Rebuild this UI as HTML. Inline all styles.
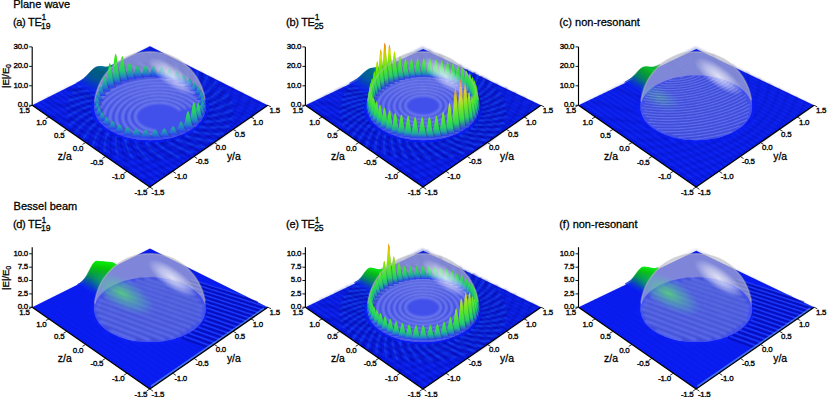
<!DOCTYPE html>
<html><head><meta charset="utf-8"><style>html,body{margin:0;padding:0;background:#fff;}svg{display:block;font-family:"Liberation Sans",sans-serif}text{stroke:#000;stroke-width:.28px}.t{font-size:7.9px;letter-spacing:-0.25px;stroke-width:.34px}.ax{font-size:10.4px}.ti{font-size:11px}</style></head>
<body><svg width="827" height="397" viewBox="0 0 827 397">
<defs><filter id="bl" x="-5%" y="-5%" width="110%" height="110%"><feGaussianBlur stdDeviation="0.7"/></filter><filter id="bl2" x="-5%" y="-5%" width="110%" height="110%"><feGaussianBlur stdDeviation="1.1"/></filter><path id="spa" d="M150.9,-25.3 152,-26.6 153.1,-27.8 154.2,-29.1 155.2,-30.4 156.1,-31.7 157.1,-32.9 157.9,-34.2 158.8,-35.5 159.6,-36.8 M143.1,-27.9 143.9,-29.3 144.6,-30.6 145.2,-31.9 145.8,-33.3 146.4,-34.6 147,-36 147.4,-37.3 147.9,-38.6 148.3,-39.9 148.7,-41.3 149,-42.6 M134.8,-29.8 135.1,-31.2 135.4,-32.6 135.7,-33.9 135.9,-35.3 136.1,-36.7 136.3,-38 136.4,-39.4 136.4,-40.7 136.5,-42.1 136.5,-43.4 136.4,-44.7 136.3,-46 136.2,-47.3 136.1,-48.6 M126.1,-30.9 126,-32.3 125.9,-33.7 125.8,-35.1 125.6,-36.5 125.4,-37.8 125.2,-39.2 124.9,-40.5 124.6,-41.8 124.3,-43.1 123.9,-44.5 123.5,-45.8 123,-47 122.5,-48.3 122,-49.6 121.5,-50.9 120.9,-52.1 120.3,-53.3 119.6,-54.6 118.9,-55.8 118.2,-57 117.5,-58.2 M117.2,-31.3 116.7,-32.6 116.2,-34 115.7,-35.3 115.2,-36.7 114.6,-38 114,-39.3 113.3,-40.6 112.6,-41.9 111.9,-43.2 111.2,-44.4 110.4,-45.7 109.6,-46.9 108.7,-48.1 107.9,-49.4 107,-50.5 106,-51.7 M108.3,-30.8 107.5,-32.1 106.6,-33.4 105.7,-34.7 104.8,-36 103.8,-37.3 102.8,-38.5 101.8,-39.7 100.8,-40.9 99.7,-42.1 98.6,-43.3 97.5,-44.5 96.3,-45.6 95.1,-46.8 M99.6,-29.6 98.4,-30.8 97.2,-32 95.9,-33.2 94.6,-34.4 93.3,-35.6 92,-36.7 90.6,-37.8 89.2,-39 87.8,-40.1 86.4,-41.1 84.9,-42.2 M91.3,-27.6 89.8,-28.7 88.2,-29.8 86.6,-30.9 85,-31.9 83.3,-33 81.7,-34 80,-35 78.3,-36 76.5,-36.9 M83.6,-24.9 81.7,-25.8 79.8,-26.8 77.9,-27.7 76,-28.6 74,-29.5 72.1,-30.4 70.1,-31.2 68.1,-32 66,-32.9 M76.7,-21.5 74.5,-22.2 72.3,-23 70.1,-23.8 67.9,-24.5 65.7,-25.2 63.5,-25.9 61.2,-26.6 58.9,-27.2 56.6,-27.8 M70.6,-17.4 68.2,-18 65.8,-18.6 63.4,-19.1 61,-19.6 58.5,-20.1 56,-20.6 53.5,-21.1 51,-21.5 48.5,-21.9 46,-22.3 M65.8,-12.8 63.2,-13.2 60.5,-13.5 57.9,-13.8 55.3,-14.1 52.7,-14.4 50,-14.7 47.3,-14.9 44.7,-15.1 42,-15.3 39.3,-15.4 36.6,-15.6 33.9,-15.7 M62.1,-7.8 59.4,-7.9 56.7,-8 53.9,-8.1 51.1,-8.1 48.4,-8.1 45.6,-8.1 42.8,-8.1 40,-8.1 37.2,-8 34.4,-7.9 31.6,-7.8 28.8,-7.6 26,-7.5 23.1,-7.3 20.3,-7.1 17.4,-6.8 14.6,-6.6 M59.9,-2.4 57.1,-2.3 54.3,-2.1 51.5,-1.9 48.7,-1.7 45.8,-1.4 43,-1.2 40.2,-.9 37.3,-.5 34.5,-.2 31.7,.2 28.8,.6 25.9,1 23.1,1.4 20.2,1.9 17.3,2.4 14.5,2.9 11.6,3.4 8.7,4 M59.2,3.2 56.4,3.6 53.6,4.1 50.8,4.5 48,5 45.2,5.5 42.4,6.1 39.6,6.7 36.8,7.3 34,7.9 31.2,8.5 28.3,9.2 25.5,9.9 22.7,10.7 19.9,11.4 M60.2,8.8 57.4,9.5 54.7,10.3 52,11 49.3,11.8 46.6,12.6 43.9,13.4 41.2,14.3 38.5,15.2 35.8,16.1 33.1,17 30.4,18 27.7,19 M62.7,14.4 60.2,15.4 57.7,16.4 55.1,17.4 52.6,18.4 50.1,19.5 47.5,20.6 45,21.8 42.5,22.9 40,24.1 37.6,25.3 M67,19.7 64.7,20.9 62.4,22.2 60.1,23.5 57.8,24.8 55.6,26.1 53.4,27.5 51.1,28.9 48.9,30.3 46.7,31.7 M72.7,24.5 70.8,26 68.8,27.5 66.9,29 65,30.5 63.1,32.1 61.2,33.7 59.4,35.3 57.6,37 55.8,38.7 M79.9,28.8 78.4,30.4 76.9,32.1 75.4,33.8 73.9,35.5 72.4,37.3 71,39.1 69.6,40.9 68.3,42.8 66.9,44.6 M88.4,32.2 87.3,34 86.3,35.9 85.2,37.7 84.3,39.6 83.3,41.5 82.4,43.4 81.5,45.4 80.7,47.4 79.9,49.4 79.1,51.4 78.4,53.5 M97.8,34.8 97.3,36.7 96.7,38.6 96.3,40.5 95.8,42.5 95.4,44.5 95.1,46.5 94.7,48.5 94.5,50.6 94.2,52.7 94.1,54.8 93.9,56.9 93.8,59.1 93.8,61.2 93.8,63.4 M107.9,36.3 107.9,38.3 107.9,40.2 108,42.2 108.1,44.2 108.3,46.2 108.5,48.2 108.8,50.3 109.1,52.3 109.5,54.4 109.9,56.5 110.4,58.6 110.9,60.8 111.5,62.9 112.1,65.1 112.8,67.3 113.5,69.5 114.3,71.7 115.1,73.9 116.1,76.2 117,78.4 118,80.7 M118.4,36.8 118.9,38.7 119.5,40.6 120.1,42.6 120.8,44.5 121.5,46.5 122.3,48.5 123.2,50.4 124.1,52.4 125,54.4 126,56.5 127.1,58.5 128.2,60.5 129.4,62.6 130.6,64.7 131.9,66.7 133.3,68.8 M128.8,36.2 129.8,38 131,39.8 132.1,41.7 133.4,43.5 134.6,45.4 136,47.2 137.4,49.1 138.8,51 140.3,52.8 141.9,54.7 143.5,56.6 145.1,58.5 146.9,60.3 M138.8,34.5 140.4,36.2 142,37.9 143.7,39.5 145.4,41.2 147.1,42.9 149,44.6 150.8,46.3 152.8,47.9 154.7,49.6 156.8,51.3 158.9,52.9 M148.2,31.8 150.1,33.3 152.2,34.8 154.3,36.3 156.4,37.7 158.6,39.2 160.8,40.6 163.1,42.1 165.4,43.5 167.8,44.9 M156.5,28.3 158.8,29.5 161.2,30.7 163.6,32 166.1,33.2 168.6,34.4 171.2,35.6 173.8,36.7 176.4,37.9 179.1,39 M163.5,23.9 166.1,24.9 168.8,25.9 171.5,26.8 174.2,27.8 176.9,28.7 179.7,29.6 182.5,30.5 185.4,31.3 188.3,32.1 M169.1,19 171.9,19.7 174.7,20.4 177.6,21.1 180.4,21.7 183.3,22.3 186.2,22.9 189.2,23.5 192.1,24 195.1,24.5 198.1,25 M173.1,13.7 176,14.1 178.9,14.5 181.8,14.8 184.7,15.2 187.7,15.5 190.6,15.8 193.6,16.1 196.5,16.3 199.5,16.5 202.5,16.7 205.5,16.9 208.5,17 M175.5,8.1 178.4,8.2 181.3,8.3 184.2,8.4 187,8.4 189.9,8.5 192.8,8.5 195.7,8.4 198.6,8.4 201.5,8.3 204.4,8.2 207.2,8.1 210.1,7.9 213,7.8 215.8,7.6 218.7,7.3 221.5,7.1 224.4,6.8 M176.2,2.4 179,2.3 181.8,2.1 184.6,1.9 187.4,1.7 190.1,1.4 192.9,1.2 195.6,.9 198.4,.5 201.1,.2 203.8,-.2 206.5,-.6 209.2,-1 211.8,-1.4 214.5,-1.9 217.1,-2.4 219.7,-2.9 222.3,-3.4 224.8,-3.9 M175.4,-3.1 178,-3.5 180.6,-4 183.2,-4.4 185.8,-4.9 188.4,-5.4 190.9,-5.9 193.5,-6.5 196,-7 198.5,-7.6 200.9,-8.2 203.4,-8.8 205.8,-9.5 208.2,-10.2 210.6,-10.8 M173,-8.5 175.4,-9.1 177.8,-9.8 180.2,-10.5 182.5,-11.2 184.8,-11.9 187.1,-12.6 189.4,-13.4 191.6,-14.2 193.8,-14.9 196,-15.8 198.2,-16.6 200.3,-17.4 M169.2,-13.5 171.3,-14.3 173.4,-15.2 175.5,-16.1 177.6,-17 179.6,-17.9 181.6,-18.8 183.6,-19.7 185.5,-20.7 187.4,-21.6 189.2,-22.6 M164.1,-18 166,-19 167.8,-20.1 169.5,-21.1 171.3,-22.1 173,-23.2 174.6,-24.3 176.2,-25.4 177.8,-26.5 179.4,-27.6 M158,-22 159.5,-23.1 160.9,-24.3 162.4,-25.5 163.7,-26.6 165.1,-27.8 166.4,-29 167.6,-30.2 168.8,-31.4 170,-32.6"/><path id="sqa" d="M154.7,-24.1 155.4,-26.4 155.8,-28.8 155.9,-31.1 155.7,-33.5 155.3,-35.9 154.6,-38.3 M147.1,-27.1 147.1,-29.4 146.9,-31.8 146.3,-34.1 145.5,-36.4 144.4,-38.7 143,-41 M138.9,-29.4 138.3,-31.6 137.3,-33.9 136.1,-36.2 134.7,-38.4 133,-40.6 131,-42.7 M130.3,-30.9 129,-33 127.4,-35.2 125.6,-37.3 123.5,-39.4 121.2,-41.4 118.7,-43.3 M121.3,-31.6 119.4,-33.6 117.3,-35.6 114.9,-37.5 112.3,-39.4 109.4,-41.1 106.4,-42.8 M112.3,-31.5 109.9,-33.3 107.2,-35.1 104.3,-36.8 101.2,-38.4 97.8,-39.9 94.3,-41.3 M103.4,-30.6 100.5,-32.2 97.3,-33.7 93.9,-35.2 90.3,-36.5 86.6,-37.7 82.6,-38.8 M94.8,-28.9 91.4,-30.3 87.8,-31.5 84,-32.6 80.1,-33.6 76,-34.5 71.7,-35.2 M86.7,-26.5 82.9,-27.5 79,-28.4 74.9,-29.2 70.6,-29.8 66.2,-30.3 61.6,-30.7 M79.3,-23.4 75.2,-24.1 71,-24.6 66.6,-25 62.1,-25.2 57.5,-25.3 52.8,-25.3 M72.8,-19.6 68.4,-19.9 64,-20 59.5,-20 54.8,-19.8 50.1,-19.5 45.4,-19 M67.3,-15.2 62.8,-15.1 58.3,-14.8 53.7,-14.4 49,-13.8 44.3,-13 39.6,-12.1 M63,-10.3 58.5,-9.8 54,-9.1 49.4,-8.2 44.9,-7.1 40.3,-5.9 35.7,-4.5 M60.1,-5 55.7,-4 51.3,-2.9 46.9,-1.6 42.6,-.1 38.2,1.6 34,3.4 M58.6,.6 54.5,2 50.3,3.5 46.3,5.3 42.3,7.2 38.3,9.3 34.5,11.6 M58.8,6.3 55,8.1 51.2,10.1 47.6,12.2 44.1,14.6 40.7,17.1 37.4,19.8 M60.6,12 57.3,14.2 54,16.5 51,19.1 48,21.7 45.3,24.6 42.8,27.6 M64.1,17.5 61.4,20 58.8,22.7 56.4,25.5 54.2,28.5 52.2,31.7 50.5,35 M69.3,22.7 67.2,25.4 65.3,28.4 63.7,31.5 62.4,34.7 61.3,38 60.6,41.5 M75.9,27.2 74.6,30.2 73.6,33.4 72.9,36.6 72.4,39.9 72.3,43.4 72.6,46.9 M83.9,31.1 83.5,34.2 83.4,37.5 83.5,40.7 84.1,44.1 85,47.6 86.2,51.1 M93,34.2 93.5,37.3 94.3,40.5 95.4,43.7 96.9,47 98.8,50.3 101.1,53.7 M103,36.2 104.3,39.3 106,42.3 108.1,45.4 110.5,48.5 113.3,51.6 116.5,54.6 M113.5,37.2 115.7,40.1 118.2,42.9 121.1,45.8 124.4,48.5 128,51.3 132,53.9 M124.1,37.1 127.1,39.7 130.4,42.2 134,44.7 138,47.1 142.3,49.4 147,51.6 M134.5,35.9 138.1,38.1 142.1,40.3 146.4,42.3 150.9,44.2 155.7,46 160.9,47.7 M144.3,33.6 148.5,35.4 152.9,37.1 157.7,38.7 162.6,40.1 167.8,41.3 173.2,42.4 M153.2,30.4 157.8,31.8 162.6,33 167.6,34 172.7,34.8 178.1,35.5 183.5,36 M161,26.3 165.8,27.2 170.7,27.9 175.8,28.4 181,28.7 186.3,28.8 191.7,28.8 M167.3,21.6 172.2,22 177.2,22.2 182.2,22.2 187.3,21.9 192.3,21.5 197.4,20.9 M172.2,16.4 176.9,16.3 181.7,16 186.5,15.5 191.3,14.8 196,13.9 200.7,12.8 M175.3,10.8 179.9,10.2 184.4,9.5 188.8,8.5 193.2,7.4 197.5,6.1 201.6,4.6 M176.8,5.1 181,4.1 185.1,2.9 189.1,1.6 193,.1 196.7,-1.6 200.2,-3.4 M176.7,-.6 180.4,-2 184,-3.5 187.5,-5.2 190.7,-7 193.8,-8.9 196.6,-11 M174.9,-6.1 178.2,-7.8 181.2,-9.6 184,-11.6 186.6,-13.6 189,-15.8 191.1,-18.1 M171.7,-11.4 174.4,-13.3 176.8,-15.3 178.9,-17.5 180.9,-19.7 182.5,-22 183.9,-24.4 M167.2,-16.2 169.2,-18.3 170.9,-20.5 172.4,-22.8 173.6,-25.1 174.6,-27.5 175.3,-30 M161.4,-20.4 162.8,-22.7 163.9,-25 164.7,-27.3 165.2,-29.7 165.4,-32.2 165.4,-34.6"/><path id="sra" d="M151,-25.7 151.3,-28 151.4,-30.4 151.2,-32.7 150.7,-35.1 149.9,-37.5 148.9,-39.8 M143.1,-28.3 142.8,-30.6 142.2,-32.9 141.3,-35.2 140.1,-37.5 138.7,-39.8 137,-42 M134.6,-30.2 133.7,-32.4 132.4,-34.7 130.9,-36.8 129.1,-39 127.1,-41.1 124.8,-43.1 M125.8,-31.3 124.2,-33.4 122.4,-35.5 120.3,-37.5 117.9,-39.5 115.3,-41.4 112.5,-43.2 M116.8,-31.6 114.6,-33.6 112.2,-35.5 109.6,-37.3 106.7,-39 103.6,-40.7 100.3,-42.2 M107.8,-31.1 105.1,-32.9 102.2,-34.5 99.1,-36.1 95.7,-37.6 92.1,-38.9 88.4,-40.2 M99.1,-29.9 95.9,-31.4 92.5,-32.7 88.9,-34 85.1,-35.2 81.2,-36.2 77,-37.1 M90.7,-27.8 87.1,-29 83.3,-30.1 79.4,-31 75.2,-31.8 70.9,-32.5 66.5,-33.1 M82.9,-25 79,-25.9 74.9,-26.6 70.6,-27.2 66.2,-27.6 61.7,-27.9 57.1,-28.1 M75.9,-21.6 71.7,-22 67.3,-22.4 62.9,-22.6 58.3,-22.6 53.6,-22.5 48.9,-22.2 M69.9,-17.5 65.5,-17.5 61,-17.5 56.4,-17.3 51.7,-16.9 47,-16.3 42.3,-15.6 M65,-12.8 60.5,-12.5 55.9,-12 51.4,-11.3 46.7,-10.5 42.1,-9.5 37.4,-8.3 M61.3,-7.7 56.9,-6.9 52.4,-6 48,-4.9 43.5,-3.7 39,-2.2 34.6,-.6 M59.2,-2.2 54.9,-1 50.6,.3 46.3,1.8 42.1,3.5 38,5.4 33.9,7.5 M58.5,3.4 54.5,5 50.5,6.8 46.7,8.8 42.9,10.9 39.2,13.2 35.7,15.7 M59.5,9.2 55.9,11.2 52.4,13.3 49,15.7 45.8,18.2 42.7,20.9 39.8,23.7 M62.2,14.8 59.1,17.1 56.2,19.7 53.4,22.4 50.8,25.2 48.5,28.2 46.4,31.4 M66.5,20.1 64.1,22.8 61.8,25.6 59.8,28.6 58,31.7 56.5,35 55.3,38.4 M72.4,25 70.7,27.9 69.3,31 68.1,34.1 67.2,37.4 66.6,40.8 66.3,44.4 M79.8,29.3 78.9,32.4 78.3,35.5 78,38.8 78.1,42.2 78.5,45.6 79.2,49.2 M88.4,32.8 88.4,35.9 88.7,39.1 89.4,42.4 90.4,45.7 91.8,49.1 93.5,52.6 M97.9,35.3 98.8,38.4 100.1,41.6 101.7,44.7 103.7,47.9 106,51.2 108.7,54.4 M108.2,36.8 110,39.8 112.1,42.8 114.6,45.8 117.5,48.7 120.7,51.6 124.3,54.5 M118.8,37.3 121.4,40 124.3,42.7 127.6,45.4 131.3,48 135.3,50.5 139.6,52.9 M129.3,36.6 132.7,39 136.3,41.4 140.3,43.7 144.6,45.8 149.2,47.9 154.1,49.8 M139.5,34.9 143.4,36.9 147.6,38.8 152.2,40.6 156.9,42.3 162,43.8 167.2,45.2 M148.9,32.1 153.3,33.7 157.9,35.2 162.8,36.5 167.9,37.6 173.2,38.6 178.6,39.3 M157.3,28.5 162,29.6 166.9,30.5 171.9,31.3 177.1,31.9 182.5,32.3 187.9,32.5 M164.4,24.1 169.2,24.7 174.2,25.1 179.3,25.3 184.4,25.4 189.6,25.3 194.8,24.9 M170,19.1 174.8,19.2 179.7,19.1 184.6,18.8 189.6,18.4 194.5,17.7 199.4,16.9 M174,13.6 178.6,13.3 183.3,12.7 187.9,12 192.5,11.1 197,10 201.4,8.7 M176.3,8 180.7,7.2 185,6.2 189.2,5.1 193.4,3.7 197.3,2.2 201.2,.6 M176.9,2.2 180.9,1.1 184.8,-.3 188.5,-1.8 192.1,-3.5 195.5,-5.3 198.7,-7.3 M176,-3.4 179.5,-4.9 182.8,-6.6 186,-8.4 188.9,-10.4 191.6,-12.4 194.1,-14.6 M173.5,-8.8 176.4,-10.6 179.2,-12.5 181.7,-14.6 183.9,-16.7 186,-19 187.7,-21.3 M169.6,-13.8 171.9,-15.9 174,-18 175.8,-20.2 177.4,-22.5 178.7,-24.9 179.8,-27.3 M164.4,-18.4 166.1,-20.6 167.5,-22.8 168.7,-25.2 169.6,-27.5 170.2,-30 170.5,-32.4 M158.2,-22.4 159.2,-24.6 159.9,-27 160.4,-29.4 160.6,-31.8 160.5,-34.2 160.1,-36.6"/><path id="spb" d="M153.4,-24.3 154.6,-25.5 155.8,-26.7 157,-28 158.1,-29.2 159.2,-30.5 160.2,-31.7 161.3,-33 162.2,-34.3 163.1,-35.5 M147.7,-26.5 148.6,-27.8 149.5,-29.1 150.4,-30.4 151.3,-31.7 152.1,-33 152.8,-34.3 153.5,-35.6 154.2,-37 154.8,-38.3 155.4,-39.6 M141.6,-28.3 142.3,-29.7 142.9,-31 143.5,-32.4 144,-33.7 144.5,-35.1 145,-36.4 145.4,-37.8 145.8,-39.1 146.1,-40.4 146.4,-41.7 146.7,-43.1 M135.2,-29.7 135.6,-31.1 135.9,-32.5 136.2,-33.9 136.4,-35.2 136.6,-36.6 136.8,-38 136.9,-39.3 137,-40.6 137.1,-42 137.1,-43.3 137.1,-44.6 137,-46 136.9,-47.3 136.8,-48.6 M128.6,-30.7 128.7,-32.1 128.7,-33.5 128.7,-34.8 128.6,-36.2 128.6,-37.6 128.4,-38.9 128.3,-40.3 128.1,-41.6 127.8,-42.9 127.6,-44.3 127.3,-45.6 126.9,-46.9 126.5,-48.2 126.1,-49.4 125.7,-50.7 125.2,-52 124.7,-53.2 124.1,-54.5 123.6,-55.7 M121.9,-31.2 121.7,-32.6 121.4,-34 121.1,-35.3 120.7,-36.7 120.3,-38 119.9,-39.4 119.5,-40.7 119,-42 118.5,-43.3 117.9,-44.6 117.3,-45.9 116.7,-47.1 116.1,-48.4 115.4,-49.6 114.7,-50.9 113.9,-52.1 113.1,-53.3 112.3,-54.5 M115.1,-31.2 114.6,-32.6 114,-33.9 113.4,-35.3 112.8,-36.6 112.1,-37.9 111.4,-39.2 110.7,-40.5 109.9,-41.8 109.1,-43 108.3,-44.3 107.4,-45.5 106.5,-46.7 105.6,-47.9 104.6,-49.1 103.7,-50.3 M108.4,-30.8 107.6,-32.2 106.7,-33.5 105.8,-34.7 104.9,-36 103.9,-37.3 103,-38.5 101.9,-39.7 100.9,-41 99.8,-42.2 98.7,-43.3 97.6,-44.5 96.5,-45.7 95.3,-46.8 M101.8,-30 100.6,-31.2 99.5,-32.5 98.3,-33.7 97.1,-34.9 95.9,-36.1 94.7,-37.3 93.4,-38.4 92.1,-39.5 90.8,-40.7 89.4,-41.8 88,-42.9 M95.3,-28.7 93.9,-29.8 92.5,-31 91.1,-32.1 89.6,-33.3 88.2,-34.4 86.7,-35.4 85.1,-36.5 83.6,-37.6 82,-38.6 80.4,-39.6 M89.2,-26.9 87.5,-28 85.9,-29.1 84.2,-30.1 82.5,-31.1 80.8,-32.1 79,-33.1 77.2,-34.1 75.4,-35 73.6,-35.9 M83.4,-24.8 81.5,-25.7 79.6,-26.7 77.7,-27.6 75.8,-28.5 73.8,-29.4 71.8,-30.2 69.8,-31.1 67.8,-31.9 65.8,-32.7 M78.1,-22.2 76,-23.1 73.8,-23.9 71.7,-24.7 69.5,-25.4 67.4,-26.2 65.2,-26.9 63,-27.6 60.8,-28.3 58.5,-29 M73.2,-19.3 70.9,-20 68.6,-20.7 66.3,-21.3 63.9,-21.9 61.6,-22.5 59.2,-23.1 56.8,-23.6 54.4,-24.2 52,-24.7 M69,-16.1 66.5,-16.6 64.1,-17.1 61.6,-17.6 59.1,-18 56.5,-18.4 54,-18.9 51.5,-19.2 48.9,-19.6 46.3,-20 43.7,-20.3 M65.5,-12.5 62.8,-12.8 60.2,-13.2 57.6,-13.5 55,-13.7 52.3,-14 49.6,-14.2 47,-14.4 44.3,-14.6 41.6,-14.8 38.9,-14.9 36.2,-15.1 33.5,-15.2 30.7,-15.2 M62.7,-8.7 59.9,-8.8 57.2,-9 54.5,-9.1 51.7,-9.2 49,-9.2 46.2,-9.3 43.5,-9.3 40.7,-9.3 37.9,-9.3 35.1,-9.2 32.3,-9.2 29.5,-9.1 26.7,-8.9 23.9,-8.8 21,-8.6 18.2,-8.4 M60.6,-4.7 57.9,-4.6 55.1,-4.6 52.3,-4.5 49.5,-4.4 46.7,-4.2 43.9,-4.1 41,-3.9 38.2,-3.7 35.4,-3.5 32.5,-3.2 29.7,-2.9 26.8,-2.6 24,-2.3 21.1,-1.9 18.2,-1.6 15.4,-1.2 12.5,-.7 9.6,-.3 6.7,.2 3.8,.7 M59.5,-.5 56.7,-.2 53.9,0 51.1,.3 48.2,.6 45.4,1 42.6,1.4 39.7,1.7 36.9,2.2 34.1,2.6 31.2,3.1 28.4,3.6 25.5,4.1 22.6,4.6 19.8,5.2 16.9,5.8 14,6.4 11.2,7 M59.3,3.8 56.5,4.3 53.7,4.7 50.9,5.2 48.1,5.8 45.3,6.3 42.5,6.9 39.7,7.5 36.9,8.1 34.1,8.8 31.2,9.5 28.4,10.2 25.6,10.9 22.8,11.7 20,12.5 M60,8.1 57.2,8.8 54.5,9.5 51.8,10.2 49,10.9 46.3,11.7 43.6,12.5 40.9,13.3 38.1,14.1 35.4,15 32.7,15.9 30,16.8 27.3,17.8 M61.6,12.4 59,13.2 56.4,14.1 53.7,15.1 51.1,16 48.5,17 45.9,18 43.3,19 40.8,20.1 38.2,21.2 35.6,22.3 M64.2,16.5 61.7,17.6 59.3,18.7 56.8,19.8 54.4,21 52,22.1 49.6,23.3 47.1,24.6 44.7,25.9 42.4,27.2 M67.7,20.4 65.5,21.7 63.2,23 61,24.3 58.8,25.7 56.6,27 54.4,28.4 52.2,29.9 50.1,31.3 47.9,32.8 M72.1,24.1 70.1,25.6 68.2,27 66.2,28.5 64.3,30 62.3,31.6 60.4,33.2 58.6,34.8 56.7,36.4 54.8,38.1 M77.4,27.4 75.7,29 74,30.7 72.4,32.3 70.8,34 69.2,35.7 67.6,37.4 66,39.2 64.5,41 63,42.8 M83.4,30.3 82.1,32.1 80.7,33.8 79.4,35.6 78.2,37.4 76.9,39.2 75.7,41.1 74.5,43 73.4,44.9 72.3,46.8 71.2,48.8 M90.1,32.8 89.1,34.6 88.2,36.5 87.2,38.3 86.4,40.2 85.5,42.2 84.7,44.1 83.9,46.1 83.2,48.1 82.5,50.1 81.8,52.2 81.2,54.3 M97.3,34.7 96.7,36.6 96.2,38.5 95.7,40.4 95.2,42.4 94.8,44.4 94.4,46.4 94,48.4 93.7,50.5 93.5,52.6 93.3,54.7 93.1,56.8 93,58.9 92.9,61.1 92.9,63.3 M104.9,36 104.8,37.9 104.6,39.9 104.5,41.8 104.5,43.8 104.5,45.8 104.5,47.9 104.6,49.9 104.8,52 105,54.1 105.2,56.2 105.5,58.3 105.9,60.5 106.3,62.6 106.7,64.8 107.2,67 107.8,69.2 108.4,71.5 109,73.7 109.7,76 M112.8,36.7 113,38.6 113.3,40.6 113.7,42.5 114.1,44.5 114.5,46.5 115,48.5 115.5,50.5 116.1,52.6 116.8,54.6 117.5,56.7 118.2,58.8 119,60.9 119.9,63 120.8,65.1 121.8,67.3 122.8,69.4 123.9,71.6 125,73.8 M120.8,36.8 121.4,38.6 122.1,40.6 122.9,42.5 123.7,44.4 124.6,46.3 125.5,48.3 126.5,50.3 127.5,52.2 128.6,54.2 129.7,56.2 130.9,58.2 132.1,60.2 133.5,62.3 134.8,64.3 136.2,66.3 M128.7,36.2 129.7,38 130.8,39.9 132,41.7 133.2,43.5 134.5,45.4 135.8,47.2 137.2,49.1 138.6,51 140.1,52.8 141.7,54.7 143.3,56.6 145,58.5 146.7,60.4 M136.4,35 137.8,36.7 139.3,38.5 140.8,40.2 142.4,41.9 144.1,43.6 145.8,45.4 147.5,47.1 149.4,48.8 151.2,50.6 153.1,52.3 155.1,54 M143.7,33.3 145.5,34.8 147.3,36.4 149.2,38 151.1,39.6 153.1,41.2 155.2,42.7 157.2,44.3 159.4,45.8 161.6,47.4 163.8,48.9 M150.5,30.9 152.6,32.4 154.7,33.8 156.9,35.2 159.1,36.6 161.4,38 163.8,39.4 166.1,40.7 168.6,42.1 171,43.5 M156.7,28.1 159,29.4 161.4,30.6 163.9,31.8 166.4,33 168.9,34.2 171.4,35.4 174.1,36.6 176.7,37.7 179.4,38.8 M162.1,24.9 164.7,25.9 167.3,27 169.9,28 172.6,29 175.3,29.9 178.1,30.9 180.9,31.8 183.7,32.8 186.5,33.7 M166.8,21.3 169.5,22.1 172.2,22.9 175,23.7 177.8,24.5 180.7,25.3 183.6,26 186.5,26.7 189.4,27.4 192.3,28 M170.5,17.4 173.4,18 176.2,18.6 179.1,19.2 182,19.7 184.9,20.2 187.8,20.7 190.8,21.2 193.7,21.7 196.7,22.1 199.7,22.5 M173.3,13.3 176.2,13.7 179.1,14.1 182,14.4 185,14.7 187.9,15 190.8,15.3 193.8,15.5 196.8,15.8 199.7,15.9 202.7,16.1 205.7,16.3 208.7,16.4 211.7,16.5 M175.2,9.1 178.1,9.2 181,9.4 183.9,9.5 186.8,9.6 189.7,9.7 192.6,9.7 195.5,9.7 198.4,9.7 201.3,9.7 204.2,9.7 207.1,9.6 210,9.5 212.9,9.4 215.8,9.2 218.7,9 221.6,8.8 M176.1,4.8 179,4.7 181.8,4.7 184.6,4.6 187.5,4.5 190.3,4.3 193.1,4.2 195.9,4 198.7,3.7 201.5,3.5 204.3,3.3 207.1,3 209.9,2.7 212.6,2.3 215.3,2 218.1,1.6 220.8,1.2 223.5,.7 226.1,.3 228.8,-.2 231.4,-.7 M176.1,.5 178.9,.2 181.6,0 184.3,-.3 187,-.6 189.7,-1 192.4,-1.3 195.1,-1.7 197.8,-2.1 200.4,-2.6 203.1,-3 205.7,-3.5 208.3,-4 210.8,-4.5 213.4,-5.1 215.9,-5.6 218.4,-6.2 220.9,-6.8 M175.2,-3.7 177.8,-4.2 180.4,-4.6 183,-5.1 185.5,-5.6 188.1,-6.1 190.6,-6.7 193.1,-7.2 195.6,-7.8 198.1,-8.4 200.5,-9.1 202.9,-9.7 205.3,-10.4 207.7,-11.1 210,-11.8 M173.4,-7.8 175.8,-8.4 178.2,-9.1 180.7,-9.7 183,-10.4 185.4,-11.1 187.7,-11.8 190,-12.5 192.3,-13.3 194.6,-14 196.8,-14.8 199,-15.6 201.1,-16.4 M170.7,-11.7 173,-12.4 175.2,-13.2 177.4,-14 179.6,-14.9 181.7,-15.7 183.8,-16.6 185.9,-17.4 188,-18.3 190,-19.2 192,-20.2 M167.3,-15.3 169.4,-16.2 171.4,-17.1 173.4,-18.1 175.3,-19.1 177.2,-20 179.1,-21 180.9,-22 182.7,-23 184.4,-24 M163.3,-18.6 165.1,-19.7 166.8,-20.7 168.5,-21.8 170.2,-22.9 171.9,-23.9 173.5,-25 175,-26.1 176.6,-27.3 178.1,-28.4 M158.6,-21.6 160.1,-22.8 161.6,-23.9 163.1,-25.1 164.5,-26.3 165.8,-27.4 167.2,-28.6 168.5,-29.8 169.7,-31 170.9,-32.2"/><path id="sqb" d="M156.2,-23.4 157,-25.7 157.5,-28 157.8,-30.4 157.8,-32.8 157.5,-35.2 156.9,-37.6 M150.6,-25.8 150.9,-28.2 151,-30.5 150.7,-32.9 150.2,-35.2 149.4,-37.6 148.3,-39.9 M144.7,-27.9 144.5,-30.2 144,-32.5 143.2,-34.8 142.2,-37.1 140.9,-39.4 139.3,-41.7 M138.3,-29.5 137.6,-31.8 136.7,-34 135.4,-36.3 133.9,-38.5 132.2,-40.6 130.1,-42.8 M131.8,-30.7 130.6,-32.9 129.1,-35 127.4,-37.2 125.5,-39.3 123.2,-41.3 120.8,-43.3 M125,-31.4 123.4,-33.5 121.5,-35.5 119.3,-37.5 116.9,-39.5 114.3,-41.4 111.4,-43.1 M118.2,-31.6 116.1,-33.6 113.8,-35.5 111.2,-37.4 108.4,-39.1 105.4,-40.8 102.1,-42.4 M111.3,-31.4 108.8,-33.3 106.1,-35 103.1,-36.7 100,-38.2 96.6,-39.7 93,-41.1 M104.6,-30.8 101.7,-32.4 98.6,-34 95.3,-35.4 91.7,-36.8 88,-38 84.1,-39.2 M98,-29.6 94.7,-31.1 91.3,-32.4 87.6,-33.7 83.8,-34.8 79.8,-35.8 75.6,-36.7 M91.6,-28.1 88,-29.3 84.3,-30.4 80.4,-31.4 76.3,-32.2 72,-33 67.6,-33.6 M85.6,-26.1 81.7,-27.1 77.7,-27.9 73.6,-28.6 69.3,-29.2 64.8,-29.6 60.2,-29.9 M80,-23.7 75.9,-24.4 71.7,-25 67.3,-25.4 62.8,-25.7 58.2,-25.8 53.5,-25.8 M74.8,-20.9 70.6,-21.3 66.2,-21.6 61.7,-21.7 57.1,-21.7 52.4,-21.5 47.6,-21.2 M70.3,-17.8 65.9,-17.9 61.4,-17.9 56.8,-17.7 52.2,-17.3 47.4,-16.8 42.7,-16.1 M66.4,-14.3 61.9,-14.1 57.4,-13.8 52.8,-13.2 48.1,-12.6 43.4,-11.7 38.7,-10.7 M63.2,-10.5 58.7,-10 54.2,-9.4 49.6,-8.5 45,-7.5 40.5,-6.3 35.9,-4.9 M60.8,-6.6 56.3,-5.7 51.9,-4.7 47.5,-3.5 43,-2.2 38.6,-.6 34.3,1.1 M59.2,-2.4 54.9,-1.2 50.6,.1 46.4,1.6 42.2,3.3 38,5.2 33.9,7.3 M58.5,1.9 54.4,3.4 50.4,5 46.4,6.9 42.5,8.9 38.7,11.1 35,13.5 M58.8,6.3 55,8 51.2,10 47.6,12.1 44,14.5 40.6,17 37.4,19.7 M60,10.6 56.5,12.7 53.1,14.9 49.9,17.4 46.8,20 43.9,22.7 41.2,25.7 M62.2,14.8 59.1,17.2 56.2,19.7 53.5,22.4 50.9,25.3 48.6,28.3 46.4,31.5 M65.4,18.9 62.8,21.5 60.3,24.3 58.2,27.2 56.2,30.3 54.5,33.5 53,36.8 M69.4,22.8 67.4,25.6 65.5,28.5 64,31.6 62.6,34.8 61.6,38.2 60.9,41.7 M74.4,26.3 72.9,29.3 71.7,32.4 70.8,35.6 70.2,38.9 69.9,42.4 69.9,45.9 M80.2,29.5 79.3,32.5 78.8,35.7 78.6,39 78.7,42.4 79.1,45.8 79.9,49.4 M86.6,32.2 86.5,35.3 86.6,38.5 87.1,41.8 87.9,45.2 89.1,48.6 90.7,52 M93.7,34.3 94.2,37.5 95.1,40.7 96.3,43.9 97.8,47.2 99.8,50.5 102.1,53.8 M101.3,35.9 102.4,39 104,42.1 105.9,45.2 108.2,48.4 110.8,51.5 113.8,54.6 M109.1,36.9 111,39.9 113.2,42.8 115.8,45.8 118.7,48.7 122,51.6 125.7,54.4 M117.2,37.3 119.7,40.1 122.5,42.8 125.7,45.5 129.2,48.2 133.1,50.8 137.3,53.3 M125.2,37 128.3,39.6 131.7,42.1 135.4,44.5 139.5,46.8 143.8,49.1 148.5,51.2 M133.1,36.1 136.7,38.4 140.6,40.6 144.8,42.7 149.3,44.7 154.1,46.5 159.1,48.2 M140.8,34.6 144.8,36.6 149,38.4 153.6,40.2 158.4,41.8 163.5,43.2 168.8,44.5 M147.9,32.5 152.3,34.1 156.9,35.6 161.7,37 166.8,38.2 172,39.2 177.4,40 M154.5,29.8 159.1,31.1 163.9,32.3 168.9,33.2 174.1,34 179.4,34.6 184.9,35 M160.3,26.7 165.1,27.7 170.1,28.4 175.2,28.9 180.4,29.3 185.7,29.5 191,29.5 M165.4,23.3 170.3,23.8 175.2,24.1 180.3,24.3 185.4,24.2 190.6,24 195.8,23.6 M169.6,19.4 174.5,19.6 179.4,19.5 184.3,19.3 189.3,18.9 194.2,18.3 199.1,17.5 M172.9,15.4 177.6,15.1 182.4,14.7 187.1,14.2 191.8,13.4 196.5,12.4 201.1,11.3 M175.2,11.1 179.8,10.6 184.3,9.8 188.8,8.9 193.2,7.8 197.4,6.5 201.6,5 M176.6,6.8 180.9,5.9 185.1,4.8 189.2,3.6 193.3,2.2 197.1,.6 200.8,-1.1 M177,2.4 181,1.2 184.8,-.1 188.6,-1.6 192.2,-3.3 195.6,-5.1 198.8,-7 M176.4,-1.9 180,-3.3 183.5,-4.9 186.8,-6.7 189.9,-8.5 192.8,-10.5 195.5,-12.7 M175,-6.1 178.2,-7.7 181.2,-9.6 184.1,-11.5 186.7,-13.5 189.1,-15.7 191.2,-18 M172.7,-10.1 175.4,-12 178,-13.9 180.4,-16 182.5,-18.2 184.3,-20.5 185.9,-22.9 M169.6,-13.9 171.9,-15.9 174,-18 175.8,-20.2 177.4,-22.5 178.7,-24.9 179.7,-27.4 M165.7,-17.4 167.6,-19.5 169.1,-21.8 170.4,-24.1 171.5,-26.4 172.2,-28.9 172.7,-31.3 M161.3,-20.6 162.6,-22.8 163.6,-25.1 164.4,-27.5 164.9,-29.9 165.2,-32.3 165.1,-34.8"/><path id="srb" d="M153.5,-24.7 154,-27 154.3,-29.3 154.3,-31.7 154,-34.1 153.5,-36.5 152.7,-38.9 M147.7,-26.9 147.7,-29.2 147.5,-31.6 147,-33.9 146.2,-36.2 145.2,-38.6 143.9,-40.9 M141.5,-28.7 141.1,-31 140.4,-33.3 139.4,-35.6 138.1,-37.9 136.6,-40.1 134.8,-42.3 M135.1,-30.1 134.1,-32.4 132.9,-34.6 131.4,-36.8 129.7,-38.9 127.7,-41 125.5,-43.1 M128.4,-31.1 127,-33.2 125.3,-35.4 123.4,-37.4 121.2,-39.4 118.8,-41.4 116.1,-43.3 M121.6,-31.6 119.7,-33.6 117.6,-35.6 115.3,-37.5 112.6,-39.4 109.8,-41.2 106.7,-42.9 M114.7,-31.6 112.5,-33.5 109.9,-35.3 107.1,-37.1 104.2,-38.8 100.9,-40.3 97.5,-41.8 M107.9,-31.2 105.2,-32.9 102.3,-34.5 99.2,-36.1 95.8,-37.6 92.3,-38.9 88.5,-40.2 M101.2,-30.3 98.2,-31.8 94.9,-33.3 91.4,-34.6 87.7,-35.8 83.9,-37 79.8,-38 M94.7,-28.9 91.3,-30.3 87.7,-31.5 84,-32.6 80,-33.6 75.9,-34.4 71.6,-35.2 M88.5,-27.1 84.8,-28.2 81,-29.2 76.9,-30.1 72.7,-30.8 68.4,-31.4 63.9,-31.8 M82.7,-24.9 78.7,-25.8 74.6,-26.5 70.4,-27.1 66,-27.5 61.4,-27.8 56.8,-27.9 M77.3,-22.3 73.2,-22.9 68.8,-23.3 64.4,-23.6 59.9,-23.7 55.2,-23.7 50.5,-23.5 M72.5,-19.4 68.1,-19.7 63.7,-19.8 59.2,-19.8 54.5,-19.6 49.8,-19.2 45,-18.7 M68.2,-16.1 63.8,-16 59.3,-15.9 54.7,-15.5 50,-15 45.3,-14.3 40.6,-13.4 M64.7,-12.5 60.2,-12.1 55.7,-11.6 51.1,-10.9 46.5,-10.1 41.8,-9 37.2,-7.8 M61.9,-8.6 57.4,-7.9 52.9,-7.1 48.4,-6.1 43.9,-4.9 39.4,-3.5 34.9,-1.9 M59.9,-4.5 55.5,-3.5 51.1,-2.3 46.8,-1 42.5,.5 38.2,2.3 33.9,4.2 M58.8,-.3 54.5,1.1 50.4,2.6 46.2,4.2 42.2,6.1 38.2,8.1 34.3,10.4 M58.5,4.1 54.6,5.7 50.7,7.5 46.8,9.5 43.1,11.7 39.5,14 36,16.6 M59.3,8.4 55.6,10.4 52,12.5 48.6,14.8 45.3,17.2 42.1,19.9 39.1,22.7 M61,12.7 57.7,15 54.5,17.3 51.5,19.9 48.7,22.6 46.1,25.6 43.6,28.6 M63.7,16.9 60.8,19.4 58.1,22 55.7,24.8 53.4,27.8 51.4,30.9 49.6,34.2 M67.3,20.9 64.9,23.6 62.8,26.5 60.9,29.5 59.3,32.6 57.9,35.9 56.8,39.3 M71.8,24.6 70,27.5 68.5,30.5 67.3,33.7 66.3,36.9 65.6,40.4 65.2,43.9 M77.2,28 76,31 75.1,34.1 74.6,37.4 74.3,40.7 74.4,44.2 74.8,47.7 M83.3,30.9 82.8,34 82.6,37.2 82.7,40.5 83.2,43.9 84,47.3 85.2,50.8 M90.1,33.3 90.3,36.5 90.8,39.7 91.6,42.9 92.8,46.3 94.4,49.6 96.3,53 M97.4,35.2 98.3,38.3 99.5,41.5 101,44.7 103,47.9 105.3,51.1 107.9,54.3 M105.2,36.5 106.7,39.5 108.6,42.6 110.8,45.6 113.4,48.6 116.4,51.6 119.8,54.6 M113.1,37.2 115.3,40.1 117.8,42.9 120.7,45.8 124,48.6 127.6,51.3 131.5,54 M121.2,37.2 124,39.9 127.1,42.5 130.6,45.1 134.4,47.6 138.5,50 143,52.4 M129.2,36.6 132.5,39.1 136.2,41.4 140.2,43.7 144.4,45.9 149,47.9 153.9,49.8 M137,35.4 140.8,37.6 144.9,39.6 149.3,41.5 153.9,43.3 158.9,45 164.1,46.5 M144.4,33.6 148.6,35.4 153,37.1 157.8,38.6 162.7,40 167.9,41.3 173.3,42.3 M151.3,31.2 155.8,32.7 160.5,34 165.4,35.2 170.6,36.1 175.9,37 181.3,37.6 M157.5,28.3 162.2,29.4 167.1,30.4 172.2,31.1 177.4,31.7 182.7,32.1 188.1,32.3 M163,25 167.8,25.8 172.8,26.3 177.9,26.7 183,26.8 188.3,26.8 193.6,26.6 M167.6,21.4 172.5,21.7 177.4,21.9 182.5,21.8 187.5,21.6 192.6,21.2 197.6,20.6 M171.4,17.4 176.2,17.4 181,17.2 185.9,16.8 190.7,16.2 195.5,15.4 200.3,14.4 M174.2,13.3 178.8,12.9 183.5,12.3 188.1,11.5 192.7,10.6 197.1,9.5 201.5,8.1 M176,9 180.5,8.2 184.8,7.3 189.2,6.2 193.4,5 197.4,3.6 201.4,2 M176.9,4.6 181,3.6 185.1,2.4 189.1,1 192.9,-.5 196.5,-2.2 199.9,-4.1 M176.8,.3 180.6,-1.1 184.3,-2.5 187.8,-4.2 191.2,-5.9 194.3,-7.8 197.3,-9.9 M175.8,-4 179.2,-5.6 182.5,-7.3 185.6,-9.1 188.4,-11.1 191.1,-13.2 193.5,-15.4 M173.9,-8.1 176.9,-9.9 179.7,-11.8 182.3,-13.8 184.7,-15.9 186.8,-18.2 188.7,-20.5 M171.2,-12 173.8,-14 176.1,-16 178.2,-18.2 180,-20.4 181.6,-22.8 182.9,-25.2 M167.7,-15.7 169.8,-17.8 171.6,-19.9 173.2,-22.2 174.5,-24.5 175.5,-27 176.3,-29.4 M163.6,-19 165.2,-21.2 166.5,-23.5 167.5,-25.8 168.3,-28.2 168.8,-30.6 169,-33.1 M158.8,-22 159.9,-24.3 160.7,-26.6 161.2,-29 161.4,-31.4 161.4,-33.8 161.1,-36.3"/><path id="spe" d="M152.6,-24.6 153.8,-25.8 155,-27.1 156.1,-28.3 157.2,-29.6 158.2,-30.9 159.2,-32.1 160.2,-33.4 161.1,-34.7 162,-35.9 M146.8,-26.8 147.8,-28.1 148.6,-29.4 149.5,-30.7 150.3,-32 151,-33.3 151.7,-34.7 152.4,-36 153.1,-37.3 153.7,-38.6 154.2,-39.9 M140.7,-28.6 141.3,-29.9 141.9,-31.3 142.5,-32.6 143,-34 143.4,-35.3 143.9,-36.7 144.2,-38 144.6,-39.3 144.9,-40.7 145.1,-42 145.4,-43.3 145.6,-44.6 M134.3,-29.9 134.6,-31.3 134.9,-32.7 135.2,-34 135.4,-35.4 135.5,-36.8 135.7,-38.1 135.7,-39.5 135.8,-40.8 135.8,-42.2 135.8,-43.5 135.7,-44.8 135.6,-46.1 135.5,-47.4 135.3,-48.7 135.1,-50 M127.7,-30.8 127.7,-32.2 127.7,-33.6 127.6,-34.9 127.6,-36.3 127.4,-37.7 127.3,-39 127.1,-40.4 126.8,-41.7 126.5,-43 126.2,-44.3 125.9,-45.6 125.5,-46.9 125.1,-48.2 124.6,-49.5 124.1,-50.8 123.6,-52 123.1,-53.3 122.5,-54.5 121.9,-55.7 121.2,-57 M121,-31.2 120.7,-32.6 120.4,-34 120,-35.3 119.6,-36.7 119.2,-38 118.7,-39.4 118.3,-40.7 117.7,-42 117.2,-43.3 116.6,-44.6 116,-45.8 115.3,-47.1 114.6,-48.4 113.9,-49.6 113.1,-50.8 112.3,-52 111.5,-53.2 110.7,-54.4 M114.2,-31.2 113.6,-32.6 113,-33.9 112.4,-35.2 111.7,-36.6 111,-37.9 110.2,-39.1 109.5,-40.4 108.6,-41.7 107.8,-42.9 106.9,-44.2 106,-45.4 105.1,-46.6 104.2,-47.8 103.2,-49 102.1,-50.2 M107.5,-30.7 106.6,-32.1 105.7,-33.3 104.8,-34.6 103.8,-35.9 102.8,-37.1 101.8,-38.4 100.7,-39.6 99.7,-40.8 98.6,-42 97.4,-43.2 96.3,-44.3 95.1,-45.5 93.8,-46.6 M100.9,-29.8 99.7,-31.1 98.5,-32.3 97.3,-33.5 96.1,-34.7 94.8,-35.9 93.5,-37 92.2,-38.2 90.9,-39.3 89.5,-40.4 88.1,-41.5 86.7,-42.6 M94.5,-28.5 93,-29.6 91.6,-30.8 90.1,-31.9 88.6,-33 87.1,-34.1 85.6,-35.2 84,-36.2 82.4,-37.2 80.8,-38.3 79.2,-39.3 M88.4,-26.7 86.7,-27.7 85,-28.8 83.3,-29.8 81.5,-30.8 79.8,-31.8 78,-32.7 76.2,-33.7 74.3,-34.6 72.5,-35.5 M82.6,-24.5 80.7,-25.4 78.8,-26.3 76.8,-27.2 74.9,-28.1 72.9,-29 70.9,-29.8 68.8,-30.6 66.8,-31.4 64.7,-32.2 M77.3,-21.8 75.2,-22.7 73.1,-23.4 70.9,-24.2 68.7,-25 66.5,-25.7 64.3,-26.4 62.1,-27.1 59.8,-27.8 57.6,-28.4 M72.6,-18.9 70.3,-19.5 67.9,-20.2 65.6,-20.8 63.2,-21.4 60.8,-22 58.4,-22.5 56,-23.1 53.6,-23.6 51.2,-24.1 M68.5,-15.6 66,-16.1 63.5,-16.5 61,-17 58.4,-17.4 55.9,-17.8 53.3,-18.2 50.8,-18.6 48.2,-18.9 45.6,-19.3 43,-19.6 40.4,-19.9 M65,-12 62.4,-12.3 59.8,-12.6 57.1,-12.9 54.5,-13.1 51.8,-13.4 49.1,-13.6 46.4,-13.8 43.7,-13.9 41,-14.1 38.3,-14.2 35.6,-14.3 32.8,-14.3 30.1,-14.4 M62.3,-8.1 59.6,-8.3 56.9,-8.4 54.1,-8.5 51.4,-8.5 48.6,-8.6 45.8,-8.6 43.1,-8.6 40.3,-8.5 37.5,-8.5 34.7,-8.4 31.9,-8.3 29.1,-8.2 26.2,-8 23.4,-7.9 20.6,-7.7 17.7,-7.5 14.9,-7.2 M60.4,-4.1 57.6,-4 54.8,-3.9 52,-3.8 49.2,-3.7 46.4,-3.5 43.6,-3.3 40.8,-3.1 37.9,-2.9 35.1,-2.6 32.3,-2.3 29.4,-2 26.6,-1.7 23.7,-1.3 20.8,-1 18,-.6 15.1,-.1 12.2,.3 9.3,.8 6.4,1.3 3.5,1.8 M59.4,.1 56.6,.4 53.8,.7 51,1 48.1,1.4 45.3,1.7 42.5,2.1 39.7,2.5 36.8,3 34,3.5 31.1,3.9 28.3,4.5 25.4,5 22.6,5.6 19.7,6.2 16.9,6.8 14,7.5 M59.3,4.4 56.5,4.9 53.7,5.4 50.9,5.9 48.1,6.5 45.3,7.1 42.5,7.7 39.8,8.3 37,9 34.2,9.7 31.4,10.4 28.6,11.1 25.8,11.9 23,12.7 20.2,13.5 M60.1,8.7 57.4,9.4 54.7,10.1 52,10.9 49.3,11.6 46.5,12.4 43.8,13.2 41.1,14.1 38.4,15 35.7,15.9 33,16.8 30.3,17.8 27.6,18.8 M61.9,12.9 59.3,13.8 56.7,14.8 54.1,15.7 51.5,16.7 48.9,17.7 46.4,18.7 43.8,19.8 41.2,20.9 38.7,22 36.1,23.2 M64.6,17.1 62.2,18.2 59.8,19.3 57.3,20.4 54.9,21.6 52.5,22.8 50.2,24.1 47.8,25.3 45.4,26.6 43.1,28 M68.3,21 66.1,22.3 63.9,23.6 61.7,24.9 59.5,26.3 57.3,27.7 55.2,29.1 53,30.6 50.9,32.1 48.8,33.6 M72.8,24.6 70.9,26.1 68.9,27.5 67,29.1 65.1,30.6 63.2,32.2 61.4,33.8 59.5,35.4 57.7,37.1 55.9,38.8 M78.2,27.9 76.6,29.5 74.9,31.1 73.3,32.8 71.7,34.5 70.2,36.2 68.7,38 67.2,39.7 65.7,41.6 64.2,43.4 M84.3,30.7 83,32.5 81.7,34.2 80.5,36 79.3,37.8 78.1,39.7 76.9,41.6 75.8,43.5 74.7,45.4 73.6,47.3 72.6,49.3 M91.1,33.1 90.1,34.9 89.2,36.8 88.4,38.7 87.6,40.6 86.8,42.5 86,44.5 85.3,46.5 84.6,48.5 84,50.5 83.4,52.6 82.8,54.7 82.3,56.8 M98.4,34.9 97.8,36.8 97.3,38.7 96.9,40.7 96.5,42.6 96.1,44.6 95.8,46.6 95.5,48.7 95.2,50.7 95,52.8 94.9,54.9 94.8,57.1 94.7,59.2 94.7,61.4 94.8,63.6 94.8,65.8 M106,36.1 105.9,38 105.8,40 105.8,42 105.8,44 105.9,46 106,48 106.1,50.1 106.3,52.1 106.6,54.2 106.9,56.3 107.3,58.4 107.7,60.6 108.1,62.7 108.6,64.9 109.2,67.1 109.8,69.3 110.5,71.6 111.2,73.8 112,76.1 112.9,78.4 M113.9,36.7 114.2,38.7 114.6,40.6 115,42.6 115.4,44.5 115.9,46.5 116.4,48.5 117,50.6 117.7,52.6 118.4,54.6 119.2,56.7 120,58.8 120.8,60.9 121.8,63 122.8,65.1 123.8,67.2 124.9,69.4 126,71.5 127.2,73.7 M121.9,36.7 122.6,38.6 123.4,40.5 124.2,42.4 125,44.3 126,46.3 126.9,48.2 128,50.2 129.1,52.1 130.2,54.1 131.4,56.1 132.6,58.1 134,60.1 135.3,62.1 136.7,64.1 138.2,66.1 M129.8,36.1 130.9,37.9 132,39.7 133.3,41.5 134.5,43.4 135.9,45.2 137.2,47 138.7,48.9 140.2,50.7 141.7,52.6 143.3,54.4 145,56.3 146.7,58.2 148.5,60 M137.4,34.8 138.9,36.5 140.4,38.2 142,39.9 143.7,41.6 145.4,43.3 147.1,45 148.9,46.8 150.8,48.5 152.7,50.2 154.7,51.9 156.7,53.6 M144.7,33 146.5,34.5 148.4,36.1 150.3,37.7 152.3,39.2 154.3,40.8 156.4,42.3 158.5,43.8 160.7,45.4 163,46.9 165.3,48.4 M151.4,30.6 153.5,32 155.7,33.4 157.9,34.8 160.2,36.1 162.5,37.5 164.9,38.9 167.3,40.2 169.8,41.5 172.3,42.9 M157.5,27.7 159.9,28.9 162.3,30.1 164.8,31.3 167.3,32.5 169.8,33.7 172.4,34.8 175.1,35.9 177.7,37.1 180.5,38.2 M162.8,24.4 165.4,25.4 168,26.4 170.7,27.4 173.4,28.4 176.1,29.3 178.9,30.2 181.7,31.2 184.5,32 187.4,32.9 M167.3,20.8 170.1,21.6 172.9,22.4 175.7,23.1 178.5,23.9 181.3,24.6 184.2,25.3 187.1,25.9 190.1,26.6 193,27.2 M171,16.8 173.8,17.4 176.7,18 179.6,18.5 182.5,19 185.4,19.5 188.3,20 191.3,20.4 194.2,20.9 197.2,21.3 200.2,21.6 203.3,22 M173.7,12.7 176.5,13.1 179.4,13.4 182.4,13.7 185.3,14 188.2,14.3 191.2,14.5 194.1,14.7 197.1,14.9 200,15.1 203,15.2 206,15.3 209,15.4 211.9,15.5 M175.4,8.5 178.3,8.6 181.2,8.7 184.1,8.8 187,8.9 189.8,8.9 192.7,9 195.6,8.9 198.5,8.9 201.4,8.9 204.3,8.8 207.2,8.7 210.1,8.5 213,8.4 215.8,8.2 218.7,8 221.6,7.7 224.4,7.5 M176.2,4.2 179,4.1 181.8,4 184.7,3.9 187.5,3.7 190.3,3.6 193.1,3.4 195.9,3.2 198.7,2.9 201.5,2.7 204.2,2.4 207,2.1 209.7,1.7 212.4,1.4 215.2,1 217.9,.6 220.5,.1 223.2,-.3 225.9,-.8 228.5,-1.3 231.1,-1.8 M176,-.1 178.8,-.4 181.5,-.7 184.2,-1 186.9,-1.3 189.6,-1.7 192.3,-2.1 194.9,-2.5 197.6,-2.9 200.2,-3.4 202.8,-3.9 205.4,-4.4 207.9,-4.9 210.5,-5.5 213,-6 215.5,-6.6 218,-7.2 M175,-4.3 177.6,-4.8 180.1,-5.3 182.7,-5.8 185.3,-6.3 187.8,-6.8 190.3,-7.4 192.8,-8 195.2,-8.6 197.7,-9.2 200.1,-9.9 202.4,-10.6 204.8,-11.2 207.1,-12 209.4,-12.7 M173,-8.4 175.5,-9 177.9,-9.6 180.3,-10.3 182.6,-11 184.9,-11.7 187.2,-12.5 189.5,-13.2 191.8,-14 194,-14.8 196.2,-15.6 198.3,-16.4 200.5,-17.2 M170.3,-12.2 172.5,-13 174.7,-13.8 176.9,-14.6 179,-15.5 181.2,-16.3 183.2,-17.2 185.3,-18.1 187.3,-19 189.3,-19.9 191.2,-20.9 M166.8,-15.8 168.8,-16.7 170.8,-17.7 172.7,-18.6 174.6,-19.6 176.5,-20.6 178.3,-21.6 180.1,-22.6 181.9,-23.6 183.6,-24.7 M162.7,-19.1 164.4,-20.1 166.1,-21.2 167.8,-22.3 169.5,-23.4 171.1,-24.5 172.6,-25.6 174.2,-26.7 175.7,-27.8 177.1,-28.9 M157.9,-22 159.4,-23.2 160.8,-24.3 162.2,-25.5 163.6,-26.7 164.9,-27.9 166.2,-29.1 167.5,-30.3 168.7,-31.5 169.9,-32.7"/><path id="sqe" d="M155.5,-23.8 156.2,-26.1 156.7,-28.4 156.9,-30.8 156.8,-33.2 156.4,-35.6 155.8,-38 M149.8,-26.1 150.1,-28.5 150,-30.8 149.7,-33.2 149.1,-35.5 148.2,-37.9 147.1,-40.2 M143.8,-28.1 143.5,-30.4 143,-32.8 142.2,-35.1 141.1,-37.3 139.7,-39.6 138.1,-41.8 M137.4,-29.7 136.7,-31.9 135.6,-34.2 134.3,-36.4 132.8,-38.6 130.9,-40.8 128.8,-42.9 M130.8,-30.8 129.6,-33 128.1,-35.1 126.3,-37.3 124.3,-39.3 122,-41.3 119.5,-43.3 M124.1,-31.4 122.4,-33.5 120.4,-35.6 118.2,-37.6 115.7,-39.5 113,-41.3 110.1,-43.1 M117.2,-31.6 115.1,-33.6 112.7,-35.5 110.1,-37.3 107.2,-39 104.1,-40.7 100.8,-42.3 M110.4,-31.4 107.8,-33.2 105,-34.9 102,-36.5 98.8,-38.1 95.4,-39.5 91.7,-40.9 M103.6,-30.6 100.7,-32.3 97.5,-33.8 94.2,-35.2 90.6,-36.5 86.9,-37.8 82.9,-38.9 M97.1,-29.5 93.8,-30.9 90.3,-32.2 86.6,-33.4 82.7,-34.5 78.7,-35.4 74.5,-36.3 M90.7,-27.8 87.1,-29 83.4,-30.1 79.4,-31 75.3,-31.9 71,-32.5 66.6,-33.1 M84.8,-25.8 80.9,-26.7 76.9,-27.5 72.7,-28.2 68.3,-28.7 63.9,-29.1 59.3,-29.4 M79.2,-23.3 75.1,-24 70.9,-24.5 66.5,-24.9 62,-25.2 57.4,-25.2 52.7,-25.2 M74.2,-20.5 69.9,-20.9 65.5,-21.1 61,-21.2 56.4,-21.1 51.7,-20.9 46.9,-20.5 M69.7,-17.3 65.3,-17.4 60.8,-17.3 56.2,-17.1 51.5,-16.7 46.8,-16.1 42.1,-15.4 M65.9,-13.8 61.4,-13.6 56.9,-13.2 52.3,-12.6 47.6,-11.9 43,-11 38.3,-9.9 M62.8,-10 58.3,-9.5 53.8,-8.7 49.3,-7.8 44.7,-6.8 40.1,-5.5 35.6,-4.1 M60.5,-6 56.1,-5.1 51.7,-4.1 47.2,-2.8 42.8,-1.4 38.5,.2 34.1,1.9 M59.1,-1.8 54.8,-.6 50.5,.8 46.3,2.3 42.1,4.1 38,6 34,8.1 M58.5,2.5 54.4,4 50.4,5.7 46.5,7.6 42.6,9.7 38.9,11.9 35.2,14.3 M58.9,6.9 55.1,8.7 51.4,10.7 47.8,12.9 44.3,15.2 41,17.8 37.8,20.5 M60.3,11.2 56.8,13.3 53.5,15.6 50.3,18.1 47.3,20.7 44.5,23.5 41.8,26.5 M62.6,15.4 59.6,17.8 56.7,20.4 54,23.1 51.6,26 49.3,29 47.3,32.2 M65.9,19.5 63.3,22.1 61,24.9 58.9,27.8 57,30.9 55.4,34.2 54,37.5 M70.1,23.3 68.1,26.1 66.3,29.1 64.9,32.2 63.6,35.4 62.7,38.8 62.1,42.3 M75.1,26.8 73.8,29.8 72.7,32.9 71.8,36.1 71.3,39.4 71.1,42.9 71.2,46.4 M81,29.9 80.3,33 79.8,36.1 79.7,39.4 79.9,42.8 80.5,46.3 81.4,49.8 M87.6,32.5 87.5,35.6 87.8,38.8 88.3,42.1 89.3,45.5 90.6,48.9 92.3,52.3 M94.7,34.6 95.3,37.7 96.3,40.9 97.6,44.1 99.3,47.4 101.3,50.7 103.7,54 M102.3,36.1 103.6,39.2 105.3,42.3 107.3,45.4 109.6,48.5 112.4,51.5 115.5,54.6 M110.2,37 112.2,40 114.5,42.9 117.1,45.8 120.2,48.7 123.6,51.5 127.3,54.3 M118.3,37.3 120.9,40 123.8,42.8 127,45.4 130.6,48.1 134.6,50.6 138.9,53 M126.3,36.9 129.5,39.4 132.9,41.9 136.7,44.3 140.9,46.6 145.3,48.8 150.1,50.8 M134.2,35.9 137.9,38.2 141.8,40.3 146,42.4 150.6,44.3 155.4,46.1 160.5,47.8 M141.8,34.3 145.8,36.3 150.2,38.1 154.8,39.8 159.6,41.3 164.7,42.7 170.1,43.9 M148.9,32.1 153.2,33.7 157.9,35.2 162.8,36.5 167.8,37.6 173.1,38.6 178.6,39.4 M155.3,29.4 160,30.7 164.8,31.7 169.8,32.6 175,33.4 180.4,33.9 185.8,34.2 M161.1,26.3 165.9,27.1 170.8,27.8 175.9,28.3 181.1,28.6 186.4,28.7 191.8,28.7 M166,22.7 170.9,23.2 175.9,23.5 180.9,23.6 186,23.5 191.2,23.2 196.3,22.7 M170.1,18.9 175,19 179.8,18.9 184.8,18.6 189.7,18.1 194.6,17.5 199.5,16.6 M173.3,14.8 178,14.5 182.7,14.1 187.4,13.4 192.1,12.6 196.7,11.6 201.2,10.4 M175.5,10.5 180,9.9 184.5,9.1 188.9,8.2 193.2,7 197.5,5.7 201.6,4.2 M176.7,6.2 181,5.2 185.1,4.1 189.2,2.9 193.2,1.4 197,-.2 200.6,-1.9 M176.9,1.8 180.9,.6 184.7,-.8 188.4,-2.3 191.9,-4 195.3,-5.8 198.4,-7.8 M176.3,-2.5 179.8,-3.9 183.3,-5.6 186.5,-7.3 189.6,-9.2 192.4,-11.3 195,-13.4 M174.7,-6.6 177.9,-8.3 180.8,-10.2 183.6,-12.1 186.1,-14.2 188.5,-16.4 190.5,-18.7 M172.3,-10.6 175,-12.5 177.5,-14.5 179.8,-16.6 181.8,-18.9 183.6,-21.2 185.1,-23.5 M169.1,-14.4 171.3,-16.4 173.3,-18.6 175.1,-20.8 176.6,-23.1 177.8,-25.5 178.8,-27.9 M165.2,-17.8 166.9,-20 168.4,-22.3 169.6,-24.6 170.6,-26.9 171.3,-29.4 171.7,-31.8 M160.6,-21 161.8,-23.2 162.8,-25.5 163.5,-27.9 164,-30.3 164.1,-32.7 164,-35.2"/><path id="sre" d="M152.7,-25 153.2,-27.3 153.4,-29.7 153.3,-32 153,-34.4 152.4,-36.8 151.5,-39.2 M146.9,-27.2 146.8,-29.5 146.5,-31.8 146,-34.2 145.1,-36.5 144,-38.8 142.6,-41.1 M140.7,-29 140.1,-31.3 139.3,-33.5 138.3,-35.8 136.9,-38 135.3,-40.3 133.5,-42.4 M134.2,-30.3 133.2,-32.5 131.9,-34.7 130.3,-36.9 128.5,-39 126.5,-41.1 124.2,-43.2 M127.5,-31.2 126,-33.3 124.2,-35.4 122.3,-37.5 120,-39.5 117.5,-41.4 114.8,-43.3 M120.6,-31.6 118.7,-33.6 116.5,-35.6 114.1,-37.5 111.5,-39.3 108.6,-41.1 105.5,-42.8 M113.8,-31.6 111.4,-33.4 108.9,-35.3 106,-37 103,-38.6 99.7,-40.2 96.2,-41.6 M107,-31.1 104.2,-32.8 101.3,-34.4 98.1,-35.9 94.7,-37.4 91.1,-38.7 87.3,-39.9 M100.3,-30.1 97.2,-31.6 93.9,-33 90.4,-34.4 86.6,-35.6 82.7,-36.7 78.6,-37.6 M93.9,-28.7 90.4,-30 86.8,-31.2 83,-32.3 79,-33.2 74.8,-34 70.5,-34.7 M87.7,-26.9 84,-27.9 80,-28.9 76,-29.7 71.7,-30.4 67.4,-30.9 62.8,-31.3 M81.9,-24.6 77.9,-25.4 73.8,-26.1 69.5,-26.6 65.1,-27 60.5,-27.3 55.9,-27.3 M76.6,-22 72.4,-22.5 68.1,-22.9 63.6,-23.1 59.1,-23.2 54.4,-23.1 49.7,-22.9 M71.8,-18.9 67.5,-19.2 63,-19.3 58.5,-19.2 53.9,-18.9 49.1,-18.5 44.4,-18 M67.7,-15.6 63.2,-15.5 58.7,-15.3 54.1,-14.9 49.5,-14.3 44.8,-13.6 40,-12.7 M64.2,-11.9 59.8,-11.5 55.2,-11 50.6,-10.3 46,-9.4 41.4,-8.3 36.8,-7 M61.5,-8 57.1,-7.3 52.6,-6.4 48.1,-5.4 43.6,-4.1 39.2,-2.7 34.7,-1.1 M59.7,-3.9 55.3,-2.9 51,-1.7 46.6,-.3 42.3,1.3 38.1,3.1 33.9,5 M58.7,.3 54.5,1.7 50.3,3.2 46.2,5 42.2,6.9 38.3,9 34.4,11.2 M58.6,4.7 54.6,6.4 50.8,8.2 47,10.2 43.3,12.5 39.8,14.9 36.3,17.4 M59.5,9 55.8,11 52.3,13.2 48.9,15.5 45.7,18 42.6,20.7 39.7,23.5 M61.3,13.3 58.1,15.6 55,18 52,20.6 49.3,23.4 46.7,26.3 44.4,29.4 M64.1,17.5 61.3,20 58.7,22.7 56.3,25.5 54.1,28.5 52.2,31.6 50.5,34.9 M67.9,21.4 65.6,24.2 63.5,27 61.7,30.1 60.2,33.2 58.9,36.6 57.9,40 M72.5,25.1 70.8,28 69.4,31 68.2,34.2 67.3,37.5 66.8,40.9 66.5,44.5 M78,28.4 76.9,31.4 76.1,34.6 75.7,37.8 75.5,41.2 75.7,44.7 76.2,48.2 M84.2,31.3 83.8,34.4 83.7,37.6 83.9,40.9 84.5,44.2 85.4,47.7 86.7,51.2 M91.1,33.6 91.4,36.8 92,40 92.9,43.2 94.2,46.5 95.9,49.9 97.9,53.3 M98.5,35.4 99.4,38.5 100.7,41.7 102.4,44.8 104.4,48 106.8,51.2 109.6,54.4 M106.3,36.6 107.9,39.6 109.8,42.7 112.2,45.7 114.9,48.7 118,51.7 121.4,54.6 M114.3,37.2 116.5,40.1 119.1,42.9 122.1,45.7 125.4,48.5 129.1,51.2 133.1,53.8 M122.3,37.2 125.2,39.8 128.4,42.4 131.9,45 135.8,47.4 140,49.8 144.6,52.1 M130.3,36.5 133.7,38.9 137.4,41.2 141.5,43.4 145.8,45.5 150.4,47.5 155.4,49.4 M138,35.2 141.9,37.3 146.1,39.3 150.5,41.2 155.2,42.9 160.2,44.5 165.4,45.9 M145.4,33.3 149.6,35.1 154.1,36.7 158.9,38.2 163.9,39.5 169.1,40.7 174.5,41.7 M152.2,30.8 156.7,32.3 161.5,33.5 166.4,34.6 171.6,35.6 176.9,36.3 182.3,36.9 M158.3,27.9 163,29 168,29.8 173,30.5 178.2,31.1 183.5,31.4 189,31.5 M163.7,24.6 168.5,25.2 173.5,25.7 178.6,26 183.7,26.1 189,26 194.2,25.7 M168.2,20.8 173.1,21.1 178,21.2 183,21.1 188,20.9 193.1,20.4 198.1,19.7 M171.8,16.9 176.6,16.8 181.4,16.5 186.3,16 191.1,15.4 195.8,14.5 200.5,13.5 M174.5,12.7 179.1,12.2 183.7,11.6 188.3,10.8 192.8,9.8 197.3,8.6 201.6,7.3 M176.2,8.3 180.6,7.6 184.9,6.6 189.2,5.5 193.4,4.2 197.4,2.7 201.3,1.1 M176.9,4 181,2.9 185.1,1.7 189,.3 192.7,-1.3 196.3,-3 199.6,-4.9 M176.7,-.3 180.5,-1.7 184.1,-3.2 187.6,-4.9 190.9,-6.7 194,-8.6 196.8,-10.7 M175.6,-4.6 179,-6.2 182.2,-7.9 185.2,-9.8 188,-11.8 190.5,-13.9 192.9,-16.1 M173.6,-8.7 176.5,-10.5 179.3,-12.4 181.8,-14.4 184.1,-16.6 186.1,-18.8 187.9,-21.2 M170.8,-12.5 173.3,-14.5 175.5,-16.6 177.5,-18.8 179.3,-21 180.8,-23.4 182,-25.8 M167.2,-16.1 169.2,-18.3 171,-20.5 172.5,-22.7 173.7,-25.1 174.6,-27.5 175.3,-30 M162.9,-19.4 164.5,-21.7 165.7,-24 166.7,-26.3 167.4,-28.7 167.8,-31.1 167.9,-33.6 M158.1,-22.4 159.1,-24.7 159.8,-27 160.3,-29.4 160.4,-31.8 160.3,-34.2 159.9,-36.7"/><path id="eb1" d="M176.9,40.6 173.8,39.5 170.7,38.4 167.6,37.2 164.6,36.1 161.5,35 158.5,33.9 155.5,32.8 152.5,31.7 149.5,30.6 M181.6,37.4 178.5,36.2 175.5,35.1 172.4,34 169.3,32.9 166.3,31.8 163.3,30.7 160.3,29.7 157.3,28.6 154.3,27.5 M186.3,34.1 183.2,33 180.1,31.9 177.1,30.8 174,29.8 171,28.7 168,27.6 165,26.5 162,25.5 159,24.4 M190.9,31 187.8,29.9 184.7,28.8 181.7,27.7 178.7,26.6 175.6,25.6 172.6,24.5 169.6,23.5 166.7,22.4 163.7,21.4 M195.4,27.8 192.3,26.8 189.3,25.7 186.2,24.6 183.2,23.6 180.2,22.5 177.2,21.5 174.2,20.4 171.3,19.4 168.3,18.4 M199.9,24.7 196.8,23.7 193.8,22.6 190.7,21.6 187.7,20.5 184.7,19.5 181.7,18.5 178.8,17.5 175.8,16.4 172.9,15.4 169.9,14.4 M204.3,21.7 201.2,20.7 198.2,19.6 195.2,18.6 192.2,17.6 189.2,16.5 186.2,15.5 183.2,14.5 180.3,13.5 177.3,12.5 174.4,11.5 M208.6,18.7 205.6,17.7 202.5,16.6 199.5,15.6 196.5,14.6 193.6,13.6 190.6,12.6 187.6,11.6 184.7,10.6 181.8,9.6 178.9,8.6 176,7.7 173.1,6.7 M212.9,15.7 209.9,14.7 206.8,13.7 203.8,12.7 200.9,11.7 197.9,10.7 194.9,9.7 192,8.7 189.1,7.7 186.1,6.8 183.2,5.8 180.3,4.8 177.5,3.9 174.6,2.9 M217.1,12.8 214.1,11.8 211.1,10.8 208.1,9.8 205.1,8.8 202.2,7.8 199.2,6.9 196.3,5.9 193.4,4.9 190.5,4 187.6,3 184.7,2.1 181.8,1.1 179,.2 176.1,-.8 173.3,-1.7 M221.3,9.9 218.3,8.9 215.3,7.9 212.3,7 209.3,6 206.4,5 203.4,4.1 200.5,3.1 197.6,2.2 194.7,1.2 191.8,.3 189,-.7 186.1,-1.6 183.2,-2.6 180.4,-3.5 177.6,-4.4 174.8,-5.3 172,-6.2 M225.4,7.1 222.4,6.1 219.4,5.1 216.4,4.2 213.5,3.2 210.5,2.2 207.6,1.3 204.7,.3 201.8,-.6 198.9,-1.5 196,-2.5 193.2,-3.4 190.3,-4.3 187.5,-5.2 184.7,-6.2 181.8,-7.1 179.1,-8 176.3,-8.9 173.5,-9.8 170.7,-10.7 168,-11.6 M229.4,4.3 226.5,3.3 223.5,2.3 220.5,1.4 217.6,.4 214.7,-.5 211.7,-1.4 208.8,-2.4 205.9,-3.3 203.1,-4.2 200.2,-5.1 197.3,-6.1 194.5,-7 191.7,-7.9 188.9,-8.8 186,-9.7 183.3,-10.6 180.5,-11.5 177.7,-12.4 175,-13.3 172.2,-14.1 169.5,-15 166.8,-15.9 164.1,-16.8 M233.5,1.5 230.5,.5 227.5,-.4 224.6,-1.3 221.6,-2.3 218.7,-3.2 215.8,-4.1 212.9,-5.1 210,-6 207.1,-6.9 204.3,-7.8 201.4,-8.7 198.6,-9.6 195.8,-10.5 193,-11.4 190.2,-12.3 187.4,-13.2 184.6,-14.1 181.9,-14.9 179.1,-15.8 176.4,-16.7 173.7,-17.5 171,-18.4 168.3,-19.3 165.6,-20.1 162.9,-21 160.3,-21.8 157.6,-22.7 155,-23.5 152.3,-24.3 M225.6,-5 222.7,-5.9 219.8,-6.8 216.9,-7.7 214.1,-8.6 211.2,-9.5 208.3,-10.4 205.5,-11.3 202.7,-12.2 199.9,-13.1 197.1,-14 194.3,-14.8 191.5,-15.7 188.8,-16.6 186,-17.5 183.3,-18.3 180.5,-19.2 177.8,-20 175.1,-20.9 172.4,-21.7 169.8,-22.6 167.1,-23.4 164.4,-24.3 161.8,-25.1 159.2,-25.9 156.5,-26.8"/><path id="eb2" d="M179.3,39 176.2,37.9 173.1,36.7 170,35.6 167,34.5 163.9,33.4 160.9,32.3 157.9,31.2 154.9,30.1 151.9,29.1 M184,35.7 180.9,34.6 177.8,33.5 174.7,32.4 171.7,31.3 168.7,30.2 165.6,29.2 162.6,28.1 159.6,27 156.7,26 M188.6,32.5 185.5,31.4 182.4,30.4 179.4,29.3 176.3,28.2 173.3,27.1 170.3,26.1 167.3,25 164.3,23.9 161.4,22.9 M193.2,29.4 190.1,28.3 187,27.2 184,26.2 180.9,25.1 177.9,24 174.9,23 171.9,21.9 169,20.9 166,19.9 M197.6,26.3 194.6,25.2 191.5,24.2 188.5,23.1 185.5,22.1 182.5,21 179.5,20 176.5,18.9 173.5,17.9 170.6,16.9 M202.1,23.2 199,22.2 196,21.1 193,20.1 189.9,19 187,18 184,17 181,16 178,15 175.1,14 172.2,12.9 M206.4,20.2 203.4,19.1 200.4,18.1 197.4,17.1 194.4,16.1 191.4,15.1 188.4,14.1 185.4,13 182.5,12 179.6,11.1 176.6,10.1 173.7,9.1 M210.8,17.2 207.7,16.2 204.7,15.2 201.7,14.2 198.7,13.1 195.7,12.1 192.8,11.2 189.8,10.2 186.9,9.2 184,8.2 181.1,7.2 178.2,6.2 175.3,5.3 M215,14.3 212,13.2 209,12.2 206,11.3 203,10.3 200,9.3 197.1,8.3 194.1,7.3 191.2,6.3 188.3,5.4 185.4,4.4 182.5,3.4 179.6,2.5 176.8,1.5 173.9,.6 M219.2,11.4 216.2,10.4 213.2,9.4 210.2,8.4 207.2,7.4 204.3,6.4 201.3,5.5 198.4,4.5 195.5,3.5 192.6,2.6 189.7,1.6 186.8,.7 184,-.3 181.1,-1.2 178.3,-2.1 175.4,-3.1 172.6,-4 M223.3,8.5 220.3,7.5 217.4,6.5 214.4,5.6 211.4,4.6 208.5,3.6 205.5,2.7 202.6,1.7 199.7,.8 196.8,-.2 193.9,-1.1 191.1,-2 188.2,-3 185.4,-3.9 182.5,-4.8 179.7,-5.7 176.9,-6.7 174.1,-7.6 171.4,-8.5 M227.4,5.7 224.4,4.7 221.5,3.7 218.5,2.8 215.5,1.8 212.6,.9 209.7,-.1 206.8,-1 203.9,-2 201,-2.9 198.1,-3.8 195.3,-4.7 192.4,-5.7 189.6,-6.6 186.8,-7.5 184,-8.4 181.2,-9.3 178.4,-10.2 175.6,-11.1 172.9,-12 170.1,-12.9 167.4,-13.7 M231.5,2.9 228.5,1.9 225.5,1 222.6,0 219.6,-.9 216.7,-1.9 213.8,-2.8 210.9,-3.7 208,-4.6 205.1,-5.6 202.2,-6.5 199.4,-7.4 196.6,-8.3 193.7,-9.2 190.9,-10.1 188.1,-11 185.3,-11.9 182.6,-12.8 179.8,-13.7 177.1,-14.5 174.3,-15.4 171.6,-16.3 168.9,-17.2 166.2,-18 163.5,-18.9 160.8,-19.7 158.1,-20.6 155.5,-21.4 M235.4,.1 232.5,-.8 229.5,-1.8 226.6,-2.7 223.6,-3.6 220.7,-4.6 217.8,-5.5 214.9,-6.4 212,-7.3 209.2,-8.2 206.3,-9.1 203.5,-10 200.7,-10.9 197.8,-11.8 195,-12.7 192.2,-13.6 189.5,-14.5 186.7,-15.3 184,-16.2 181.2,-17.1 178.5,-17.9 175.8,-18.8 173.1,-19.7 170.4,-20.5 167.7,-21.4 165,-22.2 162.3,-23 159.7,-23.9 157.1,-24.7 154.4,-25.6 M213.2,-10.8 210.3,-11.7 207.5,-12.6 204.7,-13.5 201.9,-14.4 199.1,-15.2 196.3,-16.1 193.5,-17 190.8,-17.8 188,-18.7 185.3,-19.6 182.6,-20.4 179.9,-21.3 177.2,-22.1 174.5,-23 171.8,-23.8 169.2,-24.6 166.5,-25.5 163.9,-26.3 161.2,-27.1 158.6,-27.9"/><path id="yl2" d="M122.3,78.5 118.8,76.1 115.3,73.7 111.9,71.3 108.5,69 105.1,66.7 101.8,64.4 98.5,62.1 95.2,59.9 91.9,57.7 88.7,55.5 85.5,53.3 82.4,51.1 79.3,49 76.2,46.9 73.1,44.7 70.1,42.7 67,40.6 64.1,38.5 61.1,36.5 58.2,34.5 55.3,32.5 52.4,30.5 49.5,28.6 46.7,26.6 43.9,24.7 41.1,22.8 38.3,20.9 35.6,19 32.9,17.2 30.2,15.3 27.5,13.5 24.9,11.7 22.3,9.9 19.7,8.1 17.1,6.4 14.6,4.6 12,2.9 9.5,1.1 7,-.6 4.5,-2.3 M126.9,75.3 123.4,72.9 119.9,70.6 116.5,68.2 113.1,65.9 109.7,63.6 106.4,61.4 103.1,59.1 99.8,56.9 96.5,54.7 93.3,52.6 90.1,50.4 87,48.3 83.9,46.1 80.8,44.1 77.7,42 74.6,39.9 71.6,37.9 68.6,35.8 65.7,33.8 62.7,31.9 59.8,29.9 56.9,27.9 54.1,26 51.3,24.1 48.4,22.2 45.7,20.3 42.9,18.4 40.2,16.6 37.4,14.7 34.8,12.9 32.1,11.1 29.4,9.3 26.8,7.5 24.2,5.8 21.6,4 19.1,2.3 16.5,.6 14,-1.1 11.5,-2.8 9,-4.5 M131.4,72.1 127.9,69.8 124.5,67.5 121,65.2 117.6,62.9 114.3,60.6 110.9,58.4 107.6,56.2 104.3,54 101.1,51.8 97.9,49.7 94.7,47.6 91.5,45.5 88.4,43.4 85.3,41.3 82.2,39.2 79.2,37.2 76.2,35.2 73.2,33.2 70.2,31.2 67.3,29.2 64.4,27.3 61.5,25.4 58.6,23.4 55.8,21.5 53,19.7 50.2,17.8 47.4,16 44.7,14.1 41.9,12.3 39.2,10.5 36.6,8.7 33.9,6.9 31.3,5.2 28.7,3.4 26.1,1.7 23.5,0 21,-1.7 18.5,-3.4 16,-5.1 13.5,-6.7 M135.9,69 132.4,66.7 129,64.4 125.5,62.1 122.1,59.9 118.8,57.7 115.4,55.5 112.1,53.3 108.8,51.1 105.6,49 102.4,46.9 99.2,44.8 96,42.7 92.9,40.6 89.8,38.6 86.7,36.5 83.7,34.5 80.6,32.5 77.6,30.5 74.7,28.6 71.7,26.6 68.8,24.7 65.9,22.8 63.1,20.9 60.2,19 57.4,17.2 54.6,15.3 51.8,13.5 49.1,11.7 46.4,9.9 43.7,8.1 41,6.4 38.3,4.6 35.7,2.9 33.1,1.1 30.5,-.6 27.9,-2.3 25.4,-3.9 22.9,-5.6 20.4,-7.3 17.9,-8.9 M140.4,65.9 136.9,63.7 133.4,61.4 130,59.2 126.6,56.9 123.2,54.7 119.9,52.6 116.5,50.4 113.3,48.3 110,46.2 106.8,44.1 103.6,42 100.5,39.9 97.3,37.9 94.2,35.9 91.1,33.8 M61.8,14.7 59,12.9 56.2,11.1 53.5,9.3 50.8,7.5 48.1,5.8 45.4,4 42.7,2.3 40.1,.6 37.5,-1.1 34.9,-2.8 32.3,-4.5 29.8,-6.2 27.2,-7.8 24.7,-9.5 22.2,-11.1 M144.7,62.9 141.2,60.7 137.8,58.4 134.3,56.2 130.9,54 127.6,51.8 124.2,49.7 120.9,47.6 117.7,45.5 114.4,43.4 111.2,41.3 108,39.2 104.8,37.2 M57.8,6.9 55.1,5.2 52.4,3.4 49.7,1.7 47.1,0 44.4,-1.7 41.8,-3.4 39.2,-5.1 36.6,-6.7 34.1,-8.4 31.5,-10 29,-11.6 26.5,-13.2 M149.1,59.9 145.6,57.7 142.1,55.5 138.7,53.3 135.3,51.1 131.9,49 128.6,46.9 125.3,44.8 122,42.7 118.7,40.6 115.5,38.6 M56.7,1.1 54,-.6 51.4,-2.3 48.7,-3.9 46.1,-5.6 43.5,-7.3 40.9,-8.9 38.4,-10.5 35.8,-12.2 33.3,-13.8 30.8,-15.3 M153.3,57 149.8,54.8 146.4,52.6 143,50.4 139.6,48.3 136.2,46.2 132.9,44.1 129.5,42 126.3,39.9 123,37.9 M58.3,-2.8 55.6,-4.5 53,-6.2 50.3,-7.8 47.7,-9.5 45.1,-11.1 42.6,-12.7 40,-14.3 37.5,-15.9 35,-17.4 M157.6,54 154.1,51.9 150.6,49.7 147.2,47.6 143.8,45.5 140.4,43.4 137.1,41.3 133.8,39.2 130.5,37.2 M59.8,-6.7 57.1,-8.4 54.5,-10 51.9,-11.6 49.3,-13.2 46.8,-14.8 44.2,-16.4 41.7,-18 39.2,-19.5 M161.7,51.1 158.2,49 154.8,46.9 151.4,44.8 148,42.7 144.6,40.6 141.3,38.6 138,36.5 M61.3,-10.5 58.7,-12.2 56.1,-13.8 53.5,-15.3 50.9,-16.9 48.4,-18.5 45.8,-20 43.3,-21.6 M165.9,48.3 162.4,46.2 158.9,44.1 155.5,42 152.1,39.9 148.7,37.9 145.4,35.9 142.1,33.9 M65.4,-12.7 62.8,-14.3 60.2,-15.9 57.6,-17.4 55,-19 52.4,-20.6 49.9,-22.1 47.4,-23.6 M169.9,45.5 166.4,43.4 163,41.3 159.6,39.3 156.2,37.2 152.8,35.2 149.5,33.2 M66.8,-16.4 64.2,-18 61.6,-19.5 59,-21.1 56.5,-22.6 54,-24.1 51.4,-25.6 M173.9,42.7 170.5,40.6 167,38.6 163.6,36.5 160.2,34.5 156.8,32.5 153.5,30.6 M70.8,-18.5 68.2,-20 65.6,-21.6 63.1,-23.1 60.5,-24.6 58,-26.1 55.5,-27.6 M177.9,39.9 174.4,37.9 171,35.9 167.6,33.9 164.2,31.9 160.8,29.9 157.5,27.9 M74.8,-20.6 72.2,-22.1 69.6,-23.6 67,-25.1 64.5,-26.6 61.9,-28.1 59.4,-29.6 M181.8,37.2 178.4,35.2 174.9,33.2 171.5,31.2 168.1,29.3 164.8,27.3 161.4,25.4 M76.1,-24.1 73.5,-25.6 71,-27.1 68.4,-28.6 65.9,-30.1 63.3,-31.6 M185.7,34.5 182.2,32.5 178.8,30.6 175.4,28.6 172,26.7 168.7,24.7 165.3,22.8 M82.7,-24.6 80,-26.1 77.4,-27.6 74.9,-29.1 72.3,-30.6 69.7,-32 67.2,-33.5 M189.6,31.9 186.1,29.9 182.6,28 179.2,26 175.9,24.1 172.5,22.2 169.2,20.3 M86.5,-26.6 83.9,-28.1 81.3,-29.6 78.7,-31.1 76.1,-32.5 73.6,-34 71.1,-35.4 M193.3,29.3 189.9,27.3 186.4,25.4 183,23.5 179.7,21.6 176.3,19.7 173,17.8 M90.3,-28.6 87.7,-30.1 85.1,-31.6 82.5,-33 80,-34.5 77.4,-35.9 74.9,-37.3 M197.1,26.7 193.6,24.7 190.2,22.8 186.8,20.9 183.4,19.1 180.1,17.2 176.7,15.4 173.5,13.5 M96.8,-29.1 94.1,-30.6 91.5,-32.1 88.9,-33.5 86.3,-34.9 83.7,-36.4 81.2,-37.8 78.6,-39.2 M200.8,24.1 197.3,22.2 193.9,20.3 190.5,18.4 187.1,16.6 183.8,14.7 180.5,12.9 177.2,11.1 M100.5,-31.1 97.9,-32.5 95.2,-34 92.6,-35.4 90,-36.8 87.5,-38.3 84.9,-39.7 82.4,-41.1 M204.5,21.6 201,19.7 197.6,17.8 194.2,16 190.8,14.1 187.5,12.3 184.2,10.5 180.9,8.7 177.6,6.9 M106.9,-31.6 104.2,-33 101.6,-34.5 98.9,-35.9 96.3,-37.3 93.7,-38.7 91.2,-40.1 88.6,-41.5 86.1,-42.9 M208.1,19.1 204.6,17.2 201.2,15.4 197.8,13.5 194.4,11.7 191.1,9.9 187.8,8.1 184.5,6.4 181.3,4.6 178,2.9 M113.2,-32.1 110.5,-33.5 107.9,-34.9 105.2,-36.4 102.6,-37.8 100,-39.2 97.4,-40.6 94.8,-42 92.3,-43.4 89.7,-44.7 M211.6,16.6 208.2,14.7 204.8,12.9 201.4,11.1 198,9.3 194.7,7.5 191.4,5.8 188.1,4 184.9,2.3 181.6,.6 178.4,-1.1 M119.6,-32.5 116.9,-34 114.2,-35.4 111.5,-36.8 108.9,-38.3 106.2,-39.7 103.6,-41.1 101,-42.4 98.5,-43.8 95.9,-45.2 93.4,-46.5 M215.2,14.1 211.7,12.3 208.3,10.5 204.9,8.7 201.6,6.9 198.3,5.2 194.9,3.4 191.7,1.7 188.4,0 185.2,-1.7 182,-3.4 178.8,-5.1 175.7,-6.7 M128.7,-31.6 125.9,-33 123.2,-34.5 120.5,-35.9 117.8,-37.3 115.1,-38.7 112.5,-40.1 109.8,-41.5 107.2,-42.9 104.6,-44.3 102,-45.6 99.5,-47 97,-48.3 M218.7,11.7 215.2,9.9 211.8,8.1 208.5,6.4 205.1,4.6 201.8,2.9 198.5,1.1 195.2,-.6 192,-2.3 188.7,-3.9 185.5,-5.6 182.4,-7.3 179.2,-8.9 176.1,-10.5 173,-12.2 170,-13.8 M140.6,-29.1 137.8,-30.6 135,-32.1 132.2,-33.5 129.5,-34.9 126.7,-36.4 124,-37.8 121.3,-39.2 118.7,-40.6 116,-42 113.4,-43.4 110.8,-44.7 108.2,-46.1 105.6,-47.4 103.1,-48.8 100.5,-50.1 M222.1,9.3 218.7,7.5 215.3,5.8 211.9,4 208.6,2.3 205.2,.6 202,-1.1 198.7,-2.8 195.4,-4.5 192.2,-6.2 189,-7.8 185.9,-9.5 182.7,-11.1 179.6,-12.7 176.5,-14.3 173.5,-15.9 170.4,-17.5 167.4,-19 164.4,-20.6 161.5,-22.1 158.5,-23.6 155.6,-25.1 152.7,-26.7 149.8,-28.1 146.9,-29.6 144.1,-31.1 141.3,-32.5 138.5,-34 135.7,-35.4 133,-36.9 130.3,-38.3 127.5,-39.7 124.9,-41.1 122.2,-42.4 119.5,-43.8 116.9,-45.2 114.3,-46.5 111.7,-47.9 109.1,-49.2 106.6,-50.5 104,-51.8 M225.6,6.9 222.1,5.2 218.7,3.4 215.4,1.7 212,0 208.7,-1.7 205.4,-3.4 202.1,-5.1 198.9,-6.7 195.7,-8.4 192.5,-10 189.3,-11.6 186.2,-13.2 183.1,-14.8 180,-16.4 176.9,-18 173.9,-19.5 170.9,-21.1 167.9,-22.6 164.9,-24.1 162,-25.7 159.1,-27.2 156.2,-28.6 153.3,-30.1 150.4,-31.6 147.6,-33 144.8,-34.5 142,-35.9 139.2,-37.3 136.5,-38.7 133.7,-40.1 131,-41.5 128.3,-42.9 125.7,-44.3 123,-45.6 120.4,-47 117.8,-48.3 115.2,-49.6 112.6,-51 110.1,-52.3 107.5,-53.6 M228.9,4.6 225.5,2.9 222.1,1.1 218.8,-.6 215.4,-2.3 212.1,-3.9 208.8,-5.6 205.5,-7.3 202.3,-8.9 199.1,-10.5 195.9,-12.2 192.8,-13.8 189.6,-15.4 186.5,-16.9 183.4,-18.5 180.4,-20.1 177.3,-21.6 174.3,-23.1 171.3,-24.6 168.4,-26.2 165.4,-27.6 162.5,-29.1 159.6,-30.6 156.7,-32.1 153.9,-33.5 151.1,-35 148.2,-36.4 145.4,-37.8 142.7,-39.2 139.9,-40.6 137.2,-42 134.5,-43.4 131.8,-44.7 129.1,-46.1 126.5,-47.4 123.9,-48.8 121.2,-50.1 118.7,-51.4 116.1,-52.7 113.5,-54 111,-55.3 M232.3,2.3 228.9,.6 225.5,-1.1 222.1,-2.8 218.8,-4.5 215.5,-6.2 212.2,-7.8 208.9,-9.5 205.7,-11.1 202.5,-12.7 199.3,-14.3 196.2,-15.9 193,-17.5 189.9,-19 186.8,-20.6 183.8,-22.1 180.7,-23.6 177.7,-25.2 174.7,-26.7 171.8,-28.1 168.8,-29.6 165.9,-31.1 163,-32.6 160.2,-34 157.3,-35.4 154.5,-36.9 151.7,-38.3 148.9,-39.7 146.1,-41.1 143.4,-42.4 140.6,-43.8 137.9,-45.2 135.2,-46.5 132.6,-47.9 129.9,-49.2 127.3,-50.5 124.7,-51.8 122.1,-53.2 119.5,-54.4 116.9,-55.7 114.4,-57"/><path id="yl" d="M119.9,80.1 116.4,77.7 113,75.3 109.5,72.9 106.1,70.6 102.8,68.2 99.4,65.9 96.1,63.6 92.9,61.4 89.6,59.1 86.4,56.9 83.2,54.7 80.1,52.6 76.9,50.4 73.8,48.3 70.8,46.1 67.7,44 64.7,42 61.7,39.9 58.8,37.9 55.9,35.8 53,33.8 50.1,31.9 47.2,29.9 44.4,27.9 41.6,26 38.8,24.1 36,22.2 33.3,20.3 30.6,18.4 27.9,16.6 25.3,14.7 22.6,12.9 20,11.1 17.4,9.3 14.8,7.5 12.3,5.8 9.7,4 7.2,2.3 4.7,.6 2.3,-1.1 M124.6,76.9 121.1,74.5 117.6,72.1 114.2,69.8 110.8,67.5 107.4,65.2 104.1,62.9 100.8,60.6 97.5,58.4 94.2,56.2 91,54 87.8,51.8 84.7,49.7 81.6,47.6 78.5,45.4 75.4,43.4 72.4,41.3 69.3,39.2 66.4,37.2 63.4,35.2 60.5,33.2 57.6,31.2 54.7,29.2 51.8,27.3 49,25.4 46.2,23.4 43.4,21.5 40.6,19.7 37.9,17.8 35.2,16 32.5,14.1 29.8,12.3 27.2,10.5 24.6,8.7 22,6.9 19.4,5.2 16.8,3.4 14.3,1.7 11.8,0 9.3,-1.7 6.8,-3.4 M129.2,73.7 125.7,71.3 122.2,69 118.8,66.7 115.4,64.4 112,62.1 108.7,59.9 105.3,57.7 102.1,55.5 98.8,53.3 95.6,51.1 92.4,49 89.3,46.9 86.1,44.8 83,42.7 80,40.6 76.9,38.6 73.9,36.5 70.9,34.5 67.9,32.5 65,30.5 62.1,28.6 59.2,26.6 56.4,24.7 53.5,22.8 50.7,20.9 47.9,19 45.2,17.2 42.4,15.3 39.7,13.5 37,11.7 34.3,9.9 31.7,8.1 29.1,6.4 26.4,4.6 23.9,2.9 21.3,1.1 18.8,-.6 16.2,-2.3 13.7,-3.9 11.3,-5.6 M133.7,70.6 130.2,68.2 126.7,65.9 123.3,63.7 119.9,61.4 116.5,59.2 113.2,56.9 109.9,54.7 106.6,52.6 103.3,50.4 100.1,48.3 96.9,46.2 93.8,44.1 90.6,42 87.5,39.9 84.5,37.9 81.4,35.9 78.4,33.8 75.4,31.9 72.4,29.9 69.5,27.9 66.6,26 63.7,24.1 60.8,22.2 58,20.3 55.2,18.4 52.4,16.6 49.6,14.7 46.9,12.9 44.2,11.1 41.5,9.3 38.8,7.5 36.1,5.8 33.5,4 30.9,2.3 28.3,.6 25.7,-1.1 23.2,-2.8 20.7,-4.5 18.2,-6.2 15.7,-7.8 M138.2,67.5 134.7,65.2 131.2,62.9 127.8,60.6 124.3,58.4 121,56.2 117.6,54 114.3,51.8 111.1,49.7 107.8,47.6 104.6,45.5 101.4,43.4 98.2,41.3 95.1,39.2 92,37.2 88.9,35.2 85.9,33.2 82.9,31.2 79.9,29.2 76.9,27.3 M71,23.4 68.1,21.5 65.3,19.7 62.4,17.8 59.6,16 56.8,14.1 54.1,12.3 51.3,10.5 48.6,8.7 45.9,6.9 43.2,5.2 40.5,3.4 37.9,1.7 35.3,0 32.7,-1.7 30.1,-3.4 27.6,-5.1 25.1,-6.7 22.5,-8.4 20.1,-10 M142.6,64.4 139.1,62.2 135.6,59.9 132.2,57.7 128.8,55.5 125.4,53.3 122.1,51.1 118.7,49 115.5,46.9 112.2,44.8 109,42.7 105.8,40.6 102.6,38.6 99.5,36.5 96.4,34.5 M61.2,11.7 58.4,9.9 55.7,8.1 53,6.4 50.2,4.6 47.6,2.9 44.9,1.1 42.3,-.6 39.6,-2.3 37.1,-3.9 34.5,-5.6 31.9,-7.3 29.4,-8.9 26.9,-10.5 24.4,-12.2 M146.9,61.4 143.4,59.2 140,56.9 136.5,54.7 133.1,52.6 129.7,50.4 126.4,48.3 123.1,46.2 119.8,44.1 116.6,42 113.4,39.9 110.2,37.9 M57.3,4 54.6,2.3 51.9,.6 49.2,-1.1 46.6,-2.8 44,-4.5 41.4,-6.2 38.8,-7.8 36.2,-9.5 33.7,-11.1 31.2,-12.7 28.7,-14.3 M151.2,58.4 147.7,56.2 144.3,54 140.8,51.9 137.4,49.7 134.1,47.6 130.7,45.5 127.4,43.4 124.1,41.3 120.9,39.2 117.7,37.2 M58.8,0 56.1,-1.7 53.5,-3.4 50.8,-5.1 48.2,-6.7 45.6,-8.4 43,-10 40.5,-11.6 37.9,-13.2 35.4,-14.8 32.9,-16.4 M155.5,55.5 152,53.3 148.5,51.1 145.1,49 141.7,46.9 138.3,44.8 135,42.7 131.7,40.6 128.4,38.6 125.1,36.5 M60.4,-3.9 57.7,-5.6 55.1,-7.3 52.4,-8.9 49.8,-10.5 47.2,-12.2 44.7,-13.8 42.1,-15.3 39.6,-16.9 37.1,-18.5 M159.7,52.6 156.2,50.4 152.7,48.3 149.3,46.2 145.9,44.1 142.5,42 139.2,39.9 135.9,37.9 132.6,35.9 M61.9,-7.8 59.2,-9.5 56.6,-11.1 54,-12.7 51.4,-14.3 48.8,-15.9 46.3,-17.4 43.8,-19 41.3,-20.6 M163.8,49.7 160.3,47.6 156.9,45.5 153.4,43.4 150,41.3 146.7,39.2 143.3,37.2 140,35.2 M63.4,-11.6 60.7,-13.2 58.1,-14.8 55.5,-16.4 53,-18 50.4,-19.5 47.9,-21.1 45.4,-22.6 M167.9,46.9 164.4,44.8 161,42.7 157.5,40.6 154.1,38.6 150.8,36.5 147.4,34.5 M64.8,-15.3 62.2,-16.9 59.6,-18.5 57,-20 54.5,-21.6 51.9,-23.1 49.4,-24.6 M171.9,44.1 168.5,42 165,39.9 161.6,37.9 158.2,35.9 154.8,33.9 151.5,31.9 M68.8,-17.4 66.2,-19 63.6,-20.6 61.1,-22.1 58.5,-23.6 56,-25.1 53.5,-26.6 M175.9,41.3 172.5,39.3 169,37.2 165.6,35.2 162.2,33.2 158.8,31.2 155.5,29.2 M72.8,-19.5 70.2,-21.1 67.6,-22.6 65.1,-24.1 62.5,-25.6 60,-27.1 57.4,-28.6 M179.9,38.6 176.4,36.5 173,34.5 169.5,32.5 166.2,30.6 162.8,28.6 159.5,26.7 M76.8,-21.6 74.2,-23.1 71.6,-24.6 69,-26.1 66.4,-27.6 63.9,-29.1 61.4,-30.6 M183.8,35.9 180.3,33.9 176.9,31.9 173.5,29.9 170.1,28 166.7,26 163.4,24.1 M80.7,-23.6 78.1,-25.1 75.5,-26.6 72.9,-28.1 70.4,-29.6 67.8,-31.1 65.3,-32.5 M187.6,33.2 184.2,31.2 180.7,29.3 177.3,27.3 173.9,25.4 170.6,23.5 167.3,21.6 M84.6,-25.6 82,-27.1 79.4,-28.6 76.8,-30.1 74.2,-31.6 71.7,-33 69.2,-34.5 M191.5,30.6 188,28.6 184.5,26.7 181.1,24.7 177.8,22.8 174.4,20.9 171.1,19.1 M88.4,-27.6 85.8,-29.1 83.2,-30.6 80.6,-32.1 78.1,-33.5 75.5,-34.9 73,-36.4 M195.2,28 191.8,26 188.3,24.1 184.9,22.2 181.5,20.3 178.2,18.4 174.9,16.6 M92.2,-29.6 89.6,-31.1 87,-32.5 84.4,-34 81.8,-35.4 79.3,-36.8 76.8,-38.3 M198.9,25.4 195.5,23.5 192.1,21.6 188.6,19.7 185.3,17.8 181.9,16 178.6,14.1 175.3,12.3 M98.6,-30.1 96,-31.6 93.4,-33 90.8,-34.5 88.2,-35.9 85.6,-37.3 83,-38.7 80.5,-40.1 M202.6,22.8 199.2,20.9 195.7,19.1 192.3,17.2 189,15.4 185.6,13.5 182.3,11.7 179,9.9 175.8,8.1 M105,-30.6 102.4,-32.1 99.7,-33.5 97.1,-34.9 94.5,-36.4 91.9,-37.8 89.3,-39.2 86.8,-40.6 84.2,-42 M206.3,20.3 202.8,18.4 199.4,16.6 196,14.7 192.6,12.9 189.3,11.1 186,9.3 182.7,7.5 179.4,5.8 176.2,4 M111.4,-31.1 108.7,-32.5 106,-34 103.4,-35.4 100.8,-36.8 98.2,-38.3 95.6,-39.7 93,-41.1 90.4,-42.4 87.9,-43.8 M209.9,17.8 206.4,16 203,14.1 199.6,12.3 196.2,10.5 192.9,8.7 189.6,6.9 186.3,5.2 183.1,3.4 179.8,1.7 176.6,0 M117.8,-31.6 115.1,-33 112.4,-34.5 109.7,-35.9 107,-37.3 104.4,-38.7 101.8,-40.1 99.2,-41.5 96.6,-42.9 94.1,-44.3 91.6,-45.6 M213.4,15.4 210,13.5 206.6,11.7 203.2,9.9 199.8,8.1 196.5,6.4 193.2,4.6 189.9,2.9 186.6,1.1 183.4,-.6 180.2,-2.3 177.1,-3.9 M124.1,-32.1 121.4,-33.5 118.7,-34.9 116,-36.4 113.3,-37.8 110.7,-39.2 108,-40.6 105.4,-42 102.8,-43.4 100.3,-44.7 97.7,-46.1 95.2,-47.4 M216.9,12.9 213.5,11.1 210.1,9.3 206.7,7.5 203.3,5.8 200,4 196.7,2.3 193.4,.6 190.2,-1.1 187,-2.8 183.8,-4.5 180.6,-6.2 177.5,-7.8 174.4,-9.5 171.3,-11.1 M136,-29.6 133.2,-31.1 130.4,-32.5 127.7,-34 125,-35.4 122.2,-36.8 119.6,-38.3 116.9,-39.7 114.2,-41.1 111.6,-42.4 109,-43.8 106.4,-45.2 103.8,-46.5 101.3,-47.9 98.7,-49.2 M220.4,10.5 217,8.7 213.6,6.9 210.2,5.2 206.8,3.4 203.5,1.7 200.2,0 196.9,-1.7 193.7,-3.4 190.5,-5.1 187.3,-6.7 184.1,-8.4 181,-10 177.9,-11.6 174.8,-13.2 171.7,-14.8 168.7,-16.4 165.7,-18 162.7,-19.5 159.7,-21.1 156.8,-22.6 153.8,-24.1 150.9,-25.7 148,-27.1 145.2,-28.6 142.4,-30.1 139.5,-31.6 136.7,-33 134,-34.5 131.2,-35.9 128.5,-37.3 125.8,-38.7 123.1,-40.1 120.4,-41.5 117.8,-42.9 115.1,-44.3 112.5,-45.6 109.9,-47 107.4,-48.3 104.8,-49.6 102.3,-51 M223.9,8.1 220.4,6.4 217,4.6 213.6,2.9 210.3,1.1 207,-.6 203.7,-2.3 200.4,-3.9 197.2,-5.6 194,-7.3 190.8,-8.9 187.6,-10.5 184.5,-12.2 181.4,-13.8 178.3,-15.4 175.2,-16.9 172.2,-18.5 169.2,-20.1 166.2,-21.6 163.2,-23.1 160.3,-24.6 157.3,-26.2 154.4,-27.6 151.5,-29.1 148.7,-30.6 145.9,-32.1 143,-33.5 140.3,-35 137.5,-36.4 134.7,-37.8 132,-39.2 129.3,-40.6 126.6,-42 123.9,-43.4 121.3,-44.7 118.7,-46.1 116,-47.4 113.5,-48.8 110.9,-50.1 108.3,-51.4 105.8,-52.7 M227.3,5.8 223.8,4 220.4,2.3 217.1,.6 213.7,-1.1 210.4,-2.8 207.1,-4.5 203.8,-6.2 200.6,-7.8 197.4,-9.5 194.2,-11.1 191.1,-12.7 187.9,-14.3 184.8,-15.9 181.7,-17.5 178.7,-19 175.6,-20.6 172.6,-22.1 169.6,-23.6 166.7,-25.2 163.7,-26.7 160.8,-28.1 157.9,-29.6 155,-31.1 152.2,-32.5 149.3,-34 146.5,-35.4 143.7,-36.9 141,-38.3 138.2,-39.7 135.5,-41.1 132.8,-42.4 130.1,-43.8 127.4,-45.2 124.8,-46.5 122.1,-47.9 119.5,-49.2 116.9,-50.5 114.4,-51.8 111.8,-53.1 109.3,-54.4 M230.6,3.4 227.2,1.7 223.8,0 220.4,-1.7 217.1,-3.4 213.8,-5.1 210.5,-6.7 207.2,-8.4 204,-10 200.8,-11.6 197.6,-13.2 194.5,-14.8 191.3,-16.4 188.2,-18 185.1,-19.5 182.1,-21.1 179,-22.6 176,-24.1 173,-25.7 170.1,-27.2 167.1,-28.6 164.2,-30.1 161.3,-31.6 158.5,-33 155.6,-34.5 152.8,-35.9 150,-37.3 147.2,-38.7 144.4,-40.1 141.6,-41.5 138.9,-42.9 136.2,-44.3 133.5,-45.6 130.9,-47 128.2,-48.3 125.6,-49.7 123,-51 120.4,-52.3 117.8,-53.6 115.2,-54.9 112.7,-56.2 M233.9,1.1 230.5,-.6 227.1,-2.3 223.8,-3.9 220.4,-5.6 217.1,-7.3 213.9,-8.9 210.6,-10.5 207.4,-12.2 204.2,-13.8 201,-15.4 197.8,-16.9 194.7,-18.5 191.6,-20.1 188.5,-21.6 185.5,-23.1 182.4,-24.7 179.4,-26.2 176.4,-27.7 173.5,-29.1 170.5,-30.6 167.6,-32.1 164.7,-33.5 161.8,-35 159,-36.4 156.2,-37.8 153.4,-39.2 150.6,-40.6 147.8,-42 145.1,-43.4 142.3,-44.7 139.6,-46.1 136.9,-47.4 134.3,-48.8 131.6,-50.1 129,-51.4 126.4,-52.7 123.8,-54 121.2,-55.3 118.6,-56.6 116.1,-57.9"/><path id="ilines" d="M110.6,32.7 106.3,31.1 101.9,29.4 97.6,27.8 93.4,26.2 89.1,24.6 84.9,23 80.7,21.4 76.6,19.9 72.5,18.3 M125.2,32.5 120.8,30.8 116.4,29.2 112,27.6 107.7,25.9 103.4,24.3 99.2,22.8 94.9,21.2 90.7,19.6 86.6,18.1 82.4,16.5 78.3,15 74.2,13.5 70.2,11.9 66.2,10.4 M135.2,30.6 130.8,28.9 126.4,27.3 122,25.7 117.7,24.1 113.4,22.5 109.1,20.9 104.8,19.4 100.6,17.8 96.4,16.3 92.3,14.7 88.2,13.2 84.1,11.7 80,10.2 76,8.7 71.9,7.2 68,5.8 64,4.3 M145.2,28.7 140.7,27 136.3,25.4 131.9,23.8 127.6,22.2 123.3,20.7 119,19.1 114.7,17.6 110.5,16 106.3,14.5 102.1,13 97.9,11.5 93.8,10 89.7,8.5 85.7,7 81.6,5.5 77.6,4.1 73.7,2.6 69.7,1.2 65.8,-.2 M150.6,25.2 146.2,23.6 141.8,22 137.4,20.4 133,18.9 128.7,17.3 124.5,15.8 120.2,14.2 116,12.7 111.8,11.2 107.6,9.7 103.5,8.2 99.4,6.8 95.3,5.3 91.3,3.8 87.2,2.4 83.3,1 79.3,-.5 75.3,-1.9 71.4,-3.3 67.6,-4.7 M155.9,21.7 151.5,20.2 147.1,18.6 142.8,17.1 138.4,15.5 134.1,14 129.9,12.5 125.6,11 121.4,9.5 117.2,8 113.1,6.5 109,5.1 104.9,3.6 100.8,2.2 96.8,.7 92.8,-.7 88.8,-2.1 84.8,-3.5 80.9,-4.9 77,-6.3 73.1,-7.7 69.3,-9 M161.2,18.4 156.8,16.8 152.4,15.3 148.1,13.8 143.7,12.2 139.5,10.7 135.2,9.3 131,7.8 126.8,6.3 122.6,4.8 118.5,3.4 114.4,1.9 110.3,.5 106.2,-.9 102.2,-2.3 98.2,-3.7 94.2,-5.1 90.3,-6.5 86.4,-7.9 82.5,-9.2 78.6,-10.6 74.8,-11.9 71,-13.3 M166.4,15 162,13.5 157.6,12 153.3,10.5 149,9 144.7,7.5 140.5,6.1 136.2,4.6 132.1,3.2 127.9,1.7 123.8,.3 119.7,-1.1 115.6,-2.5 111.6,-3.9 107.5,-5.3 103.6,-6.7 99.6,-8.1 95.7,-9.5 91.8,-10.8 87.9,-12.2 84,-13.5 80.2,-14.8 76.4,-16.1 M167.1,10.3 162.7,8.8 158.4,7.3 154.1,5.8 149.9,4.4 145.6,2.9 141.4,1.5 137.3,.1 133.1,-1.4 129,-2.8 124.9,-4.2 120.9,-5.6 116.8,-6.9 112.8,-8.3 108.8,-9.7 104.9,-11 101,-12.4 97.1,-13.7 93.2,-15 89.4,-16.4 85.5,-17.7 81.7,-19 M167.8,5.6 163.5,4.1 159.2,2.7 154.9,1.3 150.7,-.2 146.5,-1.6 142.4,-3 138.3,-4.4 134.2,-5.8 130.1,-7.2 126,-8.5 122,-9.9 118,-11.2 114.1,-12.6 110.1,-13.9 106.2,-15.2 102.3,-16.6 98.5,-17.9 94.6,-19.2 90.8,-20.5 87,-21.7 M168.4,1 164.2,-.4 160,-1.8 155.8,-3.2 151.6,-4.6 147.4,-6 143.3,-7.4 139.2,-8.8 135.2,-10.1 131.1,-11.5 127.1,-12.8 123.1,-14.1 119.2,-15.5 115.3,-16.8 111.4,-18.1 107.5,-19.4 103.6,-20.7 99.8,-21.9 96,-23.2 92.2,-24.5 M169.1,-3.4 164.9,-4.8 160.7,-6.2 156.5,-7.6 152.4,-9 148.3,-10.3 144.2,-11.7 140.2,-13 136.2,-14.3 132.2,-15.7 128.2,-17 124.3,-18.3 120.3,-19.6 116.4,-20.9 112.6,-22.2 108.7,-23.4 104.9,-24.7 101.1,-25.9 M165.6,-9.2 161.4,-10.5 157.3,-11.9 153.2,-13.2 149.2,-14.6 145.1,-15.9 141.1,-17.2 137.1,-18.5 133.2,-19.8 129.2,-21.1 125.3,-22.4 121.5,-23.6 117.6,-24.9 113.8,-26.1 110,-27.4 106.2,-28.6 M162.2,-14.8 158.1,-16.1 154,-17.4 150,-18.7 146,-20 142,-21.3 138.1,-22.6 134.2,-23.8 130.3,-25.1 126.4,-26.3 122.6,-27.6 118.7,-28.8 M150.8,-22.8 146.9,-24 142.9,-25.3 139,-26.5 135.1,-27.8"/><path id="ilines2" d="M103.4,32.9 99,31.2 94.7,29.6 90.4,28 86.2,26.3 82,24.7 77.8,23.1 M117.9,32.6 113.5,31 109.1,29.3 104.8,27.7 100.5,26.1 96.3,24.5 92,22.9 87.8,21.3 83.6,19.7 79.5,18.2 75.4,16.6 71.3,15.1 67.2,13.6 M132.4,32.3 128,30.7 123.6,29.1 119.2,27.4 114.8,25.8 110.5,24.2 106.2,22.6 102,21.1 97.8,19.5 93.6,17.9 89.4,16.4 85.3,14.9 81.2,13.3 77.1,11.8 73.1,10.3 69,8.8 65.1,7.4 M142.4,30.4 138,28.8 133.6,27.2 129.2,25.6 124.8,24 120.5,22.4 116.2,20.8 111.9,19.2 107.6,17.7 103.4,16.2 99.3,14.6 95.1,13.1 91,11.6 86.9,10.1 82.8,8.6 78.8,7.1 74.8,5.7 70.8,4.2 66.9,2.8 62.9,1.3 M147.9,26.9 143.5,25.3 139,23.7 134.7,22.1 130.3,20.6 126,19 121.7,17.5 117.4,15.9 113.2,14.4 109,12.9 104.8,11.4 100.7,9.9 96.6,8.4 92.5,6.9 88.5,5.4 84.4,4 80.4,2.5 76.5,1.1 72.5,-.3 68.6,-1.7 64.7,-3.2 M153.3,23.5 148.8,21.9 144.4,20.3 140.1,18.8 135.7,17.2 131.4,15.7 127.1,14.1 122.9,12.6 118.7,11.1 114.5,9.6 110.3,8.1 106.2,6.7 102.1,5.2 98,3.7 94,2.3 90,.9 86,-.6 82,-2 78.1,-3.4 74.2,-4.8 70.3,-6.2 66.5,-7.5 M158.6,20.1 154.1,18.5 149.8,17 145.4,15.4 141.1,13.9 136.8,12.4 132.5,10.9 128.3,9.4 124.1,7.9 119.9,6.4 115.8,5 111.7,3.5 107.6,2.1 103.5,.6 99.5,-.8 95.5,-2.2 91.5,-3.6 87.5,-5 83.6,-6.4 79.7,-7.8 75.9,-9.1 72,-10.5 M163.8,16.7 159.4,15.2 155,13.7 150.7,12.1 146.3,10.6 142.1,9.1 137.8,7.7 133.6,6.2 129.4,4.7 125.2,3.3 121.1,1.8 117,.4 112.9,-1 108.9,-2.4 104.9,-3.8 100.9,-5.2 96.9,-6.6 93,-8 89.1,-9.3 85.2,-10.7 81.3,-12 77.5,-13.4 73.7,-14.7 M168.9,13.4 164.5,11.9 160.2,10.4 155.8,8.9 151.5,7.4 147.3,6 143,4.5 138.8,3.1 134.6,1.6 130.5,.2 126.4,-1.2 122.3,-2.6 118.2,-4 114.2,-5.4 110.2,-6.8 106.2,-8.2 102.2,-9.6 98.3,-10.9 94.4,-12.3 90.5,-13.6 86.7,-14.9 82.9,-16.2 79.1,-17.5 M169.6,8.7 165.2,7.2 160.9,5.7 156.6,4.3 152.4,2.8 148.2,1.4 144,0 139.8,-1.5 135.7,-2.9 131.6,-4.3 127.5,-5.7 123.4,-7 119.4,-8.4 115.4,-9.8 111.4,-11.1 107.5,-12.5 103.6,-13.8 99.7,-15.1 95.8,-16.4 92,-17.8 88.2,-19.1 84.4,-20.3 M170.2,4 165.9,2.6 161.7,1.2 157.4,-.3 153.2,-1.7 149,-3.1 144.9,-4.5 140.8,-5.9 136.7,-7.3 132.6,-8.6 128.6,-10 124.6,-11.3 120.6,-12.7 116.6,-14 112.7,-15.3 108.8,-16.7 104.9,-18 101,-19.3 97.2,-20.6 93.4,-21.8 89.6,-23.1 M170.9,-.5 166.6,-1.9 162.4,-3.3 158.2,-4.7 154.1,-6.1 149.9,-7.5 145.8,-8.9 141.7,-10.2 137.7,-11.6 133.6,-12.9 129.6,-14.2 125.7,-15.6 121.7,-16.9 117.8,-18.2 113.9,-19.5 110,-20.8 106.2,-22 102.3,-23.3 98.6,-24.6 94.8,-25.8 M167.3,-6.3 163.1,-7.7 159,-9.1 154.9,-10.4 150.8,-11.8 146.7,-13.1 142.6,-14.4 138.6,-15.8 134.6,-17.1 130.7,-18.4 126.7,-19.7 122.8,-21 118.9,-22.2 115.1,-23.5 111.2,-24.8 107.4,-26 103.6,-27.3 M163.8,-12 159.7,-13.3 155.6,-14.7 151.6,-16 147.6,-17.3 143.6,-18.6 139.6,-19.9 135.6,-21.2 131.7,-22.5 127.8,-23.7 123.9,-25 120.1,-26.2 116.2,-27.5 112.4,-28.7 M160.5,-17.5 156.4,-18.8 152.4,-20.1 148.4,-21.4 144.4,-22.7 140.5,-23.9 136.6,-25.2 132.7,-26.4 128.8,-27.7 125,-28.9"/><path id="iarcs" d="M93.5,-26.2 95.1,-26.2 96.7,-26.3 98.2,-26.4 99.7,-26.6 101.3,-26.7 102.8,-27 104.3,-27.2 105.7,-27.5 107.2,-27.8 108.6,-28.1 110,-28.5 111.4,-28.9 112.7,-29.3 M88.4,-23.9 90.1,-23.9 91.8,-23.9 93.6,-23.9 95.3,-23.9 97,-24 98.7,-24.2 100.4,-24.3 102.1,-24.5 103.8,-24.8 105.5,-25 107.1,-25.4 108.7,-25.7 110.3,-26.1 111.8,-26.5 113.4,-26.9 114.8,-27.4 116.3,-27.9 117.7,-28.4 119.1,-29 M84.1,-21.9 86,-21.8 87.9,-21.6 89.8,-21.6 91.7,-21.6 93.6,-21.6 95.5,-21.7 97.4,-21.8 99.3,-21.9 101.2,-22.1 103,-22.3 104.9,-22.6 106.7,-22.9 108.5,-23.2 110.3,-23.6 112,-24 113.7,-24.5 115.4,-24.9 117,-25.5 118.6,-26 120.1,-26.6 121.6,-27.2 123.1,-27.9 124.5,-28.5 M79.2,-20 81.3,-19.8 83.3,-19.6 85.3,-19.4 87.4,-19.3 89.5,-19.3 91.5,-19.2 93.6,-19.3 95.7,-19.3 97.8,-19.4 99.8,-19.6 101.9,-19.8 103.9,-20 105.9,-20.3 107.9,-20.7 109.9,-21 111.8,-21.5 113.7,-21.9 115.6,-22.4 117.4,-22.9 119.2,-23.5 120.9,-24.1 122.6,-24.8 124.2,-25.4 125.8,-26.1 127.3,-26.9 128.8,-27.6 130.1,-28.4 M75.9,-18.1 78,-17.8 80.2,-17.5 82.4,-17.3 84.6,-17.1 86.9,-17 89.1,-16.9 91.4,-16.9 93.6,-16.9 95.9,-17 98.1,-17.1 100.4,-17.3 102.6,-17.5 104.8,-17.8 107,-18.1 109.2,-18.4 111.3,-18.9 113.4,-19.3 115.5,-19.8 117.5,-20.3 119.5,-20.9 121.4,-21.5 123.3,-22.2 125.1,-22.9 126.8,-23.6 128.5,-24.4 130.2,-25.2 131.7,-26 133.2,-26.9 134.7,-27.8 M74.5,-15.8 76.8,-15.5 79.1,-15.2 81.5,-14.9 83.9,-14.7 86.3,-14.6 88.8,-14.5 91.2,-14.5 93.7,-14.5 96.1,-14.6 98.5,-14.7 101,-14.9 103.4,-15.2 105.8,-15.5 108.1,-15.8 110.5,-16.2 112.8,-16.6 115,-17.1 117.2,-17.7 119.4,-18.3 121.6,-18.9 123.6,-19.6 125.6,-20.3 127.6,-21 129.5,-21.8 131.3,-22.7 133.1,-23.5 134.8,-24.4 136.4,-25.4 137.9,-26.3 M73.1,-13.5 75.6,-13.1 78.1,-12.8 80.6,-12.5 83.2,-12.3 85.8,-12.2 88.4,-12.1 91,-12.1 93.7,-12.1 96.3,-12.2 98.9,-12.3 101.5,-12.5 104.1,-12.8 106.7,-13.1 109.2,-13.5 111.7,-13.9 114.2,-14.4 116.6,-14.9 119,-15.5 121.4,-16.1 123.7,-16.8 125.9,-17.6 128,-18.3 130.1,-19.1 132.2,-20 134.1,-20.9 136,-21.8 137.8,-22.8 139.5,-23.8 141.1,-24.9 142.7,-25.9 M69,-11.6 71.6,-11.2 74.3,-10.8 77,-10.4 79.7,-10.1 82.5,-9.9 85.3,-9.8 88.1,-9.7 90.9,-9.6 93.7,-9.7 96.5,-9.8 99.3,-9.9 102.1,-10.1 104.9,-10.4 107.6,-10.8 110.3,-11.2 113,-11.6 115.7,-12.1 118.3,-12.7 120.8,-13.3 123.3,-14 125.8,-14.7 128.1,-15.5 130.5,-16.4 132.7,-17.2 134.9,-18.2 136.9,-19.1 138.9,-20.1 140.9,-21.2 142.7,-22.3 144.4,-23.4 146.1,-24.5 M67.4,-9.3 70.2,-8.8 73,-8.4 75.9,-8 78.8,-7.7 81.8,-7.5 84.7,-7.3 87.7,-7.2 90.7,-7.2 93.7,-7.2 96.7,-7.3 99.7,-7.5 102.7,-7.7 105.6,-8 108.6,-8.4 111.5,-8.8 114.3,-9.3 117.2,-9.8 119.9,-10.5 122.7,-11.1 125.3,-11.9 127.9,-12.6 130.4,-13.5 132.9,-14.4 135.3,-15.3 137.6,-16.3 139.8,-17.3 141.9,-18.4 143.9,-19.5 145.9,-20.7 147.7,-21.9 149.5,-23.1 M65.7,-6.9 68.7,-6.4 71.7,-5.9 74.8,-5.6 77.9,-5.2 81,-5 84.2,-4.8 87.4,-4.7 90.5,-4.7 93.7,-4.7 96.9,-4.8 100.1,-5 103.3,-5.2 106.4,-5.6 109.5,-5.9 112.6,-6.4 115.7,-6.9 118.7,-7.5 121.6,-8.2 124.5,-8.9 127.3,-9.7 130.1,-10.5 132.8,-11.4 135.4,-12.4 137.9,-13.4 140.3,-14.4 142.7,-15.5 144.9,-16.7 147.1,-17.9 149.1,-19.1 151.1,-20.4 152.9,-21.7 M67.2,-4 70.4,-3.5 73.7,-3.1 77,-2.7 80.3,-2.5 83.6,-2.3 87,-2.2 90.4,-2.1 93.8,-2.2 97.1,-2.3 100.5,-2.5 103.9,-2.7 107.2,-3.1 110.5,-3.5 113.8,-4 117,-4.5 120.2,-5.2 123.3,-5.9 126.4,-6.6 129.4,-7.5 132.3,-8.4 135.1,-9.3 137.9,-10.3 140.5,-11.4 143.1,-12.5 145.6,-13.7 147.9,-14.9 150.2,-16.2 152.4,-17.5 154.4,-18.9 156.3,-20.2 M65.7,-1.5 69.1,-1 72.5,-.6 76,-.2 79.5,.1 83.1,.3 86.6,.4 90.2,.4 93.8,.4 97.4,.3 100.9,.1 104.5,-.2 108,-.6 111.5,-1 115,-1.5 118.4,-2.1 121.7,-2.8 125,-3.6 128.3,-4.4 131.4,-5.3 134.5,-6.2 137.5,-7.2 140.4,-8.3 143.2,-9.4 145.9,-10.6 148.5,-11.9 151,-13.2 153.4,-14.5 155.6,-15.9 157.8,-17.3 M64.2,.9 67.8,1.5 71.4,2 75.1,2.3 78.8,2.6 82.5,2.9 86.3,3 90,3 93.8,3 97.6,2.9 101.4,2.6 105.1,2.3 108.8,2 112.5,1.5 116.2,.9 119.7,.3 123.3,-.4 126.8,-1.2 130.2,-2.1 133.5,-3 136.7,-4 139.9,-5.1 142.9,-6.2 145.9,-7.4 148.7,-8.7 151.5,-10 154.1,-11.4 156.6,-12.8 158.9,-14.3 161.2,-15.8 M66.4,4 70.2,4.5 74.1,4.9 78,5.3 81.9,5.5 85.9,5.6 89.9,5.7 93.8,5.6 97.8,5.5 101.8,5.3 105.7,4.9 109.6,4.5 113.5,4 117.4,3.4 121.1,2.8 124.9,2 128.5,1.2 132.1,.3 135.6,-.7 139,-1.8 142.3,-2.9 145.5,-4.1 148.6,-5.4 151.6,-6.7 154.4,-8.1 157.2,-9.6 159.8,-11.1 162.3,-12.6 M65,6.6 69,7.1 73.1,7.6 77.2,7.9 81.3,8.1 85.5,8.3 89.7,8.3 93.9,8.3 98,8.1 102.2,7.9 106.3,7.6 110.5,7.1 114.5,6.6 118.6,6 122.5,5.3 126.5,4.5 130.3,3.6 134,2.6 137.7,1.6 141.3,.4 144.7,-.8 148.1,-2 151.3,-3.4 154.5,-4.8 157.4,-6.2 160.3,-7.8 163,-9.4 165.6,-11 M67.9,9.8 72.1,10.2 76.4,10.6 80.7,10.8 85.1,11 89.5,11 93.9,11 98.3,10.8 102.6,10.6 107,10.2 111.3,9.8 115.6,9.2 119.8,8.5 124,7.8 128.1,7 132.1,6 136,5 139.8,3.9 143.6,2.7 147.2,1.4 150.7,.1 154.1,-1.3 157.4,-2.8 160.5,-4.3 163.5,-5.9 166.3,-7.6 M66.7,12.4 71.1,12.9 75.6,13.3 80.1,13.5 84.7,13.7 89.3,13.8 93.9,13.7 98.5,13.5 103.1,13.3 107.6,12.9 112.2,12.4 116.6,11.8 121.1,11.1 125.4,10.4 129.7,9.5 133.9,8.5 138,7.4 142,6.3 145.9,5 149.7,3.7 153.4,2.3 156.9,.8 160.3,-.8 163.6,-2.4 166.7,-4.1 169.6,-5.8 M70.1,15.6 74.8,16 79.5,16.3 84.3,16.5 89.1,16.5 93.9,16.5 98.7,16.3 103.5,16 108.3,15.6 113,15.1 117.7,14.5 122.3,13.8 126.9,12.9 131.3,12 135.7,11 140,9.9 144.2,8.6 148.3,7.3 152.2,5.9 156,4.4 159.7,2.9 163.3,1.2 166.6,-.5 169.9,-2.2 M74,18.8 78.9,19.1 83.9,19.3 88.9,19.3 94,19.3 99,19.1 104,18.8 108.9,18.4 113.9,17.8 118.8,17.2 123.6,16.4 128.3,15.6 133,14.6 137.6,13.5 142.1,12.3 146.4,11 150.7,9.7 154.8,8.2 158.7,6.6 162.6,5 166.3,3.3 169.8,1.5 M78.3,21.9 83.5,22.1 88.7,22.2 94,22.1 99.2,21.9 104.4,21.6 109.6,21.2 114.8,20.6 119.9,19.9 124.9,19.1 129.8,18.2 134.7,17.2 139.5,16.1 144.1,14.8 148.7,13.5 153.1,12 157.4,10.5 161.5,8.9 165.5,7.1 169.3,5.4 M83.1,25 88.5,25 94,25 99.5,24.8 104.9,24.5 110.3,24 115.7,23.4 121,22.7 126.2,21.9 131.4,20.9 136.4,19.8 141.4,18.6 146.2,17.3 150.9,15.9 155.5,14.4 160,12.8 164.2,11.1 168.4,9.3 M88.4,28 94,27.9 99.7,27.7 105.4,27.3 111,26.9 116.6,26.2 122.1,25.5 127.5,24.6 132.9,23.6 138.1,22.5 143.3,21.3 148.3,19.9 153.2,18.4 158,16.8 162.6,15.2 167,13.4 M94.1,30.8 100,30.6 105.8,30.3 111.7,29.8 117.5,29.1 123.2,28.3 128.9,27.4 134.4,26.4 139.9,25.2 145.2,23.9 150.5,22.5 155.5,20.9 160.5,19.3 165.3,17.5 M106.3,33.2 112.4,32.7 118.4,32 124.4,31.2 130.2,30.3 136,29.2 141.7,27.9 147.2,26.6 152.6,25.1 157.9,23.5 M131.6,33.1 137.6,32"/><path id="iarcs2" d="M100.8,-27.8 102.2,-28 103.7,-28.3 105,-28.5 M90.3,-25 91.9,-25 93.6,-25 95.2,-25.1 96.8,-25.2 98.5,-25.3 100.1,-25.4 101.7,-25.6 103.3,-25.9 104.9,-26.1 106.4,-26.4 107.9,-26.7 109.4,-27.1 110.9,-27.5 112.4,-27.9 113.8,-28.3 115.1,-28.8 116.5,-29.3 M86.3,-22.9 88.1,-22.8 90,-22.7 91.8,-22.7 93.6,-22.7 95.4,-22.8 97.2,-22.9 99,-23 100.8,-23.2 102.6,-23.4 104.3,-23.7 106.1,-24 107.8,-24.3 109.5,-24.6 111.1,-25 112.8,-25.5 114.4,-25.9 115.9,-26.4 117.4,-26.9 118.9,-27.5 120.3,-28.1 121.7,-28.7 M81.8,-20.9 83.7,-20.7 85.7,-20.6 87.6,-20.5 89.6,-20.4 91.6,-20.4 93.6,-20.4 95.6,-20.5 97.6,-20.6 99.6,-20.8 101.5,-20.9 103.5,-21.2 105.4,-21.5 107.3,-21.8 109.2,-22.1 111,-22.5 112.9,-23 114.7,-23.4 116.4,-23.9 118.1,-24.5 119.8,-25.1 121.4,-25.7 122.9,-26.3 124.4,-27 125.9,-27.7 127.3,-28.4 M78.6,-18.9 80.7,-18.6 82.8,-18.4 85,-18.3 87.1,-18.2 89.3,-18.1 91.5,-18.1 93.6,-18.1 95.8,-18.2 98,-18.3 100.1,-18.4 102.3,-18.7 104.4,-18.9 106.5,-19.2 108.6,-19.6 110.6,-19.9 112.6,-20.4 114.6,-20.9 116.5,-21.4 118.4,-21.9 120.3,-22.5 122.1,-23.2 123.8,-23.8 125.5,-24.5 127.2,-25.3 128.7,-26 130.2,-26.8 131.7,-27.7 M75.2,-16.9 77.4,-16.6 79.7,-16.3 82,-16.1 84.3,-15.9 86.6,-15.8 88.9,-15.7 91.3,-15.7 93.6,-15.7 96,-15.8 98.3,-15.9 100.7,-16.1 103,-16.3 105.3,-16.6 107.6,-16.9 109.8,-17.3 112,-17.7 114.2,-18.2 116.4,-18.7 118.5,-19.3 120.5,-19.9 122.5,-20.6 124.5,-21.2 126.3,-22 128.2,-22.7 129.9,-23.5 131.6,-24.4 133.2,-25.2 134.8,-26.1 136.3,-27.1 M73.8,-14.6 76.2,-14.3 78.6,-14 81.1,-13.7 83.6,-13.5 86.1,-13.4 88.6,-13.3 91.1,-13.3 93.7,-13.3 96.2,-13.4 98.7,-13.5 101.2,-13.7 103.7,-14 106.2,-14.3 108.7,-14.6 111.1,-15.1 113.5,-15.5 115.8,-16 118.1,-16.6 120.4,-17.2 122.6,-17.9 124.7,-18.6 126.8,-19.3 128.9,-20.1 130.8,-20.9 132.7,-21.8 134.5,-22.7 136.3,-23.6 137.9,-24.6 139.5,-25.6 M69.8,-12.8 72.3,-12.3 74.9,-11.9 77.5,-11.6 80.2,-11.3 82.9,-11.1 85.5,-11 88.3,-10.9 91,-10.9 93.7,-10.9 96.4,-11 99.1,-11.1 101.8,-11.3 104.5,-11.6 107.2,-11.9 109.8,-12.3 112.4,-12.8 114.9,-13.3 117.5,-13.8 119.9,-14.4 122.3,-15.1 124.7,-15.8 127,-16.5 129.2,-17.3 131.4,-18.2 133.5,-19.1 135.5,-20 137.5,-21 139.3,-22 141.1,-23 142.8,-24.1 144.4,-25.2 M68.2,-10.4 70.9,-10 73.7,-9.6 76.5,-9.2 79.3,-8.9 82.1,-8.7 85,-8.5 87.9,-8.4 90.8,-8.4 93.7,-8.4 96.6,-8.5 99.5,-8.7 102.4,-8.9 105.3,-9.2 108.1,-9.6 110.9,-10 113.7,-10.5 116.4,-11 119.1,-11.6 121.7,-12.2 124.3,-12.9 126.8,-13.7 129.3,-14.5 131.7,-15.4 134,-16.3 136.2,-17.2 138.4,-18.2 140.4,-19.3 142.4,-20.4 144.3,-21.5 146.1,-22.6 147.8,-23.8 M66.6,-8.1 69.4,-7.6 72.4,-7.2 75.4,-6.8 78.4,-6.5 81.4,-6.2 84.5,-6.1 87.5,-5.9 90.6,-5.9 93.7,-5.9 96.8,-6.1 99.9,-6.2 103,-6.5 106,-6.8 109.1,-7.2 112.1,-7.6 115,-8.1 117.9,-8.7 120.8,-9.3 123.6,-10 126.3,-10.8 129,-11.6 131.6,-12.5 134.1,-13.4 136.6,-14.3 138.9,-15.4 141.2,-16.4 143.4,-17.6 145.5,-18.7 147.5,-19.9 149.4,-21.1 151.2,-22.4 M64.9,-5.7 68,-5.2 71.1,-4.7 74.2,-4.3 77.4,-4 80.7,-3.7 83.9,-3.5 87.2,-3.4 90.5,-3.4 93.8,-3.4 97,-3.5 100.3,-3.7 103.6,-4 106.8,-4.3 110,-4.7 113.2,-5.2 116.3,-5.7 119.4,-6.4 122.5,-7 125.4,-7.8 128.3,-8.6 131.2,-9.4 133.9,-10.4 136.6,-11.4 139.2,-12.4 141.7,-13.5 144.1,-14.6 146.4,-15.8 148.6,-17 150.7,-18.3 152.7,-19.6 154.6,-21 M66.5,-2.8 69.8,-2.3 73.1,-1.8 76.5,-1.5 79.9,-1.2 83.4,-1 86.8,-.9 90.3,-.8 93.8,-.9 97.3,-1 100.7,-1.2 104.2,-1.5 107.6,-1.8 111,-2.3 114.4,-2.8 117.7,-3.3 121,-4 124.2,-4.7 127.3,-5.5 130.4,-6.4 133.4,-7.3 136.3,-8.3 139.1,-9.3 141.9,-10.4 144.5,-11.6 147,-12.8 149.5,-14.1 151.8,-15.4 154,-16.7 156.1,-18.1 M65,-.3 68.4,.2 72,.7 75.5,1.1 79.1,1.4 82.8,1.6 86.4,1.7 90.1,1.7 93.8,1.7 97.5,1.6 101.1,1.4 104.8,1.1 108.4,.7 112,.2 115.6,-.3 119.1,-.9 122.5,-1.6 125.9,-2.4 129.2,-3.2 132.4,-4.1 135.6,-5.1 138.7,-6.2 141.7,-7.3 144.5,-8.4 147.3,-9.7 150,-10.9 152.5,-12.3 155,-13.7 157.3,-15.1 159.5,-16.6 M63.4,2.2 67.1,2.8 70.8,3.2 74.6,3.6 78.4,3.9 82.2,4.2 86.1,4.3 89.9,4.3 93.8,4.3 97.7,4.2 101.6,3.9 105.4,3.6 109.2,3.2 113,2.8 116.8,2.2 120.4,1.5 124.1,.8 127.6,0 131.1,-.9 134.5,-1.9 137.9,-2.9 141.1,-4 144.2,-5.2 147.2,-6.4 150.1,-7.7 152.9,-9.1 155.6,-10.5 158.2,-11.9 160.6,-13.5 162.9,-15 M65.7,5.3 69.6,5.8 73.6,6.2 77.6,6.6 81.6,6.8 85.7,6.9 89.8,7 93.8,6.9 97.9,6.8 102,6.6 106,6.2 110.1,5.8 114,5.3 118,4.7 121.8,4 125.7,3.2 129.4,2.4 133.1,1.4 136.6,.4 140.1,-.7 143.5,-1.8 146.8,-3.1 150,-4.4 153,-5.8 155.9,-7.2 158.7,-8.7 161.4,-10.2 163.9,-11.8 M64.4,7.9 68.5,8.4 72.6,8.9 76.8,9.2 81,9.5 85.3,9.6 89.6,9.7 93.9,9.6 98.1,9.5 102.4,9.2 106.7,8.9 110.9,8.4 115.1,7.9 119.2,7.3 123.3,6.5 127.3,5.7 131.2,4.8 135,3.8 138.8,2.7 142.4,1.6 146,.3 149.4,-1 152.7,-2.3 155.9,-3.8 159,-5.3 161.9,-6.9 164.7,-8.5 167.3,-10.2 M67.3,11.1 71.6,11.5 76,11.9 80.4,12.2 84.9,12.3 89.4,12.4 93.9,12.3 98.4,12.2 102.9,11.9 107.3,11.6 111.7,11.1 116.1,10.5 120.4,9.8 124.7,9.1 128.9,8.2 133,7.3 137,6.2 140.9,5.1 144.7,3.9 148.4,2.6 152,1.2 155.5,-.3 158.8,-1.8 162,-3.4 165.1,-5 168,-6.7 M70.6,14.3 75.2,14.6 79.8,14.9 84.5,15.1 89.2,15.1 93.9,15.1 98.6,14.9 103.3,14.6 108,14.3 112.6,13.8 117.2,13.2 121.7,12.5 126.1,11.6 130.5,10.7 134.8,9.7 139,8.6 143.1,7.4 147.1,6.2 151,4.8 154.7,3.3 158.3,1.8 161.8,.2 165.1,-1.4 168.3,-3.2 M69.6,17 74.4,17.4 79.2,17.7 84.1,17.9 89,17.9 93.9,17.9 98.9,17.7 103.7,17.4 108.6,17 113.4,16.5 118.2,15.8 123,15.1 127.6,14.3 132.2,13.3 136.7,12.2 141,11.1 145.3,9.8 149.5,8.5 153.5,7.1 157.4,5.5 161.1,3.9 164.8,2.3 168.2,.5 171.5,-1.3 M73.6,20.2 78.6,20.5 83.7,20.7 88.8,20.7 94,20.7 99.1,20.5 104.2,20.2 109.3,19.8 114.3,19.2 119.3,18.6 124.2,17.8 129.1,16.9 133.9,15.9 138.5,14.8 143.1,13.6 147.5,12.3 151.9,10.8 156.1,9.3 160.1,7.7 164,6.1 167.8,4.3 171.3,2.5 M78,23.3 83.3,23.5 88.6,23.6 94,23.5 99.3,23.3 104.7,23 110,22.6 115.2,22 120.4,21.3 125.5,20.5 130.6,19.6 135.6,18.5 140.4,17.3 145.2,16.1 149.8,14.7 154.3,13.2 158.7,11.6 162.9,10 166.9,8.2 170.8,6.4 M82.9,26.4 88.5,26.5 94,26.4 99.6,26.2 105.1,25.9 110.6,25.4 116.1,24.8 121.5,24.1 126.9,23.2 132.1,22.3 137.3,21.2 142.3,19.9 147.3,18.6 152.1,17.2 156.7,15.6 161.3,14 165.6,12.2 169.8,10.4 M94,29.4 99.8,29.1 105.6,28.8 111.3,28.3 117,27.7 122.6,26.9 128.2,26 133.7,25 139,23.8 144.3,22.6 149.4,21.2 154.4,19.7 159.2,18.1 163.9,16.3 168.4,14.5 M100.1,32.1 106.1,31.7 112,31.2 117.9,30.6 123.8,29.8 129.5,28.8 135.2,27.8 140.8,26.6 146.2,25.2 151.5,23.8 156.7,22.2 161.7,20.5 M112.7,34.2 118.9,33.5 124.9,32.7 130.9,31.7 136.8,30.6 142.6,29.3 148.2,27.9 153.7,26.4"/><radialGradient id="gtint"><stop offset="0" stop-color="#28f040" stop-opacity="0.9"/><stop offset="0.6" stop-color="#20d080" stop-opacity="0.4"/><stop offset="1" stop-color="#20c0a0" stop-opacity="0"/></radialGradient><path id="ext" d="M35.6,-17.1 45,-13.6 53.9,-10.4 62.4,-7.5 M105.6,-30.3 100.9,-34.8 95.9,-39.5 90.4,-44.4 M13.8,-3.9 20.4,-2.1 26.8,-.4 33.2,1.2 39.3,2.7 45.4,4 51.3,5.3 57,6.4 M127.8,-32 126,-34.9 124,-37.8 121.9,-40.8 119.6,-43.8 117.2,-46.8 114.6,-50 111.9,-53.1 M15.5,10.7 21,11.8 26.5,12.8 31.9,13.7 37.1,14.5 42.3,15.3 47.4,16 52.4,16.6 57.3,17.1 62.1,17.6 M144.8,-28.8 144,-31.1 143.1,-33.5 142,-35.9 140.9,-38.3 139.6,-40.8 138.3,-43.2 136.8,-45.7 135.3,-48.3 133.7,-50.8 M35.6,24.8 40.4,25.2 45.1,25.6 49.8,25.9 54.3,26.2 58.8,26.4 63.2,26.5 67.5,26.6 71.7,26.6 75.9,26.6 M158.7,-21.6 158.5,-23.6 158.2,-25.7 157.9,-27.7 157.5,-29.8 157,-31.9 156.4,-34.1 155.7,-36.2 155,-38.4 154.2,-40.6 M50.1,34.8 54.4,34.9 58.7,34.9 62.9,34.8 67,34.8 71.1,34.6 75.1,34.4 79,34.2 82.8,34 86.6,33.6 90.2,33.3 M169.1,-14.2 169.4,-16.1 169.6,-17.9 169.7,-19.8 169.8,-21.6 169.8,-23.6 169.7,-25.5 169.6,-27.4 169.4,-29.4 169.1,-31.3 168.8,-33.3 M61.9,43 66,42.8 69.9,42.6 73.8,42.3 77.7,42 81.5,41.6 85.2,41.2 88.8,40.8 92.4,40.3 95.9,39.8 99.4,39.2 102.8,38.6 106.1,38 109.3,37.3 112.5,36.6 M175.4,-2.7 176.2,-4.4 176.9,-6.1 177.6,-7.8 178.2,-9.5 178.7,-11.2 179.2,-12.9 179.6,-14.7 179.9,-16.5 180.2,-18.3 180.4,-20.1 180.5,-21.9 180.6,-23.7 180.6,-25.5 180.6,-27.4 M72.3,50.3 76.2,49.9 79.9,49.4 83.6,49 87.3,48.5 90.9,47.9 94.4,47.4 97.9,46.8 101.3,46.1 104.6,45.5 107.9,44.8 111.1,44.1 114.3,43.3 117.4,42.5 120.4,41.7 123.4,40.8 126.3,40 129.2,39 131.9,38.1 134.6,37.1 137.3,36.1 139.9,35.1 142.4,34 144.8,33 147.2,31.8 149.5,30.7 151.8,29.5 M167.5,19.3 169.1,18 170.7,16.6 172.3,15.1 173.8,13.7 175.2,12.2 176.5,10.7 177.8,9.2 179,7.7 180.2,6.2 181.3,4.6 182.3,3.1 183.3,1.5 184.2,-.1 185.1,-1.8 185.9,-3.4 186.7,-5 187.3,-6.7 188,-8.4 188.5,-10.1 189.1,-11.8 189.5,-13.5 189.9,-15.2 190.3,-16.9 190.6,-18.7 190.8,-20.4 191,-22.2 M82,56.9 85.6,56.4 89.2,55.8 92.8,55.2 96.3,54.6 99.8,53.9 103.1,53.2 106.5,52.5 109.8,51.7 113,51 116.1,50.2 119.3,49.3 122.3,48.5 125.3,47.6 128.2,46.6 131.1,45.7 133.9,44.7 136.7,43.7 139.4,42.7 142,41.7 144.6,40.6 147.1,39.5 149.6,38.4 152,37.3 154.3,36.1 156.6,34.9 158.8,33.7 161,32.5 163.1,31.2 165.1,30 167.1,28.7 169.1,27.4 170.9,26 172.7,24.7 174.5,23.3 176.2,21.9 177.8,20.5 179.4,19.1 180.9,17.7 182.4,16.2 183.8,14.7 185.1,13.3 186.4,11.8 187.7,10.2 188.9,8.7 190,7.2 191.1,5.6 192.1,4 193,2.4 193.9,.8 194.8,-.8 195.6,-2.4 196.4,-4 197.1,-5.7 197.7,-7.3 198.3,-9 198.9,-10.7 199.4,-12.4 199.8,-14 200.2,-15.7 200.6,-17.5 M91.1,63.3 94.7,62.6 98.2,61.9 101.6,61.2 105,60.5 108.3,59.7 111.6,58.9 114.8,58 118,57.2 121.1,56.3 124.2,55.4 127.2,54.5 130.2,53.5 133.1,52.6 136,51.6 138.8,50.6 141.5,49.5 144.2,48.5 146.9,47.4 149.4,46.3 152,45.1 154.4,44 156.9,42.8 159.2,41.6 161.5,40.4 163.8,39.2 166,38 168.1,36.7 170.2,35.4 172.3,34.1 174.2,32.8 176.2,31.5 178,30.1 179.9,28.8 181.6,27.4 183.3,26 185,24.6 186.6,23.1 188.2,21.7 189.7,20.2 191.1,18.8 192.5,17.3 193.8,15.8 195.1,14.3 196.4,12.8 197.6,11.2 198.7,9.7 199.8,8.1 200.8,6.6 201.8,5 202.8,3.4 203.7,1.8 204.5,.2 205.3,-1.4 206.1,-3 206.8,-4.7 207.4,-6.3 208.1,-8 208.6,-9.6 209.2,-11.3 209.6,-12.9 M100,69.5 103.4,68.7 106.8,67.9 110.2,67.1 113.5,66.2 116.7,65.3 119.9,64.4 123.1,63.5 126.2,62.6 129.2,61.6 132.2,60.6 135.2,59.6 138.1,58.6 140.9,57.6 143.7,56.5 146.5,55.4 149.2,54.3 151.8,53.2 154.4,52.1 156.9,50.9 159.4,49.7 161.9,48.5 164.2,47.3 166.6,46.1 168.9,44.8 171.1,43.6 173.3,42.3 175.4,41 177.5,39.7 179.5,38.4 181.5,37 183.4,35.7 185.3,34.3 187.1,32.9 188.9,31.5 190.6,30.1 192.3,28.7 193.9,27.2 195.5,25.8 197,24.3 198.5,22.8 199.9,21.4 201.3,19.9 202.7,18.4 203.9,16.8 205.2,15.3 206.4,13.8 207.5,12.2 208.6,10.7 209.7,9.1 210.7,7.5 211.7,6 212.6,4.4 213.5,2.8 214.3,1.2 215.1,-.4 215.8,-2.1 216.5,-3.7 217.2,-5.3 217.8,-6.9 218.4,-8.6 M108.7,75.5 112.1,74.7 115.4,73.8 118.7,72.8 121.9,71.9 125.1,70.9 128.2,70 131.3,69 134.3,68 137.3,66.9 140.3,65.9 M218.6,11.7 219.6,10.1 220.6,8.5 221.5,6.9 222.4,5.3 223.3,3.7 224.1,2.1 224.8,.5 225.6,-1.1 226.3,-2.7 226.9,-4.3"/><path id="rings" d="M148.2,5 147.5,4.2 146.6,3.4 145.6,2.6 144.6,1.9 143.4,1.2 142.2,.6 141,0 139.7,-.6 138.3,-1 136.8,-1.5 135.4,-1.8 133.9,-2.2 132.3,-2.4 130.8,-2.6 129.2,-2.7 127.6,-2.8 126.1,-2.8 124.5,-2.7 122.9,-2.6 121.4,-2.4 119.8,-2.2 118.3,-1.9 116.9,-1.5 115.4,-1.1 114.1,-.7 112.8,-.1 111.5,.5 110.3,1.1 109.2,1.8 108.2,2.5 107.2,3.2 106.4,4 105.6,4.9 104.9,5.8 104.3,6.6 103.9,7.6 103.5,8.5 103.2,9.5 103.1,10.4 103,11.4 103.1,12.4 103.3,13.3 103.6,14.3 104,15.3 104.5,16.2 105.1,17.1 105.8,18 106.7,18.9 107.6,19.7 108.6,20.5 109.8,21.3 111,22 112.3,22.6 113.6,23.2 115.1,23.7 116.5,24.2 118.1,24.6 119.7,25 121.3,25.3 123,25.5 M153.7,3.5 152.7,2.5 151.6,1.5 150.4,.5 149,-.4 147.6,-1.3 146.1,-2.1 144.5,-2.8 142.9,-3.5 141.1,-4.1 139.3,-4.6 137.5,-5.1 135.6,-5.5 133.7,-5.8 131.7,-6 129.8,-6.2 127.8,-6.3 125.8,-6.3 123.8,-6.2 121.9,-6 119.9,-5.8 118,-5.5 116.1,-5.1 114.3,-4.7 112.5,-4.2 110.8,-3.6 109.2,-2.9 107.6,-2.2 106.1,-1.4 104.7,-.6 103.4,.3 102.2,1.3 101.1,2.3 100.1,3.3 99.2,4.4 98.5,5.5 97.9,6.7 97.4,7.9 97,9.1 96.8,10.3 96.8,11.5 96.8,12.7 97,14 97.4,15.2 97.9,16.4 98.5,17.6 99.3,18.8 100.2,19.9 101.2,21 102.4,22.1 103.7,23.1 105.1,24 106.7,24.9 108.3,25.8 110,26.5 111.8,27.2 113.7,27.8 115.7,28.4 117.7,28.8 119.8,29.2 121.9,29.5 M159.2,2 157.9,.7 156.6,-.5 155.1,-1.6 153.5,-2.7 151.8,-3.7 149.9,-4.7 148,-5.6 146,-6.4 143.9,-7.1 141.8,-7.7 139.6,-8.3 137.3,-8.7 135,-9.1 132.7,-9.4 130.3,-9.6 128,-9.7 125.6,-9.7 123.2,-9.6 120.9,-9.4 118.5,-9.1 116.3,-8.8 114,-8.3 111.8,-7.8 109.7,-7.2 107.6,-6.5 105.6,-5.7 103.7,-4.9 101.9,-3.9 100.2,-2.9 98.6,-1.8 97.2,-.7 95.8,.5 94.6,1.8 93.6,3.1 92.7,4.4 91.9,5.8 91.3,7.2 90.9,8.7 90.6,10.1 90.5,11.6 90.5,13.1 90.8,14.6 91.2,16.1 91.8,17.5 92.5,19 93.4,20.4 94.5,21.8 95.8,23.1 97.2,24.4 98.7,25.7 100.4,26.8 102.3,27.9 104.2,29 106.3,29.9 108.5,30.7 110.8,31.5 113.2,32.1 M164.6,.5 163.1,-1 161.5,-2.4 159.8,-3.7 157.9,-5 155.9,-6.2 153.7,-7.3 151.5,-8.3 149.1,-9.2 146.7,-10 144.2,-10.8 141.6,-11.4 139,-11.9 136.3,-12.3 133.6,-12.7 130.9,-12.9 128.1,-13 125.4,-13 122.6,-12.9 119.9,-12.7 117.2,-12.4 114.5,-12 111.9,-11.5 109.3,-10.9 106.8,-10.2 104.4,-9.4 102.1,-8.5 99.9,-7.5 97.8,-6.4 95.8,-5.2 93.9,-4 92.2,-2.6 90.6,-1.2 89.2,.2 88,1.7 86.9,3.3 86,4.9 85.2,6.6 84.7,8.3 84.3,10 84.2,11.7 84.2,13.5 84.5,15.2 84.9,17 85.6,18.7 86.5,20.4 87.5,22.1 88.8,23.7 90.2,25.3 91.9,26.8 93.7,28.3 M168.2,-2.7 166.4,-4.3 164.4,-5.8 162.2,-7.2 159.9,-8.6 157.5,-9.8 154.9,-11 152.2,-12 149.5,-12.9 146.6,-13.8 143.7,-14.5 140.7,-15.1 137.6,-15.6 134.5,-15.9 131.4,-16.2 128.3,-16.3 125.1,-16.3 122,-16.2 118.9,-16 115.8,-15.6 112.8,-15.2 109.8,-14.6 106.9,-13.9 104.1,-13.1 101.3,-12.2 98.7,-11.2 96.1,-10 93.7,-8.8 91.4,-7.5 89.3,-6.1 87.3,-4.6 85.5,-3 83.8,-1.3 82.4,.4 81.1,2.2 80.1,4 79.2,5.9 78.5,7.9 78.1,9.8 77.9,11.8 77.9,13.8 78.2,15.9 78.7,17.9 79.4,19.9 80.4,21.8 M163.9,-10.9 161.1,-12.3 158.3,-13.6 155.3,-14.8 152.2,-15.8 148.9,-16.7 145.7,-17.5 142.3,-18.2 138.9,-18.7 135.4,-19.1 131.9,-19.4 128.4,-19.5 124.9,-19.6 121.4,-19.4 118,-19.2 114.5,-18.8 111.1,-18.3 107.8,-17.6 104.5,-16.9 101.3,-16 98.2,-15 95.2,-13.8 92.4,-12.6 89.7,-11.2 87.1,-9.7 84.7,-8.1 82.4,-6.5 80.4,-4.7 78.5,-2.8 76.8,-.9 75.4,1.1 74.2,3.2 73.2,5.3 72.4,7.5 71.9,9.7 71.6,11.9 71.6,14.2 M154.8,-18.6 151.3,-19.6 147.6,-20.5 143.9,-21.2 140.1,-21.8 136.3,-22.3 132.5,-22.6 128.6,-22.7 124.7,-22.8 120.9,-22.6 117,-22.3 113.2,-21.9 109.4,-21.4 105.7,-20.7 102.1,-19.8 98.6,-18.8 95.2,-17.7 91.9,-16.5 88.7,-15.1 85.7,-13.6 82.8,-12 80.1,-10.2 77.6,-8.4 75.3,-6.4 73.2,-4.4 71.3,-2.2 69.7,0 68.3,2.3 67.1,4.7 M137.2,-25.4 133,-25.7 128.7,-25.9 124.5,-25.9 120.3,-25.7 116.1,-25.4 111.9,-25 107.8,-24.4 103.8,-23.6 99.8,-22.7 95.9,-21.6 92.2,-20.4 88.6,-19.1 85.1,-17.6 81.8,-15.9 78.6,-14.1 75.6,-12.3 72.9,-10.2 70.3,-8.1 68,-5.9"/><path id="rings2" d="M151,4.3 150.1,3.3 149.1,2.4 148,1.6 146.8,.7 145.5,0 144.2,-.8 142.8,-1.4 141.3,-2 139.7,-2.6 138.1,-3 136.4,-3.5 134.7,-3.8 133,-4.1 131.3,-4.3 129.5,-4.5 127.7,-4.5 125.9,-4.5 124.2,-4.5 122.4,-4.3 120.6,-4.1 118.9,-3.9 117.2,-3.5 115.6,-3.1 114,-2.7 112.4,-2.1 111,-1.5 109.5,-.9 108.2,-.2 107,.6 105.8,1.4 104.7,2.3 103.7,3.2 102.8,4.1 102.1,5.1 101.4,6.1 100.9,7.1 100.4,8.2 100.1,9.3 99.9,10.4 99.9,11.5 100,12.6 100.2,13.7 100.5,14.8 100.9,15.8 101.5,16.9 102.2,17.9 103,19 104,19.9 105,20.9 106.2,21.8 107.5,22.6 108.8,23.4 110.3,24.2 111.8,24.9 113.4,25.5 115.1,26 116.9,26.5 118.7,26.9 120.5,27.2 122.4,27.5 M156.4,2.8 155.3,1.6 154.1,.5 152.7,-.6 151.3,-1.6 149.7,-2.5 148,-3.4 146.3,-4.2 144.4,-4.9 142.5,-5.6 140.6,-6.2 138.5,-6.7 136.5,-7.1 134.4,-7.4 132.2,-7.7 130.1,-7.9 127.9,-8 125.7,-8 123.5,-7.9 121.4,-7.7 119.2,-7.5 117.1,-7.2 115.1,-6.8 113.1,-6.3 111.1,-5.7 109.2,-5.1 107.4,-4.3 105.7,-3.5 104,-2.7 102.5,-1.8 101,-.8 99.7,.3 98.5,1.4 97.4,2.5 96.4,3.7 95.6,5 94.9,6.2 94.3,7.5 93.9,8.9 93.7,10.2 93.6,11.6 93.7,12.9 93.9,14.3 94.3,15.6 94.8,17 95.5,18.3 96.4,19.6 97.4,20.9 98.5,22.1 99.8,23.2 101.2,24.4 102.8,25.4 104.5,26.4 106.3,27.3 108.2,28.2 110.2,29 112.3,29.7 114.4,30.2 116.7,30.7 119,31.2 121.3,31.5 M161.9,1.2 160.5,-.1 159,-1.4 157.4,-2.7 155.7,-3.8 153.8,-4.9 151.8,-6 149.8,-6.9 147.6,-7.8 145.3,-8.6 143,-9.2 140.6,-9.8 138.2,-10.3 135.7,-10.7 133.2,-11 130.6,-11.2 128,-11.3 125.5,-11.4 122.9,-11.3 120.4,-11.1 117.9,-10.8 115.4,-10.4 112.9,-9.9 110.6,-9.4 108.3,-8.7 106,-7.9 103.9,-7.1 101.8,-6.2 99.8,-5.2 98,-4.1 96.3,-2.9 94.7,-1.7 93.2,-.4 91.9,1 90.8,2.4 89.8,3.9 88.9,5.4 88.3,6.9 87.8,8.5 87.5,10.1 87.3,11.7 87.4,13.3 87.6,14.9 88.1,16.5 88.7,18.1 89.5,19.7 90.5,21.2 91.6,22.8 93,24.2 94.5,25.6 96.2,27 98.1,28.2 100.1,29.4 102.2,30.6 M167.2,-.3 165.7,-1.8 164,-3.3 162.1,-4.8 160,-6.1 157.9,-7.4 155.6,-8.5 153.2,-9.6 150.7,-10.6 148.1,-11.5 145.4,-12.3 142.7,-12.9 139.8,-13.5 137,-14 134.1,-14.3 131.2,-14.5 128.2,-14.7 125.3,-14.7 122.3,-14.6 119.4,-14.4 116.5,-14 113.6,-13.6 110.8,-13.1 108.1,-12.4 105.4,-11.6 102.9,-10.8 100.4,-9.8 98,-8.7 95.7,-7.6 93.6,-6.3 91.6,-5 89.8,-3.6 88.1,-2.1 86.5,-.6 85.2,1.1 84,2.7 83,4.5 82.2,6.3 81.6,8.1 81.2,9.9 81,11.8 81.1,13.7 81.3,15.5 81.8,17.4 82.5,19.3 83.4,21.1 84.5,22.9 85.9,24.7 87.4,26.4 M166.7,-6.8 164.4,-8.3 161.9,-9.8 159.3,-11.1 156.6,-12.3 153.7,-13.4 150.8,-14.4 147.8,-15.2 144.7,-16 141.5,-16.6 138.3,-17.1 135,-17.5 131.7,-17.8 128.4,-17.9 125,-17.9 121.7,-17.8 118.4,-17.6 115.2,-17.2 111.9,-16.7 108.8,-16.1 105.7,-15.4 102.7,-14.5 99.8,-13.6 96.9,-12.5 94.3,-11.3 91.7,-10 89.3,-8.6 87,-7.1 84.9,-5.5 82.9,-3.8 81.2,-2.1 79.6,-.3 78.3,1.6 77.1,3.6 76.2,5.6 75.5,7.7 75,9.8 74.8,11.9 74.8,14 75,16.2 75.5,18.3 M159.9,-14.9 156.8,-16.1 153.5,-17.2 150.1,-18.2 146.6,-19 143.1,-19.7 139.5,-20.3 135.9,-20.7 132.2,-21 128.5,-21.2 124.8,-21.2 121.1,-21 117.5,-20.8 113.9,-20.4 110.3,-19.8 106.8,-19.2 103.3,-18.3 100,-17.4 96.7,-16.3 93.6,-15.1 90.5,-13.8 87.7,-12.4 85,-10.8 82.4,-9.2 80,-7.4 77.8,-5.6 75.9,-3.6 74.1,-1.6 72.5,.5 71.2,2.7 70.2,5 69.3,7.3 68.8,9.6 M148.6,-22 144.7,-22.8 140.8,-23.4 136.8,-23.8 132.7,-24.1 128.7,-24.3 124.6,-24.3 120.6,-24.2 116.5,-23.9 112.6,-23.5 108.6,-22.9 104.8,-22.1 101,-21.3 97.3,-20.2 93.7,-19.1 90.2,-17.8 86.9,-16.3 83.7,-14.7 80.7,-13.1 77.9,-11.2 75.2,-9.3 72.8,-7.3 70.6,-5.1 68.6,-2.9 66.9,-.5 M124.4,-27.4 120,-27.3 115.6,-27 111.3,-26.5 107,-25.9 102.8,-25.1 98.6,-24.1 94.6,-23 90.7,-21.8 86.9,-20.3 83.3,-18.8 79.8,-17.1 76.5,-15.2 73.4,-13.3"/><path id="ringsc" d="M130.1,-7.2 129.2,-7.6 128.3,-8 127.4,-8.4 126.4,-8.7 125.4,-9 124.4,-9.3 123.3,-9.5 122.2,-9.7 121.1,-9.9 120,-10 118.9,-10 117.7,-10.1 116.6,-10 115.5,-10 114.3,-9.9 113.2,-9.7 112.1,-9.5 111.1,-9.3 110,-9 109,-8.7 108.1,-8.4 107.1,-8 106.2,-7.6 105.4,-7.2 104.6,-6.7 103.8,-6.2 103.2,-5.6 102.5,-5.1 102,-4.5 101.5,-3.9 101,-3.3 100.7,-2.7 100.4,-2 100.2,-1.3 100,-.7 99.9,0 100,.7 100,1.3 100.2,2 100.4,2.7 100.8,3.3 101.1,4 101.6,4.6 102.1,5.2 102.7,5.8 103.4,6.4 104.1,6.9 104.9,7.4 105.8,7.9 106.7,8.3 107.6,8.7 108.6,9.1 109.7,9.5 110.7,9.7 111.9,10 113,10.2 114.1,10.4 115.3,10.5 116.5,10.5 117.7,10.6 118.9,10.5 120.1,10.5 121.3,10.4 122.4,10.2 123.6,10 124.7,9.7 125.7,9.5 126.8,9.1 127.8,8.7 128.7,8.3 129.6,7.9 130.5,7.4 131.3,6.9 132,6.4 132.7,5.8 133.3,5.2 133.8,4.6 134.3,4 134.7,3.3 135,2.7 135.2,2 135.4,1.3 135.5,.7 135.5,0 135.4,-.7 135.3,-1.3 135.1,-2 134.8,-2.7 134.4,-3.3 134,-3.9 133.5,-4.5 132.9,-5.1 132.3,-5.6 131.6,-6.2 130.9,-6.7 130.1,-7.2 M133.9,-9.4 132.7,-9.9 131.6,-10.5 130.4,-11 129.1,-11.4 127.8,-11.8 126.4,-12.1 125,-12.4 123.6,-12.7 122.1,-12.9 120.7,-13 119.2,-13.1 117.7,-13.1 116.3,-13.1 114.8,-13 113.3,-12.9 111.9,-12.7 110.5,-12.4 109.1,-12.1 107.7,-11.8 106.4,-11.4 105.1,-11 103.9,-10.5 102.7,-9.9 101.6,-9.3 100.6,-8.7 99.6,-8.1 98.7,-7.4 97.9,-6.7 97.1,-5.9 96.4,-5.1 95.9,-4.3 95.4,-3.5 95,-2.6 94.7,-1.8 94.5,-.9 94.4,0 94.4,.9 94.5,1.8 94.7,2.7 95,3.5 95.4,4.4 95.9,5.2 96.5,6.1 97.2,6.9 98,7.7 98.8,8.4 99.8,9.1 100.8,9.8 101.9,10.4 103.1,11 104.4,11.6 105.7,12.1 107.1,12.5 108.5,12.9 110,13.2 111.5,13.5 113,13.7 114.6,13.9 116.1,13.9 117.7,14 119.3,13.9 120.8,13.9 122.4,13.7 123.9,13.5 125.4,13.2 126.9,12.9 128.3,12.5 129.7,12.1 131,11.6 132.3,11 133.5,10.4 134.6,9.8 135.6,9.1 136.6,8.4 137.5,7.7 138.2,6.9 138.9,6.1 139.5,5.2 140,4.4 140.4,3.5 140.7,2.7 140.9,1.8 141,.9 141,0 140.9,-.9 140.7,-1.8 140.5,-2.6 140.1,-3.5 139.6,-4.3 139,-5.1 138.3,-5.9 137.6,-6.7 136.8,-7.4 135.9,-8.1 134.9,-8.7 133.9,-9.4 M137.6,-11.5 136.2,-12.2 134.8,-12.9 133.3,-13.5 131.7,-14 130.1,-14.5 128.4,-14.9 126.7,-15.3 124.9,-15.6 123.2,-15.8 121.4,-16 119.6,-16.1 117.7,-16.1 115.9,-16.1 114.1,-16 112.3,-15.8 110.5,-15.6 108.8,-15.3 107.1,-14.9 105.4,-14.5 103.8,-14 102.2,-13.5 100.7,-12.9 99.3,-12.2 97.9,-11.5 96.6,-10.8 95.4,-9.9 94.2,-9.1 93.2,-8.2 92.3,-7.3 91.5,-6.3 90.7,-5.3 90.1,-4.3 89.6,-3.2 89.2,-2.2 89,-1.1 88.8,0 88.8,1.1 88.9,2.2 89.2,3.3 89.5,4.4 90,5.5 90.6,6.5 91.3,7.5 92.2,8.5 93.1,9.5 94.2,10.4 95.4,11.3 96.7,12.2 98.1,13 99.5,13.7 101.1,14.4 102.7,15 104.4,15.6 106.2,16.1 108,16.5 109.9,16.8 111.8,17.1 113.8,17.3 115.7,17.4 117.7,17.4 119.7,17.4 121.6,17.3 123.6,17.1 125.5,16.8 127.3,16.5 129.2,16.1 130.9,15.6 132.7,15 134.3,14.4 135.9,13.7 137.3,13 138.7,12.2 140,11.3 141.2,10.5 142.3,9.5 143.2,8.5 144.1,7.5 144.8,6.5 145.4,5.5 145.9,4.4 146.3,3.3 146.5,2.2 146.6,1.1 146.6,0 146.5,-1.1 146.2,-2.2 145.8,-3.2 145.3,-4.3 144.7,-5.3 144,-6.3 143.2,-7.3 142.2,-8.2 141.2,-9.1 140.1,-10 138.9,-10.8 137.6,-11.5 M141.3,-13.7 139.7,-14.5 137.9,-15.3 136.1,-16 134.3,-16.6 132.3,-17.2 130.4,-17.7 128.3,-18.1 126.3,-18.4 124.2,-18.7 122,-18.9 119.9,-19 117.7,-19.1 115.6,-19 113.5,-18.9 111.3,-18.7 109.2,-18.4 107.2,-18.1 105.1,-17.7 103.1,-17.2 101.2,-16.6 99.3,-16 97.5,-15.3 95.8,-14.5 94.2,-13.7 92.6,-12.8 91.2,-11.8 89.9,-10.8 88.6,-9.7 87.5,-8.6 86.5,-7.5 85.6,-6.3 84.9,-5.1 84.3,-3.9 83.8,-2.6 83.5,-1.3 83.3,0 83.3,1.3 83.4,2.6 83.6,3.9 84,5.2 84.6,6.5 85.3,7.8 86.2,9 87.2,10.2 88.3,11.4 89.6,12.5 91,13.6 92.5,14.6 94.1,15.6 95.9,16.5 97.8,17.3 99.7,18 101.8,18.7 103.9,19.3 106.1,19.8 108.3,20.2 110.6,20.5 113,20.8 115.3,20.9 117.7,21 120.1,20.9 122.4,20.8 124.7,20.5 127,20.2 129.3,19.8 131.5,19.3 133.6,18.7 135.7,18 137.6,17.3 139.5,16.5 141.2,15.6 142.9,14.6 144.4,13.6 145.8,12.5 147.1,11.4 148.3,10.2 149.3,9 150.1,7.8 150.8,6.5 151.4,5.2 151.8,3.9 152.1,2.6 152.2,1.3 152.2,0 152,-1.3 151.6,-2.6 151.2,-3.9 150.6,-5.1 149.8,-6.3 149,-7.5 148,-8.6 146.9,-9.8 145.6,-10.8 144.3,-11.8 142.8,-12.8 141.3,-13.7 M144.9,-15.8 143,-16.7 141.1,-17.6 139,-18.4 136.8,-19.2 134.6,-19.8 132.3,-20.4 130,-20.9 127.6,-21.3 125.1,-21.6 122.7,-21.8 120.2,-21.9 117.7,-22 115.3,-21.9 112.8,-21.8 110.4,-21.6 107.9,-21.3 105.5,-20.9 103.2,-20.4 100.9,-19.8 98.7,-19.2 96.5,-18.4 94.4,-17.6 92.4,-16.7 90.5,-15.8 88.7,-14.7 87.1,-13.7 85.5,-12.5 84,-11.3 82.7,-10 81.6,-8.7 80.5,-7.3 79.7,-5.9 78.9,-4.5 78.4,-3 78,-1.5 77.7,0 77.7,1.5 77.8,3 78.1,4.6 78.5,6.1 79.2,7.6 80,9.1 80.9,10.5 82.1,11.9 83.4,13.3 84.9,14.6 86.5,15.9 88.3,17.1 90.2,18.2 92.2,19.2 94.4,20.2 96.7,21.1 99.1,21.9 101.6,22.6 104.1,23.2 106.7,23.7 109.4,24.1 112.2,24.3 114.9,24.5 117.7,24.6 120.5,24.5 123.2,24.3 125.9,24.1 128.6,23.7 131.3,23.2 133.8,22.6 136.3,21.9 138.7,21.1 141,20.2 143.2,19.2 145.2,18.2 147.1,17.1 148.9,15.9 150.5,14.6 152,13.3 153.3,11.9 154.5,10.5 155.5,9.1 156.3,7.6 156.9,6.1 157.4,4.6 157.7,3 157.8,1.5 157.7,0 157.5,-1.5 157.1,-3 156.5,-4.5 155.8,-5.9 154.9,-7.3 153.9,-8.7 152.7,-10 151.4,-11.3 150,-12.5 148.4,-13.7 146.7,-14.8 144.9,-15.8 M148.6,-17.9 146.4,-19 144.1,-20 141.8,-20.9 139.3,-21.7 136.8,-22.4 134.2,-23.1 131.6,-23.6 128.9,-24 126.1,-24.4 123.3,-24.6 120.6,-24.8 117.8,-24.8 115,-24.8 112.2,-24.6 109.4,-24.4 106.6,-24 103.9,-23.6 101.3,-23 98.7,-22.4 96.2,-21.7 93.7,-20.9 91.4,-19.9 89.1,-18.9 86.9,-17.9 84.9,-16.7 83,-15.5 81.2,-14.2 79.5,-12.8 78,-11.4 76.7,-9.9 75.5,-8.3 74.5,-6.7 73.6,-5.1 73,-3.4 72.5,-1.7 72.2,0 72.1,1.7 72.2,3.5 72.5,5.2 73,6.9 73.7,8.7 74.6,10.4 75.7,12 77,13.6 78.5,15.2 80.1,16.7 82,18.2 84,19.5 86.2,20.8 88.5,22.1 91,23.2 93.6,24.2 96.3,25.1 99.2,25.9 102.1,26.6 105.1,27.2 108.2,27.6 111.3,27.9 114.5,28.1 117.7,28.2 120.9,28.1 124,27.9 127.1,27.6 130.2,27.2 133.3,26.6 136.2,25.9 139,25.1 141.8,24.2 144.4,23.2 146.9,22.1 149.2,20.9 151.4,19.6 153.4,18.2 155.3,16.7 156.9,15.2 158.4,13.6 159.7,12 160.8,10.4 161.7,8.7 162.4,7 162.9,5.2 163.2,3.5 163.4,1.7 163.3,0 163,-1.7 162.5,-3.4 161.9,-5.1 161,-6.7 160,-8.3 158.8,-9.9 157.5,-11.4 156,-12.8 154.3,-14.2 152.5,-15.5 150.6,-16.7 148.6,-17.9 M152.1,-20 149.7,-21.2 147.2,-22.3 144.6,-23.3 141.8,-24.2 139,-25 136.1,-25.7 133.1,-26.3 130.1,-26.8 127.1,-27.2 124,-27.4 120.9,-27.6 117.8,-27.7 114.6,-27.6 111.5,-27.4 108.4,-27.2 105.4,-26.8 102.4,-26.3 99.4,-25.7 96.5,-25 93.7,-24.2 91,-23.3 88.3,-22.2 85.8,-21.1 83.4,-19.9 81.1,-18.7 78.9,-17.3 76.9,-15.8 75,-14.3 73.3,-12.7 71.8,-11 70.4,-9.3 69.3,-7.5 68.3,-5.7 67.6,-3.8 67,-1.9 66.6,0 66.5,1.9 66.6,3.9 66.9,5.9 67.4,7.8 68.2,9.7 69.2,11.7 70.4,13.5 71.8,15.4 73.5,17.1 75.3,18.8 77.4,20.5 79.7,22.1 82.1,23.5 84.7,24.9 87.5,26.2 90.5,27.3 93.5,28.4 96.8,29.3 100.1,30.1 103.5,30.7 107,31.2 110.5,31.6 114.1,31.8 117.7,31.9 121.3,31.8 124.8,31.6 128.4,31.2 131.9,30.7 135.3,30.1 138.6,29.3 141.8,28.4 144.9,27.3 147.9,26.2 150.6,24.9 153.3,23.5 155.7,22.1 158,20.5 160.1,18.9 161.9,17.1 163.6,15.4 165,13.5 166.2,11.7 167.2,9.7 168,7.8 168.5,5.9 168.9,3.9 168.9,1.9 168.8,0 168.5,-1.9 167.9,-3.8 167.2,-5.7 166.2,-7.5 165,-9.3 163.7,-11 162.2,-12.7 160.5,-14.3 158.6,-15.8 156.6,-17.3 154.4,-18.7 152.1,-20"/><path id="ringsc2" d="M132,-8.3 131,-8.8 130,-9.2 128.9,-9.7 127.8,-10.1 126.6,-10.4 125.4,-10.7 124.2,-11 122.9,-11.2 121.6,-11.4 120.3,-11.5 119,-11.6 117.7,-11.6 116.4,-11.6 115.1,-11.5 113.8,-11.4 112.6,-11.2 111.3,-11 110.1,-10.7 108.9,-10.4 107.7,-10.1 106.6,-9.7 105.5,-9.2 104.5,-8.8 103.5,-8.3 102.6,-7.7 101.7,-7.1 100.9,-6.5 100.2,-5.9 99.5,-5.2 98.9,-4.5 98.4,-3.8 98,-3.1 97.7,-2.3 97.4,-1.5 97.3,-.8 97.2,0 97.2,.8 97.3,1.6 97.5,2.3 97.7,3.1 98.1,3.9 98.5,4.6 99,5.3 99.7,6 100.3,6.7 101.1,7.4 102,8 102.9,8.6 103.9,9.2 104.9,9.7 106,10.1 107.2,10.6 108.4,11 109.6,11.3 110.9,11.6 112.2,11.8 113.6,12 114.9,12.2 116.3,12.2 117.7,12.3 119.1,12.2 120.5,12.2 121.8,12 123.2,11.8 124.5,11.6 125.8,11.3 127,11 128.2,10.6 129.4,10.1 130.5,9.7 131.5,9.2 132.5,8.6 133.5,8 134.3,7.4 135.1,6.7 135.8,6 136.4,5.3 136.9,4.6 137.3,3.9 137.7,3.1 138,2.3 138.2,1.6 138.3,.8 138.3,0 138.2,-.8 138,-1.5 137.8,-2.3 137.4,-3.1 137,-3.8 136.5,-4.5 135.9,-5.2 135.3,-5.9 134.5,-6.5 133.8,-7.1 132.9,-7.7 132,-8.3 M135.7,-10.4 134.5,-11.1 133.2,-11.7 131.8,-12.2 130.4,-12.7 128.9,-13.1 127.4,-13.5 125.8,-13.9 124.3,-14.1 122.7,-14.3 121,-14.5 119.4,-14.6 117.7,-14.6 116.1,-14.6 114.4,-14.5 112.8,-14.3 111.2,-14.1 109.6,-13.9 108.1,-13.5 106.6,-13.1 105.1,-12.7 103.7,-12.2 102.3,-11.7 101,-11.1 99.7,-10.4 98.6,-9.7 97.5,-9 96.5,-8.2 95.5,-7.4 94.7,-6.6 93.9,-5.7 93.3,-4.8 92.7,-3.9 92.3,-2.9 92,-2 91.7,-1 91.6,0 91.6,1 91.7,2 91.9,3 92.3,4 92.7,4.9 93.3,5.9 93.9,6.8 94.7,7.7 95.6,8.6 96.5,9.4 97.6,10.2 98.8,11 100,11.7 101.3,12.4 102.7,13 104.2,13.5 105.8,14 107.4,14.5 109,14.8 110.7,15.2 112.4,15.4 114.2,15.6 115.9,15.7 117.7,15.7 119.5,15.7 121.2,15.6 123,15.4 124.7,15.2 126.4,14.8 128,14.5 129.6,14 131.2,13.5 132.7,13 134.1,12.4 135.4,11.7 136.6,11 137.8,10.2 138.9,9.4 139.9,8.6 140.7,7.7 141.5,6.8 142.2,5.9 142.7,4.9 143.2,4 143.5,3 143.7,2 143.8,1 143.8,0 143.7,-1 143.5,-2 143.1,-2.9 142.7,-3.9 142.2,-4.8 141.5,-5.7 140.8,-6.6 139.9,-7.4 139,-8.2 138,-9 136.9,-9.7 135.7,-10.4 M139.4,-12.6 137.9,-13.4 136.4,-14.1 134.7,-14.7 133,-15.3 131.2,-15.8 129.4,-16.3 127.5,-16.7 125.6,-17 123.7,-17.3 121.7,-17.4 119.7,-17.5 117.7,-17.6 115.8,-17.5 113.8,-17.4 111.8,-17.3 109.9,-17 108,-16.7 106.1,-16.3 104.3,-15.8 102.5,-15.3 100.8,-14.7 99.1,-14.1 97.5,-13.4 96,-12.6 94.6,-11.8 93.3,-10.9 92,-10 90.9,-9 89.9,-8 89,-6.9 88.2,-5.8 87.5,-4.7 86.9,-3.6 86.5,-2.4 86.2,-1.2 86.1,0 86,1.2 86.2,2.4 86.4,3.6 86.8,4.8 87.3,6 88,7.1 88.8,8.3 89.7,9.4 90.7,10.5 91.9,11.5 93.2,12.5 94.6,13.4 96.1,14.3 97.7,15.1 99.4,15.8 101.2,16.5 103.1,17.1 105.1,17.7 107.1,18.1 109.1,18.5 111.2,18.8 113.4,19 115.5,19.2 117.7,19.2 119.9,19.2 122,19 124.1,18.8 126.2,18.5 128.3,18.1 130.3,17.7 132.3,17.1 134.1,16.5 135.9,15.8 137.7,15.1 139.3,14.3 140.8,13.4 142.2,12.5 143.5,11.5 144.7,10.5 145.7,9.4 146.7,8.3 147.5,7.1 148.1,6 148.6,4.8 149,3.6 149.3,2.4 149.4,1.2 149.4,0 149.2,-1.2 148.9,-2.4 148.5,-3.6 148,-4.7 147.3,-5.8 146.5,-6.9 145.6,-8 144.6,-9 143.4,-10 142.2,-10.9 140.9,-11.8 139.4,-12.6 M143.1,-14.7 141.4,-15.6 139.5,-16.4 137.6,-17.2 135.5,-17.9 133.5,-18.5 131.3,-19 129.1,-19.5 126.9,-19.9 124.7,-20.1 122.4,-20.3 120.1,-20.5 117.7,-20.5 115.4,-20.5 113.1,-20.3 110.8,-20.1 108.6,-19.8 106.3,-19.5 104.2,-19 102,-18.5 99.9,-17.9 97.9,-17.2 96,-16.4 94.1,-15.6 92.4,-14.7 90.7,-13.8 89.1,-12.7 87.7,-11.7 86.3,-10.5 85.1,-9.3 84,-8.1 83.1,-6.8 82.3,-5.5 81.6,-4.2 81.1,-2.8 80.7,-1.4 80.5,0 80.5,1.4 80.6,2.8 80.9,4.3 81.3,5.7 81.9,7.1 82.6,8.4 83.6,9.8 84.6,11.1 85.9,12.3 87.2,13.6 88.7,14.7 90.4,15.8 92.2,16.9 94.1,17.8 96.1,18.7 98.2,19.6 100.4,20.3 102.7,20.9 105.1,21.5 107.5,21.9 110,22.3 112.6,22.5 115.1,22.7 117.7,22.8 120.2,22.7 122.8,22.5 125.3,22.3 127.8,21.9 130.3,21.5 132.6,20.9 134.9,20.3 137.2,19.6 139.3,18.7 141.3,17.9 143.2,16.9 145,15.8 146.7,14.7 148.2,13.6 149.6,12.3 150.8,11.1 151.9,9.8 152.8,8.4 153.5,7.1 154.1,5.7 154.6,4.3 154.9,2.8 155,1.4 154.9,0 154.7,-1.4 154.4,-2.8 153.9,-4.2 153.2,-5.5 152.4,-6.8 151.4,-8.1 150.4,-9.3 149.1,-10.5 147.8,-11.7 146.4,-12.7 144.8,-13.8 143.1,-14.7 M146.8,-16.8 144.7,-17.8 142.6,-18.8 140.4,-19.6 138.1,-20.4 135.7,-21.1 133.3,-21.7 130.8,-22.2 128.2,-22.7 125.6,-23 123,-23.2 120.4,-23.4 117.7,-23.4 115.1,-23.4 112.5,-23.2 109.9,-23 107.3,-22.7 104.7,-22.2 102.2,-21.7 99.8,-21.1 97.4,-20.4 95.1,-19.6 92.9,-18.8 90.8,-17.8 88.7,-16.8 86.8,-15.7 85,-14.6 83.3,-13.3 81.8,-12 80.4,-10.7 79.1,-9.3 78,-7.8 77.1,-6.3 76.3,-4.8 75.7,-3.2 75.2,-1.6 75,0 74.9,1.6 75,3.3 75.3,4.9 75.8,6.5 76.4,8.1 77.3,9.7 78.3,11.3 79.5,12.8 80.9,14.2 82.5,15.7 84.2,17 86.1,18.3 88.2,19.5 90.4,20.6 92.7,21.7 95.1,22.6 97.7,23.5 100.4,24.2 103.1,24.9 105.9,25.4 108.8,25.8 111.7,26.1 114.7,26.3 117.7,26.4 120.7,26.3 123.6,26.1 126.5,25.8 129.4,25.4 132.2,24.9 135,24.2 137.7,23.5 140.2,22.6 142.7,21.7 145,20.7 147.2,19.5 149.3,18.3 151.2,17 152.9,15.7 154.5,14.3 155.9,12.8 157.1,11.3 158.1,9.7 159,8.1 159.7,6.5 160.2,4.9 160.4,3.3 160.6,1.6 160.5,0 160.2,-1.6 159.8,-3.2 159.2,-4.8 158.4,-6.3 157.5,-7.8 156.4,-9.3 155.1,-10.7 153.7,-12 152.2,-13.3 150.5,-14.6 148.7,-15.7 146.8,-16.8 M150.4,-18.9 148.1,-20.1 145.7,-21.1 143.2,-22.1 140.6,-22.9 137.9,-23.7 135.2,-24.4 132.4,-24.9 129.5,-25.4 126.6,-25.8 123.7,-26 120.7,-26.2 117.8,-26.3 114.8,-26.2 111.8,-26 108.9,-25.8 106,-25.4 103.2,-24.9 100.3,-24.4 97.6,-23.7 94.9,-22.9 92.3,-22.1 89.8,-21.1 87.4,-20 85.1,-18.9 83,-17.7 80.9,-16.4 79,-15 77.3,-13.6 75.7,-12 74.2,-10.5 73,-8.8 71.9,-7.1 71,-5.4 70.3,-3.6 69.7,-1.8 69.4,0 69.3,1.8 69.4,3.7 69.7,5.5 70.2,7.4 71,9.2 71.9,11 73.1,12.8 74.4,14.5 76,16.2 77.7,17.8 79.7,19.3 81.8,20.8 84.1,22.2 86.6,23.5 89.3,24.7 92,25.8 94.9,26.7 98,27.6 101.1,28.3 104.3,28.9 107.6,29.4 110.9,29.8 114.3,30 117.7,30 121.1,30 124.4,29.8 127.8,29.4 131,28.9 134.3,28.3 137.4,27.6 140.4,26.7 143.3,25.8 146.1,24.7 148.8,23.5 151.2,22.2 153.6,20.8 155.7,19.3 157.7,17.8 159.4,16.2 161,14.5 162.4,12.8 163.5,11 164.5,9.2 165.2,7.4 165.7,5.5 166,3.7 166.1,1.8 166,0 165.7,-1.8 165.2,-3.6 164.5,-5.4 163.6,-7.1 162.5,-8.8 161.3,-10.5 159.8,-12 158.2,-13.6 156.5,-15 154.6,-16.4 152.5,-17.7 150.4,-18.9"/><clipPath id="outdome"><path clip-rule="evenodd" d="M-60,-130H300V150H-60Z M62.2,-1.5 62.5,-5.1 63.1,-8.6 64,-12.1 65,-15.4 66.2,-18.7 67.6,-21.9 69.2,-25 71,-27.9 72.2,-29.6 74.1,-32.3 76.2,-34.8 78.5,-37.2 80,-38.6 82.3,-40.7 84.7,-42.5 86.4,-43.7 88.8,-45.3 90.6,-46.3 93,-47.6 94.8,-48.5 97.1,-49.5 99,-50.2 100.9,-50.8 103,-51.5 104.9,-51.9 106.8,-52.4 108.8,-52.7 110.4,-53 112.3,-53.2 114.2,-53.3 116.2,-53.4 118.1,-53.5 120,-53.4 122,-53.3 123.9,-53.1 125.4,-52.9 127.4,-52.6 129.4,-52.2 131.3,-51.8 133.2,-51.3 135.3,-50.6 137.2,-49.9 139,-49.2 141.4,-48.2 143.2,-47.3 145.6,-46 147.3,-44.9 149.8,-43.3 152.2,-41.5 153.8,-40.2 156.1,-38.1 158.3,-35.8 159.7,-34.3 161.8,-31.7 163.8,-29 165.6,-26.1 167.3,-23.1 168.7,-20 170,-16.7 170.7,-14.7 171.7,-11.3 172.5,-7.8 173,-4.2 173.3,-.6 173.4,3 173.2,5.3 172.7,7.6 172,9.8 170.9,12.1 169.6,14.3 168,16.4 166.1,18.5 164,20.6 161.5,22.5 158.9,24.3 156,26 152.9,27.6 149.5,29.1 146,30.4 142.3,31.6 138.5,32.6 134.5,33.4 130.5,34 126.3,34.5 122.2,34.8 117.9,34.9 113.7,34.8 109.5,34.5 105.4,34.1 101.3,33.5 97.3,32.7 93.5,31.7 89.8,30.5 86.3,29.2 82.9,27.8 79.8,26.2 76.9,24.5 74.2,22.7 71.7,20.8 69.6,18.8 67.6,16.7 66,14.6 64.7,12.3 63.6,10.1 62.8,7.8 62.3,5.6 62,3.3 62.1,-.4Z"/></clipPath><path id="dsil" d="M62.2,-1.5 62.5,-5.1 63.1,-8.6 64,-12.1 65,-15.4 66.2,-18.7 67.6,-21.9 69.2,-25 71,-27.9 72.2,-29.6 74.1,-32.3 76.2,-34.8 78.5,-37.2 80,-38.6 82.3,-40.7 84.7,-42.5 86.4,-43.7 88.8,-45.3 90.6,-46.3 93,-47.6 94.8,-48.5 97.1,-49.5 99,-50.2 100.9,-50.8 103,-51.5 104.9,-51.9 106.8,-52.4 108.8,-52.7 110.4,-53 112.3,-53.2 114.2,-53.3 116.2,-53.4 118.1,-53.5 120,-53.4 122,-53.3 123.9,-53.1 125.4,-52.9 127.4,-52.6 129.4,-52.2 131.3,-51.8 133.2,-51.3 135.3,-50.6 137.2,-49.9 139,-49.2 141.4,-48.2 143.2,-47.3 145.6,-46 147.3,-44.9 149.8,-43.3 152.2,-41.5 153.8,-40.2 156.1,-38.1 158.3,-35.8 159.7,-34.3 161.8,-31.7 163.8,-29 165.6,-26.1 167.3,-23.1 168.7,-20 170,-16.7 170.7,-14.7 171.7,-11.3 172.5,-7.8 173,-4.2 173.3,-.6 173.4,3 173.2,5.3 172.7,7.6 172,9.8 170.9,12.1 169.6,14.3 168,16.4 166.1,18.5 164,20.6 161.5,22.5 158.9,24.3 156,26 152.9,27.6 149.5,29.1 146,30.4 142.3,31.6 138.5,32.6 134.5,33.4 130.5,34 126.3,34.5 122.2,34.8 117.9,34.9 113.7,34.8 109.5,34.5 105.4,34.1 101.3,33.5 97.3,32.7 93.5,31.7 89.8,30.5 86.3,29.2 82.9,27.8 79.8,26.2 76.9,24.5 74.2,22.7 71.7,20.8 69.6,18.8 67.6,16.7 66,14.6 64.7,12.3 63.6,10.1 62.8,7.8 62.3,5.6 62,3.3 62.1,-.4Z"/><path id="dbase" d="M155,-21.6 151.5,-23.3 147.7,-24.8 143.8,-26.1 139.7,-27.3 135.5,-28.2 131.1,-29 126.7,-29.5 122.3,-29.8 117.8,-29.9 113.3,-29.8 108.8,-29.5 104.4,-28.9 100.1,-28.2 95.8,-27.3 91.7,-26.1 87.8,-24.8 84.1,-23.3 80.5,-21.6 77.2,-19.7 74.2,-17.7 71.4,-15.5 69,-13.2 66.9,-10.7 65.2,-8.2 63.8,-5.5 62.8,-2.8 62.2,0 62,2.8 62.3,5.7 63,8.5 64.1,11.3 65.7,14.1 67.7,16.7 70.1,19.3 72.9,21.8 76.2,24.1 79.7,26.2 83.7,28.2 87.9,29.9 92.4,31.4 97.2,32.6 102.1,33.6 107.2,34.3 112.4,34.8 117.7,34.9 122.9,34.8 128.1,34.3 133.2,33.6 138.2,32.6 142.9,31.4 147.4,29.9 151.7,28.2 155.6,26.2 159.2,24.1 162.5,21.8 165.3,19.3 167.7,16.8 169.7,14.1 171.3,11.3 172.5,8.5 173.2,5.7 173.4,2.8 173.3,0 172.7,-2.8 171.7,-5.5 170.3,-8.2 168.6,-10.7 166.5,-13.2 164.1,-15.5 161.3,-17.7 158.3,-19.7Z"/><path id="drim" d="M62.4,-3.9 63,-7.5 63.7,-11 64.3,-13.1 65.4,-16.5 66.6,-19.7 68.1,-22.9 69.7,-25.9 71.5,-28.8 73.5,-31.5 75.6,-34 77,-35.6 79.2,-37.9 81.5,-40 83.1,-41.3 85.5,-43.1 88,-44.8 89.7,-45.8 92.1,-47.2 93.9,-48.1 96.2,-49.1 98,-49.8 99.9,-50.5 102.1,-51.2 103.9,-51.7 105.8,-52.2 107.8,-52.6 109.8,-52.9 111.4,-53.1 113.3,-53.3 115.2,-53.4 117.1,-53.5 119.1,-53.4 121,-53.4 122.9,-53.2 124.8,-53 126.4,-52.8 128.4,-52.4 130.4,-52 132.3,-51.5 134.3,-50.9 136.3,-50.3 138.1,-49.6 140.5,-48.6 142.3,-47.7 144.7,-46.5 146.5,-45.5 148.9,-43.9 150.6,-42.7 153,-40.8 155.3,-38.8 156.8,-37.4 159.1,-35 161.2,-32.5 163.2,-29.9 164.4,-28.1 166.1,-25.2 167.7,-22.2 169.2,-19 170.4,-15.7 171.4,-12.3 172.3,-8.9 172.9,-5.3"/><radialGradient id="hlg"><stop offset="0" stop-color="#fff" stop-opacity="0.75"/><stop offset="0.5" stop-color="#fff" stop-opacity="0.45"/><stop offset="1" stop-color="#fff" stop-opacity="0"/></radialGradient><ellipse id="dhl" cx="0" cy="0" rx="29" ry="10" fill="url(#hlg)" transform="translate(140,-29) rotate(36)"/><linearGradient id="rga" x1="0" y1="1" x2="0" y2="0"><stop offset="0" stop-color="#0a1ef5"/><stop offset="0.45" stop-color="#005596"/><stop offset="0.8" stop-color="#005d7f"/><stop offset="1" stop-color="#006e96"/></linearGradient><linearGradient id="g0" x1="0" y1="1" x2="0" y2="0"><stop offset="0.0" stop-color="#0a1ef5"/><stop offset="0.2" stop-color="#0642e3"/><stop offset="0.4" stop-color="#0266d1"/><stop offset="0.6" stop-color="#0083ba"/><stop offset="0.8" stop-color="#009a9d"/><stop offset="1.0" stop-color="#00b181"/></linearGradient><linearGradient id="g1" x1="0" y1="1" x2="0" y2="0"><stop offset="0.0" stop-color="#0a1ef5"/><stop offset="0.2" stop-color="#0454da"/><stop offset="0.4" stop-color="#0083ba"/><stop offset="0.6" stop-color="#00a68f"/><stop offset="0.8" stop-color="#00c864"/><stop offset="1.0" stop-color="#06d24f"/></linearGradient><linearGradient id="g2" x1="0" y1="1" x2="0" y2="0"><stop offset="0.0" stop-color="#0a1ef5"/><stop offset="0.2" stop-color="#0266d1"/><stop offset="0.4" stop-color="#009a9d"/><stop offset="0.6" stop-color="#00c864"/><stop offset="0.8" stop-color="#08d548"/><stop offset="1.0" stop-color="#10e22c"/></linearGradient><linearGradient id="g3" x1="0" y1="1" x2="0" y2="0"><stop offset="0.0" stop-color="#0a1ef5"/><stop offset="0.2" stop-color="#0083ba"/><stop offset="0.4" stop-color="#00c864"/><stop offset="0.6" stop-color="#0cdb3a"/><stop offset="0.8" stop-color="#1de81b"/><stop offset="1.0" stop-color="#38e911"/></linearGradient><linearGradient id="g4" x1="0" y1="1" x2="0" y2="0"><stop offset="0.0" stop-color="#0a1ef5"/><stop offset="0.2" stop-color="#008fab"/><stop offset="0.4" stop-color="#04ce56"/><stop offset="0.6" stop-color="#12e525"/><stop offset="0.8" stop-color="#2fe914"/><stop offset="1.0" stop-color="#4eea08"/></linearGradient><linearGradient id="g5" x1="0" y1="1" x2="0" y2="0"><stop offset="0.0" stop-color="#0a1ef5"/><stop offset="0.2" stop-color="#0078c8"/><stop offset="0.4" stop-color="#00b181"/><stop offset="0.6" stop-color="#06d24f"/><stop offset="0.8" stop-color="#10e22c"/><stop offset="1.0" stop-color="#21e819"/></linearGradient><linearGradient id="rgb" x1="0" y1="1" x2="0" y2="0"><stop offset="0" stop-color="#0a1ef5"/><stop offset="0.45" stop-color="#005c9d"/><stop offset="0.8" stop-color="#006a8c"/><stop offset="1" stop-color="#007da5"/></linearGradient><linearGradient id="g6" x1="0" y1="1" x2="0" y2="0"><stop offset="0.0" stop-color="#0a1ef5"/><stop offset="0.2" stop-color="#009a9d"/><stop offset="0.4" stop-color="#08d548"/><stop offset="0.6" stop-color="#1de81b"/><stop offset="0.8" stop-color="#40ea0d"/><stop offset="1.0" stop-color="#64eb00"/></linearGradient><linearGradient id="g7" x1="0" y1="1" x2="0" y2="0"><stop offset="0.0" stop-color="#0a1ef5"/><stop offset="0.2" stop-color="#00a68f"/><stop offset="0.4" stop-color="#0cdb3a"/><stop offset="0.6" stop-color="#2ae916"/><stop offset="0.8" stop-color="#52ea07"/><stop offset="1.0" stop-color="#81e800"/></linearGradient><linearGradient id="g8" x1="0" y1="1" x2="0" y2="0"><stop offset="0.0" stop-color="#0a1ef5"/><stop offset="0.2" stop-color="#00c864"/><stop offset="0.4" stop-color="#1de81b"/><stop offset="0.6" stop-color="#52ea07"/><stop offset="0.8" stop-color="#92e700"/><stop offset="1.0" stop-color="#d7e100"/></linearGradient><linearGradient id="g9" x1="0" y1="1" x2="0" y2="0"><stop offset="0.0" stop-color="#0a1ef5"/><stop offset="0.2" stop-color="#06d24f"/><stop offset="0.4" stop-color="#38e911"/><stop offset="0.6" stop-color="#81e800"/><stop offset="0.8" stop-color="#d7e100"/><stop offset="1.0" stop-color="#eca200"/></linearGradient><linearGradient id="g10" x1="0" y1="1" x2="0" y2="0"><stop offset="0.0" stop-color="#0a1ef5"/><stop offset="0.2" stop-color="#0ad841"/><stop offset="0.4" stop-color="#49ea0a"/><stop offset="0.6" stop-color="#a3e600"/><stop offset="0.8" stop-color="#e2c000"/><stop offset="1.0" stop-color="#eb6900"/></linearGradient><linearGradient id="g11" x1="0" y1="1" x2="0" y2="0"><stop offset="0.0" stop-color="#0a1ef5"/><stop offset="0.2" stop-color="#10e22c"/><stop offset="0.4" stop-color="#64eb00"/><stop offset="0.6" stop-color="#d7e100"/><stop offset="0.8" stop-color="#ef8900"/><stop offset="1.0" stop-color="#dc1e00"/></linearGradient><linearGradient id="rgc" x1="0" y1="1" x2="0" y2="0"><stop offset="0" stop-color="#0a1ef5"/><stop offset="0.45" stop-color="#057f64"/><stop offset="0.8" stop-color="#08a52a"/><stop offset="1" stop-color="#0ac332"/></linearGradient><linearGradient id="rgd" x1="0" y1="1" x2="0" y2="0"><stop offset="0" stop-color="#0a1ef5"/><stop offset="0.45" stop-color="#059350"/><stop offset="0.8" stop-color="#08c708"/><stop offset="1" stop-color="#0aeb0a"/></linearGradient><linearGradient id="rge" x1="0" y1="1" x2="0" y2="0"><stop offset="0" stop-color="#0a1ef5"/><stop offset="0.45" stop-color="#058e57"/><stop offset="0.8" stop-color="#08bf15"/><stop offset="1" stop-color="#0ae119"/></linearGradient><linearGradient id="g12" x1="0" y1="1" x2="0" y2="0"><stop offset="0.0" stop-color="#0a1ef5"/><stop offset="0.2" stop-color="#00bd72"/><stop offset="0.4" stop-color="#14e81e"/><stop offset="0.6" stop-color="#45ea0c"/><stop offset="0.8" stop-color="#7be900"/><stop offset="1.0" stop-color="#bae400"/></linearGradient><linearGradient id="g13" x1="0" y1="1" x2="0" y2="0"><stop offset="0.0" stop-color="#0a1ef5"/><stop offset="0.2" stop-color="#08d548"/><stop offset="0.4" stop-color="#40ea0d"/><stop offset="0.6" stop-color="#92e700"/><stop offset="0.8" stop-color="#ddd000"/><stop offset="1.0" stop-color="#ef8900"/></linearGradient><linearGradient id="g14" x1="0" y1="1" x2="0" y2="0"><stop offset="0.0" stop-color="#0a1ef5"/><stop offset="0.2" stop-color="#04ce56"/><stop offset="0.4" stop-color="#2fe914"/><stop offset="0.6" stop-color="#70ea00"/><stop offset="0.8" stop-color="#c0e300"/><stop offset="1.0" stop-color="#e5b700"/></linearGradient><linearGradient id="g15" x1="0" y1="1" x2="0" y2="0"><stop offset="0.0" stop-color="#0a1ef5"/><stop offset="0.2" stop-color="#00b181"/><stop offset="0.4" stop-color="#10e22c"/><stop offset="0.6" stop-color="#38e911"/><stop offset="0.8" stop-color="#64eb00"/><stop offset="1.0" stop-color="#9ee600"/></linearGradient><linearGradient id="rgf" x1="0" y1="1" x2="0" y2="0"><stop offset="0" stop-color="#0a1ef5"/><stop offset="0.45" stop-color="#059155"/><stop offset="0.8" stop-color="#08c311"/><stop offset="1" stop-color="#0ae614"/></linearGradient></defs>
<g transform="translate(32.2,105.3)">
<path d="M0,0L117.8,-59.0L235.6,0L117.6,81.7Z" fill="#0a1ef5"/>
<use href="#spa" fill="none" stroke="#000890" stroke-opacity="0.22" stroke-width="2.4" filter="url(#bl2)"/>
<use href="#sra" fill="none" stroke="#000880" stroke-opacity="0.3" stroke-width="2.2" filter="url(#bl)"/>
<use href="#sqa" fill="none" stroke="#2070f0" stroke-opacity="0.35" stroke-width="2.2" filter="url(#bl)"/>
<use href="#yl" fill="none" stroke="#000890" stroke-opacity="0.38" stroke-width="1.8" filter="url(#bl2)"/>
<use href="#yl2" fill="none" stroke="#3060ff" stroke-opacity="0.3" stroke-width="1.4" filter="url(#bl2)"/>
<use href="#ext" fill="none" stroke="#000890" stroke-opacity="0.35" stroke-width="1.8" filter="url(#bl2)"/>
<g clip-path="url(#outdome)">
<path d="M44.1,-22.1 46.6,-23.4 49,-25 51.4,-26.8 53.9,-29 56.2,-31.5 58.6,-34.1 61,-36.4 63.3,-38 65.7,-38.7 68,-38.7 70.3,-38.4 72.6,-38.3 74.9,-38.4 77.1,-38.9 79.4,-39.8 81.6,-40.8 81.6,-40.7 79.4,-39.6 77.1,-38.4 74.9,-37.3 72.6,-36.2 70.3,-35 68,-33.9 65.7,-32.7 63.3,-31.6 61,-30.4 58.6,-29.2 56.2,-28 53.9,-26.8 51.4,-25.6 49,-24.4 46.6,-23.2 44.1,-22Z" fill="url(#rga)" stroke="url(#rga)" stroke-width=".6"/>
<path d="M45.2,-21.4 47.6,-22.8 50.1,-24.4 52.5,-26.2 54.9,-28.5 57.3,-31.1 59.7,-33.9 62.1,-36.3 64.4,-37.9 66.7,-38.6 69.1,-38.5 71.4,-38.1 73.7,-37.8 75.9,-37.9 78.2,-38.4 80.5,-39.2 82.7,-40.2 82.7,-40.1 80.5,-39 78.2,-37.8 75.9,-36.7 73.7,-35.6 71.4,-34.4 69.1,-33.3 66.7,-32.1 64.4,-30.9 62.1,-29.8 59.7,-28.6 57.3,-27.4 54.9,-26.2 52.5,-25 50.1,-23.8 47.6,-22.6 45.2,-21.3Z" fill="url(#rga)" stroke="url(#rga)" stroke-width=".6"/>
<path d="M46.3,-20.8 48.7,-22.2 51.2,-23.8 53.6,-25.7 56,-28 58.4,-30.8 60.8,-33.7 63.1,-36.2 65.5,-37.9 67.8,-38.5 70.1,-38.3 72.4,-37.8 74.7,-37.4 77,-37.4 79.3,-37.8 81.5,-38.6 83.8,-39.6 83.8,-39.5 81.5,-38.4 79.3,-37.2 77,-36.1 74.7,-35 72.4,-33.8 70.1,-32.7 67.8,-31.5 65.5,-30.3 63.1,-29.1 60.8,-28 58.4,-26.8 56,-25.6 53.6,-24.4 51.2,-23.1 48.7,-21.9 46.3,-20.7Z" fill="url(#rga)" stroke="url(#rga)" stroke-width=".6"/>
<path d="M47.3,-20.1 49.8,-21.5 52.2,-23.2 54.6,-25.1 57.1,-27.6 59.4,-30.5 61.8,-33.5 64.2,-36.1 66.5,-37.8 68.9,-38.4 71.2,-38.1 73.5,-37.5 75.8,-36.9 78.1,-36.9 80.4,-37.3 82.6,-38 84.9,-39 84.9,-38.9 82.6,-37.8 80.4,-36.6 78.1,-35.5 75.8,-34.4 73.5,-33.2 71.2,-32 68.9,-30.9 66.5,-29.7 64.2,-28.5 61.8,-27.3 59.4,-26.1 57.1,-24.9 54.6,-23.7 52.2,-22.5 49.8,-21.3 47.3,-20Z" fill="url(#rga)" stroke="url(#rga)" stroke-width=".6"/>
<path d="M48.4,-19.5 50.9,-20.9 53.3,-22.5 55.7,-24.6 58.1,-27.1 60.5,-30.1 62.9,-33.2 65.3,-35.9 67.6,-37.7 70,-38.3 72.3,-37.9 74.6,-37.1 76.9,-36.5 79.2,-36.4 81.4,-36.7 83.7,-37.4 85.9,-38.4 85.9,-38.3 83.7,-37.2 81.4,-36 79.2,-34.9 76.9,-33.7 74.6,-32.6 72.3,-31.4 70,-30.3 67.6,-29.1 65.3,-27.9 62.9,-26.7 60.5,-25.5 58.1,-24.3 55.7,-23.1 53.3,-21.8 50.9,-20.6 48.4,-19.4Z" fill="url(#rga)" stroke="url(#rga)" stroke-width=".6"/>
<path d="M49.5,-18.8 51.9,-20.3 54.4,-21.9 56.8,-24 59.2,-26.7 61.6,-29.8 64,-33 66.3,-35.8 68.7,-37.6 71,-38.1 73.4,-37.7 75.7,-36.8 78,-36.1 80.3,-35.8 82.5,-36.2 84.8,-36.9 87,-37.8 87,-37.7 84.8,-36.6 82.5,-35.4 80.3,-34.3 78,-33.1 75.7,-32 73.4,-30.8 71,-29.6 68.7,-28.4 66.3,-27.3 64,-26.1 61.6,-24.9 59.2,-23.6 56.8,-22.4 54.4,-21.2 51.9,-20 49.5,-18.7Z" fill="url(#rga)" stroke="url(#rga)" stroke-width=".6"/>
<path d="M50.5,-18.2 53,-19.6 55.4,-21.3 57.9,-23.5 60.3,-26.2 62.7,-29.4 65.1,-32.8 67.4,-35.7 69.8,-37.5 72.1,-38 74.4,-37.5 76.8,-36.5 79.1,-35.6 81.3,-35.3 83.6,-35.6 85.9,-36.3 88.1,-37.2 88.1,-37.1 85.9,-36 83.6,-34.8 81.3,-33.7 79.1,-32.5 76.8,-31.4 74.4,-30.2 72.1,-29 69.8,-27.8 67.4,-26.6 65.1,-25.4 62.7,-24.2 60.3,-23 57.9,-21.8 55.4,-20.5 53,-19.3 50.5,-18.1Z" fill="url(#rga)" stroke="url(#rga)" stroke-width=".6"/>
<path d="M51.6,-17.5 54.1,-19 56.5,-20.7 59,-22.9 61.4,-25.7 63.8,-29.1 66.1,-32.6 68.5,-35.6 70.9,-37.4 73.2,-37.9 75.5,-37.2 77.8,-36.1 80.1,-35.2 82.4,-34.8 84.7,-35 87,-35.7 89.2,-36.6 89.2,-36.5 87,-35.4 84.7,-34.2 82.4,-33.1 80.1,-31.9 77.8,-30.7 75.5,-29.6 73.2,-28.4 70.9,-27.2 68.5,-26 66.1,-24.8 63.8,-23.6 61.4,-22.4 59,-21.1 56.5,-19.9 54.1,-18.6 51.6,-17.4Z" fill="url(#rga)" stroke="url(#rga)" stroke-width=".6"/>
<path d="M52.7,-16.9 55.2,-18.3 57.6,-20.1 60,-22.4 62.5,-25.2 64.9,-28.7 67.2,-32.3 69.6,-35.4 72,-37.3 74.3,-37.8 76.6,-37 78.9,-35.8 81.2,-34.7 83.5,-34.3 85.8,-34.5 88,-35.1 90.3,-36 90.3,-35.9 88,-34.8 85.8,-33.6 83.5,-32.5 81.2,-31.3 78.9,-30.1 76.6,-28.9 74.3,-27.8 72,-26.6 69.6,-25.4 67.2,-24.1 64.9,-22.9 62.5,-21.7 60,-20.5 57.6,-19.2 55.2,-18 52.7,-16.7Z" fill="url(#rga)" stroke="url(#rga)" stroke-width=".6"/>
<path d="M53.8,-16.2 56.3,-17.7 58.7,-19.5 61.1,-21.8 63.5,-24.8 65.9,-28.4 68.3,-32.1 70.7,-35.3 73.1,-37.2 75.4,-37.6 77.7,-36.8 80,-35.5 82.3,-34.3 84.6,-33.8 86.9,-33.9 89.1,-34.5 91.4,-35.4 91.4,-35.3 89.1,-34.2 86.9,-33 84.6,-31.8 82.3,-30.7 80,-29.5 77.7,-28.3 75.4,-27.1 73.1,-25.9 70.7,-24.7 68.3,-23.5 65.9,-22.3 63.5,-21.1 61.1,-19.8 58.7,-18.6 56.3,-17.3 53.8,-16.1Z" fill="url(#rga)" stroke="url(#rga)" stroke-width=".6"/>
<path d="M54.9,-15.5 57.4,-17 59.8,-18.9 62.2,-21.2 64.6,-24.3 67,-28 69.4,-31.9 71.8,-35.2 74.2,-37.2 76.5,-37.5 78.8,-36.6 81.1,-35.1 83.4,-33.9 85.7,-33.2 88,-33.3 90.2,-33.9 92.5,-34.8 92.5,-34.7 90.2,-33.5 88,-32.4 85.7,-31.2 83.4,-30 81.1,-28.9 78.8,-27.7 76.5,-26.5 74.2,-25.3 71.8,-24.1 69.4,-22.9 67,-21.6 64.6,-20.4 62.2,-19.2 59.8,-17.9 57.4,-16.7 54.9,-15.4Z" fill="url(#rga)" stroke="url(#rga)" stroke-width=".6"/>
<path d="M56,-14.9 58.5,-16.4 60.9,-18.3 63.3,-20.7 65.7,-23.8 68.1,-27.6 70.5,-31.7 72.9,-35.1 75.3,-37.1 77.6,-37.4 79.9,-36.4 82.2,-34.8 84.5,-33.4 86.8,-32.7 89.1,-32.7 91.3,-33.3 93.6,-34.2 93.6,-34.1 91.3,-32.9 89.1,-31.8 86.8,-30.6 84.5,-29.4 82.2,-28.2 79.9,-27.1 77.6,-25.9 75.3,-24.6 72.9,-23.4 70.5,-22.2 68.1,-21 65.7,-19.7 63.3,-18.5 60.9,-17.3 58.5,-16 56,-14.7Z" fill="url(#rga)" stroke="url(#rga)" stroke-width=".6"/>
<path d="M57.1,-14.2 59.6,-15.7 62,-17.6 64.4,-20.1 66.8,-23.4 69.2,-27.3 71.6,-31.4 74,-34.9 76.4,-37 78.7,-37.3 81,-36.2 83.3,-34.4 85.6,-33 87.9,-32.2 90.2,-32.2 92.5,-32.7 94.7,-33.6 94.7,-33.5 92.5,-32.3 90.2,-31.2 87.9,-30 85.6,-28.8 83.3,-27.6 81,-26.4 78.7,-25.2 76.4,-24 74,-22.8 71.6,-21.6 69.2,-20.3 66.8,-19.1 64.4,-17.8 62,-16.6 59.6,-15.3 57.1,-14.1Z" fill="url(#rga)" stroke="url(#rga)" stroke-width=".6"/>
<path d="M58.2,-13.5 60.7,-15.1 63.1,-17 65.5,-19.5 68,-22.9 70.4,-26.9 72.7,-31.2 75.1,-34.8 77.5,-36.9 79.8,-37.2 82.1,-35.9 84.4,-34.1 86.7,-32.5 89,-31.7 91.3,-31.6 93.6,-32.1 95.8,-33 95.8,-32.9 93.6,-31.7 91.3,-30.5 89,-29.4 86.7,-28.2 84.4,-27 82.1,-25.8 79.8,-24.6 77.5,-23.4 75.1,-22.1 72.7,-20.9 70.4,-19.7 68,-18.4 65.5,-17.2 63.1,-15.9 60.7,-14.7 58.2,-13.4Z" fill="url(#rga)" stroke="url(#rga)" stroke-width=".6"/>
<path d="M59.3,-12.9 61.8,-14.4 64.2,-16.4 66.6,-19 69.1,-22.4 71.5,-26.6 73.8,-31 76.2,-34.7 78.6,-36.8 80.9,-37 83.2,-35.7 85.6,-33.8 87.9,-32.1 90.1,-31.1 92.4,-31 94.7,-31.5 96.9,-32.4 96.9,-32.3 94.7,-31.1 92.4,-29.9 90.1,-28.7 87.9,-27.5 85.6,-26.3 83.2,-25.1 80.9,-23.9 78.6,-22.7 76.2,-21.5 73.8,-20.3 71.5,-19 69.1,-17.8 66.6,-16.5 64.2,-15.2 61.8,-14 59.3,-12.7Z" fill="url(#rga)" stroke="url(#rga)" stroke-width=".6"/>
<path d="M60.4,-12.2 62.9,-13.8 65.3,-15.7 67.8,-18.3 70.2,-21.8 72.6,-26 75,-30.4 77.3,-34.1 79.7,-36.3 82,-36.5 84.4,-35.2 86.7,-33.2 89,-31.5 91.3,-30.5 93.5,-30.4 95.8,-30.9 98,-31.8 98,-31.6 95.8,-30.5 93.5,-29.3 91.3,-28.1 89,-26.9 86.7,-25.7 84.4,-24.5 82,-23.3 79.7,-22.1 77.3,-20.8 75,-19.6 72.6,-18.4 70.2,-17.1 67.8,-15.8 65.3,-14.6 62.9,-13.3 60.4,-12Z" fill="url(#rga)" stroke="url(#rga)" stroke-width=".6"/>
<path d="M61.5,-11.5 64,-13.1 66.4,-15.1 68.9,-17.7 71.3,-21.1 73.7,-25.3 76.1,-29.8 78.5,-33.5 80.8,-35.6 83.2,-35.9 85.5,-34.5 87.8,-32.6 90.1,-30.8 92.4,-29.9 94.7,-29.8 96.9,-30.3 99.2,-31.2 99.2,-31 96.9,-29.8 94.7,-28.7 92.4,-27.5 90.1,-26.3 87.8,-25.1 85.5,-23.9 83.2,-22.6 80.8,-21.4 78.5,-20.2 76.1,-18.9 73.7,-17.7 71.3,-16.4 68.9,-15.2 66.4,-13.9 64,-12.6 61.5,-11.3Z" fill="url(#rga)" stroke="url(#rga)" stroke-width=".6"/>
<path d="M62.7,-10.8 65.1,-12.4 67.6,-14.4 70,-17 72.4,-20.5 74.8,-24.7 77.2,-29.1 79.6,-32.9 81.9,-35 84.3,-35.2 86.6,-33.9 88.9,-31.9 91.2,-30.2 93.5,-29.3 95.8,-29.1 98,-29.7 100.3,-30.6 100.3,-30.4 98,-29.2 95.8,-28 93.5,-26.8 91.2,-25.6 88.9,-24.4 86.6,-23.2 84.3,-22 81.9,-20.8 79.6,-19.5 77.2,-18.3 74.8,-17 72.4,-15.8 70,-14.5 67.6,-13.2 65.1,-11.9 62.7,-10.6Z" fill="url(#rga)" stroke="url(#rga)" stroke-width=".6"/>
</g>
<use href="#dsil" fill="#c4c4ca" fill-opacity="0.47"/>
<use href="#dbase" fill="#0a1ef5"/>
<use href="#rings" fill="none" stroke="#a0b0ff" stroke-opacity="0.5" stroke-width="2.2" filter="url(#bl2)"/>
<use href="#rings2" fill="none" stroke="#0818b0" stroke-opacity="0.3" stroke-width="1.5" filter="url(#bl)"/>
<g id="spka"><path d="M114.3,-28.4 115.1,-28.7 116,-29.2 116.9,-30.1 117.8,-31.7 118.6,-34 119.5,-36.6 120.4,-38.7 121.3,-39.5 122.2,-38.7 123,-36.6 123.9,-34 124.8,-31.7 125.7,-30.1 126.5,-29.2 127.4,-28.7 128.3,-28.4Z" fill="url(#g0)"/><path d="M121.3,-39.5 121.3,-39.5 122.2,-38.7 123,-36.6 123.9,-34 124.8,-31.7 125.7,-30.1 126.5,-29.2 127.4,-28.7 128.3,-28.4Z" fill="#002" fill-opacity=".25"/><path d="M106.1,-28.4 107,-28.6 107.9,-29.2 108.8,-30.1 109.7,-31.8 110.5,-34.1 111.4,-36.7 112.3,-38.9 113.2,-39.7 114,-38.9 114.9,-36.7 115.8,-34.1 116.7,-31.8 117.5,-30.1 118.4,-29.2 119.3,-28.6 120.2,-28.4Z" fill="url(#g1)"/><path d="M113.2,-39.7 113.2,-39.7 114,-38.9 114.9,-36.7 115.8,-34.1 116.7,-31.8 117.5,-30.1 118.4,-29.2 119.3,-28.6 120.2,-28.4Z" fill="#002" fill-opacity=".25"/><path d="M122.4,-27.8 123.2,-28 124.1,-28.5 125,-29.4 125.8,-31 126.7,-33.2 127.6,-35.6 128.4,-37.7 129.3,-38.5 130.2,-37.7 131.1,-35.6 131.9,-33.2 132.8,-31 133.7,-29.4 134.5,-28.5 135.4,-28 136.3,-27.8Z" fill="url(#g0)"/><path d="M129.3,-38.5 129.3,-38.5 130.2,-37.7 131.1,-35.6 131.9,-33.2 132.8,-31 133.7,-29.4 134.5,-28.5 135.4,-28 136.3,-27.8Z" fill="#002" fill-opacity=".25"/><path d="M98.2,-27.6 99.1,-27.9 99.9,-28.5 100.8,-29.5 101.7,-31.3 102.5,-33.8 103.4,-36.7 104.3,-39 105.1,-39.9 106,-39 106.9,-36.7 107.7,-33.8 108.6,-31.3 109.5,-29.5 110.4,-28.5 111.2,-27.9 112.1,-27.6Z" fill="url(#g1)"/><path d="M105.1,-39.9 105.1,-39.9 106,-39 106.9,-36.7 107.7,-33.8 108.6,-31.3 109.5,-29.5 110.4,-28.5 111.2,-27.9 112.1,-27.6Z" fill="#002" fill-opacity=".25"/><path d="M130.3,-26.4 131.1,-26.6 132,-27.1 132.8,-27.9 133.7,-29.4 134.5,-31.5 135.4,-33.9 136.3,-35.8 137.1,-36.6 138,-35.8 138.8,-33.9 139.7,-31.5 140.5,-29.4 141.4,-27.9 142.2,-27.1 143.1,-26.6 144,-26.4Z" fill="url(#g0)"/><path d="M137.1,-36.6 137.1,-36.6 138,-35.8 138.8,-33.9 139.7,-31.5 140.5,-29.4 141.4,-27.9 142.2,-27.1 143.1,-26.6 144,-26.4Z" fill="#002" fill-opacity=".25"/><path d="M90.6,-26.1 91.4,-26.5 92.3,-27.3 93.1,-28.7 94,-31.1 94.8,-34.5 95.7,-38.4 96.5,-41.6 97.4,-42.8 98.2,-41.6 99.1,-38.4 100,-34.5 100.8,-31.1 101.7,-28.7 102.5,-27.3 103.4,-26.5 104.2,-26.1Z" fill="url(#g2)"/><path d="M97.4,-42.8 97.4,-42.8 98.2,-41.6 99.1,-38.4 100,-34.5 100.8,-31.1 101.7,-28.7 102.5,-27.3 103.4,-26.5 104.2,-26.1Z" fill="#002" fill-opacity=".25"/><path d="M137.8,-24.3 138.6,-24.5 139.4,-25 140.3,-25.8 141.1,-27.2 142,-29.2 142.8,-31.4 143.6,-33.2 144.5,-33.9 145.3,-33.2 146.1,-31.4 147,-29.2 147.8,-27.2 148.7,-25.8 149.5,-25 150.3,-24.5 151.2,-24.3Z" fill="url(#g0)"/><path d="M144.5,-33.9 144.5,-33.9 145.3,-33.2 146.1,-31.4 147,-29.2 147.8,-27.2 148.7,-25.8 149.5,-25 150.3,-24.5 151.2,-24.3Z" fill="#002" fill-opacity=".25"/><path d="M83.4,-24 84.3,-24.5 85.1,-25.7 85.9,-27.9 86.8,-31.6 87.6,-36.8 88.4,-42.7 89.3,-47.5 90.1,-49.4 90.9,-47.5 91.8,-42.7 92.6,-36.8 93.4,-31.6 94.3,-27.9 95.1,-25.7 95.9,-24.5 96.8,-24Z" fill="url(#g3)"/><path d="M90.1,-49.4 90.1,-49.4 90.9,-47.5 91.8,-42.7 92.6,-36.8 93.4,-31.6 94.3,-27.9 95.1,-25.7 95.9,-24.5 96.8,-24Z" fill="#002" fill-opacity=".25"/><path d="M144.7,-21.6 145.5,-21.8 146.3,-22.2 147.2,-23 148,-24.3 148.8,-26.2 149.6,-28.3 150.4,-30 151.2,-30.7 152,-30 152.9,-28.3 153.7,-26.2 154.5,-24.3 155.3,-23 156.1,-22.2 156.9,-21.8 157.7,-21.6Z" fill="url(#g0)"/><path d="M151.2,-30.7 151.2,-30.7 152,-30 152.9,-28.3 153.7,-26.2 154.5,-24.3 155.3,-23 156.1,-22.2 156.9,-21.8 157.7,-21.6Z" fill="#002" fill-opacity=".25"/><path d="M77,-21.1 77.8,-21.8 78.6,-23.2 79.4,-25.9 80.2,-30.3 81,-36.6 81.8,-43.7 82.6,-49.5 83.4,-51.7 84.2,-49.5 85.1,-43.7 85.9,-36.6 86.7,-30.3 87.5,-25.9 88.3,-23.2 89.1,-21.8 89.9,-21.1Z" fill="url(#g4)"/><path d="M83.4,-51.7 83.4,-51.7 84.2,-49.5 85.1,-43.7 85.9,-36.6 86.7,-30.3 87.5,-25.9 88.3,-23.2 89.1,-21.8 89.9,-21.1Z" fill="#002" fill-opacity=".25"/><path d="M150.9,-18.2 151.7,-18.4 152.5,-18.8 153.3,-19.6 154.1,-20.8 154.9,-22.6 155.6,-24.6 156.4,-26.3 157.2,-26.9 158,-26.3 158.8,-24.6 159.6,-22.6 160.4,-20.8 161.2,-19.6 161.9,-18.8 162.7,-18.4 163.5,-18.2Z" fill="url(#g0)"/><path d="M157.2,-26.9 157.2,-26.9 158,-26.3 158.8,-24.6 159.6,-22.6 160.4,-20.8 161.2,-19.6 161.9,-18.8 162.7,-18.4 163.5,-18.2Z" fill="#002" fill-opacity=".25"/><path d="M71.3,-17.7 72.1,-18.3 72.9,-19.4 73.6,-21.5 74.4,-25.1 75.2,-30.2 76,-35.9 76.8,-40.5 77.6,-42.3 78.3,-40.5 79.1,-35.9 79.9,-30.2 80.7,-25.1 81.5,-21.5 82.2,-19.4 83,-18.3 83.8,-17.7Z" fill="url(#g5)"/><path d="M77.6,-42.3 77.6,-42.3 78.3,-40.5 79.1,-35.9 79.9,-30.2 80.7,-25.1 81.5,-21.5 82.2,-19.4 83,-18.3 83.8,-17.7Z" fill="#002" fill-opacity=".25"/><path d="M156.2,-14.3 157,-14.5 157.7,-14.9 158.5,-15.6 159.2,-16.9 160,-18.6 160.8,-20.5 161.5,-22.1 162.3,-22.7 163,-22.1 163.8,-20.5 164.6,-18.6 165.3,-16.9 166.1,-15.6 166.8,-14.9 167.6,-14.5 168.4,-14.3Z" fill="url(#g0)"/><path d="M162.3,-22.7 162.3,-22.7 163,-22.1 163.8,-20.5 164.6,-18.6 165.3,-16.9 166.1,-15.6 166.8,-14.9 167.6,-14.5 168.4,-14.3Z" fill="#002" fill-opacity=".25"/><path d="M66.6,-13.8 67.3,-14.1 68.1,-14.8 68.8,-16.1 69.6,-18.2 70.4,-21.3 71.1,-24.8 71.9,-27.6 72.6,-28.7 73.4,-27.6 74.1,-24.8 74.9,-21.3 75.6,-18.2 76.4,-16.1 77.2,-14.8 77.9,-14.1 78.7,-13.8Z" fill="url(#g1)"/><path d="M72.6,-28.7 72.6,-28.7 73.4,-27.6 74.1,-24.8 74.9,-21.3 75.6,-18.2 76.4,-16.1 77.2,-14.8 77.9,-14.1 78.7,-13.8Z" fill="#002" fill-opacity=".25"/><path d="M160.4,-10 161.1,-10.2 161.8,-10.6 162.6,-11.3 163.3,-12.5 164,-14.1 164.8,-16 165.5,-17.6 166.3,-18.2 167,-17.6 167.7,-16 168.5,-14.1 169.2,-12.5 169.9,-11.3 170.7,-10.6 171.4,-10.2 172.1,-10Z" fill="url(#g0)"/><path d="M166.3,-18.2 166.3,-18.2 167,-17.6 167.7,-16 168.5,-14.1 169.2,-12.5 169.9,-11.3 170.7,-10.6 171.4,-10.2 172.1,-10Z" fill="#002" fill-opacity=".25"/><path d="M62.9,-9.4 63.7,-9.6 64.4,-10.1 65.1,-10.9 65.9,-12.3 66.6,-14.3 67.3,-16.6 68.1,-18.4 68.8,-19.2 69.5,-18.4 70.3,-16.6 71,-14.3 71.7,-12.3 72.5,-10.9 73.2,-10.1 73.9,-9.6 74.7,-9.4Z" fill="url(#g0)"/><path d="M68.8,-19.2 68.8,-19.2 69.5,-18.4 70.3,-16.6 71,-14.3 71.7,-12.3 72.5,-10.9 73.2,-10.1 73.9,-9.6 74.7,-9.4Z" fill="#002" fill-opacity=".25"/><path d="M163.3,-5.3 164,-5.5 164.7,-5.9 165.4,-6.6 166.1,-7.7 166.9,-9.4 167.6,-11.3 168.3,-12.8 169,-13.4 169.7,-12.8 170.5,-11.3 171.2,-9.4 171.9,-7.7 172.6,-6.6 173.3,-5.9 174.1,-5.5 174.8,-5.3Z" fill="url(#g0)"/><path d="M169,-13.4 169,-13.4 169.7,-12.8 170.5,-11.3 171.2,-9.4 171.9,-7.7 172.6,-6.6 173.3,-5.9 174.1,-5.5 174.8,-5.3Z" fill="#002" fill-opacity=".25"/><path d="M60.5,-4.6 61.2,-4.8 61.9,-5.2 62.6,-6 63.3,-7.2 64,-8.9 64.8,-10.9 65.5,-12.5 66.2,-13.1 66.9,-12.5 67.6,-10.9 68.3,-8.9 69.1,-7.2 69.8,-6 70.5,-5.2 71.2,-4.8 71.9,-4.6Z" fill="url(#g0)"/><path d="M66.2,-13.1 66.2,-13.1 66.9,-12.5 67.6,-10.9 68.3,-8.9 69.1,-7.2 69.8,-6 70.5,-5.2 71.2,-4.8 71.9,-4.6Z" fill="#002" fill-opacity=".25"/><path d="M164.7,-.3 165.4,-.5 166.2,-.9 166.9,-1.6 167.6,-2.8 168.3,-4.4 169,-6.3 169.7,-7.8 170.4,-8.4 171.2,-7.8 171.9,-6.3 172.6,-4.4 173.3,-2.8 174,-1.6 174.7,-.9 175.4,-.5 176.2,-.3Z" fill="url(#g0)"/><path d="M170.4,-8.4 170.4,-8.4 171.2,-7.8 171.9,-6.3 172.6,-4.4 173.3,-2.8 174,-1.6 174.7,-.9 175.4,-.5 176.2,-.3Z" fill="#002" fill-opacity=".25"/><path d="M59.2,.3 59.9,.1 60.7,-.2 61.4,-.9 62.1,-2.1 62.8,-3.8 63.5,-5.7 64.2,-7.3 64.9,-7.9 65.7,-7.3 66.4,-5.7 67.1,-3.8 67.8,-2.1 68.5,-.9 69.2,-.2 69.9,.1 70.6,.3Z" fill="url(#g0)"/><path d="M64.9,-7.9 64.9,-7.9 65.7,-7.3 66.4,-5.7 67.1,-3.8 67.8,-2.1 68.5,-.9 69.2,-.2 69.9,.1 70.6,.3Z" fill="#002" fill-opacity=".25"/><path d="M164.7,4.8 165.4,4.6 166.1,4.2 166.8,3.5 167.6,2.2 168.3,.5 169,-1.4 169.7,-3 170.4,-3.6 171.2,-3 171.9,-1.4 172.6,.5 173.3,2.2 174.1,3.5 174.8,4.2 175.5,4.6 176.2,4.8Z" fill="url(#g0)"/><path d="M170.4,-3.6 170.4,-3.6 171.2,-3 171.9,-1.4 172.6,.5 173.3,2.2 174.1,3.5 174.8,4.2 175.5,4.6 176.2,4.8Z" fill="#002" fill-opacity=".25"/><path d="M59.3,5.4 60,5.2 60.8,4.9 61.5,4.2 62.2,3 62.9,1.3 63.7,-.6 64.4,-2.2 65.1,-2.8 65.8,-2.2 66.6,-.6 67.3,1.3 68,3 68.7,4.2 69.5,4.9 70.2,5.2 70.9,5.4Z" fill="url(#g0)"/><path d="M65.1,-2.8 65.1,-2.8 65.8,-2.2 66.6,-.6 67.3,1.3 68,3 68.7,4.2 69.5,4.9 70.2,5.2 70.9,5.4Z" fill="#002" fill-opacity=".25"/><path d="M163,9.8 163.8,9.6 164.5,9.1 165.2,8.2 166,6.7 166.7,4.5 167.5,2 168.2,0 169,-.7 169.7,0 170.5,2 171.2,4.5 172,6.7 172.7,8.2 173.5,9.1 174.2,9.6 175,9.8Z" fill="url(#g0)"/><path d="M169,-.7 169,-.7 169.7,0 170.5,2 171.2,4.5 172,6.7 172.7,8.2 173.5,9.1 174.2,9.6 175,9.8Z" fill="#002" fill-opacity=".25"/><path d="M60.8,10.5 61.5,10.3 62.3,9.9 63,9.2 63.8,8 64.5,6.3 65.3,4.4 66,2.9 66.8,2.3 67.5,2.9 68.3,4.4 69,6.3 69.8,8 70.5,9.2 71.3,9.9 72,10.3 72.8,10.5Z" fill="url(#g0)"/><path d="M66.8,2.3 66.8,2.3 67.5,2.9 68.3,4.4 69,6.3 69.8,8 70.5,9.2 71.3,9.9 72,10.3 72.8,10.5Z" fill="#002" fill-opacity=".25"/><path d="M159.8,14.8 160.6,14.4 161.3,13.6 162.1,12.1 162.9,9.5 163.7,5.9 164.5,1.8 165.2,-1.5 166,-2.8 166.8,-1.5 167.6,1.8 168.4,5.9 169.2,9.5 169.9,12.1 170.7,13.6 171.5,14.4 172.3,14.8Z" fill="url(#g2)"/><path d="M166,-2.8 166,-2.8 166.8,-1.5 167.6,1.8 168.4,5.9 169.2,9.5 169.9,12.1 170.7,13.6 171.5,14.4 172.3,14.8Z" fill="#002" fill-opacity=".25"/><path d="M63.6,15.4 64.4,15.2 65.2,14.8 66,14.1 66.7,12.9 67.5,11.2 68.3,9.3 69.1,7.7 69.9,7.1 70.7,7.7 71.5,9.3 72.2,11.2 73,12.9 73.8,14.1 74.6,14.8 75.4,15.2 76.2,15.4Z" fill="url(#g0)"/><path d="M69.9,7.1 69.9,7.1 70.7,7.7 71.5,9.3 72.2,11.2 73,12.9 73.8,14.1 74.6,14.8 75.4,15.2 76.2,15.4Z" fill="#002" fill-opacity=".25"/><path d="M155,19.4 155.8,18.9 156.7,17.8 157.5,15.8 158.3,12.5 159.2,7.8 160,2.4 160.8,-1.9 161.6,-3.6 162.5,-1.9 163.3,2.4 164.1,7.8 165,12.5 165.8,15.8 166.6,17.8 167.4,18.9 168.3,19.4Z" fill="url(#g5)"/><path d="M161.6,-3.6 161.6,-3.6 162.5,-1.9 163.3,2.4 164.1,7.8 165,12.5 165.8,15.8 166.6,17.8 167.4,18.9 168.3,19.4Z" fill="#002" fill-opacity=".25"/><path d="M67.8,20 68.6,19.8 69.4,19.4 70.3,18.7 71.1,17.5 72,15.7 72.8,13.8 73.6,12.2 74.5,11.6 75.3,12.2 76.1,13.8 77,15.7 77.8,17.5 78.6,18.7 79.5,19.4 80.3,19.8 81.1,20Z" fill="url(#g0)"/><path d="M74.5,11.6 74.5,11.6 75.3,12.2 76.1,13.8 77,15.7 77.8,17.5 78.6,18.7 79.5,19.4 80.3,19.8 81.1,20Z" fill="#002" fill-opacity=".25"/><path d="M148.9,23.5 149.7,23.1 150.6,22.3 151.5,20.8 152.4,18.2 153.3,14.5 154.1,10.3 155,7 155.9,5.6 156.8,7 157.6,10.3 158.5,14.5 159.4,18.2 160.3,20.8 161.2,22.3 162,23.1 162.9,23.5Z" fill="url(#g2)"/><path d="M155.9,5.6 155.9,5.6 156.8,7 157.6,10.3 158.5,14.5 159.4,18.2 160.3,20.8 161.2,22.3 162,23.1 162.9,23.5Z" fill="#002" fill-opacity=".25"/><path d="M73.3,24 74.2,23.8 75.1,23.5 75.9,22.7 76.8,21.5 77.7,19.8 78.6,17.8 79.5,16.2 80.4,15.6 81.2,16.2 82.1,17.8 83,19.8 83.9,21.5 84.8,22.7 85.7,23.5 86.5,23.8 87.4,24Z" fill="url(#g0)"/><path d="M80.4,15.6 80.4,15.6 81.2,16.2 82.1,17.8 83,19.8 83.9,21.5 84.8,22.7 85.7,23.5 86.5,23.8 87.4,24Z" fill="#002" fill-opacity=".25"/><path d="M141.5,27.1 142.4,26.8 143.4,26.3 144.3,25.4 145.2,23.8 146.2,21.5 147.1,19 148,16.9 148.9,16.1 149.9,16.9 150.8,19 151.7,21.5 152.6,23.8 153.6,25.4 154.5,26.3 155.4,26.8 156.3,27.1Z" fill="url(#g0)"/><path d="M148.9,16.1 148.9,16.1 149.9,16.9 150.8,19 151.7,21.5 152.6,23.8 153.6,25.4 154.5,26.3 155.4,26.8 156.3,27.1Z" fill="#002" fill-opacity=".25"/><path d="M80,27.5 80.9,27.3 81.9,26.9 82.8,26.2 83.7,24.9 84.7,23.2 85.6,21.2 86.5,19.6 87.4,19 88.4,19.6 89.3,21.2 90.2,23.2 91.2,24.9 92.1,26.2 93,26.9 94,27.3 94.9,27.5Z" fill="url(#g0)"/><path d="M87.4,19 87.4,19 88.4,19.6 89.3,21.2 90.2,23.2 91.2,24.9 92.1,26.2 93,26.9 94,27.3 94.9,27.5Z" fill="#002" fill-opacity=".25"/><path d="M133.2,29.9 134.2,29.7 135.2,29.3 136.1,28.5 137.1,27.2 138.1,25.4 139,23.4 140,21.7 141,21 141.9,21.7 142.9,23.4 143.9,25.4 144.8,27.2 145.8,28.5 146.8,29.3 147.7,29.7 148.7,29.9Z" fill="url(#g0)"/><path d="M141,21 141,21 141.9,21.7 142.9,23.4 143.9,25.4 144.8,27.2 145.8,28.5 146.8,29.3 147.7,29.7 148.7,29.9Z" fill="#002" fill-opacity=".25"/><path d="M87.8,30.2 88.7,30 89.7,29.6 90.7,28.9 91.6,27.6 92.6,25.9 93.6,23.9 94.6,22.2 95.5,21.6 96.5,22.2 97.5,23.9 98.4,25.9 99.4,27.6 100.4,28.9 101.4,29.6 102.3,30 103.3,30.2Z" fill="url(#g0)"/><path d="M95.5,21.6 95.5,21.6 96.5,22.2 97.5,23.9 98.4,25.9 99.4,27.6 100.4,28.9 101.4,29.6 102.3,30 103.3,30.2Z" fill="#002" fill-opacity=".25"/><path d="M124.2,31.8 125.2,31.6 126.2,31.2 127.2,30.5 128.2,29.3 129.2,27.5 130.2,25.5 131.2,23.8 132.2,23.2 133.2,23.8 134.2,25.5 135.2,27.5 136.2,29.3 137.2,30.5 138.2,31.2 139.2,31.6 140.2,31.8Z" fill="url(#g0)"/><path d="M132.2,23.2 132.2,23.2 133.2,23.8 134.2,25.5 135.2,27.5 136.2,29.3 137.2,30.5 138.2,31.2 139.2,31.6 140.2,31.8Z" fill="#002" fill-opacity=".25"/><path d="M96.3,32 97.3,31.8 98.3,31.4 99.3,30.7 100.3,29.4 101.3,27.7 102.3,25.7 103.3,24 104.3,23.4 105.3,24 106.3,25.7 107.3,27.7 108.3,29.4 109.3,30.7 110.3,31.4 111.3,31.8 112.3,32Z" fill="url(#g0)"/><path d="M104.3,23.4 104.3,23.4 105.3,24 106.3,25.7 107.3,27.7 108.3,29.4 109.3,30.7 110.3,31.4 111.3,31.8 112.3,32Z" fill="#002" fill-opacity=".25"/><path d="M114.9,32.9 115.9,32.7 116.9,32.3 117.9,31.5 118.9,30.3 120,28.5 121,26.5 122,24.9 123,24.2 124,24.9 125,26.5 126,28.5 127.1,30.3 128.1,31.5 129.1,32.3 130.1,32.7 131.1,32.9Z" fill="url(#g0)"/><path d="M123,24.2 123,24.2 124,24.9 125,26.5 126,28.5 127.1,30.3 128.1,31.5 129.1,32.3 130.1,32.7 131.1,32.9Z" fill="#002" fill-opacity=".25"/><path d="M105.5,32.9 106.5,32.7 107.5,32.3 108.5,31.6 109.5,30.3 110.5,28.6 111.6,26.6 112.6,24.9 113.6,24.3 114.6,24.9 115.6,26.6 116.6,28.6 117.7,30.3 118.7,31.6 119.7,32.3 120.7,32.7 121.7,32.9Z" fill="url(#g0)"/><path d="M113.6,24.3 113.6,24.3 114.6,24.9 115.6,26.6 116.6,28.6 117.7,30.3 118.7,31.6 119.7,32.3 120.7,32.7 121.7,32.9Z" fill="#002" fill-opacity=".25"/></g>
<use href="#dsil" fill="#c8c8d4" fill-opacity="0.3"/>
<use href="#spka" opacity="0.4"/>
<use href="#dhl"/>
<use href="#drim" fill="none" stroke="#b8b8bc" stroke-opacity="0.45" stroke-width="1.6"/>
<path d="M0,0V-58.4" stroke="#000" stroke-width="1.15" fill="none"/>
<path d="M-3,0.0H0" stroke="#000" stroke-width="0.9"/>
<text x="-4.3" y="1.7" text-anchor="end" class="t">0.0</text>
<path d="M-3,-19.5H0" stroke="#000" stroke-width="0.9"/>
<text x="-4.3" y="-17.8" text-anchor="end" class="t">10.0</text>
<path d="M-3,-38.9H0" stroke="#000" stroke-width="0.9"/>
<text x="-4.3" y="-37.2" text-anchor="end" class="t">20.0</text>
<path d="M-3,-58.4H0" stroke="#000" stroke-width="0.9"/>
<text x="-4.3" y="-56.7" text-anchor="end" class="t">30.0</text>
<path d="M0,0L117.6,81.7L235.6,0" stroke="#000" stroke-width="1.25" fill="none"/>
<path d="M0.0,-0.0L-3.2,1.6" stroke="#000" stroke-width="0.8"/>
<text x="-2.6" y="8.2" text-anchor="end" class="t">1.5</text>
<path d="M235.6,-0.0L238.8,1.6" stroke="#000" stroke-width="0.8"/>
<text x="237.4" y="7.8" class="t">1.5</text>
<path d="M16.8,11.7L13.6,13.4" stroke="#000" stroke-width="0.8"/>
<text x="14.2" y="19.9" text-anchor="end" class="t">1.0</text>
<path d="M218.7,11.7L221.9,13.4" stroke="#000" stroke-width="0.8"/>
<text x="220.5" y="19.5" class="t">1.0</text>
<path d="M34.7,24.1L31.4,25.9" stroke="#000" stroke-width="0.8"/>
<text x="32.1" y="32.3" text-anchor="end" class="t">0.5</text>
<path d="M200.8,24.1L204.1,25.9" stroke="#000" stroke-width="0.8"/>
<text x="202.6" y="31.9" class="t">0.5</text>
<path d="M53.5,37.2L50.3,39.1" stroke="#000" stroke-width="0.8"/>
<text x="50.9" y="45.4" text-anchor="end" class="t">0.0</text>
<path d="M181.8,37.2L185.1,39.1" stroke="#000" stroke-width="0.8"/>
<text x="183.6" y="45.0" class="t">0.0</text>
<path d="M73.6,51.1L70.3,53.1" stroke="#000" stroke-width="0.8"/>
<text x="71.0" y="59.3" text-anchor="end" class="t">-0.5</text>
<path d="M161.7,51.1L165.0,53.2" stroke="#000" stroke-width="0.8"/>
<text x="163.5" y="58.9" class="t">-0.5</text>
<path d="M94.9,65.9L91.6,68.1" stroke="#000" stroke-width="0.8"/>
<text x="92.3" y="74.1" text-anchor="end" class="t">-1.0</text>
<path d="M140.4,65.9L143.7,68.1" stroke="#000" stroke-width="0.8"/>
<text x="142.2" y="73.7" class="t">-1.0</text>
<path d="M117.6,81.7L114.3,84.0" stroke="#000" stroke-width="0.8"/>
<text x="115.0" y="89.9" text-anchor="end" class="t">-1.5</text>
<path d="M117.6,81.7L120.9,84.0" stroke="#000" stroke-width="0.8"/>
<text x="119.4" y="89.5" class="t">-1.5</text>
<text x="25.6" y="54.5" class="ax">z/a</text>
<text x="194.7" y="54.9" class="ax">y/a</text>
<text transform="translate(-23.4,-17.2) rotate(-90)" font-size="9.6">|E|/E<tspan font-size="6.4" dy="2">0</tspan></text>
</g>
<g transform="translate(305.4,105.3)">
<path d="M0,0L117.8,-56.2L235.6,0L117.6,81.7Z" fill="#0a1ef5"/>
<use href="#spb" fill="none" stroke="#000890" stroke-opacity="0.22" stroke-width="2.4" filter="url(#bl2)"/>
<use href="#srb" fill="none" stroke="#000880" stroke-opacity="0.3" stroke-width="2.2" filter="url(#bl)"/>
<use href="#sqb" fill="none" stroke="#2070f0" stroke-opacity="0.35" stroke-width="2.2" filter="url(#bl)"/>
<use href="#yl" fill="none" stroke="#000890" stroke-opacity="0.38" stroke-width="1.8" filter="url(#bl2)"/>
<use href="#yl2" fill="none" stroke="#3060ff" stroke-opacity="0.3" stroke-width="1.4" filter="url(#bl2)"/>
<use href="#ext" fill="none" stroke="#000890" stroke-opacity="0.35" stroke-width="1.8" filter="url(#bl2)"/>
<g clip-path="url(#outdome)">
<path d="M44.1,-22 46.6,-23.4 49,-24.8 51.4,-26.4 53.9,-28.4 56.2,-30.5 58.6,-32.7 61,-34.7 63.3,-36.2 65.7,-37 68,-37.3 70.3,-37.5 72.6,-37.7 74.9,-38.1 77.1,-38.8 79.4,-39.7 81.6,-40.7 81.6,-40.7 79.4,-39.6 77.1,-38.4 74.9,-37.3 72.6,-36.2 70.3,-35 68,-33.9 65.7,-32.7 63.3,-31.6 61,-30.4 58.6,-29.2 56.2,-28 53.9,-26.8 51.4,-25.6 49,-24.4 46.6,-23.2 44.1,-22Z" fill="url(#rgb)" stroke="url(#rgb)" stroke-width=".6"/>
<path d="M45.2,-21.4 47.6,-22.7 50.1,-24.2 52.5,-25.9 54.9,-27.9 57.3,-30.2 59.7,-32.5 62.1,-34.6 64.4,-36.2 66.7,-37 69.1,-37.2 71.4,-37.2 73.7,-37.2 75.9,-37.6 78.2,-38.3 80.5,-39.1 82.7,-40.1 82.7,-40.1 80.5,-39 78.2,-37.8 75.9,-36.7 73.7,-35.6 71.4,-34.4 69.1,-33.3 66.7,-32.1 64.4,-30.9 62.1,-29.8 59.7,-28.6 57.3,-27.4 54.9,-26.2 52.5,-25 50.1,-23.8 47.6,-22.6 45.2,-21.3Z" fill="url(#rgb)" stroke="url(#rgb)" stroke-width=".6"/>
<path d="M46.3,-20.8 48.7,-22.1 51.2,-23.6 53.6,-25.4 56,-27.5 58.4,-29.9 60.8,-32.4 63.1,-34.6 65.5,-36.1 67.8,-36.9 70.1,-37 72.4,-36.9 74.7,-36.8 77,-37.1 79.3,-37.7 81.5,-38.6 83.8,-39.6 83.8,-39.5 81.5,-38.4 79.3,-37.2 77,-36.1 74.7,-35 72.4,-33.8 70.1,-32.7 67.8,-31.5 65.5,-30.3 63.1,-29.1 60.8,-28 58.4,-26.8 56,-25.6 53.6,-24.4 51.2,-23.1 48.7,-21.9 46.3,-20.7Z" fill="url(#rgb)" stroke="url(#rgb)" stroke-width=".6"/>
<path d="M47.3,-20.1 49.8,-21.5 52.2,-23 54.6,-24.8 57.1,-27 59.4,-29.6 61.8,-32.2 64.2,-34.5 66.5,-36.1 68.9,-36.8 71.2,-36.9 73.5,-36.6 75.8,-36.4 78.1,-36.6 80.4,-37.1 82.6,-38 84.9,-39 84.9,-38.9 82.6,-37.8 80.4,-36.6 78.1,-35.5 75.8,-34.4 73.5,-33.2 71.2,-32 68.9,-30.9 66.5,-29.7 64.2,-28.5 61.8,-27.3 59.4,-26.1 57.1,-24.9 54.6,-23.7 52.2,-22.5 49.8,-21.3 47.3,-20Z" fill="url(#rgb)" stroke="url(#rgb)" stroke-width=".6"/>
<path d="M48.4,-19.5 50.9,-20.8 53.3,-22.4 55.7,-24.3 58.1,-26.6 60.5,-29.3 62.9,-32 65.3,-34.4 67.6,-36.1 70,-36.8 72.3,-36.7 74.6,-36.3 76.9,-36 79.2,-36.1 81.4,-36.6 83.7,-37.4 85.9,-38.4 85.9,-38.3 83.7,-37.2 81.4,-36 79.2,-34.9 76.9,-33.7 74.6,-32.6 72.3,-31.4 70,-30.3 67.6,-29.1 65.3,-27.9 62.9,-26.7 60.5,-25.5 58.1,-24.3 55.7,-23.1 53.3,-21.8 50.9,-20.6 48.4,-19.4Z" fill="url(#rgb)" stroke="url(#rgb)" stroke-width=".6"/>
<path d="M49.5,-18.8 51.9,-20.2 54.4,-21.8 56.8,-23.8 59.2,-26.1 61.6,-28.9 64,-31.8 66.3,-34.4 68.7,-36.1 71,-36.7 73.4,-36.5 75.7,-36 78,-35.6 80.3,-35.6 82.5,-36 84.8,-36.8 87,-37.8 87,-37.7 84.8,-36.6 82.5,-35.4 80.3,-34.3 78,-33.1 75.7,-32 73.4,-30.8 71,-29.6 68.7,-28.4 66.3,-27.3 64,-26.1 61.6,-24.9 59.2,-23.6 56.8,-22.4 54.4,-21.2 51.9,-20 49.5,-18.7Z" fill="url(#rgb)" stroke="url(#rgb)" stroke-width=".6"/>
<path d="M50.5,-18.2 53,-19.6 55.4,-21.2 57.9,-23.2 60.3,-25.7 62.7,-28.6 65.1,-31.7 67.4,-34.3 69.8,-36 72.1,-36.6 74.4,-36.4 76.8,-35.7 79.1,-35.2 81.3,-35.1 83.6,-35.5 85.9,-36.2 88.1,-37.2 88.1,-37.1 85.9,-36 83.6,-34.8 81.3,-33.7 79.1,-32.5 76.8,-31.4 74.4,-30.2 72.1,-29 69.8,-27.8 67.4,-26.6 65.1,-25.4 62.7,-24.2 60.3,-23 57.9,-21.8 55.4,-20.5 53,-19.3 50.5,-18.1Z" fill="url(#rgb)" stroke="url(#rgb)" stroke-width=".6"/>
<path d="M51.6,-17.5 54.1,-18.9 56.5,-20.6 59,-22.7 61.4,-25.3 63.8,-28.3 66.1,-31.5 68.5,-34.2 70.9,-36 73.2,-36.6 75.5,-36.2 77.8,-35.4 80.1,-34.7 82.4,-34.6 84.7,-34.9 87,-35.6 89.2,-36.6 89.2,-36.5 87,-35.4 84.7,-34.2 82.4,-33.1 80.1,-31.9 77.8,-30.7 75.5,-29.6 73.2,-28.4 70.9,-27.2 68.5,-26 66.1,-24.8 63.8,-23.6 61.4,-22.4 59,-21.1 56.5,-19.9 54.1,-18.6 51.6,-17.4Z" fill="url(#rgb)" stroke="url(#rgb)" stroke-width=".6"/>
<path d="M52.7,-16.8 55.2,-18.3 57.6,-20 60,-22.1 62.5,-24.8 64.9,-28 67.2,-31.3 69.6,-34.2 72,-36 74.3,-36.5 76.6,-36 78.9,-35.1 81.2,-34.3 83.5,-34.1 85.8,-34.4 88,-35.1 90.3,-36 90.3,-35.9 88,-34.8 85.8,-33.6 83.5,-32.5 81.2,-31.3 78.9,-30.1 76.6,-28.9 74.3,-27.8 72,-26.6 69.6,-25.4 67.2,-24.1 64.9,-22.9 62.5,-21.7 60,-20.5 57.6,-19.2 55.2,-18 52.7,-16.7Z" fill="url(#rgb)" stroke="url(#rgb)" stroke-width=".6"/>
<path d="M53.8,-16.2 56.3,-17.7 58.7,-19.4 61.1,-21.6 63.5,-24.4 65.9,-27.7 68.3,-31.1 70.7,-34.1 73.1,-36 75.4,-36.5 77.7,-35.8 80,-34.8 82.3,-33.9 84.6,-33.5 86.9,-33.8 89.1,-34.5 91.4,-35.4 91.4,-35.3 89.1,-34.2 86.9,-33 84.6,-31.8 82.3,-30.7 80,-29.5 77.7,-28.3 75.4,-27.1 73.1,-25.9 70.7,-24.7 68.3,-23.5 65.9,-22.3 63.5,-21.1 61.1,-19.8 58.7,-18.6 56.3,-17.3 53.8,-16.1Z" fill="url(#rgb)" stroke="url(#rgb)" stroke-width=".6"/>
<path d="M54.9,-15.5 57.4,-17 59.8,-18.8 62.2,-21 64.6,-23.9 67,-27.3 69.4,-31 71.8,-34 74.2,-35.9 76.5,-36.4 78.8,-35.7 81.1,-34.5 83.4,-33.5 85.7,-33 88,-33.2 90.2,-33.9 92.5,-34.8 92.5,-34.7 90.2,-33.5 88,-32.4 85.7,-31.2 83.4,-30 81.1,-28.9 78.8,-27.7 76.5,-26.5 74.2,-25.3 71.8,-24.1 69.4,-22.9 67,-21.6 64.6,-20.4 62.2,-19.2 59.8,-17.9 57.4,-16.7 54.9,-15.4Z" fill="url(#rgb)" stroke="url(#rgb)" stroke-width=".6"/>
<path d="M56,-14.9 58.5,-16.4 60.9,-18.2 63.3,-20.5 65.7,-23.5 68.1,-27 70.5,-30.8 72.9,-34 75.3,-35.9 77.6,-36.3 79.9,-35.5 82.2,-34.2 84.5,-33 86.8,-32.5 89.1,-32.7 91.3,-33.3 93.6,-34.2 93.6,-34.1 91.3,-32.9 89.1,-31.8 86.8,-30.6 84.5,-29.4 82.2,-28.2 79.9,-27.1 77.6,-25.9 75.3,-24.6 72.9,-23.4 70.5,-22.2 68.1,-21 65.7,-19.7 63.3,-18.5 60.9,-17.3 58.5,-16 56,-14.7Z" fill="url(#rgb)" stroke="url(#rgb)" stroke-width=".6"/>
<path d="M57.1,-14.2 59.6,-15.7 62,-17.6 64.4,-19.9 66.8,-23 69.2,-26.7 71.6,-30.6 74,-33.9 76.4,-35.9 78.7,-36.3 81,-35.3 83.3,-33.9 85.6,-32.6 87.9,-32 90.2,-32.1 92.5,-32.7 94.7,-33.6 94.7,-33.5 92.5,-32.3 90.2,-31.2 87.9,-30 85.6,-28.8 83.3,-27.6 81,-26.4 78.7,-25.2 76.4,-24 74,-22.8 71.6,-21.6 69.2,-20.3 66.8,-19.1 64.4,-17.8 62,-16.6 59.6,-15.3 57.1,-14.1Z" fill="url(#rgb)" stroke="url(#rgb)" stroke-width=".6"/>
<path d="M58.2,-13.5 60.7,-15.1 63.1,-16.9 65.5,-19.4 68,-22.5 70.4,-26.4 72.7,-30.4 75.1,-33.8 77.5,-35.9 79.8,-36.2 82.1,-35.2 84.4,-33.6 86.7,-32.2 89,-31.5 91.3,-31.5 93.6,-32.1 95.8,-33 95.8,-32.9 93.6,-31.7 91.3,-30.5 89,-29.4 86.7,-28.2 84.4,-27 82.1,-25.8 79.8,-24.6 77.5,-23.4 75.1,-22.1 72.7,-20.9 70.4,-19.7 68,-18.4 65.5,-17.2 63.1,-15.9 60.7,-14.7 58.2,-13.4Z" fill="url(#rgb)" stroke="url(#rgb)" stroke-width=".6"/>
<path d="M59.3,-12.8 61.8,-14.4 64.2,-16.3 66.6,-18.8 69.1,-22.1 71.5,-26.1 73.8,-30.2 76.2,-33.8 78.6,-35.9 80.9,-36.1 83.2,-35 85.6,-33.3 87.9,-31.8 90.1,-31 92.4,-30.9 94.7,-31.5 96.9,-32.4 96.9,-32.3 94.7,-31.1 92.4,-29.9 90.1,-28.7 87.9,-27.5 85.6,-26.3 83.2,-25.1 80.9,-23.9 78.6,-22.7 76.2,-21.5 73.8,-20.3 71.5,-19 69.1,-17.8 66.6,-16.5 64.2,-15.2 61.8,-14 59.3,-12.7Z" fill="url(#rgb)" stroke="url(#rgb)" stroke-width=".6"/>
<path d="M60.4,-12.2 62.9,-13.7 65.3,-15.7 67.8,-18.2 70.2,-21.5 72.6,-25.5 75,-29.7 77.3,-33.2 79.7,-35.3 82,-35.6 84.4,-34.4 86.7,-32.7 89,-31.2 91.3,-30.4 93.5,-30.3 95.8,-30.9 98,-31.8 98,-31.6 95.8,-30.5 93.5,-29.3 91.3,-28.1 89,-26.9 86.7,-25.7 84.4,-24.5 82,-23.3 79.7,-22.1 77.3,-20.8 75,-19.6 72.6,-18.4 70.2,-17.1 67.8,-15.8 65.3,-14.6 62.9,-13.3 60.4,-12Z" fill="url(#rgb)" stroke="url(#rgb)" stroke-width=".6"/>
<path d="M61.5,-11.5 64,-13.1 66.4,-15 68.9,-17.5 71.3,-20.8 73.7,-24.8 76.1,-29 78.5,-32.6 80.8,-34.7 83.2,-35 85.5,-33.8 87.8,-32.1 90.1,-30.5 92.4,-29.7 94.7,-29.7 96.9,-30.3 99.2,-31.2 99.2,-31 96.9,-29.8 94.7,-28.7 92.4,-27.5 90.1,-26.3 87.8,-25.1 85.5,-23.9 83.2,-22.6 80.8,-21.4 78.5,-20.2 76.1,-18.9 73.7,-17.7 71.3,-16.4 68.9,-15.2 66.4,-13.9 64,-12.6 61.5,-11.3Z" fill="url(#rgb)" stroke="url(#rgb)" stroke-width=".6"/>
<path d="M62.7,-10.8 65.1,-12.4 67.6,-14.3 70,-16.8 72.4,-20.1 74.8,-24.2 77.2,-28.4 79.6,-32 81.9,-34.1 84.3,-34.4 86.6,-33.2 88.9,-31.4 91.2,-29.9 93.5,-29.1 95.8,-29.1 98,-29.6 100.3,-30.5 100.3,-30.4 98,-29.2 95.8,-28 93.5,-26.8 91.2,-25.6 88.9,-24.4 86.6,-23.2 84.3,-22 81.9,-20.8 79.6,-19.5 77.2,-18.3 74.8,-17 72.4,-15.8 70,-14.5 67.6,-13.2 65.1,-11.9 62.7,-10.6Z" fill="url(#rgb)" stroke="url(#rgb)" stroke-width=".6"/>
</g>
<use href="#dsil" fill="#c4c4ca" fill-opacity="0.47"/>
<use href="#dbase" fill="#0a1ef5"/>
<use href="#ringsc" fill="none" stroke="#a0b0ff" stroke-opacity="0.5" stroke-width="2.2" filter="url(#bl2)"/>
<use href="#ringsc2" fill="none" stroke="#0818b0" stroke-opacity="0.3" stroke-width="1.5" filter="url(#bl)"/>
<g id="spkb"><path d="M113.1,-28.5 113.8,-28.9 114.4,-29.8 115.1,-31.4 115.8,-34.1 116.4,-37.9 117.1,-42.2 117.8,-45.8 118.4,-47.1 119.1,-45.8 119.8,-42.2 120.4,-37.9 121.1,-34.1 121.8,-31.4 122.4,-29.8 123.1,-28.9 123.8,-28.5Z" fill="url(#g4)"/><path d="M118.4,-47.1 118.4,-47.1 119.1,-45.8 119.8,-42.2 120.4,-37.9 121.1,-34.1 121.8,-31.4 122.4,-29.8 123.1,-28.9 123.8,-28.5Z" fill="#002" fill-opacity=".25"/><path d="M106.9,-28.3 107.6,-28.8 108.3,-29.6 108.9,-31.2 109.6,-33.9 110.3,-37.8 110.9,-42.1 111.6,-45.6 112.3,-47 112.9,-45.6 113.6,-42.1 114.3,-37.8 114.9,-33.9 115.6,-31.2 116.3,-29.6 116.9,-28.8 117.6,-28.3Z" fill="url(#g4)"/><path d="M112.3,-47 112.3,-47 112.9,-45.6 113.6,-42.1 114.3,-37.8 114.9,-33.9 115.6,-31.2 116.3,-29.6 116.9,-28.8 117.6,-28.3Z" fill="#002" fill-opacity=".25"/><path d="M119.3,-28.2 119.9,-28.7 120.6,-29.5 121.3,-31.1 121.9,-33.8 122.6,-37.7 123.3,-42 123.9,-45.5 124.6,-46.9 125.3,-45.5 125.9,-42 126.6,-37.7 127.3,-33.8 127.9,-31.1 128.6,-29.5 129.3,-28.7 129.9,-28.2Z" fill="url(#g4)"/><path d="M124.6,-46.9 124.6,-46.9 125.3,-45.5 125.9,-42 126.6,-37.7 127.3,-33.8 127.9,-31.1 128.6,-29.5 129.3,-28.7 129.9,-28.2Z" fill="#002" fill-opacity=".25"/><path d="M100.8,-27.8 101.5,-28.2 102.2,-29 102.8,-30.7 103.5,-33.4 104.2,-37.3 104.8,-41.7 105.5,-45.3 106.2,-46.7 106.8,-45.3 107.5,-41.7 108.2,-37.3 108.8,-33.4 109.5,-30.7 110.2,-29 110.9,-28.2 111.5,-27.8Z" fill="url(#g4)"/><path d="M106.2,-46.7 106.2,-46.7 106.8,-45.3 107.5,-41.7 108.2,-37.3 108.8,-33.4 109.5,-30.7 110.2,-29 110.9,-28.2 111.5,-27.8Z" fill="#002" fill-opacity=".25"/><path d="M125.3,-27.6 126,-28 126.7,-28.8 127.3,-30.5 128,-33.2 128.7,-37 129.3,-41.3 130,-44.9 130.7,-46.3 131.3,-44.9 132,-41.3 132.7,-37 133.3,-33.2 134,-30.5 134.7,-28.8 135.4,-28 136,-27.6Z" fill="url(#g4)"/><path d="M130.7,-46.3 130.7,-46.3 131.3,-44.9 132,-41.3 132.7,-37 133.3,-33.2 134,-30.5 134.7,-28.8 135.4,-28 136,-27.6Z" fill="#002" fill-opacity=".25"/><path d="M94.9,-26.8 95.5,-27.2 96.2,-28.1 96.9,-29.9 97.5,-32.8 98.2,-36.9 98.9,-41.6 99.6,-45.4 100.2,-46.8 100.9,-45.4 101.6,-41.6 102.2,-36.9 102.9,-32.8 103.6,-29.9 104.2,-28.1 104.9,-27.2 105.6,-26.8Z" fill="url(#g6)"/><path d="M100.2,-46.8 100.2,-46.8 100.9,-45.4 101.6,-41.6 102.2,-36.9 102.9,-32.8 103.6,-29.9 104.2,-28.1 104.9,-27.2 105.6,-26.8Z" fill="#002" fill-opacity=".25"/><path d="M131.2,-26.5 131.9,-26.9 132.6,-27.8 133.2,-29.4 133.9,-32.1 134.6,-36 135.2,-40.3 135.9,-43.8 136.6,-45.2 137.3,-43.8 137.9,-40.3 138.6,-36 139.3,-32.1 139.9,-29.4 140.6,-27.8 141.3,-26.9 141.9,-26.5Z" fill="url(#g4)"/><path d="M136.6,-45.2 136.6,-45.2 137.3,-43.8 137.9,-40.3 138.6,-36 139.3,-32.1 139.9,-29.4 140.6,-27.8 141.3,-26.9 141.9,-26.5Z" fill="#002" fill-opacity=".25"/><path d="M89.1,-25.4 89.8,-25.9 90.5,-27 91.1,-29 91.8,-32.4 92.5,-37.3 93.2,-42.8 93.8,-47.2 94.5,-49 95.2,-47.2 95.8,-42.8 96.5,-37.3 97.2,-32.4 97.9,-29 98.5,-27 99.2,-25.9 99.9,-25.4Z" fill="url(#g7)"/><path d="M94.5,-49 94.5,-49 95.2,-47.2 95.8,-42.8 96.5,-37.3 97.2,-32.4 97.9,-29 98.5,-27 99.2,-25.9 99.9,-25.4Z" fill="#002" fill-opacity=".25"/><path d="M136.9,-25 137.5,-25.4 138.2,-26.3 138.9,-27.9 139.6,-30.6 140.2,-34.5 140.9,-38.9 141.6,-42.4 142.3,-43.8 142.9,-42.4 143.6,-38.9 144.3,-34.5 144.9,-30.6 145.6,-27.9 146.3,-26.3 147,-25.4 147.6,-25Z" fill="url(#g4)"/><path d="M142.3,-43.8 142.3,-43.8 142.9,-42.4 143.6,-38.9 144.3,-34.5 144.9,-30.6 145.6,-27.9 146.3,-26.3 147,-25.4 147.6,-25Z" fill="#002" fill-opacity=".25"/><path d="M83.7,-23.6 84.3,-24.3 85,-25.7 85.7,-28.3 86.4,-32.8 87,-39.1 87.7,-46.3 88.4,-52.1 89.1,-54.4 89.7,-52.1 90.4,-46.3 91.1,-39.1 91.8,-32.8 92.4,-28.3 93.1,-25.7 93.8,-24.3 94.5,-23.6Z" fill="url(#g8)"/><path d="M89.1,-54.4 89.1,-54.4 89.7,-52.1 90.4,-46.3 91.1,-39.1 91.8,-32.8 92.4,-28.3 93.1,-25.7 93.8,-24.3 94.5,-23.6Z" fill="#002" fill-opacity=".25"/><path d="M142.2,-23.1 142.9,-23.6 143.5,-24.4 144.2,-26.1 144.9,-28.8 145.6,-32.7 146.3,-37.1 146.9,-40.6 147.6,-42 148.3,-40.6 149,-37.1 149.6,-32.7 150.3,-28.8 151,-26.1 151.7,-24.4 152.3,-23.6 153,-23.1Z" fill="url(#g4)"/><path d="M147.6,-42 147.6,-42 148.3,-40.6 149,-37.1 149.6,-32.7 150.3,-28.8 151,-26.1 151.7,-24.4 152.3,-23.6 153,-23.1Z" fill="#002" fill-opacity=".25"/><path d="M78.6,-21.4 79.3,-22.3 79.9,-24.1 80.6,-27.5 81.3,-33.3 82,-41.4 82.7,-50.6 83.3,-58.1 84,-61 84.7,-58.1 85.4,-50.6 86,-41.4 86.7,-33.3 87.4,-27.5 88.1,-24.1 88.8,-22.3 89.4,-21.4Z" fill="url(#g9)"/><path d="M84,-61 84,-61 84.7,-58.1 85.4,-50.6 86,-41.4 86.7,-33.3 87.4,-27.5 88.1,-24.1 88.8,-22.3 89.4,-21.4Z" fill="#002" fill-opacity=".25"/><path d="M147.1,-20.9 147.8,-21.3 148.5,-22.2 149.2,-23.8 149.8,-26.6 150.5,-30.5 151.2,-34.9 151.9,-38.5 152.6,-39.9 153.2,-38.5 153.9,-34.9 154.6,-30.5 155.3,-26.6 156,-23.8 156.6,-22.2 157.3,-21.3 158,-20.9Z" fill="url(#g4)"/><path d="M152.6,-39.9 152.6,-39.9 153.2,-38.5 153.9,-34.9 154.6,-30.5 155.3,-26.6 156,-23.8 156.6,-22.2 157.3,-21.3 158,-20.9Z" fill="#002" fill-opacity=".25"/><path d="M73.9,-18.9 74.6,-19.9 75.3,-21.9 76,-25.7 76.7,-32.1 77.4,-41.1 78,-51.3 78.7,-59.6 79.4,-62.8 80.1,-59.6 80.8,-51.3 81.4,-41.1 82.1,-32.1 82.8,-25.7 83.5,-21.9 84.2,-19.9 84.9,-18.9Z" fill="url(#g10)"/><path d="M79.4,-62.8 79.4,-62.8 80.1,-59.6 80.8,-51.3 81.4,-41.1 82.1,-32.1 82.8,-25.7 83.5,-21.9 84.2,-19.9 84.9,-18.9Z" fill="#002" fill-opacity=".25"/><path d="M151.6,-18.3 152.3,-18.8 153,-19.6 153.6,-21.3 154.3,-24.1 155,-28 155.7,-32.4 156.4,-36 157.1,-37.5 157.7,-36 158.4,-32.4 159.1,-28 159.8,-24.1 160.5,-21.3 161.2,-19.6 161.8,-18.8 162.5,-18.3Z" fill="url(#g4)"/><path d="M157.1,-37.5 157.1,-37.5 157.7,-36 158.4,-32.4 159.1,-28 159.8,-24.1 160.5,-21.3 161.2,-19.6 161.8,-18.8 162.5,-18.3Z" fill="#002" fill-opacity=".25"/><path d="M69.8,-16.1 70.5,-17 71.2,-18.8 71.9,-22.3 72.6,-28.1 73.3,-36.4 73.9,-45.7 74.6,-53.2 75.3,-56.2 76,-53.2 76.7,-45.7 77.4,-36.4 78.1,-28.1 78.7,-22.3 79.4,-18.8 80.1,-17 80.8,-16.1Z" fill="url(#g9)"/><path d="M75.3,-56.2 75.3,-56.2 76,-53.2 76.7,-45.7 77.4,-36.4 78.1,-28.1 78.7,-22.3 79.4,-18.8 80.1,-17 80.8,-16.1Z" fill="#002" fill-opacity=".25"/><path d="M155.5,-15.4 156.2,-15.9 156.9,-16.8 157.6,-18.4 158.3,-21.2 159,-25.2 159.6,-29.6 160.3,-33.3 161,-34.7 161.7,-33.3 162.4,-29.6 163.1,-25.2 163.8,-21.2 164.5,-18.4 165.1,-16.8 165.8,-15.9 166.5,-15.4Z" fill="url(#g4)"/><path d="M161,-34.7 161,-34.7 161.7,-33.3 162.4,-29.6 163.1,-25.2 163.8,-21.2 164.5,-18.4 165.1,-16.8 165.8,-15.9 166.5,-15.4Z" fill="#002" fill-opacity=".25"/><path d="M66.3,-13 67,-13.7 67.7,-15.1 68.4,-17.9 69,-22.5 69.7,-29 70.4,-36.3 71.1,-42.3 71.8,-44.6 72.5,-42.3 73.2,-36.3 73.9,-29 74.6,-22.5 75.3,-17.9 76,-15.1 76.6,-13.7 77.3,-13Z" fill="url(#g8)"/><path d="M71.8,-44.6 71.8,-44.6 72.5,-42.3 73.2,-36.3 73.9,-29 74.6,-22.5 75.3,-17.9 76,-15.1 76.6,-13.7 77.3,-13Z" fill="#002" fill-opacity=".25"/><path d="M158.8,-12.3 159.5,-12.7 160.2,-13.6 160.9,-15.3 161.6,-18.1 162.3,-22.1 163,-26.6 163.7,-30.3 164.4,-31.7 165.1,-30.3 165.8,-26.6 166.5,-22.1 167.1,-18.1 167.8,-15.3 168.5,-13.6 169.2,-12.7 169.9,-12.3Z" fill="url(#g4)"/><path d="M164.4,-31.7 164.4,-31.7 165.1,-30.3 165.8,-26.6 166.5,-22.1 167.1,-18.1 167.8,-15.3 168.5,-13.6 169.2,-12.7 169.9,-12.3Z" fill="#002" fill-opacity=".25"/><path d="M63.4,-9.6 64.1,-10.2 64.8,-11.3 65.5,-13.4 66.2,-17 66.9,-22 67.6,-27.7 68.3,-32.4 69,-34.2 69.7,-32.4 70.4,-27.7 71,-22 71.7,-17 72.4,-13.4 73.1,-11.3 73.8,-10.2 74.5,-9.6Z" fill="url(#g7)"/><path d="M69,-34.2 69,-34.2 69.7,-32.4 70.4,-27.7 71,-22 71.7,-17 72.4,-13.4 73.1,-11.3 73.8,-10.2 74.5,-9.6Z" fill="#002" fill-opacity=".25"/><path d="M161.5,-8.9 162.2,-9.3 162.9,-10.2 163.6,-11.9 164.3,-14.7 165,-18.7 165.7,-23.3 166.4,-27 167.1,-28.4 167.8,-27 168.5,-23.3 169.2,-18.7 169.9,-14.7 170.6,-11.9 171.3,-10.2 172,-9.3 172.7,-8.9Z" fill="url(#g6)"/><path d="M167.1,-28.4 167.1,-28.4 167.8,-27 168.5,-23.3 169.2,-18.7 169.9,-14.7 170.6,-11.9 171.3,-10.2 172,-9.3 172.7,-8.9Z" fill="#002" fill-opacity=".25"/><path d="M61.2,-6.1 61.9,-6.5 62.6,-7.5 63.3,-9.3 64,-12.4 64.7,-16.7 65.4,-21.6 66.1,-25.6 66.8,-27.2 67.5,-25.6 68.2,-21.6 68.9,-16.7 69.6,-12.4 70.3,-9.3 71,-7.5 71.7,-6.5 72.4,-6.1Z" fill="url(#g6)"/><path d="M66.8,-27.2 66.8,-27.2 67.5,-25.6 68.2,-21.6 68.9,-16.7 69.6,-12.4 70.3,-9.3 71,-7.5 71.7,-6.5 72.4,-6.1Z" fill="#002" fill-opacity=".25"/><path d="M163.4,-5.2 164.1,-5.7 164.8,-6.6 165.5,-8.3 166.2,-11.2 166.9,-15.2 167.6,-19.8 168.3,-23.5 169,-25 169.7,-23.5 170.4,-19.8 171.2,-15.2 171.9,-11.2 172.6,-8.3 173.3,-6.6 174,-5.7 174.7,-5.2Z" fill="url(#g6)"/><path d="M169,-25 169,-25 169.7,-23.5 170.4,-19.8 171.2,-15.2 171.9,-11.2 172.6,-8.3 173.3,-6.6 174,-5.7 174.7,-5.2Z" fill="#002" fill-opacity=".25"/><path d="M59.8,-2.3 60.5,-2.8 61.2,-3.7 61.9,-5.4 62.6,-8.4 63.3,-12.5 64,-17.2 64.7,-21 65.4,-22.5 66.1,-21 66.8,-17.2 67.6,-12.5 68.3,-8.4 69,-5.4 69.7,-3.7 70.4,-2.8 71.1,-2.3Z" fill="url(#g6)"/><path d="M65.4,-22.5 65.4,-22.5 66.1,-21 66.8,-17.2 67.6,-12.5 68.3,-8.4 69,-5.4 69.7,-3.7 70.4,-2.8 71.1,-2.3Z" fill="#002" fill-opacity=".25"/><path d="M164.6,-1.5 165.3,-1.9 166,-2.9 166.7,-4.6 167.4,-7.5 168.1,-11.6 168.8,-16.2 169.5,-20 170.2,-21.4 170.9,-20 171.7,-16.2 172.4,-11.6 173.1,-7.5 173.8,-4.6 174.5,-2.9 175.2,-1.9 175.9,-1.5Z" fill="url(#g6)"/><path d="M170.2,-21.4 170.2,-21.4 170.9,-20 171.7,-16.2 172.4,-11.6 173.1,-7.5 173.8,-4.6 174.5,-2.9 175.2,-1.9 175.9,-1.5Z" fill="#002" fill-opacity=".25"/><path d="M59.1,1.5 59.8,1 60.6,.1 61.3,-1.6 62,-4.5 62.7,-8.7 63.4,-13.3 64.1,-17.1 64.8,-18.6 65.6,-17.1 66.3,-13.3 67,-8.7 67.7,-4.5 68.4,-1.6 69.1,.1 69.9,1 70.6,1.5Z" fill="url(#g6)"/><path d="M64.8,-18.6 64.8,-18.6 65.6,-17.1 66.3,-13.3 67,-8.7 67.7,-4.5 68.4,-1.6 69.1,.1 69.9,1 70.6,1.5Z" fill="#002" fill-opacity=".25"/><path d="M164.9,2.4 165.6,1.9 166.3,1 167,-.7 167.8,-3.7 168.5,-7.8 169.2,-12.5 169.9,-16.3 170.6,-17.8 171.3,-16.3 172.1,-12.5 172.8,-7.8 173.5,-3.7 174.2,-.7 174.9,1 175.6,1.9 176.4,2.4Z" fill="url(#g6)"/><path d="M170.6,-17.8 170.6,-17.8 171.3,-16.3 172.1,-12.5 172.8,-7.8 173.5,-3.7 174.2,-.7 174.9,1 175.6,1.9 176.4,2.4Z" fill="#002" fill-opacity=".25"/><path d="M59.3,5.4 60.1,4.9 60.8,4 61.5,2.3 62.2,-.7 62.9,-4.9 63.7,-9.6 64.4,-13.4 65.1,-14.9 65.8,-13.4 66.5,-9.6 67.3,-4.9 68,-.7 68.7,2.3 69.4,4 70.2,4.9 70.9,5.4Z" fill="url(#g6)"/><path d="M65.1,-14.9 65.1,-14.9 65.8,-13.4 66.5,-9.6 67.3,-4.9 68,-.7 68.7,2.3 69.4,4 70.2,4.9 70.9,5.4Z" fill="#002" fill-opacity=".25"/><path d="M164.4,6.2 165.1,5.8 165.8,4.9 166.6,3.1 167.3,.1 168,-4 168.7,-8.8 169.5,-12.6 170.2,-14.1 170.9,-12.6 171.6,-8.8 172.3,-4 173.1,.1 173.8,3.1 174.5,4.9 175.2,5.8 176,6.2Z" fill="url(#g6)"/><path d="M170.2,-14.1 170.2,-14.1 170.9,-12.6 171.6,-8.8 172.3,-4 173.1,.1 173.8,3.1 174.5,4.9 175.2,5.8 176,6.2Z" fill="#002" fill-opacity=".25"/><path d="M60.4,9.2 61.1,8.8 61.8,7.8 62.6,6.1 63.3,3.1 64,-1.1 64.7,-5.8 65.5,-9.7 66.2,-11.2 66.9,-9.7 67.7,-5.8 68.4,-1.1 69.1,3.1 69.8,6.1 70.6,7.8 71.3,8.8 72,9.2Z" fill="url(#g6)"/><path d="M66.2,-11.2 66.2,-11.2 66.9,-9.7 67.7,-5.8 68.4,-1.1 69.1,3.1 69.8,6.1 70.6,7.8 71.3,8.8 72,9.2Z" fill="#002" fill-opacity=".25"/><path d="M163,10.1 163.8,9.6 164.5,8.7 165.2,6.9 165.9,3.8 166.7,-.5 167.4,-5.3 168.1,-9.3 168.9,-10.8 169.6,-9.3 170.3,-5.3 171.1,-.5 171.8,3.8 172.5,6.9 173.3,8.7 174,9.6 174.7,10.1Z" fill="url(#g6)"/><path d="M168.9,-10.8 168.9,-10.8 169.6,-9.3 170.3,-5.3 171.1,-.5 171.8,3.8 172.5,6.9 173.3,8.7 174,9.6 174.7,10.1Z" fill="#002" fill-opacity=".25"/><path d="M62.3,13 63,12.6 63.8,11.6 64.5,9.8 65.2,6.9 66,2.6 66.7,-2.2 67.4,-6.1 68.2,-7.6 68.9,-6.1 69.6,-2.2 70.4,2.6 71.1,6.9 71.8,9.8 72.6,11.6 73.3,12.6 74,13Z" fill="url(#g6)"/><path d="M68.2,-7.6 68.2,-7.6 68.9,-6.1 69.6,-2.2 70.4,2.6 71.1,6.9 71.8,9.8 72.6,11.6 73.3,12.6 74,13Z" fill="#002" fill-opacity=".25"/><path d="M160.8,13.9 161.5,13.3 162.3,12.3 163,10.2 163.8,6.8 164.5,2 165.2,-3.4 166,-7.9 166.7,-9.6 167.4,-7.9 168.2,-3.4 168.9,2 169.7,6.8 170.4,10.2 171.1,12.3 171.9,13.3 172.6,13.9Z" fill="url(#g7)"/><path d="M166.7,-9.6 166.7,-9.6 167.4,-7.9 168.2,-3.4 168.9,2 169.7,6.8 170.4,10.2 171.1,12.3 171.9,13.3 172.6,13.9Z" fill="#002" fill-opacity=".25"/><path d="M65,16.7 65.8,16.2 66.5,15.2 67.3,13.5 68,10.4 68.8,6.2 69.5,1.3 70.2,-2.6 71,-4.1 71.7,-2.6 72.5,1.3 73.2,6.2 73.9,10.4 74.7,13.5 75.4,15.2 76.2,16.2 76.9,16.7Z" fill="url(#g6)"/><path d="M71,-4.1 71,-4.1 71.7,-2.6 72.5,1.3 73.2,6.2 73.9,10.4 74.7,13.5 75.4,15.2 76.2,16.2 76.9,16.7Z" fill="#002" fill-opacity=".25"/><path d="M157.7,17.5 158.5,16.7 159.2,15.3 160,12.6 160.7,8.1 161.5,1.7 162.2,-5.5 163,-11.4 163.7,-13.7 164.4,-11.4 165.2,-5.5 165.9,1.7 166.7,8.1 167.4,12.6 168.2,15.3 168.9,16.7 169.6,17.5Z" fill="url(#g8)"/><path d="M163.7,-13.7 163.7,-13.7 164.4,-11.4 165.2,-5.5 165.9,1.7 166.7,8.1 167.4,12.6 168.2,15.3 168.9,16.7 169.6,17.5Z" fill="#002" fill-opacity=".25"/><path d="M68.6,20.1 69.4,19.6 70.1,18.7 70.9,16.9 71.6,13.8 72.4,9.5 73.1,4.6 73.9,.7 74.6,-.9 75.4,.7 76.1,4.6 76.8,9.5 77.6,13.8 78.3,16.9 79.1,18.7 79.8,19.6 80.6,20.1Z" fill="url(#g6)"/><path d="M74.6,-.9 74.6,-.9 75.4,.7 76.1,4.6 76.8,9.5 77.6,13.8 78.3,16.9 79.1,18.7 79.8,19.6 80.6,20.1Z" fill="#002" fill-opacity=".25"/><path d="M153.9,20.8 154.6,19.8 155.4,17.8 156.1,14.1 156.9,7.7 157.6,-1.3 158.4,-11.4 159.1,-19.7 159.9,-22.9 160.6,-19.7 161.4,-11.4 162.1,-1.3 162.9,7.7 163.6,14.1 164.4,17.8 165.1,19.8 165.9,20.8Z" fill="url(#g10)"/><path d="M159.9,-22.9 159.9,-22.9 160.6,-19.7 161.4,-11.4 162.1,-1.3 162.9,7.7 163.6,14.1 164.4,17.8 165.1,19.8 165.9,20.8Z" fill="#002" fill-opacity=".25"/><path d="M73,23.2 73.7,22.7 74.5,21.8 75.2,20 76,16.9 76.7,12.6 77.5,7.7 78.3,3.7 79,2.1 79.8,3.7 80.5,7.7 81.3,12.6 82,16.9 82.8,20 83.5,21.8 84.3,22.7 85,23.2Z" fill="url(#g6)"/><path d="M79,2.1 79,2.1 79.8,3.7 80.5,7.7 81.3,12.6 82,16.9 82.8,20 83.5,21.8 84.3,22.7 85,23.2Z" fill="#002" fill-opacity=".25"/><path d="M149.3,23.9 150,22.7 150.8,20.4 151.5,16.1 152.3,8.7 153,-1.8 153.8,-13.5 154.5,-23.1 155.3,-26.9 156.1,-23.1 156.8,-13.5 157.6,-1.8 158.3,8.7 159.1,16.1 159.8,20.4 160.6,22.7 161.3,23.9Z" fill="url(#g11)"/><path d="M155.3,-26.9 155.3,-26.9 156.1,-23.1 156.8,-13.5 157.6,-1.8 158.3,8.7 159.1,16.1 159.8,20.4 160.6,22.7 161.3,23.9Z" fill="#002" fill-opacity=".25"/><path d="M78,26 78.8,25.5 79.6,24.6 80.3,22.7 81.1,19.7 81.8,15.3 82.6,10.4 83.4,6.3 84.1,4.8 84.9,6.3 85.6,10.4 86.4,15.3 87.1,19.7 87.9,22.7 88.7,24.6 89.4,25.5 90.2,26Z" fill="url(#g6)"/><path d="M84.1,4.8 84.1,4.8 84.9,6.3 85.6,10.4 86.4,15.3 87.1,19.7 87.9,22.7 88.7,24.6 89.4,25.5 90.2,26Z" fill="#002" fill-opacity=".25"/><path d="M143.9,26.6 144.7,25.6 145.5,23.6 146.2,19.8 147,13.3 147.8,4.2 148.5,-6 149.3,-14.4 150,-17.7 150.8,-14.4 151.6,-6 152.3,4.2 153.1,13.3 153.8,19.8 154.6,23.6 155.4,25.6 156.1,26.6Z" fill="url(#g10)"/><path d="M150,-17.7 150,-17.7 150.8,-14.4 151.6,-6 152.3,4.2 153.1,13.3 153.8,19.8 154.6,23.6 155.4,25.6 156.1,26.6Z" fill="#002" fill-opacity=".25"/><path d="M83.7,28.4 84.5,27.9 85.3,27 86,25.1 86.8,22 87.6,17.6 88.3,12.7 89.1,8.6 89.8,7.1 90.6,8.6 91.4,12.7 92.1,17.6 92.9,22 93.7,25.1 94.4,27 95.2,27.9 96,28.4Z" fill="url(#g6)"/><path d="M89.8,7.1 89.8,7.1 90.6,8.6 91.4,12.7 92.1,17.6 92.9,22 93.7,25.1 94.4,27 95.2,27.9 96,28.4Z" fill="#002" fill-opacity=".25"/><path d="M138,28.9 138.8,28.2 139.6,26.7 140.3,23.9 141.1,19.3 141.9,12.7 142.6,5.3 143.4,-.8 144.2,-3.1 144.9,-.8 145.7,5.3 146.5,12.7 147.2,19.3 148,23.9 148.8,26.7 149.5,28.2 150.3,28.9Z" fill="url(#g8)"/><path d="M144.2,-3.1 144.2,-3.1 144.9,-.8 145.7,5.3 146.5,12.7 147.2,19.3 148,23.9 148.8,26.7 149.5,28.2 150.3,28.9Z" fill="#002" fill-opacity=".25"/><path d="M90,30.3 90.7,29.8 91.5,28.9 92.3,27 93,23.9 93.8,19.5 94.6,14.5 95.3,10.5 96.1,8.9 96.9,10.5 97.6,14.5 98.4,19.5 99.2,23.9 99.9,27 100.7,28.9 101.5,29.8 102.2,30.3Z" fill="url(#g6)"/><path d="M96.1,8.9 96.1,8.9 96.9,10.5 97.6,14.5 98.4,19.5 99.2,23.9 99.9,27 100.7,28.9 101.5,29.8 102.2,30.3Z" fill="#002" fill-opacity=".25"/><path d="M131.6,30.7 132.4,30.1 133.2,29 133.9,26.9 134.7,23.4 135.5,18.4 136.3,12.7 137,8.1 137.8,6.3 138.6,8.1 139.3,12.7 140.1,18.4 140.9,23.4 141.6,26.9 142.4,29 143.2,30.1 143.9,30.7Z" fill="url(#g7)"/><path d="M137.8,6.3 137.8,6.3 138.6,8.1 139.3,12.7 140.1,18.4 140.9,23.4 141.6,26.9 142.4,29 143.2,30.1 143.9,30.7Z" fill="#002" fill-opacity=".25"/><path d="M96.6,31.8 97.4,31.3 98.2,30.3 98.9,28.4 99.7,25.3 100.5,20.9 101.2,15.9 102,11.8 102.8,10.2 103.6,11.8 104.3,15.9 105.1,20.9 105.9,25.3 106.6,28.4 107.4,30.3 108.2,31.3 108.9,31.8Z" fill="url(#g6)"/><path d="M102.8,10.2 102.8,10.2 103.6,11.8 104.3,15.9 105.1,20.9 105.9,25.3 106.6,28.4 107.4,30.3 108.2,31.3 108.9,31.8Z" fill="#002" fill-opacity=".25"/><path d="M124.9,32 125.6,31.5 126.4,30.5 127.2,28.6 127.9,25.4 128.7,20.9 129.5,15.8 130.3,11.6 131,10 131.8,11.6 132.6,15.8 133.3,20.9 134.1,25.4 134.9,28.6 135.7,30.5 136.4,31.5 137.2,32Z" fill="url(#g6)"/><path d="M131,10 131,10 131.8,11.6 132.6,15.8 133.3,20.9 134.1,25.4 134.9,28.6 135.7,30.5 136.4,31.5 137.2,32Z" fill="#002" fill-opacity=".25"/><path d="M103.6,32.7 104.3,32.2 105.1,31.2 105.9,29.3 106.7,26.2 107.4,21.8 108.2,16.8 109,12.7 109.8,11.1 110.5,12.7 111.3,16.8 112.1,21.8 112.8,26.2 113.6,29.3 114.4,31.2 115.2,32.2 115.9,32.7Z" fill="url(#g6)"/><path d="M109.8,11.1 109.8,11.1 110.5,12.7 111.3,16.8 112.1,21.8 112.8,26.2 113.6,29.3 114.4,31.2 115.2,32.2 115.9,32.7Z" fill="#002" fill-opacity=".25"/><path d="M117.8,32.8 118.6,32.3 119.4,31.3 120.2,29.5 120.9,26.3 121.7,21.9 122.5,16.9 123.2,12.8 124,11.2 124.8,12.8 125.6,16.9 126.3,21.9 127.1,26.3 127.9,29.5 128.6,31.3 129.4,32.3 130.2,32.8Z" fill="url(#g6)"/><path d="M124,11.2 124,11.2 124.8,12.8 125.6,16.9 126.3,21.9 127.1,26.3 127.9,29.5 128.6,31.3 129.4,32.3 130.2,32.8Z" fill="#002" fill-opacity=".25"/><path d="M110.7,33 111.5,32.5 112.2,31.5 113,29.7 113.8,26.5 114.6,22.1 115.3,17.1 116.1,13 116.9,11.4 117.6,13 118.4,17.1 119.2,22.1 120,26.5 120.7,29.7 121.5,31.5 122.3,32.5 123.1,33Z" fill="url(#g6)"/><path d="M116.9,11.4 116.9,11.4 117.6,13 118.4,17.1 119.2,22.1 120,26.5 120.7,29.7 121.5,31.5 122.3,32.5 123.1,33Z" fill="#002" fill-opacity=".25"/></g>
<use href="#dsil" fill="#c8c8d4" fill-opacity="0.3"/>
<use href="#spkb" opacity="0.4"/>
<use href="#dhl"/>
<use href="#drim" fill="none" stroke="#b8b8bc" stroke-opacity="0.45" stroke-width="1.6"/>
<path d="M0,0V-58.4" stroke="#000" stroke-width="1.15" fill="none"/>
<path d="M-3,0.0H0" stroke="#000" stroke-width="0.9"/>
<text x="-4.3" y="1.7" text-anchor="end" class="t">0.0</text>
<path d="M-3,-19.5H0" stroke="#000" stroke-width="0.9"/>
<text x="-4.3" y="-17.8" text-anchor="end" class="t">10.0</text>
<path d="M-3,-38.9H0" stroke="#000" stroke-width="0.9"/>
<text x="-4.3" y="-37.2" text-anchor="end" class="t">20.0</text>
<path d="M-3,-58.4H0" stroke="#000" stroke-width="0.9"/>
<text x="-4.3" y="-56.7" text-anchor="end" class="t">30.0</text>
<path d="M0,0L117.6,81.7L235.6,0" stroke="#000" stroke-width="1.25" fill="none"/>
<path d="M0.0,-0.0L-3.2,1.6" stroke="#000" stroke-width="0.8"/>
<text x="-2.6" y="8.2" text-anchor="end" class="t">1.5</text>
<path d="M235.6,-0.0L238.8,1.6" stroke="#000" stroke-width="0.8"/>
<text x="237.4" y="7.8" class="t">1.5</text>
<path d="M16.8,11.7L13.6,13.4" stroke="#000" stroke-width="0.8"/>
<text x="14.2" y="19.9" text-anchor="end" class="t">1.0</text>
<path d="M218.7,11.7L221.9,13.4" stroke="#000" stroke-width="0.8"/>
<text x="220.5" y="19.5" class="t">1.0</text>
<path d="M34.7,24.1L31.4,25.9" stroke="#000" stroke-width="0.8"/>
<text x="32.1" y="32.3" text-anchor="end" class="t">0.5</text>
<path d="M200.8,24.1L204.1,25.9" stroke="#000" stroke-width="0.8"/>
<text x="202.6" y="31.9" class="t">0.5</text>
<path d="M53.5,37.2L50.3,39.1" stroke="#000" stroke-width="0.8"/>
<text x="50.9" y="45.4" text-anchor="end" class="t">0.0</text>
<path d="M181.8,37.2L185.1,39.1" stroke="#000" stroke-width="0.8"/>
<text x="183.6" y="45.0" class="t">0.0</text>
<path d="M73.6,51.1L70.3,53.1" stroke="#000" stroke-width="0.8"/>
<text x="71.0" y="59.3" text-anchor="end" class="t">-0.5</text>
<path d="M161.7,51.1L165.0,53.2" stroke="#000" stroke-width="0.8"/>
<text x="163.5" y="58.9" class="t">-0.5</text>
<path d="M94.9,65.9L91.6,68.1" stroke="#000" stroke-width="0.8"/>
<text x="92.3" y="74.1" text-anchor="end" class="t">-1.0</text>
<path d="M140.4,65.9L143.7,68.1" stroke="#000" stroke-width="0.8"/>
<text x="142.2" y="73.7" class="t">-1.0</text>
<path d="M117.6,81.7L114.3,84.0" stroke="#000" stroke-width="0.8"/>
<text x="115.0" y="89.9" text-anchor="end" class="t">-1.5</text>
<path d="M117.6,81.7L120.9,84.0" stroke="#000" stroke-width="0.8"/>
<text x="119.4" y="89.5" class="t">-1.5</text>
<text x="25.6" y="54.5" class="ax">z/a</text>
<text x="194.7" y="54.9" class="ax">y/a</text>
</g>
<g transform="translate(578.5,105.3)">
<path d="M0,0L117.8,-56.2L235.6,0L117.6,81.7Z" fill="#0a1ef5"/>
<use href="#yl" fill="none" stroke="#000890" stroke-opacity="0.35" stroke-width="1.7" filter="url(#bl2)"/>
<use href="#yl2" fill="none" stroke="#3060ff" stroke-opacity="0.25" stroke-width="1.4" filter="url(#bl2)"/>
<use href="#ext" fill="none" stroke="#000890" stroke-opacity="0.3" stroke-width="1.6" filter="url(#bl2)"/>
<g clip-path="url(#outdome)">
<path d="M46.2,-23.1 48.5,-24.3 50.7,-25.8 53,-27.5 55.3,-29.5 57.5,-31.9 59.7,-34.3 61.9,-36.5 64.1,-38 66.3,-38.6 68.5,-38.6 70.6,-38.4 72.8,-38.2 74.9,-38.4 77.1,-38.9 79.2,-39.6 81.3,-40.6 81.3,-40.5 79.2,-39.4 77.1,-38.4 74.9,-37.3 72.8,-36.3 70.6,-35.2 68.5,-34.1 66.3,-33 64.1,-32 61.9,-30.9 59.7,-29.8 57.5,-28.6 55.3,-27.5 53,-26.4 50.7,-25.3 48.5,-24.2 46.2,-23Z" fill="url(#rgc)" stroke="url(#rgc)" stroke-width=".6"/>
<path d="M47.2,-22.4 49.5,-23.7 51.8,-25.2 54.1,-26.9 56.3,-28.9 58.6,-31.4 60.8,-33.9 63,-36.1 65.2,-37.6 67.4,-38.2 69.5,-38.2 71.7,-37.9 73.9,-37.7 76,-37.8 78.1,-38.3 80.2,-39 82.3,-40 82.3,-39.9 80.2,-38.9 78.1,-37.8 76,-36.7 73.9,-35.7 71.7,-34.6 69.5,-33.5 67.4,-32.4 65.2,-31.3 63,-30.2 60.8,-29.1 58.6,-28 56.3,-26.9 54.1,-25.8 51.8,-24.6 49.5,-23.5 47.2,-22.4Z" fill="url(#rgc)" stroke="url(#rgc)" stroke-width=".6"/>
<path d="M48.3,-21.8 50.6,-23.1 52.9,-24.5 55.1,-26.3 57.4,-28.4 59.6,-30.9 61.8,-33.4 64.1,-35.7 66.3,-37.2 68.4,-37.8 70.6,-37.8 72.8,-37.4 74.9,-37.1 77.1,-37.2 79.2,-37.7 81.3,-38.5 83.4,-39.4 83.4,-39.3 81.3,-38.3 79.2,-37.2 77.1,-36.1 74.9,-35.1 72.8,-34 70.6,-32.9 68.4,-31.8 66.3,-30.7 64.1,-29.6 61.8,-28.5 59.6,-27.4 57.4,-26.3 55.1,-25.1 52.9,-24 50.6,-22.9 48.3,-21.7Z" fill="url(#rgc)" stroke="url(#rgc)" stroke-width=".6"/>
<path d="M49.4,-21.1 51.7,-22.4 53.9,-23.9 56.2,-25.7 58.5,-27.8 60.7,-30.4 62.9,-33 65.1,-35.3 67.3,-36.8 69.5,-37.4 71.7,-37.3 73.9,-36.9 76,-36.6 78.1,-36.7 80.3,-37.1 82.4,-37.9 84.5,-38.8 84.5,-38.7 82.4,-37.7 80.3,-36.6 78.1,-35.5 76,-34.5 73.9,-33.4 71.7,-32.3 69.5,-31.2 67.3,-30.1 65.1,-29 62.9,-27.9 60.7,-26.8 58.5,-25.6 56.2,-24.5 53.9,-23.4 51.7,-22.2 49.4,-21.1Z" fill="url(#rgc)" stroke="url(#rgc)" stroke-width=".6"/>
<path d="M50.4,-20.5 52.7,-21.8 55,-23.3 57.3,-25.1 59.5,-27.3 61.8,-29.8 64,-32.5 66.2,-34.9 68.4,-36.4 70.6,-37 72.8,-36.9 74.9,-36.4 77.1,-36.1 79.2,-36.1 81.3,-36.5 83.5,-37.3 85.6,-38.2 85.6,-38.1 83.5,-37.1 81.3,-36 79.2,-34.9 77.1,-33.8 74.9,-32.8 72.8,-31.7 70.6,-30.6 68.4,-29.5 66.2,-28.4 64,-27.2 61.8,-26.1 59.5,-25 57.3,-23.9 55,-22.7 52.7,-21.6 50.4,-20.4Z" fill="url(#rgc)" stroke="url(#rgc)" stroke-width=".6"/>
<path d="M51.5,-19.8 53.8,-21.2 56.1,-22.7 58.4,-24.5 60.6,-26.7 62.8,-29.3 65.1,-32.1 67.3,-34.5 69.5,-36 71.7,-36.6 73.8,-36.5 76,-35.9 78.2,-35.5 80.3,-35.5 82.4,-36 84.5,-36.7 86.6,-37.6 86.6,-37.5 84.5,-36.5 82.4,-35.4 80.3,-34.3 78.2,-33.2 76,-32.1 73.8,-31.1 71.7,-30 69.5,-28.8 67.3,-27.7 65.1,-26.6 62.8,-25.5 60.6,-24.4 58.4,-23.2 56.1,-22.1 53.8,-20.9 51.5,-19.8Z" fill="url(#rgc)" stroke="url(#rgc)" stroke-width=".6"/>
<path d="M52.6,-19.2 54.9,-20.5 57.2,-22 59.4,-23.9 61.7,-26.2 63.9,-28.8 66.2,-31.6 68.4,-34.1 70.6,-35.7 72.8,-36.2 74.9,-36 77.1,-35.4 79.2,-35 81.4,-35 83.5,-35.4 85.6,-36.1 87.7,-37 87.7,-36.9 85.6,-35.9 83.5,-34.8 81.4,-33.7 79.2,-32.6 77.1,-31.5 74.9,-30.4 72.8,-29.3 70.6,-28.2 68.4,-27.1 66.2,-26 63.9,-24.8 61.7,-23.7 59.4,-22.6 57.2,-21.4 54.9,-20.3 52.6,-19.1Z" fill="url(#rgc)" stroke="url(#rgc)" stroke-width=".6"/>
<path d="M53.7,-18.5 56,-19.9 58.3,-21.4 60.5,-23.3 62.8,-25.6 65,-28.3 67.2,-31.2 69.5,-33.6 71.7,-35.3 73.8,-35.8 76,-35.6 78.2,-35 80.3,-34.5 82.5,-34.4 84.6,-34.8 86.7,-35.5 88.8,-36.4 88.8,-36.3 86.7,-35.3 84.6,-34.2 82.5,-33.1 80.3,-32 78.2,-30.9 76,-29.8 73.8,-28.7 71.7,-27.6 69.5,-26.5 67.2,-25.3 65,-24.2 62.8,-23.1 60.5,-21.9 58.3,-20.8 56,-19.6 53.7,-18.4Z" fill="url(#rgc)" stroke="url(#rgc)" stroke-width=".6"/>
<path d="M54.8,-17.9 57.1,-19.2 59.3,-20.8 61.6,-22.7 63.9,-25 66.1,-27.8 68.3,-30.7 70.5,-33.2 72.7,-34.9 74.9,-35.4 77.1,-35.1 79.3,-34.5 81.4,-33.9 83.6,-33.8 85.7,-34.2 87.8,-34.9 89.9,-35.8 89.9,-35.7 87.8,-34.6 85.7,-33.6 83.6,-32.5 81.4,-31.4 79.3,-30.3 77.1,-29.2 74.9,-28.1 72.7,-27 70.5,-25.8 68.3,-24.7 66.1,-23.6 63.9,-22.4 61.6,-21.3 59.3,-20.1 57.1,-19 54.8,-17.8Z" fill="url(#rgc)" stroke="url(#rgc)" stroke-width=".6"/>
<path d="M55.9,-17.2 58.1,-18.6 60.4,-20.1 62.7,-22 65,-24.5 67.2,-27.3 69.4,-30.3 71.6,-32.8 73.8,-34.5 76,-35 78.2,-34.7 80.4,-34 82.5,-33.4 84.7,-33.3 86.8,-33.6 88.9,-34.3 91,-35.2 91,-35.1 88.9,-34 86.8,-33 84.7,-31.9 82.5,-30.8 80.4,-29.7 78.2,-28.6 76,-27.4 73.8,-26.3 71.6,-25.2 69.4,-24.1 67.2,-22.9 65,-21.8 62.7,-20.6 60.4,-19.5 58.1,-18.3 55.9,-17.1Z" fill="url(#rgc)" stroke="url(#rgc)" stroke-width=".6"/>
<path d="M56.9,-16.5 59.2,-17.9 61.5,-19.5 63.8,-21.4 66,-23.9 68.3,-26.8 70.5,-29.8 72.7,-32.4 74.9,-34.1 77.1,-34.6 79.3,-34.2 81.5,-33.5 83.6,-32.8 85.8,-32.7 87.9,-33 90,-33.7 92.1,-34.6 92.1,-34.5 90,-33.4 87.9,-32.3 85.8,-31.2 83.6,-30.1 81.5,-29 79.3,-27.9 77.1,-26.8 74.9,-25.7 72.7,-24.6 70.5,-23.4 68.3,-22.3 66,-21.1 63.8,-20 61.5,-18.8 59.2,-17.6 56.9,-16.5Z" fill="url(#rgc)" stroke="url(#rgc)" stroke-width=".6"/>
<path d="M58,-15.9 60.3,-17.2 62.6,-18.8 64.9,-20.8 67.1,-23.3 69.4,-26.3 71.6,-29.3 73.8,-32 76,-33.7 78.2,-34.2 80.4,-33.8 82.6,-33 84.7,-32.3 86.9,-32.1 89,-32.4 91.1,-33.1 93.2,-34 93.2,-33.9 91.1,-32.8 89,-31.7 86.9,-30.6 84.7,-29.5 82.6,-28.4 80.4,-27.3 78.2,-26.2 76,-25 73.8,-23.9 71.6,-22.8 69.4,-21.6 67.1,-20.5 64.9,-19.3 62.6,-18.1 60.3,-17 58,-15.8Z" fill="url(#rgc)" stroke="url(#rgc)" stroke-width=".6"/>
<path d="M59.1,-15.2 61.4,-16.6 63.7,-18.2 66,-20.2 68.2,-22.7 70.5,-25.7 72.7,-28.9 74.9,-31.6 77.1,-33.3 79.3,-33.8 81.5,-33.4 83.7,-32.5 85.8,-31.8 88,-31.5 90.1,-31.8 92.2,-32.5 94.3,-33.4 94.3,-33.3 92.2,-32.2 90.1,-31.1 88,-30 85.8,-28.9 83.7,-27.8 81.5,-26.7 79.3,-25.5 77.1,-24.4 74.9,-23.3 72.7,-22.1 70.5,-21 68.2,-19.8 66,-18.6 63.7,-17.5 61.4,-16.3 59.1,-15.1Z" fill="url(#rgc)" stroke="url(#rgc)" stroke-width=".6"/>
<path d="M60.3,-14.5 62.5,-15.9 64.8,-17.6 67.1,-19.6 69.4,-22.2 71.6,-25.2 73.8,-28.4 76,-31.2 78.2,-32.9 80.4,-33.4 82.6,-32.9 84.8,-32 86.9,-31.2 89.1,-30.9 91.2,-31.2 93.3,-31.9 95.4,-32.8 95.4,-32.7 93.3,-31.6 91.2,-30.5 89.1,-29.4 86.9,-28.3 84.8,-27.2 82.6,-26 80.4,-24.9 78.2,-23.8 76,-22.6 73.8,-21.5 71.6,-20.3 69.4,-19.2 67.1,-18 64.8,-16.8 62.5,-15.6 60.3,-14.4Z" fill="url(#rgc)" stroke="url(#rgc)" stroke-width=".6"/>
<path d="M61.4,-13.9 63.7,-15.3 65.9,-16.9 68.2,-19 70.5,-21.6 72.7,-24.7 74.9,-28 77.2,-30.8 79.4,-32.5 81.6,-33 83.7,-32.5 85.9,-31.5 88.1,-30.7 90.2,-30.4 92.3,-30.6 94.4,-31.3 96.5,-32.2 96.5,-32.1 94.4,-31 92.3,-29.9 90.2,-28.8 88.1,-27.6 85.9,-26.5 83.7,-25.4 81.6,-24.3 79.4,-23.1 77.2,-22 74.9,-20.8 72.7,-19.7 70.5,-18.5 68.2,-17.3 65.9,-16.1 63.7,-15 61.4,-13.8Z" fill="url(#rgc)" stroke="url(#rgc)" stroke-width=".6"/>
<path d="M62.5,-13.2 64.8,-14.6 67.1,-16.2 69.3,-18.3 71.6,-20.9 73.8,-24.1 76.1,-27.4 78.3,-30.2 80.5,-31.9 82.7,-32.4 84.8,-31.9 87,-30.9 89.2,-30 91.3,-29.7 93.4,-30 95.6,-30.6 97.7,-31.5 97.7,-31.4 95.6,-30.3 93.4,-29.2 91.3,-28.1 89.2,-27 87,-25.9 84.8,-24.8 82.7,-23.6 80.5,-22.5 78.3,-21.3 76.1,-20.2 73.8,-19 71.6,-17.8 69.3,-16.7 67.1,-15.5 64.8,-14.3 62.5,-13.1Z" fill="url(#rgc)" stroke="url(#rgc)" stroke-width=".6"/>
<path d="M63.6,-12.5 65.9,-13.9 68.2,-15.6 70.4,-17.7 72.7,-20.3 74.9,-23.4 77.2,-26.7 79.4,-29.5 81.6,-31.3 83.8,-31.8 86,-31.2 88.1,-30.2 90.3,-29.4 92.4,-29.1 94.6,-29.4 96.7,-30 98.8,-30.9 98.8,-30.8 96.7,-29.7 94.6,-28.6 92.4,-27.5 90.3,-26.4 88.1,-25.3 86,-24.1 83.8,-23 81.6,-21.8 79.4,-20.7 77.2,-19.5 74.9,-18.3 72.7,-17.2 70.4,-16 68.2,-14.8 65.9,-13.6 63.6,-12.4Z" fill="url(#rgc)" stroke="url(#rgc)" stroke-width=".6"/>
<path d="M64.7,-11.8 67,-13.2 69.3,-14.9 71.6,-17 73.8,-19.6 76.1,-22.8 78.3,-26.1 80.5,-28.9 82.7,-30.7 84.9,-31.1 87.1,-30.6 89.3,-29.6 91.4,-28.8 93.6,-28.5 95.7,-28.7 97.8,-29.4 99.9,-30.3 99.9,-30.2 97.8,-29.1 95.7,-28 93.6,-26.9 91.4,-25.7 89.3,-24.6 87.1,-23.5 84.9,-22.3 82.7,-21.2 80.5,-20 78.3,-18.9 76.1,-17.7 73.8,-16.5 71.6,-15.3 69.3,-14.1 67,-12.9 64.7,-11.7Z" fill="url(#rgc)" stroke="url(#rgc)" stroke-width=".6"/>
</g>
<use href="#dsil" fill="#c4c4ca" fill-opacity="0.47"/>
<use href="#dbase" fill="#0a1ef5"/>
<ellipse cx="81.1" cy="-7.8" rx="22" ry="11" transform="rotate(25 81.1 -7.8)" fill="url(#gtint)" opacity="0.55"/>
<use href="#iarcs" fill="none" stroke="#0818b0" stroke-opacity="0.45" stroke-width="1.5" filter="url(#bl)"/>
<use href="#iarcs2" fill="none" stroke="#90a0ff" stroke-opacity="0.3" stroke-width="1.2" filter="url(#bl)"/>
<use href="#dsil" fill="#c8c8d4" fill-opacity="0.3"/>
<use href="#dhl"/>
<use href="#drim" fill="none" stroke="#b8b8bc" stroke-opacity="0.45" stroke-width="1.6"/>
<path d="M0,0V-58.4" stroke="#000" stroke-width="1.15" fill="none"/>
<path d="M-3,0.0H0" stroke="#000" stroke-width="0.9"/>
<text x="-4.3" y="1.7" text-anchor="end" class="t">0.0</text>
<path d="M-3,-19.5H0" stroke="#000" stroke-width="0.9"/>
<text x="-4.3" y="-17.8" text-anchor="end" class="t">10.0</text>
<path d="M-3,-38.9H0" stroke="#000" stroke-width="0.9"/>
<text x="-4.3" y="-37.2" text-anchor="end" class="t">20.0</text>
<path d="M-3,-58.4H0" stroke="#000" stroke-width="0.9"/>
<text x="-4.3" y="-56.7" text-anchor="end" class="t">30.0</text>
<path d="M0,0L117.6,81.7L235.6,0" stroke="#000" stroke-width="1.25" fill="none"/>
<path d="M0.0,-0.0L-3.2,1.6" stroke="#000" stroke-width="0.8"/>
<text x="-2.6" y="8.2" text-anchor="end" class="t">1.5</text>
<path d="M235.6,-0.0L238.8,1.6" stroke="#000" stroke-width="0.8"/>
<text x="237.4" y="7.8" class="t">1.5</text>
<path d="M16.8,11.7L13.6,13.4" stroke="#000" stroke-width="0.8"/>
<text x="14.2" y="19.9" text-anchor="end" class="t">1.0</text>
<path d="M218.7,11.7L221.9,13.4" stroke="#000" stroke-width="0.8"/>
<text x="220.5" y="19.5" class="t">1.0</text>
<path d="M34.7,24.1L31.4,25.9" stroke="#000" stroke-width="0.8"/>
<text x="32.1" y="32.3" text-anchor="end" class="t">0.5</text>
<path d="M200.8,24.1L204.1,25.9" stroke="#000" stroke-width="0.8"/>
<text x="202.6" y="31.9" class="t">0.5</text>
<path d="M53.5,37.2L50.3,39.1" stroke="#000" stroke-width="0.8"/>
<text x="50.9" y="45.4" text-anchor="end" class="t">0.0</text>
<path d="M181.8,37.2L185.1,39.1" stroke="#000" stroke-width="0.8"/>
<text x="183.6" y="45.0" class="t">0.0</text>
<path d="M73.6,51.1L70.3,53.1" stroke="#000" stroke-width="0.8"/>
<text x="71.0" y="59.3" text-anchor="end" class="t">-0.5</text>
<path d="M161.7,51.1L165.0,53.2" stroke="#000" stroke-width="0.8"/>
<text x="163.5" y="58.9" class="t">-0.5</text>
<path d="M94.9,65.9L91.6,68.1" stroke="#000" stroke-width="0.8"/>
<text x="92.3" y="74.1" text-anchor="end" class="t">-1.0</text>
<path d="M140.4,65.9L143.7,68.1" stroke="#000" stroke-width="0.8"/>
<text x="142.2" y="73.7" class="t">-1.0</text>
<path d="M117.6,81.7L114.3,84.0" stroke="#000" stroke-width="0.8"/>
<text x="115.0" y="89.9" text-anchor="end" class="t">-1.5</text>
<path d="M117.6,81.7L120.9,84.0" stroke="#000" stroke-width="0.8"/>
<text x="119.4" y="89.5" class="t">-1.5</text>
<text x="25.6" y="54.5" class="ax">z/a</text>
<text x="194.7" y="54.9" class="ax">y/a</text>
</g>
<g transform="translate(32.2,307.2)">
<path d="M0,0L117.8,-58.6L235.6,0L117.6,81.7Z" fill="#0a1ef5"/>
<use href="#yl" fill="none" stroke="#000890" stroke-opacity="0.18" stroke-width="1.6" filter="url(#bl2)"/>
<use href="#eb1" fill="none" stroke="#000880" stroke-opacity="0.45" stroke-width="2" filter="url(#bl)"/>
<use href="#eb2" fill="none" stroke="#4070ff" stroke-opacity="0.35" stroke-width="1.4" filter="url(#bl)"/>
<path d="M119,79.2L232,1.2" fill="none" stroke="#70b0ff" stroke-opacity="0.55" stroke-width="2" filter="url(#bl)"/>
<g clip-path="url(#outdome)">
<path d="M45.4,-22.8 47.7,-24.2 49.9,-26 52.2,-28.5 54.5,-31.8 56.7,-35.9 58.9,-40.2 61.1,-43.9 63.3,-45.9 65.5,-46 67.7,-44.5 69.9,-42.4 72,-40.5 74.2,-39.4 76.3,-39.1 78.4,-39.5 80.5,-40.3 80.5,-40.1 78.4,-39.1 76.3,-38 74.2,-37 72,-35.9 69.9,-34.8 67.7,-33.7 65.5,-32.7 63.3,-31.6 61.1,-30.5 58.9,-29.4 56.7,-28.3 54.5,-27.1 52.2,-26 49.9,-24.9 47.7,-23.7 45.4,-22.6Z" fill="url(#rgd)" stroke="url(#rgd)" stroke-width=".6"/>
<path d="M46.4,-22.1 48.7,-23.6 51,-25.4 53.3,-28 55.5,-31.4 57.8,-35.6 60,-40 62.2,-43.7 64.4,-45.8 66.6,-45.9 68.8,-44.3 70.9,-42 73.1,-40.1 75.2,-38.9 77.4,-38.6 79.5,-38.9 81.6,-39.7 81.6,-39.5 79.5,-38.5 77.4,-37.4 75.2,-36.4 73.1,-35.3 70.9,-34.2 68.8,-33.1 66.6,-32 64.4,-30.9 62.2,-29.8 60,-28.7 57.8,-27.6 55.5,-26.5 53.3,-25.4 51,-24.2 48.7,-23.1 46.4,-22Z" fill="url(#rgd)" stroke="url(#rgd)" stroke-width=".6"/>
<path d="M47.5,-21.5 49.8,-23 52.1,-24.8 54.3,-27.4 56.6,-30.9 58.8,-35.2 61.1,-39.8 63.3,-43.6 65.5,-45.7 67.7,-45.7 69.8,-44.1 72,-41.7 74.2,-39.6 76.3,-38.4 78.4,-38 80.6,-38.4 82.7,-39.1 82.7,-38.9 80.6,-37.9 78.4,-36.8 76.3,-35.8 74.2,-34.7 72,-33.6 69.8,-32.5 67.7,-31.4 65.5,-30.3 63.3,-29.2 61.1,-28.1 58.8,-27 56.6,-25.9 54.3,-24.7 52.1,-23.6 49.8,-22.5 47.5,-21.3Z" fill="url(#rgd)" stroke="url(#rgd)" stroke-width=".6"/>
<path d="M48.6,-20.8 50.8,-22.3 53.1,-24.2 55.4,-26.9 57.7,-30.5 59.9,-34.9 62.1,-39.6 64.3,-43.5 66.5,-45.7 68.7,-45.6 70.9,-43.9 73.1,-41.4 75.2,-39.2 77.4,-37.9 79.5,-37.5 81.6,-37.8 83.7,-38.5 83.7,-38.3 81.6,-37.3 79.5,-36.2 77.4,-35.1 75.2,-34.1 73.1,-33 70.9,-31.9 68.7,-30.8 66.5,-29.7 64.3,-28.6 62.1,-27.5 59.9,-26.4 57.7,-25.2 55.4,-24.1 53.1,-23 50.8,-21.8 48.6,-20.7Z" fill="url(#rgd)" stroke="url(#rgd)" stroke-width=".6"/>
<path d="M49.6,-20.2 51.9,-21.7 54.2,-23.6 56.5,-26.3 58.7,-30 61,-34.6 63.2,-39.4 65.4,-43.4 67.6,-45.6 69.8,-45.5 72,-43.7 74.2,-41.1 76.3,-38.8 78.5,-37.3 80.6,-36.9 82.7,-37.2 84.8,-37.9 84.8,-37.7 82.7,-36.7 80.6,-35.6 78.5,-34.5 76.3,-33.5 74.2,-32.4 72,-31.3 69.8,-30.2 67.6,-29.1 65.4,-28 63.2,-26.8 61,-25.7 58.7,-24.6 56.5,-23.5 54.2,-22.3 51.9,-21.2 49.6,-20Z" fill="url(#rgd)" stroke="url(#rgd)" stroke-width=".6"/>
<path d="M50.7,-19.5 53,-21.1 55.3,-23 57.5,-25.8 59.8,-29.6 62,-34.2 64.3,-39.2 66.5,-43.3 68.7,-45.5 70.9,-45.4 73.1,-43.5 75.2,-40.7 77.4,-38.3 79.5,-36.8 81.7,-36.3 83.8,-36.6 85.9,-37.3 85.9,-37.1 83.8,-36.1 81.7,-35 79.5,-33.9 77.4,-32.8 75.2,-31.8 73.1,-30.7 70.9,-29.6 68.7,-28.4 66.5,-27.3 64.3,-26.2 62,-25.1 59.8,-23.9 57.5,-22.8 55.3,-21.7 53,-20.5 50.7,-19.3Z" fill="url(#rgd)" stroke="url(#rgd)" stroke-width=".6"/>
<path d="M51.8,-18.9 54.1,-20.4 56.4,-22.4 58.6,-25.2 60.9,-29.1 63.1,-33.9 65.4,-39 67.6,-43.2 69.8,-45.4 72,-45.3 74.2,-43.3 76.3,-40.4 78.5,-37.9 80.6,-36.3 82.8,-35.8 84.9,-36 87,-36.7 87,-36.5 84.9,-35.5 82.8,-34.4 80.6,-33.3 78.5,-32.2 76.3,-31.1 74.2,-30 72,-28.9 69.8,-27.8 67.6,-26.7 65.4,-25.6 63.1,-24.4 60.9,-23.3 58.6,-22.2 56.4,-21 54.1,-19.9 51.8,-18.7Z" fill="url(#rgd)" stroke="url(#rgd)" stroke-width=".6"/>
<path d="M52.9,-18.2 55.2,-19.8 57.4,-21.8 59.7,-24.7 62,-28.6 64.2,-33.5 66.4,-38.7 68.7,-43.1 70.9,-45.4 73.1,-45.2 75.2,-43.1 77.4,-40.1 79.6,-37.5 81.7,-35.8 83.8,-35.2 86,-35.4 88.1,-36.1 88.1,-35.9 86,-34.9 83.8,-33.8 81.7,-32.7 79.6,-31.6 77.4,-30.5 75.2,-29.4 73.1,-28.3 70.9,-27.2 68.7,-26.1 66.4,-24.9 64.2,-23.8 62,-22.7 59.7,-21.5 57.4,-20.4 55.2,-19.2 52.9,-18Z" fill="url(#rgd)" stroke="url(#rgd)" stroke-width=".6"/>
<path d="M53.9,-17.6 56.2,-19.1 58.5,-21.2 60.8,-24.1 63.1,-28.2 65.3,-33.2 67.5,-38.5 69.8,-42.9 72,-45.3 74.2,-45.1 76.3,-42.9 78.5,-39.8 80.7,-37 82.8,-35.3 84.9,-34.6 87.1,-34.8 89.2,-35.5 89.2,-35.3 87.1,-34.3 84.9,-33.2 82.8,-32.1 80.7,-31 78.5,-29.9 76.3,-28.8 74.2,-27.7 72,-26.6 69.8,-25.4 67.5,-24.3 65.3,-23.2 63.1,-22 60.8,-20.9 58.5,-19.7 56.2,-18.5 53.9,-17.4Z" fill="url(#rgd)" stroke="url(#rgd)" stroke-width=".6"/>
<path d="M55,-16.9 57.3,-18.5 59.6,-20.6 61.9,-23.6 64.2,-27.7 66.4,-32.9 68.6,-38.3 70.8,-42.8 73.1,-45.2 75.2,-45 77.4,-42.6 79.6,-39.4 81.8,-36.6 83.9,-34.8 86,-34.1 88.2,-34.3 90.3,-34.9 90.3,-34.7 88.2,-33.7 86,-32.6 83.9,-31.5 81.8,-30.4 79.6,-29.3 77.4,-28.2 75.2,-27 73.1,-25.9 70.8,-24.8 68.6,-23.7 66.4,-22.5 64.2,-21.4 61.9,-20.2 59.6,-19 57.3,-17.9 55,-16.7Z" fill="url(#rgd)" stroke="url(#rgd)" stroke-width=".6"/>
<path d="M56.1,-16.3 58.4,-17.9 60.7,-20 63,-23 65.2,-27.2 67.5,-32.5 69.7,-38.1 71.9,-42.7 74.2,-45.1 76.3,-44.9 78.5,-42.4 80.7,-39.1 82.9,-36.1 85,-34.2 87.1,-33.5 89.3,-33.7 91.4,-34.3 91.4,-34.1 89.3,-33 87.1,-32 85,-30.9 82.9,-29.8 80.7,-28.6 78.5,-27.5 76.3,-26.4 74.2,-25.3 71.9,-24.2 69.7,-23 67.5,-21.9 65.2,-20.7 63,-19.6 60.7,-18.4 58.4,-17.2 56.1,-16Z" fill="url(#rgd)" stroke="url(#rgd)" stroke-width=".6"/>
<path d="M57.2,-15.6 59.5,-17.2 61.8,-19.4 64.1,-22.5 66.3,-26.8 68.6,-32.2 70.8,-37.9 73,-42.6 75.3,-45.1 77.4,-44.8 79.6,-42.2 81.8,-38.8 84,-35.7 86.1,-33.7 88.2,-32.9 90.4,-33.1 92.5,-33.7 92.5,-33.5 90.4,-32.4 88.2,-31.3 86.1,-30.2 84,-29.1 81.8,-28 79.6,-26.9 77.4,-25.8 75.3,-24.6 73,-23.5 70.8,-22.4 68.6,-21.2 66.3,-20.1 64.1,-18.9 61.8,-17.7 59.5,-16.5 57.2,-15.4Z" fill="url(#rgd)" stroke="url(#rgd)" stroke-width=".6"/>
<path d="M58.3,-14.9 60.6,-16.6 62.9,-18.8 65.2,-21.9 67.4,-26.3 69.7,-31.8 71.9,-37.7 74.1,-42.5 76.4,-45 78.6,-44.6 80.7,-42 82.9,-38.4 85.1,-35.2 87.2,-33.2 89.3,-32.4 91.5,-32.5 93.6,-33.1 93.6,-32.9 91.5,-31.8 89.3,-30.7 87.2,-29.6 85.1,-28.5 82.9,-27.4 80.7,-26.3 78.6,-25.1 76.4,-24 74.1,-22.9 71.9,-21.7 69.7,-20.6 67.4,-19.4 65.2,-18.2 62.9,-17.1 60.6,-15.9 58.3,-14.7Z" fill="url(#rgd)" stroke="url(#rgd)" stroke-width=".6"/>
<path d="M59.4,-14.3 61.7,-15.9 64,-18.1 66.3,-21.3 68.6,-25.8 70.8,-31.5 73,-37.4 75.3,-42.4 77.5,-44.9 79.7,-44.5 81.8,-41.8 84,-38.1 86.2,-34.8 88.3,-32.7 90.5,-31.8 92.6,-31.9 94.7,-32.5 94.7,-32.3 92.6,-31.2 90.5,-30.1 88.3,-29 86.2,-27.9 84,-26.8 81.8,-25.6 79.7,-24.5 77.5,-23.4 75.3,-22.2 73,-21.1 70.8,-19.9 68.6,-18.7 66.3,-17.6 64,-16.4 61.7,-15.2 59.4,-14Z" fill="url(#rgd)" stroke="url(#rgd)" stroke-width=".6"/>
<path d="M60.5,-13.6 62.8,-15.3 65.1,-17.5 67.4,-20.8 69.7,-25.3 71.9,-31.1 74.1,-37.2 76.4,-42.3 78.6,-44.8 80.8,-44.4 83,-41.6 85.1,-37.8 87.3,-34.3 89.4,-32.1 91.6,-31.2 93.7,-31.3 95.8,-31.9 95.8,-31.7 93.7,-30.6 91.6,-29.5 89.4,-28.4 87.3,-27.2 85.1,-26.1 83,-25 80.8,-23.9 78.6,-22.7 76.4,-21.6 74.1,-20.4 71.9,-19.3 69.7,-18.1 67.4,-16.9 65.1,-15.7 62.8,-14.5 60.5,-13.3Z" fill="url(#rgd)" stroke="url(#rgd)" stroke-width=".6"/>
<path d="M61.6,-12.9 64,-14.6 66.2,-16.9 68.5,-20.1 70.8,-24.7 73,-30.5 75.3,-36.7 77.5,-41.7 79.7,-44.3 81.9,-43.9 84.1,-41.1 86.2,-37.2 88.4,-33.8 90.6,-31.5 92.7,-30.6 94.8,-30.6 96.9,-31.3 96.9,-31.1 94.8,-30 92.7,-28.8 90.6,-27.7 88.4,-26.6 86.2,-25.5 84.1,-24.4 81.9,-23.2 79.7,-22.1 77.5,-20.9 75.3,-19.8 73,-18.6 70.8,-17.4 68.5,-16.2 66.2,-15.1 64,-13.9 61.6,-12.7Z" fill="url(#rgd)" stroke="url(#rgd)" stroke-width=".6"/>
<path d="M62.8,-12.2 65.1,-13.9 67.4,-16.2 69.6,-19.5 71.9,-24.1 74.1,-29.9 76.4,-36 78.6,-41.1 80.8,-43.7 83,-43.3 85.2,-40.4 87.4,-36.6 89.5,-33.1 91.7,-30.9 93.8,-30 95.9,-30 98,-30.7 98,-30.4 95.9,-29.3 93.8,-28.2 91.7,-27.1 89.5,-26 87.4,-24.8 85.2,-23.7 83,-22.6 80.8,-21.4 78.6,-20.3 76.4,-19.1 74.1,-17.9 71.9,-16.8 69.6,-15.6 67.4,-14.4 65.1,-13.2 62.8,-12Z" fill="url(#rgd)" stroke="url(#rgd)" stroke-width=".6"/>
<path d="M63.9,-11.5 66.2,-13.2 68.5,-15.5 70.8,-18.8 73,-23.4 75.3,-29.2 77.5,-35.4 79.7,-40.5 81.9,-43.1 84.1,-42.7 86.3,-39.8 88.5,-36 90.6,-32.5 92.8,-30.3 94.9,-29.3 97.1,-29.4 99.2,-30.1 99.2,-29.8 97.1,-28.7 94.9,-27.6 92.8,-26.5 90.6,-25.3 88.5,-24.2 86.3,-23.1 84.1,-21.9 81.9,-20.8 79.7,-19.6 77.5,-18.4 75.3,-17.3 73,-16.1 70.8,-14.9 68.5,-13.7 66.2,-12.5 63.9,-11.3Z" fill="url(#rgd)" stroke="url(#rgd)" stroke-width=".6"/>
</g>
<use href="#dsil" fill="#c4c4ca" fill-opacity="0.47"/>
<use href="#dbase" fill="#0a1ef5"/>
<use href="#ilines" fill="none" stroke="#0818a0" stroke-opacity="0.5" stroke-width="2.6" filter="url(#bl2)"/>
<use href="#ilines2" fill="none" stroke="#90b0ff" stroke-opacity="0.4" stroke-width="2" filter="url(#bl2)"/>
<ellipse cx="90.0" cy="-13.9" rx="36" ry="15" transform="rotate(30 90.0 -13.9)" fill="url(#gtint)" opacity="0.85"/>
<use href="#dsil" fill="#c8c8d4" fill-opacity="0.3"/>
<use href="#dhl"/>
<use href="#drim" fill="none" stroke="#b8b8bc" stroke-opacity="0.45" stroke-width="1.6"/>
<path d="M0,0V-60.0" stroke="#000" stroke-width="1.15" fill="none"/>
<path d="M-3,0.0H0" stroke="#000" stroke-width="0.9"/>
<text x="-4.3" y="1.7" text-anchor="end" class="t">0.0</text>
<path d="M-3,-13.3H0" stroke="#000" stroke-width="0.9"/>
<text x="-4.3" y="-11.7" text-anchor="end" class="t">2.5</text>
<path d="M-3,-26.7H0" stroke="#000" stroke-width="0.9"/>
<text x="-4.3" y="-25.0" text-anchor="end" class="t">5.0</text>
<path d="M-3,-40.0H0" stroke="#000" stroke-width="0.9"/>
<text x="-4.3" y="-38.3" text-anchor="end" class="t">7.5</text>
<path d="M-3,-53.4H0" stroke="#000" stroke-width="0.9"/>
<text x="-4.3" y="-51.7" text-anchor="end" class="t">10.0</text>
<path d="M0,0L117.6,81.7L235.6,0" stroke="#000" stroke-width="1.25" fill="none"/>
<path d="M0.0,-0.0L-3.2,1.6" stroke="#000" stroke-width="0.8"/>
<text x="-2.6" y="8.2" text-anchor="end" class="t">1.5</text>
<path d="M235.6,-0.0L238.8,1.6" stroke="#000" stroke-width="0.8"/>
<text x="237.4" y="7.8" class="t">1.5</text>
<path d="M16.8,11.7L13.6,13.4" stroke="#000" stroke-width="0.8"/>
<text x="14.2" y="19.9" text-anchor="end" class="t">1.0</text>
<path d="M218.7,11.7L221.9,13.4" stroke="#000" stroke-width="0.8"/>
<text x="220.5" y="19.5" class="t">1.0</text>
<path d="M34.7,24.1L31.4,25.9" stroke="#000" stroke-width="0.8"/>
<text x="32.1" y="32.3" text-anchor="end" class="t">0.5</text>
<path d="M200.8,24.1L204.1,25.9" stroke="#000" stroke-width="0.8"/>
<text x="202.6" y="31.9" class="t">0.5</text>
<path d="M53.5,37.2L50.3,39.1" stroke="#000" stroke-width="0.8"/>
<text x="50.9" y="45.4" text-anchor="end" class="t">0.0</text>
<path d="M181.8,37.2L185.1,39.1" stroke="#000" stroke-width="0.8"/>
<text x="183.6" y="45.0" class="t">0.0</text>
<path d="M73.6,51.1L70.3,53.1" stroke="#000" stroke-width="0.8"/>
<text x="71.0" y="59.3" text-anchor="end" class="t">-0.5</text>
<path d="M161.7,51.1L165.0,53.2" stroke="#000" stroke-width="0.8"/>
<text x="163.5" y="58.9" class="t">-0.5</text>
<path d="M94.9,65.9L91.6,68.1" stroke="#000" stroke-width="0.8"/>
<text x="92.3" y="74.1" text-anchor="end" class="t">-1.0</text>
<path d="M140.4,65.9L143.7,68.1" stroke="#000" stroke-width="0.8"/>
<text x="142.2" y="73.7" class="t">-1.0</text>
<path d="M117.6,81.7L114.3,84.0" stroke="#000" stroke-width="0.8"/>
<text x="115.0" y="89.9" text-anchor="end" class="t">-1.5</text>
<path d="M117.6,81.7L120.9,84.0" stroke="#000" stroke-width="0.8"/>
<text x="119.4" y="89.5" class="t">-1.5</text>
<text x="25.6" y="54.5" class="ax">z/a</text>
<text x="194.7" y="54.9" class="ax">y/a</text>
<text transform="translate(-23.4,-17.2) rotate(-90)" font-size="9.6">|E|/E<tspan font-size="6.4" dy="2">0</tspan></text>
</g>
<g transform="translate(305.4,307.2)">
<path d="M0,0L117.8,-56.4L235.6,0L117.6,81.7Z" fill="#0a1ef5"/>
<use href="#spe" fill="none" stroke="#000890" stroke-opacity="0.22" stroke-width="2.4" filter="url(#bl2)"/>
<use href="#sre" fill="none" stroke="#000880" stroke-opacity="0.3" stroke-width="2.2" filter="url(#bl)"/>
<use href="#sqe" fill="none" stroke="#2070f0" stroke-opacity="0.35" stroke-width="2.2" filter="url(#bl)"/>
<use href="#yl" fill="none" stroke="#000890" stroke-opacity="0.38" stroke-width="1.8" filter="url(#bl2)"/>
<use href="#yl2" fill="none" stroke="#3060ff" stroke-opacity="0.3" stroke-width="1.4" filter="url(#bl2)"/>
<use href="#ext" fill="none" stroke="#000890" stroke-opacity="0.35" stroke-width="1.8" filter="url(#bl2)"/>
<g clip-path="url(#outdome)">
<path d="M49,-24.5 50.8,-25.6 52.7,-26.8 54.5,-28.4 56.2,-30.4 58,-32.9 59.8,-35.4 61.6,-37.6 63.3,-39 65.1,-39.3 66.8,-38.9 68.6,-38.1 70.3,-37.4 72,-37.2 73.7,-37.3 75.4,-37.8 77.1,-38.5 77.1,-38.4 75.4,-37.6 73.7,-36.7 72,-35.9 70.3,-35 68.6,-34.2 66.8,-33.3 65.1,-32.4 63.3,-31.6 61.6,-30.7 59.8,-29.8 58,-28.9 56.2,-28 54.5,-27.1 52.7,-26.2 50.8,-25.3 49,-24.4Z" fill="url(#rge)" stroke="url(#rge)" stroke-width=".6"/>
<path d="M50.1,-23.9 51.9,-24.9 53.7,-26.2 55.5,-27.9 57.3,-30 59.1,-32.5 60.9,-35.1 62.6,-37.3 64.4,-38.7 66.2,-39.1 67.9,-38.5 69.6,-37.7 71.4,-36.9 73.1,-36.6 74.8,-36.8 76.5,-37.2 78.2,-37.9 78.2,-37.8 76.5,-37 74.8,-36.1 73.1,-35.3 71.4,-34.4 69.6,-33.6 67.9,-32.7 66.2,-31.8 64.4,-30.9 62.6,-30.1 60.9,-29.2 59.1,-28.3 57.3,-27.4 55.5,-26.5 53.7,-25.6 51.9,-24.7 50.1,-23.8Z" fill="url(#rge)" stroke="url(#rge)" stroke-width=".6"/>
<path d="M51.2,-23.2 53,-24.3 54.8,-25.6 56.6,-27.3 58.4,-29.5 60.2,-32 61.9,-34.8 63.7,-37.1 65.5,-38.5 67.2,-38.8 69,-38.2 70.7,-37.3 72.4,-36.5 74.2,-36.1 75.9,-36.2 77.6,-36.7 79.3,-37.3 79.3,-37.2 77.6,-36.4 75.9,-35.5 74.2,-34.7 72.4,-33.8 70.7,-32.9 69,-32.1 67.2,-31.2 65.5,-30.3 63.7,-29.4 61.9,-28.6 60.2,-27.7 58.4,-26.8 56.6,-25.9 54.8,-25 53,-24.1 51.2,-23.1Z" fill="url(#rge)" stroke="url(#rge)" stroke-width=".6"/>
<path d="M52.2,-22.6 54,-23.7 55.9,-25 57.7,-26.7 59.4,-29 61.2,-31.6 63,-34.5 64.8,-36.9 66.5,-38.3 68.3,-38.6 70,-37.9 71.8,-36.9 73.5,-36 75.2,-35.5 77,-35.6 78.7,-36.1 80.4,-36.7 80.4,-36.6 78.7,-35.8 77,-34.9 75.2,-34.1 73.5,-33.2 71.8,-32.3 70,-31.5 68.3,-30.6 66.5,-29.7 64.8,-28.8 63,-27.9 61.2,-27 59.4,-26.1 57.7,-25.2 55.9,-24.3 54,-23.4 52.2,-22.5Z" fill="url(#rge)" stroke="url(#rge)" stroke-width=".6"/>
<path d="M53.3,-22 55.1,-23.1 56.9,-24.4 58.7,-26.2 60.5,-28.4 62.3,-31.2 64.1,-34.1 65.9,-36.6 67.6,-38.1 69.4,-38.3 71.1,-37.6 72.9,-36.5 74.6,-35.5 76.3,-35 78,-35 79.7,-35.5 81.4,-36.1 81.4,-36 79.7,-35.2 78,-34.3 76.3,-33.5 74.6,-32.6 72.9,-31.7 71.1,-30.8 69.4,-30 67.6,-29.1 65.9,-28.2 64.1,-27.3 62.3,-26.4 60.5,-25.5 58.7,-24.6 56.9,-23.7 55.1,-22.8 53.3,-21.8Z" fill="url(#rge)" stroke="url(#rge)" stroke-width=".6"/>
<path d="M54.4,-21.3 56.2,-22.4 58,-23.8 59.8,-25.6 61.6,-27.9 63.4,-30.8 65.2,-33.8 66.9,-36.4 68.7,-37.9 70.5,-38.1 72.2,-37.3 73.9,-36.1 75.7,-35 77.4,-34.5 79.1,-34.5 80.8,-34.9 82.5,-35.5 82.5,-35.4 80.8,-34.6 79.1,-33.7 77.4,-32.8 75.7,-32 73.9,-31.1 72.2,-30.2 70.5,-29.3 68.7,-28.4 66.9,-27.6 65.2,-26.7 63.4,-25.8 61.6,-24.9 59.8,-23.9 58,-23 56.2,-22.1 54.4,-21.2Z" fill="url(#rge)" stroke="url(#rge)" stroke-width=".6"/>
<path d="M55.4,-20.7 57.3,-21.8 59.1,-23.2 60.9,-25 62.7,-27.4 64.5,-30.4 66.2,-33.5 68,-36.1 69.8,-37.7 71.5,-37.9 73.3,-37 75,-35.7 76.8,-34.5 78.5,-33.9 80.2,-33.9 81.9,-34.3 83.6,-34.9 83.6,-34.8 81.9,-34 80.2,-33.1 78.5,-32.2 76.8,-31.4 75,-30.5 73.3,-29.6 71.5,-28.7 69.8,-27.8 68,-26.9 66.2,-26 64.5,-25.1 62.7,-24.2 60.9,-23.3 59.1,-22.4 57.3,-21.5 55.4,-20.5Z" fill="url(#rge)" stroke="url(#rge)" stroke-width=".6"/>
<path d="M56.5,-20 58.4,-21.2 60.2,-22.6 62,-24.4 63.8,-26.9 65.6,-30 67.3,-33.2 69.1,-35.9 70.9,-37.4 72.6,-37.6 74.4,-36.7 76.1,-35.3 77.8,-34 79.6,-33.4 81.3,-33.3 83,-33.7 84.7,-34.3 84.7,-34.2 83,-33.4 81.3,-32.5 79.6,-31.6 77.8,-30.7 76.1,-29.9 74.4,-29 72.6,-28.1 70.9,-27.2 69.1,-26.3 67.3,-25.4 65.6,-24.5 63.8,-23.6 62,-22.7 60.2,-21.7 58.4,-20.8 56.5,-19.9Z" fill="url(#rge)" stroke="url(#rge)" stroke-width=".6"/>
<path d="M57.6,-19.4 59.4,-20.5 61.3,-22 63.1,-23.9 64.9,-26.4 66.6,-29.5 68.4,-32.8 70.2,-35.6 72,-37.2 73.7,-37.4 75.5,-36.4 77.2,-34.9 78.9,-33.5 80.7,-32.8 82.4,-32.7 84.1,-33.1 85.8,-33.7 85.8,-33.6 84.1,-32.7 82.4,-31.9 80.7,-31 78.9,-30.1 77.2,-29.2 75.5,-28.3 73.7,-27.5 72,-26.6 70.2,-25.7 68.4,-24.8 66.6,-23.8 64.9,-22.9 63.1,-22 61.3,-21.1 59.4,-20.2 57.6,-19.2Z" fill="url(#rge)" stroke="url(#rge)" stroke-width=".6"/>
<path d="M58.7,-18.7 60.5,-19.9 62.3,-21.3 64.2,-23.3 65.9,-25.9 67.7,-29.1 69.5,-32.5 71.3,-35.4 73.1,-37 74.8,-37.1 76.6,-36 78.3,-34.4 80,-33.1 81.8,-32.3 83.5,-32.1 85.2,-32.5 86.9,-33.1 86.9,-33 85.2,-32.1 83.5,-31.3 81.8,-30.4 80,-29.5 78.3,-28.6 76.6,-27.7 74.8,-26.8 73.1,-25.9 71.3,-25 69.5,-24.1 67.7,-23.2 65.9,-22.3 64.2,-21.4 62.3,-20.4 60.5,-19.5 58.7,-18.6Z" fill="url(#rge)" stroke="url(#rge)" stroke-width=".6"/>
<path d="M59.8,-18 61.6,-19.2 63.4,-20.7 65.2,-22.7 67,-25.4 68.8,-28.7 70.6,-32.2 72.4,-35.1 74.2,-36.8 75.9,-36.9 77.7,-35.7 79.4,-34 81.1,-32.6 82.9,-31.7 84.6,-31.5 86.3,-31.9 88,-32.5 88,-32.4 86.3,-31.5 84.6,-30.6 82.9,-29.8 81.1,-28.9 79.4,-28 77.7,-27.1 75.9,-26.2 74.2,-25.3 72.4,-24.4 70.6,-23.5 68.8,-22.6 67,-21.6 65.2,-20.7 63.4,-19.8 61.6,-18.9 59.8,-17.9Z" fill="url(#rge)" stroke="url(#rge)" stroke-width=".6"/>
<path d="M60.9,-17.4 62.7,-18.6 64.5,-20.1 66.3,-22.1 68.1,-24.9 69.9,-28.3 71.7,-31.9 73.5,-34.9 75.3,-36.6 77,-36.6 78.8,-35.4 80.5,-33.6 82.2,-32.1 84,-31.2 85.7,-30.9 87.4,-31.3 89.1,-31.9 89.1,-31.8 87.4,-30.9 85.7,-30 84,-29.1 82.2,-28.2 80.5,-27.3 78.8,-26.5 77,-25.6 75.3,-24.6 73.5,-23.7 71.7,-22.8 69.9,-21.9 68.1,-21 66.3,-20.1 64.5,-19.1 62.7,-18.2 60.9,-17.3Z" fill="url(#rge)" stroke="url(#rge)" stroke-width=".6"/>
<path d="M62,-16.7 63.8,-17.9 65.6,-19.5 67.4,-21.6 69.2,-24.4 71,-27.8 72.8,-31.5 74.6,-34.6 76.4,-36.3 78.1,-36.4 79.9,-35.1 81.6,-33.2 83.3,-31.6 85.1,-30.6 86.8,-30.4 88.5,-30.7 90.2,-31.3 90.2,-31.2 88.5,-30.3 86.8,-29.4 85.1,-28.5 83.3,-27.6 81.6,-26.7 79.9,-25.8 78.1,-24.9 76.4,-24 74.6,-23.1 72.8,-22.2 71,-21.3 69.2,-20.3 67.4,-19.4 65.6,-18.5 63.8,-17.5 62,-16.6Z" fill="url(#rge)" stroke="url(#rge)" stroke-width=".6"/>
<path d="M63.1,-16.1 64.9,-17.3 66.7,-18.8 68.6,-21 70.4,-23.9 72.1,-27.4 73.9,-31.2 75.7,-34.4 77.5,-36.1 79.2,-36.1 81,-34.8 82.7,-32.8 84.4,-31.1 86.2,-30 87.9,-29.8 89.6,-30.1 91.3,-30.7 91.3,-30.5 89.6,-29.7 87.9,-28.8 86.2,-27.9 84.4,-27 82.7,-26.1 81,-25.2 79.2,-24.3 77.5,-23.4 75.7,-22.4 73.9,-21.5 72.1,-20.6 70.4,-19.7 68.6,-18.7 66.7,-17.8 64.9,-16.9 63.1,-15.9Z" fill="url(#rge)" stroke="url(#rge)" stroke-width=".6"/>
<path d="M64.2,-15.4 66,-16.6 67.9,-18.2 69.7,-20.4 71.5,-23.3 73.3,-27 75,-30.9 76.8,-34.1 78.6,-35.9 80.3,-35.9 82.1,-34.4 83.8,-32.4 85.6,-30.6 87.3,-29.5 89,-29.2 90.7,-29.4 92.4,-30.1 92.4,-29.9 90.7,-29 89,-28.1 87.3,-27.2 85.6,-26.3 83.8,-25.4 82.1,-24.5 80.3,-23.6 78.6,-22.7 76.8,-21.8 75,-20.9 73.3,-19.9 71.5,-19 69.7,-18.1 67.9,-17.1 66,-16.2 64.2,-15.2Z" fill="url(#rge)" stroke="url(#rge)" stroke-width=".6"/>
<path d="M65.3,-14.7 67.2,-16 69,-17.5 70.8,-19.7 72.6,-22.7 74.4,-26.4 76.2,-30.3 77.9,-33.5 79.7,-35.3 81.5,-35.3 83.2,-33.9 84.9,-31.8 86.7,-30 88.4,-28.9 90.1,-28.5 91.8,-28.8 93.5,-29.4 93.5,-29.3 91.8,-28.4 90.1,-27.5 88.4,-26.6 86.7,-25.7 84.9,-24.8 83.2,-23.9 81.5,-23 79.7,-22.1 77.9,-21.1 76.2,-20.2 74.4,-19.3 72.6,-18.4 70.8,-17.4 69,-16.5 67.2,-15.5 65.3,-14.6Z" fill="url(#rge)" stroke="url(#rge)" stroke-width=".6"/>
<path d="M66.4,-14.1 68.3,-15.3 70.1,-16.9 71.9,-19.1 73.7,-22 75.5,-25.7 77.3,-29.6 79,-32.9 80.8,-34.7 82.6,-34.7 84.3,-33.2 86.1,-31.2 87.8,-29.3 89.5,-28.2 91.2,-27.9 93,-28.2 94.7,-28.8 94.7,-28.7 93,-27.8 91.2,-26.9 89.5,-26 87.8,-25.1 86.1,-24.2 84.3,-23.3 82.6,-22.3 80.8,-21.4 79,-20.5 77.3,-19.6 75.5,-18.6 73.7,-17.7 71.9,-16.8 70.1,-15.8 68.3,-14.9 66.4,-13.9Z" fill="url(#rge)" stroke="url(#rge)" stroke-width=".6"/>
<path d="M67.6,-13.4 69.4,-14.6 71.2,-16.2 73,-18.4 74.8,-21.4 76.6,-25.1 78.4,-29 80.2,-32.3 81.9,-34.1 83.7,-34.1 85.4,-32.6 87.2,-30.5 88.9,-28.7 90.6,-27.6 92.4,-27.3 94.1,-27.6 95.8,-28.2 95.8,-28 94.1,-27.1 92.4,-26.2 90.6,-25.3 88.9,-24.4 87.2,-23.5 85.4,-22.6 83.7,-21.7 81.9,-20.8 80.2,-19.8 78.4,-18.9 76.6,-18 74.8,-17 73,-16.1 71.2,-15.1 69.4,-14.2 67.6,-13.2Z" fill="url(#rge)" stroke="url(#rge)" stroke-width=".6"/>
</g>
<use href="#dsil" fill="#c4c4ca" fill-opacity="0.47"/>
<use href="#dbase" fill="#0a1ef5"/>
<use href="#ringsc" fill="none" stroke="#a0b0ff" stroke-opacity="0.5" stroke-width="2.2" filter="url(#bl2)"/>
<use href="#ringsc2" fill="none" stroke="#0818b0" stroke-opacity="0.3" stroke-width="1.5" filter="url(#bl)"/>
<g id="spke"><path d="M112.2,-28.5 112.9,-28.8 113.6,-29.4 114.3,-30.5 114.9,-32.4 115.6,-35.1 116.3,-38.1 116.9,-40.6 117.6,-41.5 118.3,-40.6 118.9,-38.1 119.6,-35.1 120.3,-32.4 120.9,-30.5 121.6,-29.4 122.3,-28.8 122.9,-28.5Z" fill="url(#g5)"/><path d="M117.6,-41.5 117.6,-41.5 118.3,-40.6 118.9,-38.1 119.6,-35.1 120.3,-32.4 120.9,-30.5 121.6,-29.4 122.3,-28.8 122.9,-28.5Z" fill="#002" fill-opacity=".25"/><path d="M118.4,-28.3 119.1,-28.6 119.7,-29.2 120.4,-30.3 121.1,-32.2 121.7,-34.9 122.4,-37.9 123.1,-40.4 123.7,-41.4 124.4,-40.4 125.1,-37.9 125.8,-34.9 126.4,-32.2 127.1,-30.3 127.8,-29.2 128.4,-28.6 129.1,-28.3Z" fill="url(#g5)"/><path d="M123.7,-41.4 123.7,-41.4 124.4,-40.4 125.1,-37.9 125.8,-34.9 126.4,-32.2 127.1,-30.3 127.8,-29.2 128.4,-28.6 129.1,-28.3Z" fill="#002" fill-opacity=".25"/><path d="M106.1,-28.3 106.8,-28.6 107.4,-29.2 108.1,-30.3 108.8,-32.2 109.4,-34.9 110.1,-37.9 110.8,-40.4 111.4,-41.4 112.1,-40.4 112.8,-37.9 113.4,-34.9 114.1,-32.2 114.8,-30.3 115.4,-29.2 116.1,-28.6 116.8,-28.3Z" fill="url(#g5)"/><path d="M111.4,-41.4 111.4,-41.4 112.1,-40.4 112.8,-37.9 113.4,-34.9 114.1,-32.2 114.8,-30.3 115.4,-29.2 116.1,-28.6 116.8,-28.3Z" fill="#002" fill-opacity=".25"/><path d="M124.5,-27.7 125.2,-28 125.8,-28.6 126.5,-29.7 127.2,-31.6 127.8,-34.3 128.5,-37.3 129.2,-39.8 129.8,-40.8 130.5,-39.8 131.2,-37.3 131.8,-34.3 132.5,-31.6 133.2,-29.7 133.8,-28.6 134.5,-28 135.2,-27.7Z" fill="url(#g5)"/><path d="M129.8,-40.8 129.8,-40.8 130.5,-39.8 131.2,-37.3 131.8,-34.3 132.5,-31.6 133.2,-29.7 133.8,-28.6 134.5,-28 135.2,-27.7Z" fill="#002" fill-opacity=".25"/><path d="M100,-27.6 100.7,-27.9 101.3,-28.6 102,-29.7 102.7,-31.6 103.3,-34.4 104,-37.5 104.7,-40 105.3,-41 106,-40 106.7,-37.5 107.3,-34.4 108,-31.6 108.7,-29.7 109.3,-28.6 110,-27.9 110.7,-27.6Z" fill="url(#g5)"/><path d="M105.3,-41 105.3,-41 106,-40 106.7,-37.5 107.3,-34.4 108,-31.6 108.7,-29.7 109.3,-28.6 110,-27.9 110.7,-27.6Z" fill="#002" fill-opacity=".25"/><path d="M130.4,-26.7 131.1,-27 131.8,-27.6 132.4,-28.7 133.1,-30.6 133.8,-33.3 134.4,-36.3 135.1,-38.8 135.8,-39.8 136.4,-38.8 137.1,-36.3 137.8,-33.3 138.5,-30.6 139.1,-28.7 139.8,-27.6 140.5,-27 141.1,-26.7Z" fill="url(#g5)"/><path d="M135.8,-39.8 135.8,-39.8 136.4,-38.8 137.1,-36.3 137.8,-33.3 138.5,-30.6 139.1,-28.7 139.8,-27.6 140.5,-27 141.1,-26.7Z" fill="#002" fill-opacity=".25"/><path d="M94.1,-26.6 94.7,-26.9 95.4,-27.6 96.1,-28.9 96.7,-31.1 97.4,-34.1 98.1,-37.6 98.7,-40.4 99.4,-41.5 100.1,-40.4 100.8,-37.6 101.4,-34.1 102.1,-31.1 102.8,-28.9 103.4,-27.6 104.1,-26.9 104.8,-26.6Z" fill="url(#g3)"/><path d="M99.4,-41.5 99.4,-41.5 100.1,-40.4 100.8,-37.6 101.4,-34.1 102.1,-31.1 102.8,-28.9 103.4,-27.6 104.1,-26.9 104.8,-26.6Z" fill="#002" fill-opacity=".25"/><path d="M136.1,-25.2 136.8,-25.5 137.4,-26.1 138.1,-27.3 138.8,-29.2 139.5,-31.9 140.1,-34.9 140.8,-37.4 141.5,-38.4 142.2,-37.4 142.8,-34.9 143.5,-31.9 144.2,-29.2 144.8,-27.3 145.5,-26.1 146.2,-25.5 146.9,-25.2Z" fill="url(#g5)"/><path d="M141.5,-38.4 141.5,-38.4 142.2,-37.4 142.8,-34.9 143.5,-31.9 144.2,-29.2 144.8,-27.3 145.5,-26.1 146.2,-25.5 146.9,-25.2Z" fill="#002" fill-opacity=".25"/><path d="M88.3,-25.1 89,-25.6 89.7,-26.5 90.4,-28.2 91,-31.1 91.7,-35.2 92.4,-39.7 93,-43.5 93.7,-45 94.4,-43.5 95.1,-39.7 95.7,-35.2 96.4,-31.1 97.1,-28.2 97.8,-26.5 98.4,-25.6 99.1,-25.1Z" fill="url(#g6)"/><path d="M93.7,-45 93.7,-45 94.4,-43.5 95.1,-39.7 95.7,-35.2 96.4,-31.1 97.1,-28.2 97.8,-26.5 98.4,-25.6 99.1,-25.1Z" fill="#002" fill-opacity=".25"/><path d="M141.5,-23.4 142.2,-23.7 142.8,-24.3 143.5,-25.5 144.2,-27.4 144.9,-30.1 145.5,-33.2 146.2,-35.7 146.9,-36.6 147.6,-35.7 148.2,-33.2 148.9,-30.1 149.6,-27.4 150.3,-25.5 150.9,-24.3 151.6,-23.7 152.3,-23.4Z" fill="url(#g5)"/><path d="M146.9,-36.6 146.9,-36.6 147.6,-35.7 148.2,-33.2 148.9,-30.1 149.6,-27.4 150.3,-25.5 150.9,-24.3 151.6,-23.7 152.3,-23.4Z" fill="#002" fill-opacity=".25"/><path d="M82.9,-23.3 83.6,-23.9 84.3,-25.2 85,-27.6 85.6,-31.7 86.3,-37.4 87,-43.9 87.7,-49.2 88.3,-51.3 89,-49.2 89.7,-43.9 90.4,-37.4 91,-31.7 91.7,-27.6 92.4,-25.2 93.1,-23.9 93.7,-23.3Z" fill="url(#g12)"/><path d="M88.3,-51.3 88.3,-51.3 89,-49.2 89.7,-43.9 90.4,-37.4 91,-31.7 91.7,-27.6 92.4,-25.2 93.1,-23.9 93.7,-23.3Z" fill="#002" fill-opacity=".25"/><path d="M146.5,-21.2 147.2,-21.5 147.8,-22.1 148.5,-23.3 149.2,-25.2 149.9,-28 150.5,-31 151.2,-33.6 151.9,-34.5 152.6,-33.6 153.3,-31 153.9,-28 154.6,-25.2 155.3,-23.3 156,-22.1 156.6,-21.5 157.3,-21.2Z" fill="url(#g5)"/><path d="M151.9,-34.5 151.9,-34.5 152.6,-33.6 153.3,-31 153.9,-28 154.6,-25.2 155.3,-23.3 156,-22.1 156.6,-21.5 157.3,-21.2Z" fill="#002" fill-opacity=".25"/><path d="M77.9,-21.1 78.6,-22.1 79.3,-24 79.9,-27.7 80.6,-33.9 81.3,-42.7 82,-52.6 82.7,-60.7 83.3,-63.8 84,-60.7 84.7,-52.6 85.4,-42.7 86.1,-33.9 86.7,-27.7 87.4,-24 88.1,-22.1 88.8,-21.1Z" fill="url(#g13)"/><path d="M83.3,-63.8 83.3,-63.8 84,-60.7 84.7,-52.6 85.4,-42.7 86.1,-33.9 86.7,-27.7 87.4,-24 88.1,-22.1 88.8,-21.1Z" fill="#002" fill-opacity=".25"/><path d="M151,-18.7 151.7,-19 152.4,-19.6 153.1,-20.8 153.7,-22.7 154.4,-25.5 155.1,-28.6 155.8,-31.1 156.5,-32.1 157.1,-31.1 157.8,-28.6 158.5,-25.5 159.2,-22.7 159.9,-20.8 160.6,-19.6 161.2,-19 161.9,-18.7Z" fill="url(#g5)"/><path d="M156.5,-32.1 156.5,-32.1 157.1,-31.1 157.8,-28.6 158.5,-25.5 159.2,-22.7 159.9,-20.8 160.6,-19.6 161.2,-19 161.9,-18.7Z" fill="#002" fill-opacity=".25"/><path d="M73.3,-18.6 74,-19.2 74.7,-20.5 75.4,-22.9 76.1,-27 76.8,-32.8 77.4,-39.4 78.1,-44.8 78.8,-46.8 79.5,-44.8 80.2,-39.4 80.8,-32.8 81.5,-27 82.2,-22.9 82.9,-20.5 83.6,-19.2 84.3,-18.6Z" fill="url(#g12)"/><path d="M78.8,-46.8 78.8,-46.8 79.5,-44.8 80.2,-39.4 80.8,-32.8 81.5,-27 82.2,-22.9 82.9,-20.5 83.6,-19.2 84.3,-18.6Z" fill="#002" fill-opacity=".25"/><path d="M155,-15.9 155.7,-16.2 156.4,-16.8 157.1,-17.9 157.8,-19.9 158.4,-22.7 159.1,-25.8 159.8,-28.3 160.5,-29.3 161.2,-28.3 161.9,-25.8 162.6,-22.7 163.3,-19.9 163.9,-17.9 164.6,-16.8 165.3,-16.2 166,-15.9Z" fill="url(#g5)"/><path d="M160.5,-29.3 160.5,-29.3 161.2,-28.3 161.9,-25.8 162.6,-22.7 163.3,-19.9 163.9,-17.9 164.6,-16.8 165.3,-16.2 166,-15.9Z" fill="#002" fill-opacity=".25"/><path d="M69.3,-15.7 70,-16.2 70.7,-17.1 71.4,-18.8 72,-21.8 72.7,-25.9 73.4,-30.6 74.1,-34.5 74.8,-36 75.5,-34.5 76.2,-30.6 76.8,-25.9 77.5,-21.8 78.2,-18.8 78.9,-17.1 79.6,-16.2 80.3,-15.7Z" fill="url(#g6)"/><path d="M74.8,-36 74.8,-36 75.5,-34.5 76.2,-30.6 76.8,-25.9 77.5,-21.8 78.2,-18.8 78.9,-17.1 79.6,-16.2 80.3,-15.7Z" fill="#002" fill-opacity=".25"/><path d="M158.4,-12.7 159.1,-13 159.8,-13.7 160.5,-14.8 161.2,-16.8 161.9,-19.6 162.6,-22.7 163.3,-25.3 163.9,-26.3 164.6,-25.3 165.3,-22.7 166,-19.6 166.7,-16.8 167.4,-14.8 168.1,-13.7 168.8,-13 169.5,-12.7Z" fill="url(#g5)"/><path d="M163.9,-26.3 163.9,-26.3 164.6,-25.3 165.3,-22.7 166,-19.6 166.7,-16.8 167.4,-14.8 168.1,-13.7 168.8,-13 169.5,-12.7Z" fill="#002" fill-opacity=".25"/><path d="M65.8,-12.5 66.5,-12.9 67.2,-13.6 67.9,-14.9 68.6,-17.2 69.3,-20.3 70,-23.9 70.7,-26.9 71.4,-28 72.1,-26.9 72.8,-23.9 73.4,-20.3 74.1,-17.2 74.8,-14.9 75.5,-13.6 76.2,-12.9 76.9,-12.5Z" fill="url(#g3)"/><path d="M71.4,-28 71.4,-28 72.1,-26.9 72.8,-23.9 73.4,-20.3 74.1,-17.2 74.8,-14.9 75.5,-13.6 76.2,-12.9 76.9,-12.5Z" fill="#002" fill-opacity=".25"/><path d="M161.2,-9.3 161.9,-9.7 162.6,-10.3 163.2,-11.5 163.9,-13.4 164.6,-16.3 165.3,-19.4 166,-22 166.7,-23 167.4,-22 168.1,-19.4 168.8,-16.3 169.5,-13.4 170.2,-11.5 170.9,-10.3 171.6,-9.7 172.3,-9.3Z" fill="url(#g5)"/><path d="M166.7,-23 166.7,-23 167.4,-22 168.1,-19.4 168.8,-16.3 169.5,-13.4 170.2,-11.5 170.9,-10.3 171.6,-9.7 172.3,-9.3Z" fill="#002" fill-opacity=".25"/><path d="M63,-9.1 63.7,-9.5 64.4,-10.1 65.1,-11.3 65.8,-13.3 66.5,-16.2 67.2,-19.5 67.9,-22.1 68.6,-23.1 69.3,-22.1 70,-19.5 70.7,-16.2 71.4,-13.3 72.1,-11.3 72.8,-10.1 73.5,-9.5 74.2,-9.1Z" fill="url(#g5)"/><path d="M68.6,-23.1 68.6,-23.1 69.3,-22.1 70,-19.5 70.7,-16.2 71.4,-13.3 72.1,-11.3 72.8,-10.1 73.5,-9.5 74.2,-9.1Z" fill="#002" fill-opacity=".25"/><path d="M163.2,-5.8 163.9,-6.1 164.6,-6.7 165.3,-7.9 166,-9.9 166.7,-12.7 167.4,-15.9 168.1,-18.6 168.8,-19.6 169.5,-18.6 170.2,-15.9 170.9,-12.7 171.6,-9.9 172.3,-7.9 173,-6.7 173.7,-6.1 174.4,-5.8Z" fill="url(#g5)"/><path d="M168.8,-19.6 168.8,-19.6 169.5,-18.6 170.2,-15.9 170.9,-12.7 171.6,-9.9 172.3,-7.9 173,-6.7 173.7,-6.1 174.4,-5.8Z" fill="#002" fill-opacity=".25"/><path d="M61,-5.6 61.7,-5.9 62.4,-6.5 63.1,-7.7 63.8,-9.7 64.5,-12.5 65.2,-15.8 65.9,-18.4 66.6,-19.4 67.3,-18.4 68,-15.8 68.7,-12.5 69.4,-9.7 70.1,-7.7 70.8,-6.5 71.5,-5.9 72.2,-5.6Z" fill="url(#g5)"/><path d="M66.6,-19.4 66.6,-19.4 67.3,-18.4 68,-15.8 68.7,-12.5 69.4,-9.7 70.1,-7.7 70.8,-6.5 71.5,-5.9 72.2,-5.6Z" fill="#002" fill-opacity=".25"/><path d="M164.4,-2 165.2,-2.3 165.9,-3 166.6,-4.2 167.3,-6.2 168,-9.1 168.7,-12.3 169.4,-15 170.1,-16 170.8,-15 171.5,-12.3 172.2,-9.1 173,-6.2 173.7,-4.2 174.4,-3 175.1,-2.3 175.8,-2Z" fill="url(#g5)"/><path d="M170.1,-16 170.1,-16 170.8,-15 171.5,-12.3 172.2,-9.1 173,-6.2 173.7,-4.2 174.4,-3 175.1,-2.3 175.8,-2Z" fill="#002" fill-opacity=".25"/><path d="M59.6,-1.8 60.3,-2.1 61,-2.8 61.8,-4 62.5,-6 63.2,-8.8 63.9,-12.1 64.6,-14.7 65.3,-15.7 66,-14.7 66.7,-12.1 67.4,-8.8 68.1,-6 68.8,-4 69.6,-2.8 70.3,-2.1 71,-1.8Z" fill="url(#g5)"/><path d="M65.3,-15.7 65.3,-15.7 66,-14.7 66.7,-12.1 67.4,-8.8 68.1,-6 68.8,-4 69.6,-2.8 70.3,-2.1 71,-1.8Z" fill="#002" fill-opacity=".25"/><path d="M164.9,1.8 165.6,1.5 166.3,.8 167,-.4 167.8,-2.5 168.5,-5.4 169.2,-8.7 169.9,-11.4 170.6,-12.5 171.3,-11.4 172.1,-8.7 172.8,-5.4 173.5,-2.5 174.2,-.4 174.9,.8 175.6,1.5 176.4,1.8Z" fill="url(#g5)"/><path d="M170.6,-12.5 170.6,-12.5 171.3,-11.4 172.1,-8.7 172.8,-5.4 173.5,-2.5 174.2,-.4 174.9,.8 175.6,1.5 176.4,1.8Z" fill="#002" fill-opacity=".25"/><path d="M59.1,2 59.8,1.7 60.5,1.1 61.3,-.1 62,-2.2 62.7,-5.1 63.4,-8.3 64.1,-11 64.8,-12 65.6,-11 66.3,-8.3 67,-5.1 67.7,-2.2 68.4,-.1 69.1,1.1 69.8,1.7 70.6,2Z" fill="url(#g5)"/><path d="M64.8,-12 64.8,-12 65.6,-11 66.3,-8.3 67,-5.1 67.7,-2.2 68.4,-.1 69.1,1.1 69.8,1.7 70.6,2Z" fill="#002" fill-opacity=".25"/><path d="M164.5,5.7 165.2,5.4 166,4.7 166.7,3.3 167.4,1.1 168.1,-2 168.8,-5.6 169.6,-8.5 170.3,-9.6 171,-8.5 171.7,-5.6 172.5,-2 173.2,1.1 173.9,3.3 174.6,4.7 175.3,5.4 176.1,5.7Z" fill="url(#g3)"/><path d="M170.3,-9.6 170.3,-9.6 171,-8.5 171.7,-5.6 172.5,-2 173.2,1.1 173.9,3.3 174.6,4.7 175.3,5.4 176.1,5.7Z" fill="#002" fill-opacity=".25"/><path d="M59.4,5.9 60.1,5.6 60.9,4.9 61.6,3.7 62.3,1.7 63,-1.3 63.8,-4.5 64.5,-7.2 65.2,-8.3 65.9,-7.2 66.6,-4.5 67.4,-1.3 68.1,1.7 68.8,3.7 69.5,4.9 70.3,5.6 71,5.9Z" fill="url(#g5)"/><path d="M65.2,-8.3 65.2,-8.3 65.9,-7.2 66.6,-4.5 67.4,-1.3 68.1,1.7 68.8,3.7 69.5,4.9 70.3,5.6 71,5.9Z" fill="#002" fill-opacity=".25"/><path d="M163.3,9.6 164,9.1 164.7,8.3 165.5,6.7 166.2,4.1 166.9,.3 167.6,-4 168.4,-7.5 169.1,-8.8 169.8,-7.5 170.6,-4 171.3,.3 172,4.1 172.7,6.7 173.5,8.3 174.2,9.1 174.9,9.6Z" fill="url(#g4)"/><path d="M169.1,-8.8 169.1,-8.8 169.8,-7.5 170.6,-4 171.3,.3 172,4.1 172.7,6.7 173.5,8.3 174.2,9.1 174.9,9.6Z" fill="#002" fill-opacity=".25"/><path d="M60.6,9.8 61.3,9.4 62.1,8.8 62.8,7.6 63.5,5.5 64.2,2.5 65,-.8 65.7,-3.5 66.4,-4.5 67.2,-3.5 67.9,-.8 68.6,2.5 69.3,5.5 70.1,7.6 70.8,8.8 71.5,9.4 72.3,9.8Z" fill="url(#g3)"/><path d="M66.4,-4.5 66.4,-4.5 67.2,-3.5 67.9,-.8 68.6,2.5 69.3,5.5 70.1,7.6 70.8,8.8 71.5,9.4 72.3,9.8Z" fill="#002" fill-opacity=".25"/><path d="M161.2,13.3 161.9,12.8 162.6,11.7 163.4,9.6 164.1,6 164.8,1 165.6,-4.7 166.3,-9.4 167.1,-11.2 167.8,-9.4 168.5,-4.7 169.3,1 170,6 170.7,9.6 171.5,11.7 172.2,12.8 172.9,13.3Z" fill="url(#g7)"/><path d="M167.1,-11.2 167.1,-11.2 167.8,-9.4 168.5,-4.7 169.3,1 170,6 170.7,9.6 171.5,11.7 172.2,12.8 172.9,13.3Z" fill="#002" fill-opacity=".25"/><path d="M62.6,13.5 63.4,13.2 64.1,12.6 64.8,11.3 65.6,9.2 66.3,6.2 67,2.9 67.8,.2 68.5,-.9 69.2,.2 70,2.9 70.7,6.2 71.5,9.2 72.2,11.3 72.9,12.6 73.7,13.2 74.4,13.5Z" fill="url(#g3)"/><path d="M68.5,-.9 68.5,-.9 69.2,.2 70,2.9 70.7,6.2 71.5,9.2 72.2,11.3 72.9,12.6 73.7,13.2 74.4,13.5Z" fill="#002" fill-opacity=".25"/><path d="M158.2,17 159,16.2 159.7,14.8 160.4,12 161.2,7.4 161.9,.8 162.7,-6.6 163.4,-12.6 164.2,-15 164.9,-12.6 165.6,-6.6 166.4,.8 167.1,7.4 167.9,12 168.6,14.8 169.4,16.2 170.1,17Z" fill="url(#g8)"/><path d="M164.2,-15 164.2,-15 164.9,-12.6 165.6,-6.6 166.4,.8 167.1,7.4 167.9,12 168.6,14.8 169.4,16.2 170.1,17Z" fill="#002" fill-opacity=".25"/><path d="M65.5,17.2 66.2,16.8 67,16.2 67.7,14.9 68.5,12.8 69.2,9.8 69.9,6.4 70.7,3.7 71.4,2.6 72.2,3.7 72.9,6.4 73.7,9.8 74.4,12.8 75.1,14.9 75.9,16.2 76.6,16.8 77.4,17.2Z" fill="url(#g3)"/><path d="M71.4,2.6 71.4,2.6 72.2,3.7 72.9,6.4 73.7,9.8 74.4,12.8 75.1,14.9 75.9,16.2 76.6,16.8 77.4,17.2Z" fill="#002" fill-opacity=".25"/><path d="M154.5,20.4 155.2,19.6 156,17.9 156.7,14.9 157.5,9.7 158.2,2.4 159,-5.9 159.7,-12.7 160.5,-15.3 161.2,-12.7 162,-5.9 162.7,2.4 163.5,9.7 164.2,14.9 164.9,17.9 165.7,19.6 166.4,20.4Z" fill="url(#g14)"/><path d="M160.5,-15.3 160.5,-15.3 161.2,-12.7 162,-5.9 162.7,2.4 163.5,9.7 164.2,14.9 164.9,17.9 165.7,19.6 166.4,20.4Z" fill="#002" fill-opacity=".25"/><path d="M69.2,20.5 69.9,20.2 70.7,19.5 71.4,18.3 72.2,16.1 72.9,13.1 73.7,9.7 74.4,6.9 75.2,5.9 75.9,6.9 76.7,9.7 77.4,13.1 78.2,16.1 78.9,18.3 79.7,19.5 80.4,20.2 81.2,20.5Z" fill="url(#g3)"/><path d="M75.2,5.9 75.2,5.9 75.9,6.9 76.7,9.7 77.4,13.1 78.2,16.1 78.9,18.3 79.7,19.5 80.4,20.2 81.2,20.5Z" fill="#002" fill-opacity=".25"/><path d="M149.9,23.5 150.7,22.7 151.5,21.3 152.2,18.5 153,13.8 153.7,7.1 154.5,-.4 155.2,-6.6 156,-9 156.7,-6.6 157.5,-.4 158.2,7.1 159,13.8 159.8,18.5 160.5,21.3 161.3,22.7 162,23.5Z" fill="url(#g8)"/><path d="M156,-9 156,-9 156.7,-6.6 157.5,-.4 158.2,7.1 159,13.8 159.8,18.5 160.5,21.3 161.3,22.7 162,23.5Z" fill="#002" fill-opacity=".25"/><path d="M73.6,23.6 74.4,23.3 75.1,22.6 75.9,21.4 76.7,19.2 77.4,16.2 78.2,12.7 78.9,9.9 79.7,8.8 80.4,9.9 81.2,12.7 81.9,16.2 82.7,19.2 83.4,21.4 84.2,22.6 85,23.3 85.7,23.6Z" fill="url(#g3)"/><path d="M79.7,8.8 79.7,8.8 80.4,9.9 81.2,12.7 81.9,16.2 82.7,19.2 83.4,21.4 84.2,22.6 85,23.3 85.7,23.6Z" fill="#002" fill-opacity=".25"/><path d="M144.7,26.2 145.5,25.7 146.2,24.5 147,22.4 147.8,18.7 148.5,13.5 149.3,7.6 150,2.9 150.8,1 151.6,2.9 152.3,7.6 153.1,13.5 153.8,18.7 154.6,22.4 155.4,24.5 156.1,25.7 156.9,26.2Z" fill="url(#g15)"/><path d="M150.8,1 150.8,1 151.6,2.9 152.3,7.6 153.1,13.5 153.8,18.7 154.6,22.4 155.4,24.5 156.1,25.7 156.9,26.2Z" fill="#002" fill-opacity=".25"/><path d="M78.8,26.4 79.6,26 80.3,25.4 81.1,24.1 81.8,21.9 82.6,18.9 83.4,15.4 84.1,12.6 84.9,11.5 85.6,12.6 86.4,15.4 87.2,18.9 87.9,21.9 88.7,24.1 89.4,25.4 90.2,26 91,26.4Z" fill="url(#g3)"/><path d="M84.9,11.5 84.9,11.5 85.6,12.6 86.4,15.4 87.2,18.9 87.9,21.9 88.7,24.1 89.4,25.4 90.2,26 91,26.4Z" fill="#002" fill-opacity=".25"/><path d="M138.9,28.6 139.7,28.2 140.4,27.3 141.2,25.6 142,22.8 142.7,18.9 143.5,14.5 144.2,10.8 145,9.4 145.8,10.8 146.5,14.5 147.3,18.9 148.1,22.8 148.8,25.6 149.6,27.3 150.4,28.2 151.1,28.6Z" fill="url(#g4)"/><path d="M145,9.4 145,9.4 145.8,10.8 146.5,14.5 147.3,18.9 148.1,22.8 148.8,25.6 149.6,27.3 150.4,28.2 151.1,28.6Z" fill="#002" fill-opacity=".25"/><path d="M84.6,28.7 85.3,28.4 86.1,27.7 86.9,26.4 87.6,24.2 88.4,21.1 89.2,17.7 89.9,14.8 90.7,13.7 91.5,14.8 92.2,17.7 93,21.1 93.7,24.2 94.5,26.4 95.3,27.7 96,28.4 96.8,28.7Z" fill="url(#g3)"/><path d="M90.7,13.7 90.7,13.7 91.5,14.8 92.2,17.7 93,21.1 93.7,24.2 94.5,26.4 95.3,27.7 96,28.4 96.8,28.7Z" fill="#002" fill-opacity=".25"/><path d="M132.6,30.5 133.3,30.1 134.1,29.4 134.9,28 135.6,25.6 136.4,22.3 137.2,18.5 137.9,15.5 138.7,14.3 139.5,15.5 140.2,18.5 141,22.3 141.8,25.6 142.5,28 143.3,29.4 144.1,30.1 144.8,30.5Z" fill="url(#g3)"/><path d="M138.7,14.3 138.7,14.3 139.5,15.5 140.2,18.5 141,22.3 141.8,25.6 142.5,28 143.3,29.4 144.1,30.1 144.8,30.5Z" fill="#002" fill-opacity=".25"/><path d="M90.9,30.6 91.6,30.2 92.4,29.5 93.2,28.2 93.9,26.1 94.7,23 95.5,19.5 96.2,16.7 97,15.5 97.8,16.7 98.6,19.5 99.3,23 100.1,26.1 100.9,28.2 101.6,29.5 102.4,30.2 103.2,30.6Z" fill="url(#g3)"/><path d="M97,15.5 97,15.5 97.8,16.7 98.6,19.5 99.3,23 100.1,26.1 100.9,28.2 101.6,29.5 102.4,30.2 103.2,30.6Z" fill="#002" fill-opacity=".25"/><path d="M125.8,31.9 126.6,31.5 127.4,30.8 128.1,29.5 128.9,27.3 129.7,24.1 130.4,20.6 131.2,17.7 132,16.6 132.8,17.7 133.5,20.6 134.3,24.1 135.1,27.3 135.8,29.5 136.6,30.8 137.4,31.5 138.2,31.9Z" fill="url(#g3)"/><path d="M132,16.6 132,16.6 132.8,17.7 133.5,20.6 134.3,24.1 135.1,27.3 135.8,29.5 136.6,30.8 137.4,31.5 138.2,31.9Z" fill="#002" fill-opacity=".25"/><path d="M97.6,31.9 98.3,31.6 99.1,30.9 99.9,29.6 100.7,27.4 101.4,24.3 102.2,20.8 103,18 103.7,16.9 104.5,18 105.3,20.8 106.1,24.3 106.8,27.4 107.6,29.6 108.4,30.9 109.1,31.6 109.9,31.9Z" fill="url(#g3)"/><path d="M103.7,16.9 103.7,16.9 104.5,18 105.3,20.8 106.1,24.3 106.8,27.4 107.6,29.6 108.4,30.9 109.1,31.6 109.9,31.9Z" fill="#002" fill-opacity=".25"/><path d="M118.8,32.7 119.6,32.4 120.4,31.7 121.1,30.4 121.9,28.2 122.7,25.1 123.5,21.6 124.2,18.7 125,17.6 125.8,18.7 126.5,21.6 127.3,25.1 128.1,28.2 128.9,30.4 129.6,31.7 130.4,32.4 131.2,32.7Z" fill="url(#g3)"/><path d="M125,17.6 125,17.6 125.8,18.7 126.5,21.6 127.3,25.1 128.1,28.2 128.9,30.4 129.6,31.7 130.4,32.4 131.2,32.7Z" fill="#002" fill-opacity=".25"/><path d="M104.6,32.7 105.3,32.4 106.1,31.7 106.9,30.4 107.6,28.2 108.4,25.1 109.2,21.6 110,18.8 110.7,17.7 111.5,18.8 112.3,21.6 113.1,25.1 113.8,28.2 114.6,30.4 115.4,31.7 116.1,32.4 116.9,32.7Z" fill="url(#g3)"/><path d="M110.7,17.7 110.7,17.7 111.5,18.8 112.3,21.6 113.1,25.1 113.8,28.2 114.6,30.4 115.4,31.7 116.1,32.4 116.9,32.7Z" fill="#002" fill-opacity=".25"/><path d="M111.7,33 112.5,32.7 113.2,32 114,30.7 114.8,28.5 115.6,25.4 116.3,21.9 117.1,19 117.9,17.9 118.6,19 119.4,21.9 120.2,25.4 121,28.5 121.7,30.7 122.5,32 123.3,32.7 124,33Z" fill="url(#g3)"/><path d="M117.9,17.9 117.9,17.9 118.6,19 119.4,21.9 120.2,25.4 121,28.5 121.7,30.7 122.5,32 123.3,32.7 124,33Z" fill="#002" fill-opacity=".25"/></g>
<use href="#dsil" fill="#c8c8d4" fill-opacity="0.3"/>
<use href="#spke" opacity="0.4"/>
<use href="#dhl"/>
<use href="#drim" fill="none" stroke="#b8b8bc" stroke-opacity="0.45" stroke-width="1.6"/>
<path d="M0,0V-60.0" stroke="#000" stroke-width="1.15" fill="none"/>
<path d="M-3,0.0H0" stroke="#000" stroke-width="0.9"/>
<text x="-4.3" y="1.7" text-anchor="end" class="t">0.0</text>
<path d="M-3,-13.3H0" stroke="#000" stroke-width="0.9"/>
<text x="-4.3" y="-11.7" text-anchor="end" class="t">2.5</text>
<path d="M-3,-26.7H0" stroke="#000" stroke-width="0.9"/>
<text x="-4.3" y="-25.0" text-anchor="end" class="t">5.0</text>
<path d="M-3,-40.0H0" stroke="#000" stroke-width="0.9"/>
<text x="-4.3" y="-38.3" text-anchor="end" class="t">7.5</text>
<path d="M-3,-53.4H0" stroke="#000" stroke-width="0.9"/>
<text x="-4.3" y="-51.7" text-anchor="end" class="t">10.0</text>
<path d="M0,0L117.6,81.7L235.6,0" stroke="#000" stroke-width="1.25" fill="none"/>
<path d="M0.0,-0.0L-3.2,1.6" stroke="#000" stroke-width="0.8"/>
<text x="-2.6" y="8.2" text-anchor="end" class="t">1.5</text>
<path d="M235.6,-0.0L238.8,1.6" stroke="#000" stroke-width="0.8"/>
<text x="237.4" y="7.8" class="t">1.5</text>
<path d="M16.8,11.7L13.6,13.4" stroke="#000" stroke-width="0.8"/>
<text x="14.2" y="19.9" text-anchor="end" class="t">1.0</text>
<path d="M218.7,11.7L221.9,13.4" stroke="#000" stroke-width="0.8"/>
<text x="220.5" y="19.5" class="t">1.0</text>
<path d="M34.7,24.1L31.4,25.9" stroke="#000" stroke-width="0.8"/>
<text x="32.1" y="32.3" text-anchor="end" class="t">0.5</text>
<path d="M200.8,24.1L204.1,25.9" stroke="#000" stroke-width="0.8"/>
<text x="202.6" y="31.9" class="t">0.5</text>
<path d="M53.5,37.2L50.3,39.1" stroke="#000" stroke-width="0.8"/>
<text x="50.9" y="45.4" text-anchor="end" class="t">0.0</text>
<path d="M181.8,37.2L185.1,39.1" stroke="#000" stroke-width="0.8"/>
<text x="183.6" y="45.0" class="t">0.0</text>
<path d="M73.6,51.1L70.3,53.1" stroke="#000" stroke-width="0.8"/>
<text x="71.0" y="59.3" text-anchor="end" class="t">-0.5</text>
<path d="M161.7,51.1L165.0,53.2" stroke="#000" stroke-width="0.8"/>
<text x="163.5" y="58.9" class="t">-0.5</text>
<path d="M94.9,65.9L91.6,68.1" stroke="#000" stroke-width="0.8"/>
<text x="92.3" y="74.1" text-anchor="end" class="t">-1.0</text>
<path d="M140.4,65.9L143.7,68.1" stroke="#000" stroke-width="0.8"/>
<text x="142.2" y="73.7" class="t">-1.0</text>
<path d="M117.6,81.7L114.3,84.0" stroke="#000" stroke-width="0.8"/>
<text x="115.0" y="89.9" text-anchor="end" class="t">-1.5</text>
<path d="M117.6,81.7L120.9,84.0" stroke="#000" stroke-width="0.8"/>
<text x="119.4" y="89.5" class="t">-1.5</text>
<text x="25.6" y="54.5" class="ax">z/a</text>
<text x="194.7" y="54.9" class="ax">y/a</text>
</g>
<g transform="translate(578.5,307.2)">
<path d="M0,0L117.8,-56.4L235.6,0L117.6,81.7Z" fill="#0a1ef5"/>
<use href="#yl" fill="none" stroke="#000890" stroke-opacity="0.18" stroke-width="1.6" filter="url(#bl2)"/>
<use href="#eb1" fill="none" stroke="#000880" stroke-opacity="0.45" stroke-width="2" filter="url(#bl)"/>
<use href="#eb2" fill="none" stroke="#4070ff" stroke-opacity="0.35" stroke-width="1.4" filter="url(#bl)"/>
<path d="M119,79.2L232,1.2" fill="none" stroke="#70b0ff" stroke-opacity="0.55" stroke-width="2" filter="url(#bl)"/>
<g clip-path="url(#outdome)">
<path d="M46.6,-23.3 48.7,-24.5 50.8,-26 53,-27.8 55.1,-30.2 57.1,-32.9 59.2,-35.8 61.3,-38.3 63.3,-39.9 65.4,-40.3 67.4,-39.8 69.4,-39 71.5,-38.3 73.5,-38 75.4,-38.2 77.4,-38.8 79.4,-39.7 79.4,-39.6 77.4,-38.6 75.4,-37.6 73.5,-36.6 71.5,-35.6 69.4,-34.6 67.4,-33.6 65.4,-32.6 63.3,-31.6 61.3,-30.5 59.2,-29.5 57.1,-28.5 55.1,-27.4 53,-26.4 50.8,-25.3 48.7,-24.3 46.6,-23.2Z" fill="url(#rgf)" stroke="url(#rgf)" stroke-width=".6"/>
<path d="M47.6,-22.7 49.8,-23.9 51.9,-25.4 54,-27.3 56.1,-29.7 58.2,-32.5 60.3,-35.6 62.3,-38.1 64.4,-39.7 66.4,-40.1 68.5,-39.6 70.5,-38.6 72.5,-37.8 74.5,-37.5 76.5,-37.7 78.5,-38.3 80.5,-39.1 80.5,-39 78.5,-38 76.5,-37 74.5,-36 72.5,-35 70.5,-34 68.5,-33 66.4,-32 64.4,-30.9 62.3,-29.9 60.3,-28.9 58.2,-27.8 56.1,-26.8 54,-25.8 51.9,-24.7 49.8,-23.6 47.6,-22.6Z" fill="url(#rgf)" stroke="url(#rgf)" stroke-width=".6"/>
<path d="M48.7,-22 50.8,-23.3 53,-24.8 55.1,-26.7 57.2,-29.2 59.3,-32.2 61.3,-35.3 63.4,-37.9 65.5,-39.6 67.5,-40 69.6,-39.3 71.6,-38.3 73.6,-37.4 75.6,-37 77.6,-37.1 79.6,-37.7 81.5,-38.5 81.5,-38.4 79.6,-37.4 77.6,-36.4 75.6,-35.4 73.6,-34.4 71.6,-33.4 69.6,-32.4 67.5,-31.3 65.5,-30.3 63.4,-29.3 61.3,-28.3 59.3,-27.2 57.2,-26.2 55.1,-25.1 53,-24.1 50.8,-23 48.7,-21.9Z" fill="url(#rgf)" stroke="url(#rgf)" stroke-width=".6"/>
<path d="M49.8,-21.4 51.9,-22.7 54,-24.2 56.2,-26.2 58.3,-28.7 60.3,-31.8 62.4,-35 64.5,-37.8 66.5,-39.4 68.6,-39.8 70.6,-39.1 72.7,-37.9 74.7,-36.9 76.7,-36.4 78.7,-36.6 80.6,-37.1 82.6,-37.9 82.6,-37.8 80.6,-36.8 78.7,-35.8 76.7,-34.8 74.7,-33.8 72.7,-32.8 70.6,-31.8 68.6,-30.7 66.5,-29.7 64.5,-28.7 62.4,-27.6 60.3,-26.6 58.3,-25.5 56.2,-24.5 54,-23.4 51.9,-22.3 49.8,-21.3Z" fill="url(#rgf)" stroke="url(#rgf)" stroke-width=".6"/>
<path d="M50.9,-20.7 53,-22 55.1,-23.6 57.2,-25.6 59.3,-28.2 61.4,-31.4 63.5,-34.7 65.6,-37.6 67.6,-39.3 69.7,-39.6 71.7,-38.8 73.7,-37.5 75.7,-36.4 77.7,-35.9 79.7,-36 81.7,-36.5 83.7,-37.3 83.7,-37.2 81.7,-36.2 79.7,-35.2 77.7,-34.2 75.7,-33.2 73.7,-32.2 71.7,-31.1 69.7,-30.1 67.6,-29.1 65.6,-28 63.5,-27 61.4,-25.9 59.3,-24.9 57.2,-23.8 55.1,-22.8 53,-21.7 50.9,-20.6Z" fill="url(#rgf)" stroke="url(#rgf)" stroke-width=".6"/>
<path d="M51.9,-20.1 54.1,-21.4 56.2,-23 58.3,-25.1 60.4,-27.8 62.5,-31 64.6,-34.5 66.6,-37.4 68.7,-39.1 70.7,-39.4 72.8,-38.5 74.8,-37.2 76.8,-36 78.8,-35.4 80.8,-35.4 82.8,-35.9 84.8,-36.7 84.8,-36.6 82.8,-35.6 80.8,-34.6 78.8,-33.6 76.8,-32.6 74.8,-31.5 72.8,-30.5 70.7,-29.5 68.7,-28.4 66.6,-27.4 64.6,-26.4 62.5,-25.3 60.4,-24.3 58.3,-23.2 56.2,-22.1 54.1,-21 51.9,-20Z" fill="url(#rgf)" stroke="url(#rgf)" stroke-width=".6"/>
<path d="M53,-19.4 55.1,-20.8 57.3,-22.4 59.4,-24.5 61.5,-27.3 63.6,-30.6 65.7,-34.2 67.7,-37.2 69.8,-39 71.8,-39.2 73.9,-38.3 75.9,-36.8 77.9,-35.5 79.9,-34.9 81.9,-34.8 83.9,-35.3 85.9,-36.1 85.9,-36 83.9,-35 81.9,-34 79.9,-33 77.9,-31.9 75.9,-30.9 73.9,-29.9 71.8,-28.9 69.8,-27.8 67.7,-26.8 65.7,-25.7 63.6,-24.7 61.5,-23.6 59.4,-22.5 57.3,-21.5 55.1,-20.4 53,-19.3Z" fill="url(#rgf)" stroke="url(#rgf)" stroke-width=".6"/>
<path d="M54.1,-18.8 56.2,-20.1 58.4,-21.8 60.5,-23.9 62.6,-26.8 64.7,-30.3 66.7,-33.9 68.8,-37 70.9,-38.8 72.9,-39.1 75,-38 77,-36.4 79,-35.1 81,-34.3 83,-34.3 85,-34.7 87,-35.5 87,-35.4 85,-34.4 83,-33.4 81,-32.3 79,-31.3 77,-30.3 75,-29.3 72.9,-28.2 70.9,-27.2 68.8,-26.1 66.7,-25.1 64.7,-24 62.6,-23 60.5,-21.9 58.4,-20.8 56.2,-19.7 54.1,-18.6Z" fill="url(#rgf)" stroke="url(#rgf)" stroke-width=".6"/>
<path d="M55.2,-18.1 57.3,-19.5 59.4,-21.1 61.6,-23.4 63.7,-26.3 65.8,-29.9 67.8,-33.7 69.9,-36.8 72,-38.7 74,-38.9 76,-37.7 78.1,-36.1 80.1,-34.6 82.1,-33.8 84.1,-33.7 86.1,-34.1 88,-34.9 88,-34.8 86.1,-33.8 84.1,-32.7 82.1,-31.7 80.1,-30.7 78.1,-29.7 76,-28.6 74,-27.6 72,-26.6 69.9,-25.5 67.8,-24.4 65.8,-23.4 63.7,-22.3 61.6,-21.2 59.4,-20.2 57.3,-19.1 55.2,-18Z" fill="url(#rgf)" stroke="url(#rgf)" stroke-width=".6"/>
<path d="M56.3,-17.5 58.4,-18.8 60.5,-20.5 62.6,-22.8 64.8,-25.8 66.8,-29.5 68.9,-33.4 71,-36.7 73.1,-38.5 75.1,-38.7 77.1,-37.5 79.2,-35.7 81.2,-34.1 83.2,-33.3 85.2,-33.1 87.2,-33.5 89.1,-34.3 89.1,-34.2 87.2,-33.1 85.2,-32.1 83.2,-31.1 81.2,-30.1 79.2,-29.1 77.1,-28 75.1,-27 73.1,-25.9 71,-24.9 68.9,-23.8 66.8,-22.7 64.8,-21.7 62.6,-20.6 60.5,-19.5 58.4,-18.4 56.3,-17.3Z" fill="url(#rgf)" stroke="url(#rgf)" stroke-width=".6"/>
<path d="M57.4,-16.8 59.5,-18.2 61.6,-19.9 63.7,-22.2 65.8,-25.3 67.9,-29.1 70,-33.1 72.1,-36.5 74.2,-38.4 76.2,-38.5 78.2,-37.2 80.3,-35.3 82.3,-33.7 84.3,-32.7 86.3,-32.5 88.3,-32.9 90.2,-33.7 90.2,-33.5 88.3,-32.5 86.3,-31.5 84.3,-30.5 82.3,-29.5 80.3,-28.4 78.2,-27.4 76.2,-26.3 74.2,-25.3 72.1,-24.2 70,-23.2 67.9,-22.1 65.8,-21 63.7,-19.9 61.6,-18.9 59.5,-17.8 57.4,-16.7Z" fill="url(#rgf)" stroke="url(#rgf)" stroke-width=".6"/>
<path d="M58.5,-16.1 60.6,-17.5 62.7,-19.3 64.8,-21.7 66.9,-24.8 69,-28.7 71.1,-32.8 73.2,-36.3 75.3,-38.2 77.3,-38.3 79.3,-36.9 81.4,-34.9 83.4,-33.2 85.4,-32.2 87.4,-32 89.4,-32.3 91.3,-33.1 91.3,-32.9 89.4,-31.9 87.4,-30.9 85.4,-29.9 83.4,-28.8 81.4,-27.8 79.3,-26.8 77.3,-25.7 75.3,-24.6 73.2,-23.6 71.1,-22.5 69,-21.4 66.9,-20.4 64.8,-19.3 62.7,-18.2 60.6,-17.1 58.5,-16Z" fill="url(#rgf)" stroke="url(#rgf)" stroke-width=".6"/>
<path d="M59.6,-15.5 61.7,-16.9 63.8,-18.7 65.9,-21.1 68,-24.3 70.1,-28.3 72.2,-32.5 74.3,-36.1 76.4,-38.1 78.4,-38.1 80.4,-36.7 82.5,-34.6 84.5,-32.7 86.5,-31.6 88.5,-31.4 90.5,-31.7 92.5,-32.5 92.5,-32.3 90.5,-31.3 88.5,-30.3 86.5,-29.2 84.5,-28.2 82.5,-27.2 80.4,-26.1 78.4,-25.1 76.4,-24 74.3,-22.9 72.2,-21.9 70.1,-20.8 68,-19.7 65.9,-18.6 63.8,-17.5 61.7,-16.4 59.6,-15.3Z" fill="url(#rgf)" stroke="url(#rgf)" stroke-width=".6"/>
<path d="M60.7,-14.8 62.8,-16.2 64.9,-18 67,-20.5 69.2,-23.8 71.2,-27.9 73.3,-32.3 75.4,-35.9 77.5,-37.9 79.5,-38 81.6,-36.4 83.6,-34.2 85.6,-32.3 87.6,-31.1 89.6,-30.8 91.6,-31.1 93.6,-31.9 93.6,-31.7 91.6,-30.7 89.6,-29.7 87.6,-28.6 85.6,-27.6 83.6,-26.5 81.6,-25.5 79.5,-24.4 77.5,-23.4 75.4,-22.3 73.3,-21.2 71.2,-20.1 69.2,-19.1 67,-18 64.9,-16.9 62.8,-15.8 60.7,-14.7Z" fill="url(#rgf)" stroke="url(#rgf)" stroke-width=".6"/>
<path d="M61.8,-14.1 63.9,-15.6 66,-17.4 68.2,-19.9 70.3,-23.3 72.4,-27.5 74.4,-32 76.5,-35.7 78.6,-37.8 80.6,-37.8 82.7,-36.1 84.7,-33.8 86.7,-31.8 88.7,-30.5 90.7,-30.2 92.7,-30.5 94.7,-31.3 94.7,-31.1 92.7,-30.1 90.7,-29 88.7,-28 86.7,-26.9 84.7,-25.9 82.7,-24.8 80.6,-23.8 78.6,-22.7 76.5,-21.6 74.4,-20.6 72.4,-19.5 70.3,-18.4 68.2,-17.3 66,-16.2 63.9,-15.1 61.8,-14Z" fill="url(#rgf)" stroke="url(#rgf)" stroke-width=".6"/>
<path d="M62.9,-13.5 65,-14.9 67.2,-16.8 69.3,-19.3 71.4,-22.7 73.5,-26.9 75.6,-31.4 77.6,-35.2 79.7,-37.2 81.7,-37.2 83.8,-35.6 85.8,-33.2 87.8,-31.2 89.8,-29.9 91.8,-29.6 93.8,-29.9 95.8,-30.6 95.8,-30.5 93.8,-29.4 91.8,-28.4 89.8,-27.4 87.8,-26.3 85.8,-25.3 83.8,-24.2 81.7,-23.1 79.7,-22.1 77.6,-21 75.6,-19.9 73.5,-18.8 71.4,-17.7 69.3,-16.6 67.2,-15.5 65,-14.4 62.9,-13.3Z" fill="url(#rgf)" stroke="url(#rgf)" stroke-width=".6"/>
<path d="M64,-12.8 66.1,-14.2 68.3,-16.1 70.4,-18.6 72.5,-22 74.6,-26.3 76.7,-30.8 78.8,-34.5 80.8,-36.6 82.9,-36.6 84.9,-35 86.9,-32.6 89,-30.6 91,-29.3 93,-29 94.9,-29.3 96.9,-30 96.9,-29.8 94.9,-28.8 93,-27.8 91,-26.7 89,-25.7 86.9,-24.6 84.9,-23.6 82.9,-22.5 80.8,-21.4 78.8,-20.3 76.7,-19.3 74.6,-18.2 72.5,-17.1 70.4,-16 68.3,-14.9 66.1,-13.7 64,-12.6Z" fill="url(#rgf)" stroke="url(#rgf)" stroke-width=".6"/>
<path d="M65.1,-12.1 67.3,-13.6 69.4,-15.4 71.5,-18 73.6,-21.4 75.7,-25.6 77.8,-30.1 79.9,-33.9 81.9,-36 84,-36 86,-34.3 88.1,-32 90.1,-29.9 92.1,-28.7 94.1,-28.3 96.1,-28.7 98,-29.4 98,-29.2 96.1,-28.2 94.1,-27.1 92.1,-26.1 90.1,-25 88.1,-24 86,-22.9 84,-21.8 81.9,-20.8 79.9,-19.7 77.8,-18.6 75.7,-17.5 73.6,-16.4 71.5,-15.3 69.4,-14.2 67.3,-13.1 65.1,-11.9Z" fill="url(#rgf)" stroke="url(#rgf)" stroke-width=".6"/>
</g>
<use href="#dsil" fill="#c4c4ca" fill-opacity="0.47"/>
<use href="#dbase" fill="#0a1ef5"/>
<use href="#ilines" fill="none" stroke="#0818a0" stroke-opacity="0.5" stroke-width="2.6" filter="url(#bl2)"/>
<use href="#ilines2" fill="none" stroke="#90b0ff" stroke-opacity="0.4" stroke-width="2" filter="url(#bl2)"/>
<ellipse cx="90.0" cy="-13.9" rx="36" ry="15" transform="rotate(30 90.0 -13.9)" fill="url(#gtint)" opacity="0.85"/>
<use href="#dsil" fill="#c8c8d4" fill-opacity="0.3"/>
<use href="#dhl"/>
<use href="#drim" fill="none" stroke="#b8b8bc" stroke-opacity="0.45" stroke-width="1.6"/>
<path d="M0,0V-60.0" stroke="#000" stroke-width="1.15" fill="none"/>
<path d="M-3,0.0H0" stroke="#000" stroke-width="0.9"/>
<text x="-4.3" y="1.7" text-anchor="end" class="t">0.0</text>
<path d="M-3,-13.3H0" stroke="#000" stroke-width="0.9"/>
<text x="-4.3" y="-11.7" text-anchor="end" class="t">2.5</text>
<path d="M-3,-26.7H0" stroke="#000" stroke-width="0.9"/>
<text x="-4.3" y="-25.0" text-anchor="end" class="t">5.0</text>
<path d="M-3,-40.0H0" stroke="#000" stroke-width="0.9"/>
<text x="-4.3" y="-38.3" text-anchor="end" class="t">7.5</text>
<path d="M-3,-53.4H0" stroke="#000" stroke-width="0.9"/>
<text x="-4.3" y="-51.7" text-anchor="end" class="t">10.0</text>
<path d="M0,0L117.6,81.7L235.6,0" stroke="#000" stroke-width="1.25" fill="none"/>
<path d="M0.0,-0.0L-3.2,1.6" stroke="#000" stroke-width="0.8"/>
<text x="-2.6" y="8.2" text-anchor="end" class="t">1.5</text>
<path d="M235.6,-0.0L238.8,1.6" stroke="#000" stroke-width="0.8"/>
<text x="237.4" y="7.8" class="t">1.5</text>
<path d="M16.8,11.7L13.6,13.4" stroke="#000" stroke-width="0.8"/>
<text x="14.2" y="19.9" text-anchor="end" class="t">1.0</text>
<path d="M218.7,11.7L221.9,13.4" stroke="#000" stroke-width="0.8"/>
<text x="220.5" y="19.5" class="t">1.0</text>
<path d="M34.7,24.1L31.4,25.9" stroke="#000" stroke-width="0.8"/>
<text x="32.1" y="32.3" text-anchor="end" class="t">0.5</text>
<path d="M200.8,24.1L204.1,25.9" stroke="#000" stroke-width="0.8"/>
<text x="202.6" y="31.9" class="t">0.5</text>
<path d="M53.5,37.2L50.3,39.1" stroke="#000" stroke-width="0.8"/>
<text x="50.9" y="45.4" text-anchor="end" class="t">0.0</text>
<path d="M181.8,37.2L185.1,39.1" stroke="#000" stroke-width="0.8"/>
<text x="183.6" y="45.0" class="t">0.0</text>
<path d="M73.6,51.1L70.3,53.1" stroke="#000" stroke-width="0.8"/>
<text x="71.0" y="59.3" text-anchor="end" class="t">-0.5</text>
<path d="M161.7,51.1L165.0,53.2" stroke="#000" stroke-width="0.8"/>
<text x="163.5" y="58.9" class="t">-0.5</text>
<path d="M94.9,65.9L91.6,68.1" stroke="#000" stroke-width="0.8"/>
<text x="92.3" y="74.1" text-anchor="end" class="t">-1.0</text>
<path d="M140.4,65.9L143.7,68.1" stroke="#000" stroke-width="0.8"/>
<text x="142.2" y="73.7" class="t">-1.0</text>
<path d="M117.6,81.7L114.3,84.0" stroke="#000" stroke-width="0.8"/>
<text x="115.0" y="89.9" text-anchor="end" class="t">-1.5</text>
<path d="M117.6,81.7L120.9,84.0" stroke="#000" stroke-width="0.8"/>
<text x="119.4" y="89.5" class="t">-1.5</text>
<text x="25.6" y="54.5" class="ax">z/a</text>
<text x="194.7" y="54.9" class="ax">y/a</text>
</g>
<text x="13.2" y="7.9" class="ti" font-size="11.3">Plane wave</text>
<text x="13.6" y="209.6" class="ti" font-size="11.3">Bessel beam</text>
<text x="12.9" y="25.7" class="ti" letter-spacing="-0.3">(a) TE</text><text x="41.50" y="20.40" font-size="8.6">1</text><text x="41.10" y="28.60" font-size="8.6" letter-spacing="-0.2">19</text>
<text x="286.05" y="25.7" class="ti" letter-spacing="-0.3">(b) TE</text><text x="314.65" y="20.40" font-size="8.6">1</text><text x="314.25" y="28.60" font-size="8.6" letter-spacing="-0.2">25</text>
<text x="559.2" y="25.7" class="ti">(c) non-resonant</text>
<text x="12.9" y="227.8" class="ti" letter-spacing="-0.3">(d) TE</text><text x="41.50" y="222.50" font-size="8.6">1</text><text x="41.10" y="230.70" font-size="8.6" letter-spacing="-0.2">19</text>
<text x="286.05" y="227.8" class="ti" letter-spacing="-0.3">(e) TE</text><text x="314.65" y="222.50" font-size="8.6">1</text><text x="314.25" y="230.70" font-size="8.6" letter-spacing="-0.2">25</text>
<text x="559.2" y="227.8" class="ti">(f) non-resonant</text>
</svg></body></html>
